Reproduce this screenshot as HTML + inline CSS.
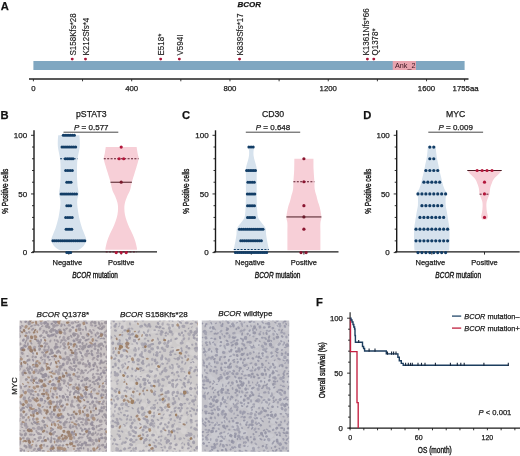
<!DOCTYPE html>
<html><head><meta charset="utf-8"><style>
html,body{margin:0;padding:0;background:#fff;}
svg{display:block;filter:blur(0.35px);}
text{font-family:"Liberation Sans", sans-serif;stroke:#1a1a1a;stroke-width:0.25px;}
</style></head><body>
<svg width="520" height="456" viewBox="0 0 520 456" font-family='"Liberation Sans", sans-serif' fill="#111">
<text x="0.8" y="9.8" font-size="11.2" font-weight="bold">A</text>
<text x="237.5" y="7.3" font-size="8" font-weight="bold" font-style="italic">BCOR</text>
<rect x="33.40" y="61" width="431.20" height="9" fill="#80a7c1"/>
<rect x="392.7" y="61" width="23.3" height="9" fill="#e9a3ae"/>
<text x="395" y="68.3" font-size="7.2" fill="#3a1420" style="stroke:none">Ank_2</text>
<line x1="29" y1="79" x2="468.5" y2="79" stroke="#222" stroke-width="1.35"/>
<line x1="33.40" y1="79" x2="33.40" y2="81.3" stroke="#222" stroke-width="0.9"/>
<line x1="82.54" y1="79" x2="82.54" y2="81.3" stroke="#222" stroke-width="0.9"/>
<line x1="131.68" y1="79" x2="131.68" y2="81.3" stroke="#222" stroke-width="0.9"/>
<line x1="180.82" y1="79" x2="180.82" y2="81.3" stroke="#222" stroke-width="0.9"/>
<line x1="229.96" y1="79" x2="229.96" y2="81.3" stroke="#222" stroke-width="0.9"/>
<line x1="279.10" y1="79" x2="279.10" y2="81.3" stroke="#222" stroke-width="0.9"/>
<line x1="328.24" y1="79" x2="328.24" y2="81.3" stroke="#222" stroke-width="0.9"/>
<line x1="377.38" y1="79" x2="377.38" y2="81.3" stroke="#222" stroke-width="0.9"/>
<line x1="426.52" y1="79" x2="426.52" y2="81.3" stroke="#222" stroke-width="0.9"/>
<line x1="464.60" y1="79" x2="464.60" y2="81.3" stroke="#222" stroke-width="0.9"/>
<text x="33.40" y="90.8" font-size="7.8" text-anchor="middle" fill="#222">0</text>
<text x="131.68" y="90.8" font-size="7.8" text-anchor="middle" fill="#222">400</text>
<text x="229.96" y="90.8" font-size="7.8" text-anchor="middle" fill="#222">800</text>
<text x="328.24" y="90.8" font-size="7.8" text-anchor="middle" fill="#222">1200</text>
<text x="426.52" y="90.8" font-size="7.8" text-anchor="middle" fill="#222">1600</text>
<text x="452.6" y="90.8" font-size="7.8" fill="#222">1755aa</text>
<circle cx="72.22" cy="59.1" r="1.45" fill="#a8173a"/>
<text transform="translate(75.82,55.5) rotate(-90) scale(1,1.12)" font-size="8" fill="#1a1a1a" style="stroke-width:0.12px">S158Kfs*28</text>
<circle cx="85.49" cy="59.1" r="1.45" fill="#a8173a"/>
<text transform="translate(89.09,55.5) rotate(-90) scale(1,1.12)" font-size="8" fill="#1a1a1a" style="stroke-width:0.12px">K212Sfs*4</text>
<circle cx="160.67" cy="59.1" r="1.45" fill="#a8173a"/>
<text transform="translate(164.27,55.5) rotate(-90) scale(1,1.12)" font-size="8" fill="#1a1a1a" style="stroke-width:0.12px">E518*</text>
<circle cx="179.35" cy="59.1" r="1.45" fill="#a8173a"/>
<text transform="translate(182.95,55.5) rotate(-90) scale(1,1.12)" font-size="8" fill="#1a1a1a" style="stroke-width:0.12px">V594I</text>
<circle cx="239.54" cy="59.1" r="1.45" fill="#a8173a"/>
<text transform="translate(243.14,55.5) rotate(-90) scale(1,1.12)" font-size="8" fill="#1a1a1a" style="stroke-width:0.12px">K839Sfs*17</text>
<circle cx="367.40" cy="59.1" r="1.45" fill="#a8173a"/>
<text transform="translate(369.10,55.5) rotate(-90) scale(1,1.12)" font-size="8" fill="#1a1a1a" style="stroke-width:0.12px">K1361Nfs*66</text>
<circle cx="373.80" cy="59.1" r="1.45" fill="#a8173a"/>
<text transform="translate(378.00,55.5) rotate(-90) scale(1,1.12)" font-size="8" fill="#1a1a1a" style="stroke-width:0.12px">Q1378*</text>
<text x="0.50" y="119.1" font-size="11.2" font-weight="bold">B</text>
<line x1="34.00" y1="130.3" x2="34.00" y2="252.00" stroke="#1a1a1a" stroke-width="1.4"/>
<line x1="31.00" y1="252.60" x2="34.00" y2="252.60" stroke="#1a1a1a" stroke-width="0.9"/>
<line x1="32.00" y1="240.87" x2="34.00" y2="240.87" stroke="#1a1a1a" stroke-width="0.9"/>
<line x1="32.00" y1="229.14" x2="34.00" y2="229.14" stroke="#1a1a1a" stroke-width="0.9"/>
<line x1="32.00" y1="217.41" x2="34.00" y2="217.41" stroke="#1a1a1a" stroke-width="0.9"/>
<line x1="32.00" y1="205.68" x2="34.00" y2="205.68" stroke="#1a1a1a" stroke-width="0.9"/>
<line x1="31.00" y1="193.95" x2="34.00" y2="193.95" stroke="#1a1a1a" stroke-width="0.9"/>
<line x1="32.00" y1="182.22" x2="34.00" y2="182.22" stroke="#1a1a1a" stroke-width="0.9"/>
<line x1="32.00" y1="170.49" x2="34.00" y2="170.49" stroke="#1a1a1a" stroke-width="0.9"/>
<line x1="32.00" y1="158.76" x2="34.00" y2="158.76" stroke="#1a1a1a" stroke-width="0.9"/>
<line x1="32.00" y1="147.03" x2="34.00" y2="147.03" stroke="#1a1a1a" stroke-width="0.9"/>
<line x1="31.00" y1="135.30" x2="34.00" y2="135.30" stroke="#1a1a1a" stroke-width="0.9"/>
<text x="27.10" y="255.30" font-size="8" text-anchor="end" fill="#1a1a1a">0</text>
<text x="27.10" y="196.65" font-size="8" text-anchor="end" fill="#1a1a1a">50</text>
<text x="27.10" y="138.00" font-size="8" text-anchor="end" fill="#1a1a1a">100</text>
<text transform="translate(7.90,191.2) rotate(-90)" font-size="9" style="stroke-width:0.4px" text-anchor="middle" textLength="45" lengthAdjust="spacingAndGlyphs" fill="#1a1a1a">% Positive cells</text>
<line x1="32.20" y1="251.90" x2="157.00" y2="251.90" stroke="#1a1a1a" stroke-width="1.4"/>
<line x1="68.80" y1="251.90" x2="68.80" y2="254.60" stroke="#1a1a1a" stroke-width="0.9"/>
<line x1="121.20" y1="251.90" x2="121.20" y2="254.60" stroke="#1a1a1a" stroke-width="0.9"/>
<text x="67.30" y="264.6" font-size="7.5" text-anchor="middle" fill="#222">Negative</text>
<text x="121.20" y="264.6" font-size="7.5" text-anchor="middle" fill="#222">Positive</text>
<text x="72.20" y="277.8" font-size="8.9" style="stroke-width:0.4px" textLength="45.7" lengthAdjust="spacingAndGlyphs" fill="#1a1a1a"><tspan font-style="italic">BCOR</tspan> mutation</text>
<text x="91.30" y="117.4" font-size="8.7" text-anchor="middle" fill="#1a1a1a">pSTAT3</text>
<text x="91.30" y="130.1" font-size="8" text-anchor="middle" fill="#1a1a1a"><tspan font-style="italic">P</tspan> = 0.577</text>
<line x1="63.50" y1="132.2" x2="118.30" y2="132.2" stroke="#333" stroke-width="0.9"/>
<path d="M58.20,135.30 L79.40,135.30 C79.47,136.28 79.75,139.21 79.80,141.16 C79.85,143.12 79.90,145.07 79.70,147.03 C79.50,148.98 78.97,150.94 78.60,152.89 C78.23,154.85 77.75,156.80 77.50,158.76 C77.25,160.72 77.18,162.67 77.10,164.62 C77.02,166.58 77.02,168.54 77.00,170.49 C76.98,172.44 76.95,174.40 77.00,176.35 C77.05,178.31 77.18,180.46 77.30,182.22 C77.42,183.98 77.48,185.00 77.70,186.91 C77.92,188.83 78.67,191.60 78.60,193.72 C78.53,195.83 77.52,197.72 77.30,199.58 C77.08,201.44 77.13,202.96 77.25,204.86 C77.37,206.76 77.70,208.91 78.00,210.96 C78.30,213.01 78.62,215.12 79.05,217.18 C79.48,219.23 80.07,221.36 80.60,223.27 C81.13,225.19 81.62,226.89 82.25,228.67 C82.88,230.45 83.72,232.09 84.40,233.95 C85.07,235.81 86.30,238.00 86.30,239.81 C86.30,241.63 85.21,243.51 84.40,244.86 C83.59,246.21 82.63,247.00 81.45,247.91 C80.27,248.81 77.99,249.90 77.30,250.30 L60.30,250.30 C59.61,249.90 57.33,248.81 56.15,247.91 C54.97,247.00 54.01,246.21 53.20,244.86 C52.39,243.51 51.30,241.63 51.30,239.81 C51.30,238.00 52.52,235.81 53.20,233.95 C53.87,232.09 54.72,230.45 55.35,228.67 C55.98,226.89 56.47,225.19 57.00,223.27 C57.53,221.36 58.12,219.23 58.55,217.18 C58.98,215.12 59.30,213.01 59.60,210.96 C59.90,208.91 60.23,206.76 60.35,204.86 C60.47,202.96 60.52,201.44 60.30,199.58 C60.07,197.72 59.07,195.83 59.00,193.72 C58.93,191.60 59.68,188.83 59.90,186.91 C60.12,185.00 60.18,183.98 60.30,182.22 C60.42,180.46 60.55,178.31 60.60,176.35 C60.65,174.40 60.62,172.44 60.60,170.49 C60.58,168.54 60.58,166.58 60.50,164.62 C60.42,162.67 60.35,160.72 60.10,158.76 C59.85,156.80 59.37,154.85 59.00,152.89 C58.63,150.94 58.10,148.98 57.90,147.03 C57.70,145.07 57.75,143.12 57.80,141.16 C57.85,139.21 58.13,136.28 58.20,135.30 Z" fill="#d6e2ed"/>
<path d="M105.75,147.03 L136.65,147.03 C136.81,148.07 137.28,151.29 137.60,153.25 C137.92,155.20 138.75,156.59 138.60,158.76 C138.45,160.93 137.35,163.92 136.70,166.27 C136.05,168.61 135.50,170.18 134.70,172.84 C133.90,175.49 132.67,179.37 131.90,182.22 C131.13,185.07 130.88,187.62 130.10,189.96 C129.32,192.31 128.06,194.15 127.20,196.30 C126.34,198.45 125.42,200.89 124.95,202.86 C124.48,204.84 124.35,206.17 124.35,208.14 C124.35,210.12 124.54,212.52 124.95,214.71 C125.36,216.90 126.06,219.09 126.80,221.28 C127.54,223.47 128.42,225.64 129.40,227.85 C130.38,230.06 131.73,232.35 132.70,234.54 C133.67,236.73 134.52,238.82 135.20,240.99 C135.88,243.16 136.50,246.09 136.80,247.56 C137.10,249.02 136.97,249.43 137.00,249.80 L105.40,249.80 C105.43,249.43 105.30,249.02 105.60,247.56 C105.90,246.09 106.52,243.16 107.20,240.99 C107.88,238.82 108.73,236.73 109.70,234.54 C110.67,232.35 112.02,230.06 113.00,227.85 C113.98,225.64 114.86,223.47 115.60,221.28 C116.34,219.09 117.04,216.90 117.45,214.71 C117.86,212.52 118.05,210.12 118.05,208.14 C118.05,206.17 117.92,204.84 117.45,202.86 C116.98,200.89 116.06,198.45 115.20,196.30 C114.34,194.15 113.08,192.31 112.30,189.96 C111.52,187.62 111.27,185.07 110.50,182.22 C109.73,179.37 108.50,175.49 107.70,172.84 C106.90,170.18 106.35,168.61 105.70,166.27 C105.05,163.92 103.95,160.93 103.80,158.76 C103.65,156.59 104.48,155.20 104.80,153.25 C105.13,151.29 105.59,148.07 105.75,147.03 Z" fill="#f7cfd7"/>
<line x1="60.10" y1="158.76" x2="77.50" y2="158.76" stroke="#123d66" stroke-width="1.0" stroke-dasharray="2,1.4"/>
<line x1="103.80" y1="158.76" x2="138.60" y2="158.76" stroke="#5a1a2a" stroke-width="1.0" stroke-dasharray="2,1.4"/>
<line x1="110.50" y1="182.22" x2="131.90" y2="182.22" stroke="#4a1a22" stroke-width="1.0"/>
<line x1="105.70" y1="251.90" x2="136.70" y2="251.90" stroke="#5a1a2a" stroke-width="1.0" stroke-dasharray="2,1.4"/>
<circle cx="63.30" cy="135.30" r="1.5" fill="#123d66"/>
<circle cx="65.15" cy="135.30" r="1.5" fill="#123d66"/>
<circle cx="67.00" cy="135.30" r="1.5" fill="#123d66"/>
<circle cx="68.85" cy="135.30" r="1.5" fill="#123d66"/>
<circle cx="70.70" cy="135.30" r="1.5" fill="#123d66"/>
<circle cx="72.55" cy="135.30" r="1.5" fill="#123d66"/>
<circle cx="74.40" cy="135.30" r="1.5" fill="#123d66"/>
<circle cx="62.00" cy="147.03" r="1.5" fill="#123d66"/>
<circle cx="63.96" cy="147.03" r="1.5" fill="#123d66"/>
<circle cx="65.91" cy="147.03" r="1.5" fill="#123d66"/>
<circle cx="67.87" cy="147.03" r="1.5" fill="#123d66"/>
<circle cx="69.83" cy="147.03" r="1.5" fill="#123d66"/>
<circle cx="71.79" cy="147.03" r="1.5" fill="#123d66"/>
<circle cx="73.74" cy="147.03" r="1.5" fill="#123d66"/>
<circle cx="75.70" cy="147.03" r="1.5" fill="#123d66"/>
<circle cx="65.30" cy="158.76" r="1.5" fill="#123d66"/>
<circle cx="67.22" cy="158.76" r="1.5" fill="#123d66"/>
<circle cx="69.15" cy="158.76" r="1.5" fill="#123d66"/>
<circle cx="71.08" cy="158.76" r="1.5" fill="#123d66"/>
<circle cx="73.00" cy="158.76" r="1.5" fill="#123d66"/>
<circle cx="65.70" cy="170.49" r="1.5" fill="#123d66"/>
<circle cx="67.90" cy="170.49" r="1.5" fill="#123d66"/>
<circle cx="70.10" cy="170.49" r="1.5" fill="#123d66"/>
<circle cx="72.30" cy="170.49" r="1.5" fill="#123d66"/>
<circle cx="66.80" cy="182.22" r="1.5" fill="#123d66"/>
<circle cx="68.90" cy="182.22" r="1.5" fill="#123d66"/>
<circle cx="71.00" cy="182.22" r="1.5" fill="#123d66"/>
<circle cx="61.10" cy="193.95" r="1.5" fill="#123d66"/>
<circle cx="63.02" cy="193.95" r="1.5" fill="#123d66"/>
<circle cx="64.95" cy="193.95" r="1.5" fill="#123d66"/>
<circle cx="66.88" cy="193.95" r="1.5" fill="#123d66"/>
<circle cx="68.80" cy="193.95" r="1.5" fill="#123d66"/>
<circle cx="70.72" cy="193.95" r="1.5" fill="#123d66"/>
<circle cx="72.65" cy="193.95" r="1.5" fill="#123d66"/>
<circle cx="74.58" cy="193.95" r="1.5" fill="#123d66"/>
<circle cx="76.50" cy="193.95" r="1.5" fill="#123d66"/>
<circle cx="66.80" cy="205.68" r="1.5" fill="#123d66"/>
<circle cx="68.75" cy="205.68" r="1.5" fill="#123d66"/>
<circle cx="70.70" cy="205.68" r="1.5" fill="#123d66"/>
<circle cx="65.70" cy="217.41" r="1.5" fill="#123d66"/>
<circle cx="67.87" cy="217.41" r="1.5" fill="#123d66"/>
<circle cx="70.03" cy="217.41" r="1.5" fill="#123d66"/>
<circle cx="72.20" cy="217.41" r="1.5" fill="#123d66"/>
<circle cx="66.10" cy="229.14" r="1.5" fill="#123d66"/>
<circle cx="68.00" cy="229.14" r="1.5" fill="#123d66"/>
<circle cx="69.90" cy="229.14" r="1.5" fill="#123d66"/>
<circle cx="71.80" cy="229.14" r="1.5" fill="#123d66"/>
<circle cx="52.90" cy="240.87" r="1.5" fill="#123d66"/>
<circle cx="54.78" cy="240.87" r="1.5" fill="#123d66"/>
<circle cx="56.65" cy="240.87" r="1.5" fill="#123d66"/>
<circle cx="58.53" cy="240.87" r="1.5" fill="#123d66"/>
<circle cx="60.41" cy="240.87" r="1.5" fill="#123d66"/>
<circle cx="62.28" cy="240.87" r="1.5" fill="#123d66"/>
<circle cx="64.16" cy="240.87" r="1.5" fill="#123d66"/>
<circle cx="66.04" cy="240.87" r="1.5" fill="#123d66"/>
<circle cx="67.91" cy="240.87" r="1.5" fill="#123d66"/>
<circle cx="69.79" cy="240.87" r="1.5" fill="#123d66"/>
<circle cx="71.66" cy="240.87" r="1.5" fill="#123d66"/>
<circle cx="73.54" cy="240.87" r="1.5" fill="#123d66"/>
<circle cx="75.42" cy="240.87" r="1.5" fill="#123d66"/>
<circle cx="77.29" cy="240.87" r="1.5" fill="#123d66"/>
<circle cx="79.17" cy="240.87" r="1.5" fill="#123d66"/>
<circle cx="81.05" cy="240.87" r="1.5" fill="#123d66"/>
<circle cx="82.92" cy="240.87" r="1.5" fill="#123d66"/>
<circle cx="84.80" cy="240.87" r="1.5" fill="#123d66"/>
<circle cx="66.80" cy="252.60" r="1.5" fill="#123d66"/>
<circle cx="68.75" cy="252.60" r="1.5" fill="#123d66"/>
<circle cx="70.70" cy="252.60" r="1.5" fill="#123d66"/>
<circle cx="121.20" cy="147.03" r="1.6" fill="#b3163a"/>
<circle cx="119.10" cy="158.76" r="1.6" fill="#b3163a"/>
<circle cx="123.70" cy="158.76" r="1.6" fill="#b3163a"/>
<circle cx="121.20" cy="182.22" r="1.6" fill="#7a1a2c"/>
<circle cx="116.20" cy="252.60" r="1.6" fill="#b3163a"/>
<circle cx="121.20" cy="252.60" r="1.6" fill="#b3163a"/>
<circle cx="126.20" cy="252.60" r="1.6" fill="#b3163a"/>
<text x="182.00" y="119.1" font-size="11.2" font-weight="bold">C</text>
<line x1="215.50" y1="130.3" x2="215.50" y2="252.00" stroke="#1a1a1a" stroke-width="1.4"/>
<line x1="212.50" y1="252.60" x2="215.50" y2="252.60" stroke="#1a1a1a" stroke-width="0.9"/>
<line x1="213.50" y1="240.87" x2="215.50" y2="240.87" stroke="#1a1a1a" stroke-width="0.9"/>
<line x1="213.50" y1="229.14" x2="215.50" y2="229.14" stroke="#1a1a1a" stroke-width="0.9"/>
<line x1="213.50" y1="217.41" x2="215.50" y2="217.41" stroke="#1a1a1a" stroke-width="0.9"/>
<line x1="213.50" y1="205.68" x2="215.50" y2="205.68" stroke="#1a1a1a" stroke-width="0.9"/>
<line x1="212.50" y1="193.95" x2="215.50" y2="193.95" stroke="#1a1a1a" stroke-width="0.9"/>
<line x1="213.50" y1="182.22" x2="215.50" y2="182.22" stroke="#1a1a1a" stroke-width="0.9"/>
<line x1="213.50" y1="170.49" x2="215.50" y2="170.49" stroke="#1a1a1a" stroke-width="0.9"/>
<line x1="213.50" y1="158.76" x2="215.50" y2="158.76" stroke="#1a1a1a" stroke-width="0.9"/>
<line x1="213.50" y1="147.03" x2="215.50" y2="147.03" stroke="#1a1a1a" stroke-width="0.9"/>
<line x1="212.50" y1="135.30" x2="215.50" y2="135.30" stroke="#1a1a1a" stroke-width="0.9"/>
<text x="208.60" y="255.30" font-size="8" text-anchor="end" fill="#1a1a1a">0</text>
<text x="208.60" y="196.65" font-size="8" text-anchor="end" fill="#1a1a1a">50</text>
<text x="208.60" y="138.00" font-size="8" text-anchor="end" fill="#1a1a1a">100</text>
<text transform="translate(189.40,191.2) rotate(-90)" font-size="9" style="stroke-width:0.4px" text-anchor="middle" textLength="45" lengthAdjust="spacingAndGlyphs" fill="#1a1a1a">% Positive cells</text>
<line x1="213.70" y1="251.90" x2="338.50" y2="251.90" stroke="#1a1a1a" stroke-width="1.4"/>
<line x1="251.30" y1="251.90" x2="251.30" y2="254.60" stroke="#1a1a1a" stroke-width="0.9"/>
<line x1="303.90" y1="251.90" x2="303.90" y2="254.60" stroke="#1a1a1a" stroke-width="0.9"/>
<text x="249.80" y="264.6" font-size="7.5" text-anchor="middle" fill="#222">Negative</text>
<text x="303.90" y="264.6" font-size="7.5" text-anchor="middle" fill="#222">Positive</text>
<text x="254.80" y="277.8" font-size="8.9" style="stroke-width:0.4px" textLength="45.7" lengthAdjust="spacingAndGlyphs" fill="#1a1a1a"><tspan font-style="italic">BCOR</tspan> mutation</text>
<text x="273.00" y="117.4" font-size="8.7" text-anchor="middle" fill="#1a1a1a">CD30</text>
<text x="273.00" y="130.1" font-size="8" text-anchor="middle" fill="#1a1a1a"><tspan font-style="italic">P</tspan> = 0.648</text>
<line x1="245.80" y1="132.2" x2="300.20" y2="132.2" stroke="#333" stroke-width="0.9"/>
<path d="M248.00,146.56 L254.60,146.56 C254.43,147.23 253.77,149.00 253.60,150.55 C253.43,152.09 253.40,154.07 253.60,155.83 C253.80,157.59 254.35,159.37 254.80,161.11 C255.25,162.85 255.97,164.70 256.30,166.27 C256.63,167.83 256.73,168.95 256.80,170.49 C256.87,172.03 256.72,172.60 256.70,175.53 C256.68,178.47 256.70,184.19 256.70,188.08 C256.70,191.98 256.62,195.08 256.70,198.88 C256.78,202.67 256.98,207.81 257.20,210.84 C257.42,213.87 257.47,215.32 258.00,217.06 C258.53,218.80 259.43,219.85 260.40,221.28 C261.37,222.71 262.90,224.33 263.80,225.62 C264.70,226.91 265.42,227.54 265.80,229.02 C266.18,230.51 265.88,232.58 266.10,234.54 C266.32,236.49 266.73,238.72 267.10,240.75 C267.47,242.79 268.02,245.39 268.30,246.73 C268.58,248.08 268.72,248.20 268.80,248.85 C268.88,249.49 268.80,250.31 268.80,250.60 L233.80,250.60 C233.80,250.31 233.72,249.49 233.80,248.85 C233.88,248.20 234.02,248.08 234.30,246.73 C234.58,245.39 235.13,242.79 235.50,240.75 C235.87,238.72 236.28,236.49 236.50,234.54 C236.72,232.58 236.42,230.51 236.80,229.02 C237.18,227.54 237.90,226.91 238.80,225.62 C239.70,224.33 241.23,222.71 242.20,221.28 C243.17,219.85 244.07,218.80 244.60,217.06 C245.13,215.32 245.18,213.87 245.40,210.84 C245.62,207.81 245.82,202.67 245.90,198.88 C245.98,195.08 245.90,191.98 245.90,188.08 C245.90,184.19 245.92,178.47 245.90,175.53 C245.88,172.60 245.73,172.03 245.80,170.49 C245.87,168.95 245.97,167.83 246.30,166.27 C246.63,164.70 247.35,162.85 247.80,161.11 C248.25,159.37 248.80,157.59 249.00,155.83 C249.20,154.07 249.17,152.09 249.00,150.55 C248.83,149.00 248.17,147.23 248.00,146.56 Z" fill="#d6e2ed"/>
<path d="M294.35,158.64 L313.45,158.64 C313.47,160.48 313.44,165.82 313.60,169.67 C313.76,173.52 314.21,178.45 314.40,181.75 C314.59,185.05 314.40,187.13 314.75,189.49 C315.10,191.86 315.99,193.97 316.50,195.94 C317.01,197.92 317.25,199.40 317.80,201.34 C318.35,203.28 319.20,204.96 319.80,207.56 C320.40,210.16 321.30,214.38 321.40,216.94 C321.50,219.50 320.57,220.44 320.40,222.92 C320.23,225.41 320.40,228.87 320.40,231.84 C320.40,234.81 320.40,237.68 320.40,240.75 C320.40,243.83 320.40,248.71 320.40,250.30 L287.40,250.30 C287.40,248.71 287.40,243.83 287.40,240.75 C287.40,237.68 287.40,234.81 287.40,231.84 C287.40,228.87 287.57,225.41 287.40,222.92 C287.23,220.44 286.30,219.50 286.40,216.94 C286.50,214.38 287.40,210.16 288.00,207.56 C288.60,204.96 289.45,203.28 290.00,201.34 C290.55,199.40 290.79,197.92 291.30,195.94 C291.81,193.97 292.70,191.86 293.05,189.49 C293.40,187.13 293.21,185.05 293.40,181.75 C293.59,178.45 294.04,173.52 294.20,169.67 C294.36,165.82 294.32,160.48 294.35,158.64 Z" fill="#f7cfd7"/>
<line x1="233.80" y1="249.55" x2="268.80" y2="249.55" stroke="#123d66" stroke-width="1.1" stroke-dasharray="2,1.4"/>
<line x1="293.40" y1="181.75" x2="314.40" y2="181.75" stroke="#5a1a2a" stroke-width="1.0" stroke-dasharray="2,1.4"/>
<line x1="286.40" y1="216.94" x2="321.40" y2="216.94" stroke="#4a1a22" stroke-width="1.0"/>
<circle cx="248.90" cy="147.03" r="1.5" fill="#123d66"/>
<circle cx="251.05" cy="147.03" r="1.5" fill="#123d66"/>
<circle cx="253.20" cy="147.03" r="1.5" fill="#123d66"/>
<circle cx="246.60" cy="170.49" r="1.5" fill="#123d66"/>
<circle cx="248.38" cy="170.49" r="1.5" fill="#123d66"/>
<circle cx="250.16" cy="170.49" r="1.5" fill="#123d66"/>
<circle cx="251.94" cy="170.49" r="1.5" fill="#123d66"/>
<circle cx="253.72" cy="170.49" r="1.5" fill="#123d66"/>
<circle cx="255.50" cy="170.49" r="1.5" fill="#123d66"/>
<circle cx="247.90" cy="182.22" r="1.5" fill="#123d66"/>
<circle cx="250.03" cy="182.22" r="1.5" fill="#123d66"/>
<circle cx="252.17" cy="182.22" r="1.5" fill="#123d66"/>
<circle cx="254.30" cy="182.22" r="1.5" fill="#123d66"/>
<circle cx="247.30" cy="193.95" r="1.5" fill="#123d66"/>
<circle cx="249.18" cy="193.95" r="1.5" fill="#123d66"/>
<circle cx="251.05" cy="193.95" r="1.5" fill="#123d66"/>
<circle cx="252.93" cy="193.95" r="1.5" fill="#123d66"/>
<circle cx="254.80" cy="193.95" r="1.5" fill="#123d66"/>
<circle cx="247.50" cy="205.68" r="1.5" fill="#123d66"/>
<circle cx="249.25" cy="205.68" r="1.5" fill="#123d66"/>
<circle cx="251.00" cy="205.68" r="1.5" fill="#123d66"/>
<circle cx="252.75" cy="205.68" r="1.5" fill="#123d66"/>
<circle cx="254.50" cy="205.68" r="1.5" fill="#123d66"/>
<circle cx="247.50" cy="217.41" r="1.5" fill="#123d66"/>
<circle cx="249.25" cy="217.41" r="1.5" fill="#123d66"/>
<circle cx="251.00" cy="217.41" r="1.5" fill="#123d66"/>
<circle cx="252.75" cy="217.41" r="1.5" fill="#123d66"/>
<circle cx="254.50" cy="217.41" r="1.5" fill="#123d66"/>
<circle cx="239.40" cy="229.14" r="1.5" fill="#123d66"/>
<circle cx="241.37" cy="229.14" r="1.5" fill="#123d66"/>
<circle cx="243.33" cy="229.14" r="1.5" fill="#123d66"/>
<circle cx="245.30" cy="229.14" r="1.5" fill="#123d66"/>
<circle cx="247.27" cy="229.14" r="1.5" fill="#123d66"/>
<circle cx="249.23" cy="229.14" r="1.5" fill="#123d66"/>
<circle cx="251.20" cy="229.14" r="1.5" fill="#123d66"/>
<circle cx="253.17" cy="229.14" r="1.5" fill="#123d66"/>
<circle cx="255.13" cy="229.14" r="1.5" fill="#123d66"/>
<circle cx="257.10" cy="229.14" r="1.5" fill="#123d66"/>
<circle cx="259.07" cy="229.14" r="1.5" fill="#123d66"/>
<circle cx="261.03" cy="229.14" r="1.5" fill="#123d66"/>
<circle cx="263.00" cy="229.14" r="1.5" fill="#123d66"/>
<circle cx="240.70" cy="240.87" r="1.5" fill="#123d66"/>
<circle cx="242.58" cy="240.87" r="1.5" fill="#123d66"/>
<circle cx="244.46" cy="240.87" r="1.5" fill="#123d66"/>
<circle cx="246.35" cy="240.87" r="1.5" fill="#123d66"/>
<circle cx="248.23" cy="240.87" r="1.5" fill="#123d66"/>
<circle cx="250.11" cy="240.87" r="1.5" fill="#123d66"/>
<circle cx="251.99" cy="240.87" r="1.5" fill="#123d66"/>
<circle cx="253.87" cy="240.87" r="1.5" fill="#123d66"/>
<circle cx="255.75" cy="240.87" r="1.5" fill="#123d66"/>
<circle cx="257.64" cy="240.87" r="1.5" fill="#123d66"/>
<circle cx="259.52" cy="240.87" r="1.5" fill="#123d66"/>
<circle cx="261.40" cy="240.87" r="1.5" fill="#123d66"/>
<circle cx="235.40" cy="252.60" r="1.5" fill="#123d66"/>
<circle cx="237.36" cy="252.60" r="1.5" fill="#123d66"/>
<circle cx="239.31" cy="252.60" r="1.5" fill="#123d66"/>
<circle cx="241.27" cy="252.60" r="1.5" fill="#123d66"/>
<circle cx="243.22" cy="252.60" r="1.5" fill="#123d66"/>
<circle cx="245.18" cy="252.60" r="1.5" fill="#123d66"/>
<circle cx="247.14" cy="252.60" r="1.5" fill="#123d66"/>
<circle cx="249.09" cy="252.60" r="1.5" fill="#123d66"/>
<circle cx="251.05" cy="252.60" r="1.5" fill="#123d66"/>
<circle cx="253.01" cy="252.60" r="1.5" fill="#123d66"/>
<circle cx="254.96" cy="252.60" r="1.5" fill="#123d66"/>
<circle cx="256.92" cy="252.60" r="1.5" fill="#123d66"/>
<circle cx="258.88" cy="252.60" r="1.5" fill="#123d66"/>
<circle cx="260.83" cy="252.60" r="1.5" fill="#123d66"/>
<circle cx="262.79" cy="252.60" r="1.5" fill="#123d66"/>
<circle cx="264.74" cy="252.60" r="1.5" fill="#123d66"/>
<circle cx="266.70" cy="252.60" r="1.5" fill="#123d66"/>
<circle cx="303.90" cy="158.76" r="1.6" fill="#8a1530"/>
<circle cx="303.90" cy="181.75" r="1.6" fill="#8a1530"/>
<circle cx="303.90" cy="205.68" r="1.6" fill="#8a1530"/>
<circle cx="303.90" cy="216.94" r="1.6" fill="#6a1a2a"/>
<circle cx="303.90" cy="229.14" r="1.6" fill="#8a1530"/>
<circle cx="301.00" cy="252.60" r="1.6" fill="#8a1530"/>
<circle cx="306.10" cy="252.60" r="1.6" fill="#8a1530"/>
<text x="363.20" y="119.1" font-size="11.2" font-weight="bold">D</text>
<line x1="396.70" y1="130.3" x2="396.70" y2="252.00" stroke="#1a1a1a" stroke-width="1.4"/>
<line x1="393.70" y1="252.60" x2="396.70" y2="252.60" stroke="#1a1a1a" stroke-width="0.9"/>
<line x1="394.70" y1="240.87" x2="396.70" y2="240.87" stroke="#1a1a1a" stroke-width="0.9"/>
<line x1="394.70" y1="229.14" x2="396.70" y2="229.14" stroke="#1a1a1a" stroke-width="0.9"/>
<line x1="394.70" y1="217.41" x2="396.70" y2="217.41" stroke="#1a1a1a" stroke-width="0.9"/>
<line x1="394.70" y1="205.68" x2="396.70" y2="205.68" stroke="#1a1a1a" stroke-width="0.9"/>
<line x1="393.70" y1="193.95" x2="396.70" y2="193.95" stroke="#1a1a1a" stroke-width="0.9"/>
<line x1="394.70" y1="182.22" x2="396.70" y2="182.22" stroke="#1a1a1a" stroke-width="0.9"/>
<line x1="394.70" y1="170.49" x2="396.70" y2="170.49" stroke="#1a1a1a" stroke-width="0.9"/>
<line x1="394.70" y1="158.76" x2="396.70" y2="158.76" stroke="#1a1a1a" stroke-width="0.9"/>
<line x1="394.70" y1="147.03" x2="396.70" y2="147.03" stroke="#1a1a1a" stroke-width="0.9"/>
<line x1="393.70" y1="135.30" x2="396.70" y2="135.30" stroke="#1a1a1a" stroke-width="0.9"/>
<text x="389.80" y="255.30" font-size="8" text-anchor="end" fill="#1a1a1a">0</text>
<text x="389.80" y="196.65" font-size="8" text-anchor="end" fill="#1a1a1a">50</text>
<text x="389.80" y="138.00" font-size="8" text-anchor="end" fill="#1a1a1a">100</text>
<text transform="translate(370.60,191.2) rotate(-90)" font-size="9" style="stroke-width:0.4px" text-anchor="middle" textLength="45" lengthAdjust="spacingAndGlyphs" fill="#1a1a1a">% Positive cells</text>
<line x1="394.90" y1="251.90" x2="519.70" y2="251.90" stroke="#1a1a1a" stroke-width="1.4"/>
<line x1="431.80" y1="251.90" x2="431.80" y2="254.60" stroke="#1a1a1a" stroke-width="0.9"/>
<line x1="484.50" y1="251.90" x2="484.50" y2="254.60" stroke="#1a1a1a" stroke-width="0.9"/>
<text x="430.30" y="264.6" font-size="7.5" text-anchor="middle" fill="#222">Negative</text>
<text x="484.50" y="264.6" font-size="7.5" text-anchor="middle" fill="#222">Positive</text>
<text x="435.35" y="277.8" font-size="8.9" style="stroke-width:0.4px" textLength="45.7" lengthAdjust="spacingAndGlyphs" fill="#1a1a1a"><tspan font-style="italic">BCOR</tspan> mutation</text>
<text x="455.70" y="117.4" font-size="8.7" text-anchor="middle" fill="#1a1a1a">MYC</text>
<text x="455.70" y="130.1" font-size="8" text-anchor="middle" fill="#1a1a1a"><tspan font-style="italic">P</tspan> = 0.009</text>
<line x1="428.30" y1="132.2" x2="483.10" y2="132.2" stroke="#333" stroke-width="0.9"/>
<path d="M427.85,146.56 L435.75,146.56 C435.84,147.68 436.07,151.16 436.30,153.25 C436.53,155.34 436.75,157.16 437.10,159.11 C437.45,161.07 438.00,163.04 438.40,164.98 C438.80,166.91 439.07,168.75 439.50,170.72 C439.93,172.70 440.53,174.87 441.00,176.82 C441.47,178.78 441.75,180.48 442.30,182.45 C442.85,184.43 443.62,187.05 444.30,188.67 C444.98,190.29 445.95,191.31 446.40,192.19 C446.85,193.07 447.03,193.32 447.00,193.95 C446.97,194.58 446.42,195.34 446.20,195.94 C445.98,196.55 445.78,196.00 445.70,197.59 C445.62,199.17 445.52,203.14 445.70,205.45 C445.88,207.75 446.45,209.43 446.80,211.43 C447.15,213.42 447.48,215.44 447.80,217.41 C448.12,219.38 448.42,221.30 448.70,223.27 C448.98,225.25 449.37,226.34 449.50,229.26 C449.63,232.17 449.53,237.64 449.50,240.75 C449.47,243.86 449.38,246.27 449.30,247.91 C449.22,249.55 449.05,250.15 449.00,250.60 L414.60,250.60 C414.55,250.15 414.38,249.55 414.30,247.91 C414.22,246.27 414.13,243.86 414.10,240.75 C414.07,237.64 413.97,232.17 414.10,229.26 C414.23,226.34 414.62,225.25 414.90,223.27 C415.18,221.30 415.48,219.38 415.80,217.41 C416.12,215.44 416.45,213.42 416.80,211.43 C417.15,209.43 417.72,207.75 417.90,205.45 C418.08,203.14 417.98,199.17 417.90,197.59 C417.82,196.00 417.62,196.55 417.40,195.94 C417.18,195.34 416.63,194.58 416.60,193.95 C416.57,193.32 416.75,193.07 417.20,192.19 C417.65,191.31 418.62,190.29 419.30,188.67 C419.98,187.05 420.75,184.43 421.30,182.45 C421.85,180.48 422.13,178.78 422.60,176.82 C423.07,174.87 423.67,172.70 424.10,170.72 C424.53,168.75 424.80,166.91 425.20,164.98 C425.60,163.04 426.15,161.07 426.50,159.11 C426.85,157.16 427.07,155.34 427.30,153.25 C427.53,151.16 427.76,147.68 427.85,146.56 Z" fill="#d6e2ed"/>
<path d="M467.30,170.49 L501.70,170.49 C501.08,171.21 499.28,173.44 498.00,174.83 C496.72,176.22 494.98,177.55 494.00,178.82 C493.02,180.09 492.73,180.93 492.10,182.45 C491.47,183.98 490.65,186.01 490.20,187.97 C489.75,189.92 489.97,191.98 489.40,194.18 C488.83,196.39 487.30,199.19 486.80,201.22 C486.30,203.26 486.38,204.64 486.40,206.38 C486.42,208.12 486.67,210.12 486.90,211.66 C487.13,213.21 487.68,214.59 487.80,215.65 C487.92,216.71 487.78,217.37 487.60,218.00 C487.42,218.62 486.85,219.17 486.70,219.40 L482.30,219.40 C482.15,219.17 481.58,218.62 481.40,218.00 C481.22,217.37 481.08,216.71 481.20,215.65 C481.32,214.59 481.87,213.21 482.10,211.66 C482.33,210.12 482.58,208.12 482.60,206.38 C482.62,204.64 482.70,203.26 482.20,201.22 C481.70,199.19 480.17,196.39 479.60,194.18 C479.03,191.98 479.25,189.92 478.80,187.97 C478.35,186.01 477.53,183.98 476.90,182.45 C476.27,180.93 475.98,180.09 475.00,178.82 C474.02,177.55 472.28,176.22 471.00,174.83 C469.72,173.44 467.92,171.21 467.30,170.49 Z" fill="#f7cfd7"/>
<line x1="479.60" y1="194.18" x2="489.40" y2="194.18" stroke="#5a1a2a" stroke-width="1.0" stroke-dasharray="2,1.4"/>
<line x1="467.30" y1="170.49" x2="501.70" y2="170.49" stroke="#4a1a22" stroke-width="1.1"/>
<circle cx="429.82" cy="147.03" r="1.6" fill="#123d66"/>
<circle cx="433.78" cy="147.03" r="1.6" fill="#123d66"/>
<circle cx="429.82" cy="158.76" r="1.6" fill="#123d66"/>
<circle cx="433.78" cy="158.76" r="1.6" fill="#123d66"/>
<circle cx="425.88" cy="170.49" r="1.6" fill="#123d66"/>
<circle cx="429.82" cy="170.49" r="1.6" fill="#123d66"/>
<circle cx="433.78" cy="170.49" r="1.6" fill="#123d66"/>
<circle cx="437.73" cy="170.49" r="1.6" fill="#123d66"/>
<circle cx="423.90" cy="182.22" r="1.6" fill="#123d66"/>
<circle cx="427.85" cy="182.22" r="1.6" fill="#123d66"/>
<circle cx="431.80" cy="182.22" r="1.6" fill="#123d66"/>
<circle cx="435.75" cy="182.22" r="1.6" fill="#123d66"/>
<circle cx="439.70" cy="182.22" r="1.6" fill="#123d66"/>
<circle cx="417.98" cy="193.95" r="1.6" fill="#123d66"/>
<circle cx="421.93" cy="193.95" r="1.6" fill="#123d66"/>
<circle cx="425.88" cy="193.95" r="1.6" fill="#123d66"/>
<circle cx="429.82" cy="193.95" r="1.6" fill="#123d66"/>
<circle cx="433.78" cy="193.95" r="1.6" fill="#123d66"/>
<circle cx="437.73" cy="193.95" r="1.6" fill="#123d66"/>
<circle cx="441.68" cy="193.95" r="1.6" fill="#123d66"/>
<circle cx="445.62" cy="193.95" r="1.6" fill="#123d66"/>
<circle cx="421.93" cy="205.68" r="1.6" fill="#123d66"/>
<circle cx="425.88" cy="205.68" r="1.6" fill="#123d66"/>
<circle cx="429.82" cy="205.68" r="1.6" fill="#123d66"/>
<circle cx="433.78" cy="205.68" r="1.6" fill="#123d66"/>
<circle cx="437.73" cy="205.68" r="1.6" fill="#123d66"/>
<circle cx="441.68" cy="205.68" r="1.6" fill="#123d66"/>
<circle cx="419.95" cy="217.41" r="1.6" fill="#123d66"/>
<circle cx="423.90" cy="217.41" r="1.6" fill="#123d66"/>
<circle cx="427.85" cy="217.41" r="1.6" fill="#123d66"/>
<circle cx="431.80" cy="217.41" r="1.6" fill="#123d66"/>
<circle cx="435.75" cy="217.41" r="1.6" fill="#123d66"/>
<circle cx="439.70" cy="217.41" r="1.6" fill="#123d66"/>
<circle cx="443.65" cy="217.41" r="1.6" fill="#123d66"/>
<circle cx="416.00" cy="229.14" r="1.6" fill="#123d66"/>
<circle cx="419.95" cy="229.14" r="1.6" fill="#123d66"/>
<circle cx="423.90" cy="229.14" r="1.6" fill="#123d66"/>
<circle cx="427.85" cy="229.14" r="1.6" fill="#123d66"/>
<circle cx="431.80" cy="229.14" r="1.6" fill="#123d66"/>
<circle cx="435.75" cy="229.14" r="1.6" fill="#123d66"/>
<circle cx="439.70" cy="229.14" r="1.6" fill="#123d66"/>
<circle cx="443.65" cy="229.14" r="1.6" fill="#123d66"/>
<circle cx="447.60" cy="229.14" r="1.6" fill="#123d66"/>
<circle cx="416.00" cy="240.87" r="1.6" fill="#123d66"/>
<circle cx="419.95" cy="240.87" r="1.6" fill="#123d66"/>
<circle cx="423.90" cy="240.87" r="1.6" fill="#123d66"/>
<circle cx="427.85" cy="240.87" r="1.6" fill="#123d66"/>
<circle cx="431.80" cy="240.87" r="1.6" fill="#123d66"/>
<circle cx="435.75" cy="240.87" r="1.6" fill="#123d66"/>
<circle cx="439.70" cy="240.87" r="1.6" fill="#123d66"/>
<circle cx="443.65" cy="240.87" r="1.6" fill="#123d66"/>
<circle cx="447.60" cy="240.87" r="1.6" fill="#123d66"/>
<circle cx="417.98" cy="252.60" r="1.6" fill="#123d66"/>
<circle cx="421.93" cy="252.60" r="1.6" fill="#123d66"/>
<circle cx="425.88" cy="252.60" r="1.6" fill="#123d66"/>
<circle cx="429.82" cy="252.60" r="1.6" fill="#123d66"/>
<circle cx="433.78" cy="252.60" r="1.6" fill="#123d66"/>
<circle cx="437.73" cy="252.60" r="1.6" fill="#123d66"/>
<circle cx="441.68" cy="252.60" r="1.6" fill="#123d66"/>
<circle cx="445.62" cy="252.60" r="1.6" fill="#123d66"/>
<circle cx="477.10" cy="170.49" r="1.6" fill="#b3163a"/>
<circle cx="482.10" cy="170.49" r="1.6" fill="#b3163a"/>
<circle cx="487.00" cy="170.49" r="1.6" fill="#b3163a"/>
<circle cx="492.00" cy="170.49" r="1.6" fill="#b3163a"/>
<circle cx="484.50" cy="182.22" r="1.6" fill="#b3163a"/>
<circle cx="484.50" cy="193.95" r="1.6" fill="#b3163a"/>
<circle cx="484.50" cy="217.41" r="1.6" fill="#b3163a"/>
<text x="0.6" y="306" font-size="11.2" font-weight="bold">E</text>
<text transform="translate(16.9,386) rotate(-90)" font-size="7.8" text-anchor="middle" fill="#1a1a1a">MYC</text>
<text x="62.8" y="316.9" font-size="8" text-anchor="middle" fill="#1a1a1a"><tspan font-style="italic">BCOR</tspan> Q1378*</text>
<text x="153.8" y="317.2" font-size="8" text-anchor="middle" fill="#1a1a1a"><tspan font-style="italic">BCOR</tspan> S158Kfs*28</text>
<text x="245.3" y="316.0" font-size="8" text-anchor="middle" fill="#1a1a1a"><tspan font-style="italic">BCOR</tspan> wildtype</text>
<clipPath id="clip11"><rect x="19.5" y="320.4" width="87.5" height="131.3"/></clipPath>
<filter id="bl11" x="-5%" y="-5%" width="110%" height="110%" color-interpolation-filters="sRGB"><feGaussianBlur stdDeviation="0.6"/></filter>
<g clip-path="url(#clip11)"><g filter="url(#bl11)">
<rect x="16.5" y="317.4" width="93.5" height="137.3" fill="#cbc5c5"/>
<path fill="#d8d3d3" fill-opacity=".55" d="M59 397.7a3.8 2.8 91 1 0 .2-7.6a3.8 2.8 91 1 0-.2 7.6M68.7 346.3a2.8 2.3 143 1 0 4.4-3.4a2.8 2.3 143 1 0-4.4 3.4M26.7 361.7a1.7 1.6 125 1 0 2-2.8a1.7 1.6 125 1 0-2 2.8M21.8 453a3.9 3.2 111 1 0 2.8-7.3a3.9 3.2 111 1 0-2.8 7.3M35.6 324a2.8 1.5 34 1 0-4.7-3.2a2.8 1.5 34 1 0 4.7 3.2M38.3 325.6a2.7 1.9 152 1 0 4.7-2.5a2.7 1.9 152 1 0-4.7 2.5M65.3 407.2a2.7 2.3 82 1 0-.7-5.4a2.7 2.3 82 1 0 .7 5.4M41.4 454.6a4 3.7 127 1 0 4.8-6.3a4 3.7 127 1 0-4.8 6.3M45.4 352a2.2 1.2 138 1 0 3.3-3a2.2 1.2 138 1 0-3.3 3M52.3 432.7a2.5 2.4 153 1 0 4.4-2.3a2.5 2.4 153 1 0-4.4 2.3M15.8 348.2a3.8 2.8 176 1 0 7.5-.5a3.8 2.8 176 1 0-7.5 .5M56.3 332.3a3.1 2.7 49 1 0-4.1-4.6a3.1 2.7 49 1 0 4.1 4.6M30.8 365.5a3.9 3.4 21 1 0-7.3-2.8a3.9 3.4 21 1 0 7.3 2.8M42.5 334.5a1.6 1.5 32 1 0-2.8-1.7a1.6 1.5 32 1 0 2.8 1.7M70.3 379.9a2 1.7 24 1 0-3.6-1.6a2 1.7 24 1 0 3.6 1.6M77.5 337.6a2.6 1.5 49 1 0-3.4-3.8a2.6 1.5 49 1 0 3.4 3.8M106.2 427.3a2.3 2.1 38 1 0-3.6-2.8a2.3 2.1 38 1 0 3.6 2.8M50.9 432.7a3.1 1.7 178 1 0 6.2-.2a3.1 1.7 178 1 0-6.2 .2M40.2 357.1a3.4 2.3 53 1 0-4.1-5.5a3.4 2.3 53 1 0 4.1 5.5M25 335a3 1.8 108 1 0 1.9-5.6a3 1.8 108 1 0-1.9 5.6M51.1 383.7a3.9 2.9 103 1 0 1.8-7.6a3.9 2.9 103 1 0-1.8 7.6M93.7 345.4a1.9 1.8 147 1 0 3.2-2a1.9 1.8 147 1 0-3.2 2M44.1 347.3a3.3 3.2 35 1 0-5.5-3.9a3.3 3.2 35 1 0 5.5 3.9M105.5 437.2a3 2.1 19 1 0-5.7-1.9a3 2.1 19 1 0 5.7 1.9M24.3 448.3a2.1 1.8 46 1 0-2.9-3a2.1 1.8 46 1 0 2.9 3M90.1 400.4a2.2 1.3 130 1 0 2.9-3.4a2.2 1.3 130 1 0-2.9 3.4M24.5 353.1a2.9 2.7 111 1 0 2-5.4a2.9 2.7 111 1 0-2 5.4M45.4 442.4a2 1 48 1 0-2.7-3a2 1 48 1 0 2.7 3M58.1 330.2a1.9 1.3 103 1 0 .9-3.8a1.9 1.3 103 1 0-.9 3.8M29.2 371.2a3.7 3.7 118 1 0 3.5-6.6a3.7 3.7 118 1 0-3.5 6.6M81.8 397.2a1.9 1 3 1 0-3.7-.2a1.9 1 3 1 0 3.7 .2M97.5 416a3.9 2 115 1 0 3.2-7.1a3.9 2 115 1 0-3.2 7.1M63.9 416.9a2.3 2.3 14 1 0-4.5-1.1a2.3 2.3 14 1 0 4.5 1.1M65 420.2a3.8 3.3 127 1 0 4.5-6a3.8 3.3 127 1 0-4.5 6M86.6 441.3a2.4 2 162 1 0 4.5-1.5a2.4 2 162 1 0-4.5 1.5M94.9 378.6a3.5 3.2 103 1 0 1.6-6.8a3.5 3.2 103 1 0-1.6 6.8M77 371.3a3 2.4 14 1 0-5.7-1.5a3 2.4 14 1 0 5.7 1.5M76.7 454.3a3.7 3.2 70 1 0-2.5-6.9a3.7 3.2 70 1 0 2.5 6.9M86.3 397.4a2.6 2.4 15 1 0-5-1.4a2.6 2.4 15 1 0 5 1.4M87.4 326.3a3 2.2 41 1 0-4.5-4a3 2.2 41 1 0 4.5 4M82.7 387.9a3 2.9 46 1 0-4.2-4.4a3 2.9 46 1 0 4.2 4.4M23.2 361.5a3.2 1.9 31 1 0-5.5-3.2a3.2 1.9 31 1 0 5.5 3.2M100.1 409.3a2.6 2.5 59 1 0-2.7-4.5a2.6 2.5 59 1 0 2.7 4.5M75.3 347.1a2.6 2.3 165 1 0 5-1.4a2.6 2.3 165 1 0-5 1.4M99.2 372.1a3 1.9 25 1 0-5.4-2.5a3 1.9 25 1 0 5.4 2.5M59.4 430.9a3.6 3.1 171 1 0 7.2-1.1a3.6 3.1 171 1 0-7.2 1.1M45.8 344.2a2.6 1.7 39 1 0-4.1-3.3a2.6 1.7 39 1 0 4.1 3.3M53.3 403.9a2.7 1.8 151 1 0 4.8-2.6a2.7 1.8 151 1 0-4.8 2.6M103.9 380.5a1.7 .9 157 1 0 3.1-1.3a1.7 .9 157 1 0-3.1 1.3M20.8 415.2a2.9 1.9 142 1 0 4.6-3.6a2.9 1.9 142 1 0-4.6 3.6M18.9 339.6a2.6 1.4 149 1 0 4.5-2.7a2.6 1.4 149 1 0-4.5 2.7M40.5 340.5a1.6 1.3 80 1 0-.5-3.2a1.6 1.3 80 1 0 .5 3.2M72.7 409.4a3.5 3.4 123 1 0 3.9-5.9a3.5 3.4 123 1 0-3.9 5.9M37.1 384.7a1.9 1 85 1 0-.3-3.9a1.9 1 85 1 0 .3 3.9M80.7 345.7a2.2 1.5 126 1 0 2.5-3.6a2.2 1.5 126 1 0-2.5 3.6M62.3 403.1a3.4 2.4 143 1 0 5.4-4.1a3.4 2.4 143 1 0-5.4 4.1M102.3 333.4a3.8 3.3 23 1 0-7-3a3.8 3.3 23 1 0 7 3M58.4 406.2a3.8 2.6 102 1 0 1.6-7.4a3.8 2.6 102 1 0-1.6 7.4M94.7 428.4a3.9 2.8 117 1 0 3.5-6.9a3.9 2.8 117 1 0-3.5 6.9M35.2 417.9a3.5 2.9 129 1 0 4.5-5.5a3.5 2.9 129 1 0-4.5 5.5M37.7 442.5a4 3.9 97 1 0 .9-7.8a4 3.9 97 1 0-.9 7.8M90.4 365.8a3.8 3.5 63 1 0-3.5-6.7a3.8 3.5 63 1 0 3.5 6.7M26.9 381.2a2.9 2.5 88 1 0-.2-5.7a2.9 2.5 88 1 0 .2 5.7M23.4 427.5a1.7 1.5 31 1 0-2.8-1.7a1.7 1.5 31 1 0 2.8 1.7M48.7 425.7a1.9 1.1 93 1 0 .2-3.7a1.9 1.1 93 1 0-.2 3.7M82.9 433.9a3.2 3.1 89 1 0-.2-6.4a3.2 3.1 89 1 0 .2 6.4M103.8 333.3a2.1 1.6 52 1 0-2.5-3.2a2.1 1.6 52 1 0 2.5 3.2M82.7 407a2.8 2.6 101 1 0 1.1-5.5a2.8 2.6 101 1 0-1.1 5.5M49.6 372.7a3.6 3.4 37 1 0-5.7-4.4a3.6 3.4 37 1 0 5.7 4.4M96.2 449.2a2.8 2.2 36 1 0-4.5-3.3a2.8 2.2 36 1 0 4.5 3.3M63.4 386.8a3 1.5 174 1 0 6-.6a3 1.5 174 1 0-6 .6M64.8 376.5a3.5 2.7 88 1 0-.2-7a3.5 2.7 88 1 0 .2 7M77.1 329.4a2.8 2 172 1 0 5.6-.8a2.8 2 172 1 0-5.6 .8M100.9 358.4a2.7 1.5 78 1 0-1.1-5.2a2.7 1.5 78 1 0 1.1 5.2M93.1 440.2a2.7 1.8 34 1 0-4.4-3a2.7 1.8 34 1 0 4.4 3M75.4 442a1.8 1.6 4 1 0-3.6-.3a1.8 1.6 4 1 0 3.6 .3M37.9 353.1a3.2 2.1 64 1 0-2.8-5.8a3.2 2.1 64 1 0 2.8 5.8M73.6 337.5a3.3 1.9 92 1 0 .2-6.7a3.3 1.9 92 1 0-.2 6.7M42.5 349a2.8 2 68 1 0-2.2-5.2a2.8 2 68 1 0 2.2 5.2M54.9 391.6a1.9 1.1 114 1 0 1.5-3.5a1.9 1.1 114 1 0-1.5 3.5M72.1 391.5a3.6 2.9 154 1 0 6.5-3.2a3.6 2.9 154 1 0-6.5 3.2M41.8 420.6a3.5 3.4 57 1 0-3.9-5.9a3.5 3.4 57 1 0 3.9 5.9M45.1 442.3a2 2 160 1 0 3.8-1.4a2 2 160 1 0-3.8 1.4M34.4 352.8a3.3 2.1 17 1 0-6.3-2a3.3 2.1 17 1 0 6.3 2M93.4 379.1a3.5 2 73 1 0-2.1-6.6a3.5 2 73 1 0 2.1 6.6M77.5 323.3a2 1.7 164 1 0 3.9-1.1a2 1.7 164 1 0-3.9 1.1M104.2 338.3a2.8 2.4 91 1 0 0-5.5a2.8 2.4 91 1 0-0 5.5M81.2 345.4a1.7 .9 7 1 0-3.3-.4a1.7 .9 7 1 0 3.3 .4M70.2 389.6a2.9 1.7 33 1 0-4.9-3.2a2.9 1.7 33 1 0 4.9 3.2M41.1 431.9a4 3.8 17 1 0-7.6-2.3a4 3.8 17 1 0 7.6 2.3M26.3 447.6a2.7 2.3 59 1 0-2.7-4.5a2.7 2.3 59 1 0 2.7 4.5M62.9 388.2a2.6 2.1 2 1 0-5.1-.2a2.6 2.1 2 1 0 5.1 .2M79.5 432.7a2 1.4 133 1 0 2.7-2.9a2 1.4 133 1 0-2.7 2.9M56.9 346.1a1.9 1.4 3 1 0-3.8-.2a1.9 1.4 3 1 0 3.8 .2M96.4 428.7a3.3 3 113 1 0 2.6-6a3.3 3 113 1 0-2.6 6M52.6 400.7a2.8 2.7 145 1 0 4.5-3.2a2.8 2.7 145 1 0-4.5 3.2M39.3 441.9a3.4 3 147 1 0 5.6-3.7a3.4 3 147 1 0-5.6 3.7M52.2 440.6a3.7 3.1 138 1 0 5.5-4.9a3.7 3.1 138 1 0-5.5 4.9M88 376.6a3.3 1.8 62 1 0-3.2-5.8a3.3 1.8 62 1 0 3.2 5.8M59.6 324a2.4 2 112 1 0 1.8-4.4a2.4 2 112 1 0-1.8 4.4M38.3 447.2a3.2 2.1 119 1 0 3-5.5a3.2 2.1 119 1 0-3 5.5M68.3 392.6a2.5 2.5 116 1 0 2.1-4.5a2.5 2.5 116 1 0-2.1 4.5M79.5 424.1a4 2 111 1 0 2.8-7.4a4 2 111 1 0-2.8 7.4M86.2 355.5a2.5 1.3 35 1 0-4.1-2.9a2.5 1.3 35 1 0 4.1 2.9M52 335.4a2.1 2 99 1 0 .7-4.2a2.1 2 99 1 0-.7 4.2M62.7 450a2.9 2.9 115 1 0 2.5-5.3a2.9 2.9 115 1 0-2.5 5.3M93.3 330.8a3 2.6 8 1 0-5.9-.8a3 2.6 8 1 0 5.9 .8M100.9 344.1a2.7 1.6 89 1 0-.1-5.4a2.7 1.6 89 1 0 .1 5.4M72.7 331.9a3.9 2.7 95 1 0 .6-7.7a3.9 2.7 95 1 0-.6 7.7M71.4 370.6a2.2 1.8 101 1 0 .8-4.3a2.2 1.8 101 1 0-.8 4.3M45.9 416a2.2 1.1 44 1 0-3.2-3.1a2.2 1.1 44 1 0 3.2 3.1M20 342a3.4 2.4 162 1 0 6.4-2.1a3.4 2.4 162 1 0-6.4 2.1M88.8 327.9a4 3.9 13 1 0-7.7-1.8a4 3.9 13 1 0 7.7 1.8M100.7 378.7a2.7 2.7 44 1 0-3.9-3.7a2.7 2.7 44 1 0 3.9 3.7M62 443.7a3.3 2.4 176 1 0 6.6-.4a3.3 2.4 176 1 0-6.6 .4M91.2 401.4a1.8 1.5 82 1 0-.5-3.5a1.8 1.5 82 1 0 .5 3.5M37.8 330a2.8 1.6 80 1 0-1-5.5a2.8 1.6 80 1 0 1 5.5M78.5 382.3a2.2 1.7 76 1 0-1.1-4.2a2.2 1.7 76 1 0 1.1 4.2M84.9 393a4 3.9 132 1 0 5.4-5.9a4 3.9 132 1 0-5.4 5.9M38.9 338.8a3.7 3.3 112 1 0 2.9-6.9a3.7 3.3 112 1 0-2.9 6.9M50 359.1a3.2 2.5 107 1 0 1.8-6.2a3.2 2.5 107 1 0-1.8 6.2M72.9 419.4a2 1.2 176 1 0 3.9-.3a2 1.2 176 1 0-3.9 .3M100.7 437a1.6 .8 49 1 0-2.1-2.4a1.6 .8 49 1 0 2.1 2.4M58.4 402.6a1.8 1.4 13 1 0-3.4-.8a1.8 1.4 13 1 0 3.4 .8M28.2 411.8a2.9 2.3 67 1 0-2.2-5.3a2.9 2.3 67 1 0 2.2 5.3M59.3 349.2a2.4 2.1 151 1 0 4.1-2.3a2.4 2.1 151 1 0-4.1 2.3M23.4 338.5a3.5 2.9 138 1 0 5.3-4.7a3.5 2.9 138 1 0-5.3 4.7M39 378.1a2.1 1.9 66 1 0-1.7-3.9a2.1 1.9 66 1 0 1.7 3.9M75.1 451.9a2.3 1.8 134 1 0 3.2-3.3a2.3 1.8 134 1 0-3.2 3.3M97.8 377.5a2.4 1.3 158 1 0 4.5-1.9a2.4 1.3 158 1 0-4.5 1.9M24.8 333.7a2.9 2.2 123 1 0 3.2-4.9a2.9 2.2 123 1 0-3.2 4.9M44.8 423.7a1.7 1 119 1 0 1.6-3a1.7 1 119 1 0-1.6 3M28.7 362.9a3.3 2.8 51 1 0-4.2-5.1a3.3 2.8 51 1 0 4.2 5.1M35.1 368.6a3.3 2.3 21 1 0-6.2-2.4a3.3 2.3 21 1 0 6.2 2.4M77.9 396.2a3.8 3.7 164 1 0 7.3-2a3.8 3.7 164 1 0-7.3 2M58.5 428a2.3 1.5 72 1 0-1.4-4.3a2.3 1.5 72 1 0 1.4 4.3M102.2 439.8a2.1 1.4 66 1 0-1.7-3.9a2.1 1.4 66 1 0 1.7 3.9M50.8 374.8a2.5 1.5 101 1 0 1-4.8a2.5 1.5 101 1 0-1 4.8M92.3 393.3a3.6 2.8 32 1 0-6.1-3.8a3.6 2.8 32 1 0 6.1 3.8M85.8 438.3a2.2 1.1 93 1 0 .2-4.4a2.2 1.1 93 1 0-.2 4.4M63.9 397.2a3.9 3.2 145 1 0 6.4-4.5a3.9 3.2 145 1 0-6.4 4.5M28.5 393.1a3.5 1.9 15 1 0-6.7-1.8a3.5 1.9 15 1 0 6.7 1.8M85.5 439.2a1.7 1.4 26 1 0-3.1-1.5a1.7 1.4 26 1 0 3.1 1.5M83.2 407a2.1 1.3 138 1 0 3.1-2.8a2.1 1.3 138 1 0-3.1 2.8M62.7 421.1a2.5 1.7 174 1 0 4.9-.5a2.5 1.7 174 1 0-4.9 .5M76.6 387.5a2.8 2.4 127 1 0 3.5-4.5a2.8 2.4 127 1 0-3.5 4.5M96.4 375.9a3.6 3 154 1 0 6.4-3.2a3.6 3 154 1 0-6.4 3.2M88.4 433.2a3.7 3.6 115 1 0 3.2-6.7a3.7 3.6 115 1 0-3.2 6.7M66.2 417a3.5 2.5 76 1 0-1.7-6.8a3.5 2.5 76 1 0 1.7 6.8M35.7 419.7a4 2.7 30 1 0-6.9-4a4 2.7 30 1 0 6.9 4M39.6 376.6a2.2 2.2 11 1 0-4.4-.8a2.2 2.2 11 1 0 4.4 .8M49.1 337.1a3.1 2.8 32 1 0-5.3-3.3a3.1 2.8 32 1 0 5.3 3.3M27.9 381a3 2.8 7 1 0-5.9-.7a3 2.8 7 1 0 5.9 .7M27.7 346.2a2 1.3 129 1 0 2.6-3.2a2 1.3 129 1 0-2.6 3.2M73.2 350.8a2 1.3 31 1 0-3.4-2a2 1.3 31 1 0 3.4 2M86 364.2a2.9 2.6 86 1 0-.4-5.7a2.9 2.6 86 1 0 .4 5.7M41.7 440.7a3.8 2.5 99 1 0 1.1-7.5a3.8 2.5 99 1 0-1.1 7.5M101.2 384.1a2.1 1.1 171 1 0 4-.7a2.1 1.1 171 1 0-4 .7M91.5 373.1a2.8 2.1 49 1 0-3.7-4.3a2.8 2.1 49 1 0 3.7 4.3M106.3 408.8a2.1 1.1 85 1 0-.4-4.2a2.1 1.1 85 1 0 .4 4.2M54.9 426.6a3.3 2.6 28 1 0-5.8-3.1a3.3 2.6 28 1 0 5.8 3.1M33.1 364.8a2.1 2 93 1 0 .2-4.3a2.1 2 93 1 0-.2 4.3M77.2 451.8a2.2 1.7 27 1 0-3.9-2a2.2 1.7 27 1 0 3.9 2M83.9 322.5a3.6 3.3 148 1 0 6-3.8a3.6 3.3 148 1 0-6 3.8M26.9 359.1a3.3 1.8 86 1 0-.4-6.6a3.3 1.8 86 1 0 .4 6.6M62.2 448.3a3 2.8 55 1 0-3.4-4.8a3 2.8 55 1 0 3.4 4.8M85.3 377.1a3.8 2.1 149 1 0 6.5-3.9a3.8 2.1 149 1 0-6.5 3.9M35.3 393.2a2.8 1.6 150 1 0 4.9-2.8a2.8 1.6 150 1 0-4.9 2.8M46.9 362.9a1.7 1.1 84 1 0-.3-3.4a1.7 1.1 84 1 0 .3 3.4M83.1 370.7a3.2 1.8 71 1 0-2.1-6.1a3.2 1.8 71 1 0 2.1 6.1M63.5 447.5a3.6 3 2 1 0-7.1-.3a3.6 3 2 1 0 7.1 .3M52.8 415.7a2.1 1.6 82 1 0-.5-4.2a2.1 1.6 82 1 0 .5 4.2M19.2 453.9a3.5 2.1 111 1 0 2.5-6.5a3.5 2.1 111 1 0-2.5 6.5M46.3 372.3a2.8 1.8 61 1 0-2.8-5a2.8 1.8 61 1 0 2.8 5M52.4 409.5a2.1 1.3 132 1 0 2.8-3.2a2.1 1.3 132 1 0-2.8 3.2M49.8 447a2.9 2.5 60 1 0-2.9-5a2.9 2.5 60 1 0 2.9 5M90.9 334.1a1.9 1 122 1 0 2-3.1a1.9 1 122 1 0-2 3.1M80.8 346.4a2.5 2.3 107 1 0 1.4-4.8a2.5 2.3 107 1 0-1.4 4.8M27.9 352a1.9 1.1 73 1 0-1.1-3.6a1.9 1.1 73 1 0 1.1 3.6M24.7 443.6a2.6 1.9 117 1 0 2.3-4.6a2.6 1.9 117 1 0-2.3 4.6M87.3 430.6a2.5 1.6 74 1 0-1.3-4.7a2.5 1.6 74 1 0 1.3 4.7M18.3 375a3.2 3.2 142 1 0 5.1-4a3.2 3.2 142 1 0-5.1 4M78 401.7a1.5 1 62 1 0-1.5-2.7a1.5 1 62 1 0 1.5 2.7M74.5 335.9a2.4 1.8 142 1 0 3.8-3a2.4 1.8 142 1 0-3.8 3M89.9 401.3a1.9 1.7 163 1 0 3.6-1.1a1.9 1.7 163 1 0-3.6 1.1M65.8 368.8a2.8 1.6 128 1 0 3.4-4.3a2.8 1.6 128 1 0-3.4 4.3M108.5 390.1a3.3 3 35 1 0-5.4-3.8a3.3 3 35 1 0 5.4 3.8M103.6 404.1a2 1.1 44 1 0-2.9-2.8a2 1.1 44 1 0 2.9 2.8M70.9 414a2.3 2.2 65 1 0-2-4.2a2.3 2.2 65 1 0 2 4.2M56.3 337.9a3.9 2.2 163 1 0 7.5-2.3a3.9 2.2 163 1 0-7.5 2.3M64.3 394.8a2.9 1.8 164 1 0 5.6-1.6a2.9 1.8 164 1 0-5.6 1.6M103.8 429.3a3 1.7 148 1 0 5.1-3.1a3 1.7 148 1 0-5.1 3.1M42.9 439.2a2.1 1.7 150 1 0 3.6-2.1a2.1 1.7 150 1 0-3.6 2.1M37.2 393.2a1.7 .9 32 1 0-2.9-1.8a1.7 .9 32 1 0 2.9 1.8M104.3 446.5a3.1 2.1 121 1 0 3.2-5.4a3.1 2.1 121 1 0-3.2 5.4M87 370.7a3 2.7 3 1 0-6-.3a3 2.7 3 1 0 6 .3M36.6 383.7a1.9 1.3 103 1 0 .8-3.6a1.9 1.3 103 1 0-.8 3.6M35.8 390.5a2.2 1.7 60 1 0-2.2-3.7a2.2 1.7 60 1 0 2.2 3.7M72.5 325.8a3.2 1.8 173 1 0 6.3-.8a3.2 1.8 173 1 0-6.3 .8M70.6 384.2a2.5 2.1 124 1 0 2.8-4.2a2.5 2.1 124 1 0-2.8 4.2M83.5 420.4a2.7 2.7 151 1 0 4.7-2.6a2.7 2.7 151 1 0-4.7 2.6M91.8 374.9a2.6 2 163 1 0 4.9-1.5a2.6 2 163 1 0-4.9 1.5M66.9 391.5a2.6 2.5 58 1 0-2.8-4.4a2.6 2.5 58 1 0 2.8 4.4M23.2 419.2a3.8 3.2 108 1 0 2.3-7.2a3.8 3.2 108 1 0-2.3 7.2M88 361.6a3 1.6 22 1 0-5.5-2.3a3 1.6 22 1 0 5.5 2.3M57.2 388.4a2.5 1.3 125 1 0 2.9-4.1a2.5 1.3 125 1 0-2.9 4.1M67.2 353.3a2.3 1.6 42 1 0-3.3-3.1a2.3 1.6 42 1 0 3.3 3.1M21.9 441.6a3.9 3.3 156 1 0 7.2-3.2a3.9 3.3 156 1 0-7.2 3.2M55.9 428.1a2.1 1.8 102 1 0 .9-4a2.1 1.8 102 1 0-.9 4M98.1 336.8a3.5 2 97 1 0 .8-6.9a3.5 2 97 1 0-.8 6.9M103.8 322.3a2.1 1.4 58 1 0-2.2-3.6a2.1 1.4 58 1 0 2.2 3.6M26.5 441.1a3.5 2.5 64 1 0-3.1-6.4a3.5 2.5 64 1 0 3.1 6.4M71.6 327.7a1.6 1.5 55 1 0-1.8-2.6a1.6 1.5 55 1 0 1.8 2.6M66.3 445.4a3.9 2.9 37 1 0-6.3-4.8a3.9 2.9 37 1 0 6.3 4.8M42.1 443.4a3.7 2.2 151 1 0 6.5-3.6a3.7 2.2 151 1 0-6.5 3.6M48.6 382.5a1.9 1.8 179 1 0 3.9-.1a1.9 1.8 179 1 0-3.9 .1M39.1 403.7a2 1.9 9 1 0-3.9-.6a2 1.9 9 1 0 3.9 .6M26.7 416.6a2.3 2.2 157 1 0 4.2-1.8a2.3 2.2 157 1 0-4.2 1.8M82.5 341.3a3.2 3.1 80 1 0-1.1-6.4a3.2 3.1 80 1 0 1.1 6.4M28.3 351a2.3 1.9 35 1 0-3.7-2.6a2.3 1.9 35 1 0 3.7 2.6M36.6 354.2a3.2 2.8 67 1 0-2.5-5.8a3.2 2.8 67 1 0 2.5 5.8M79.2 438.9a3 1.8 54 1 0-3.5-4.8a3 1.8 54 1 0 3.5 4.8M102.7 408.6a2.2 1.8 16 1 0-4.2-1.2a2.2 1.8 16 1 0 4.2 1.2M108.3 378.6a2.8 2.2 8 1 0-5.6-.8a2.8 2.2 8 1 0 5.6 .8M74 358.3a2.1 1.9 16 1 0-4.1-1.2a2.1 1.9 16 1 0 4.1 1.2M44.1 421.7a2.1 1.4 99 1 0 .6-4.2a2.1 1.4 99 1 0-.6 4.2M36.3 442.1a4 2.1 83 1 0-1-7.9a4 2.1 83 1 0 1 7.9M88.4 373a3.8 2.9 32 1 0-6.5-4.1a3.8 2.9 32 1 0 6.5 4.1M66.3 406.6a2.4 2 141 1 0 3.7-3a2.4 2 141 1 0-3.7 3M64.5 390.4a3.6 3 94 1 0 .5-7.2a3.6 3 94 1 0-.5 7.2M101.6 346.5a3.4 2 109 1 0 2.3-6.5a3.4 2 109 1 0-2.3 6.5M37.4 380.3a3.4 3.1 142 1 0 5.4-4.2a3.4 3.1 142 1 0-5.4 4.2M40.2 386.7a2.1 1.6 90 1 0-0-4.1a2.1 1.6 90 1 0 0 4.1M19.6 400a3.3 2.6 157 1 0 6.1-2.6a3.3 2.6 157 1 0-6.1 2.6M35.6 341.8a1.5 1.2 78 1 0-.6-3a1.5 1.2 78 1 0 .6 3M54.8 355.9a3.5 1.9 163 1 0 6.7-2a3.5 1.9 163 1 0-6.7 2M72.4 393.3a3.5 2.2 26 1 0-6.2-3.1a3.5 2.2 26 1 0 6.2 3.1M46.5 328.2a2.3 1.9 95 1 0 .4-4.6a2.3 1.9 95 1 0-.4 4.6M44.1 398.6a1.7 1.6 31 1 0-3-1.8a1.7 1.6 31 1 0 3 1.8M39.3 343.4a3.2 3 142 1 0 5.1-4a3.2 3 142 1 0-5.1 4M22.4 374.5a2.4 1.5 175 1 0 4.8-.4a2.4 1.5 175 1 0-4.8 .4M26.2 386.2a3.4 3.4 26 1 0-6.1-3a3.4 3.4 26 1 0 6.1 3M57.8 418.8a1.6 1 160 1 0 3-1.1a1.6 1 160 1 0-3 1.1M34.1 372.5a2.2 1.6 14 1 0-4.4-1.1a2.2 1.6 14 1 0 4.4 1.1M25.1 453.4a3.4 3 41 1 0-5.1-4.5a3.4 3 41 1 0 5.1 4.5M39.6 393.3a2.1 1.5 168 1 0 4.1-.9a2.1 1.5 168 1 0-4.1 .9M55.3 365.1a4 3.2 7 1 0-7.8-1a4 3.2 7 1 0 7.8 1M53.8 407.1a1.6 1.1 125 1 0 1.9-2.7a1.6 1.1 125 1 0-1.9 2.7M96.4 401.5a3.7 2.7 71 1 0-2.5-7a3.7 2.7 71 1 0 2.5 7M94.9 373.5a3.5 2.1 63 1 0-3.2-6.1a3.5 2.1 63 1 0 3.2 6.1M37.1 393.7a1.9 1.1 39 1 0-3-2.4a1.9 1.1 39 1 0 3 2.4M59 363.1a2.6 2.6 122 1 0 2.8-4.4a2.6 2.6 122 1 0-2.8 4.4M93.6 349.3a2.5 1.3 124 1 0 2.8-4.1a2.5 1.3 124 1 0-2.8 4.1M52.3 357.6a1.5 .9 47 1 0-2.1-2.3a1.5 .9 47 1 0 2.1 2.3M55.3 444.6a3.3 2.1 65 1 0-2.8-6a3.3 2.1 65 1 0 2.8 6M31.4 445.2a2.4 2.1 130 1 0 3.1-3.7a2.4 2.1 130 1 0-3.1 3.7M101.1 323.7a2.3 1.6 15 1 0-4.5-1.2a2.3 1.6 15 1 0 4.5 1.2M100.1 363.7a3.4 2.6 10 1 0-6.8-1.2a3.4 2.6 10 1 0 6.8 1.2M53.5 353.2a1.6 .9 107 1 0 .9-3.1a1.6 .9 107 1 0-.9 3.1M24.6 362.5a2.6 2 24 1 0-4.7-2.1a2.6 2 24 1 0 4.7 2.1M84.3 356.1a3.3 2.8 26 1 0-5.9-3a3.3 2.8 26 1 0 5.9 3M38.6 360.3a3.3 2.3 70 1 0-2.3-6.2a3.3 2.3 70 1 0 2.3 6.2M97 351.5a2.2 1.5 39 1 0-3.5-2.8a2.2 1.5 39 1 0 3.5 2.8M20.5 325.4a3.1 2.4 146 1 0 5.1-3.5a3.1 2.4 146 1 0-5.1 3.5M107.3 361.5a3.2 3 39 1 0-4.9-4a3.2 3 39 1 0 4.9 4M82.7 410.5a3.9 3.6 42 1 0-5.8-5.2a3.9 3.6 42 1 0 5.8 5.2M77.4 332.7a2.6 1.8 11 1 0-5-1a2.6 1.8 11 1 0 5 1M55.5 364.8a2.7 1.8 29 1 0-4.8-2.6a2.7 1.8 29 1 0 4.8 2.6M56.1 384.1a1.9 1.6 43 1 0-2.8-2.6a1.9 1.6 43 1 0 2.8 2.6M27 367.8a2.6 1.5 105 1 0 1.3-4.9a2.6 1.5 105 1 0-1.3 4.9M82 396.1a3.3 1.7 70 1 0-2.2-6.1a3.3 1.7 70 1 0 2.2 6.1M51.4 331.2a2.5 1.3 89 1 0-.1-5a2.5 1.3 89 1 0 .1 5M73.1 382.1a2.3 1.5 4 1 0-4.6-.3a2.3 1.5 4 1 0 4.6 .3M48.4 440a2.9 1.8 120 1 0 2.9-5a2.9 1.8 120 1 0-2.9 5M37 384.8a3 3 65 1 0-2.5-5.5a3 3 65 1 0 2.5 5.5M68.6 447.3a3.4 2.8 112 1 0 2.5-6.4a3.4 2.8 112 1 0-2.5 6.4M53.4 375.8a2.2 2 158 1 0 4.1-1.6a2.2 2 158 1 0-4.1 1.6M52.9 441.4a1.6 .9 91 1 0 .1-3.2a1.6 .9 91 1 0-.1 3.2M49.7 370a3.9 2.3 35 1 0-6.5-4.5a3.9 2.3 35 1 0 6.5 4.5M39.2 411.8a2.1 1 98 1 0 .6-4.1a2.1 1 98 1 0-.6 4.1M53.6 354.5a2.7 2.3 99 1 0 .8-5.4a2.7 2.3 99 1 0-.8 5.4M75.9 397.1a3.6 3.5 60 1 0-3.6-6.2a3.6 3.5 60 1 0 3.6 6.2M48.5 438.6a2.3 2 125 1 0 2.6-3.7a2.3 2 125 1 0-2.6 3.7M78.2 450.3a3.6 2.1 112 1 0 2.7-6.6a3.6 2.1 112 1 0-2.7 6.6M60.7 396.1a2.4 1.6 135 1 0 3.4-3.4a2.4 1.6 135 1 0-3.4 3.4M68 352.6a2.1 1.4 32 1 0-3.6-2.3a2.1 1.4 32 1 0 3.6 2.3M66 337.5a1.7 .9 18 1 0-3.1-1a1.7 .9 18 1 0 3.1 1"/>
<path fill="#9b939c" fill-opacity=".85" d="M17.8 318.9a1.3 1.1 157 1 0 2.5-1.1a1.3 1.1 157 1 0-2.5 1.1M20 320.2a1.8 1 129 1 0 2.3-2.9a1.8 1 129 1 0-2.3 2.9M83.4 321.5a1.9 1.5 138 1 0 2.9-2.6a1.9 1.5 138 1 0-2.9 2.6M101 320.2a2.1 1.1 158 1 0 3.8-1.5a2.1 1.1 158 1 0-3.8 1.5M108.3 322.1a2.1 1.1 73 1 0-1.2-4a2.1 1.1 73 1 0 1.2 4M90.3 323.7a2 1.2 134 1 0 2.8-2.9a2 1.2 134 1 0-2.8 2.9M103.2 324a1.3 1 16 1 0-2.5-.7a1.3 1 16 1 0 2.5 .7M107.9 322.6a2 1.7 4 1 0-4-.3a2 1.7 4 1 0 4 .3M108.7 322.9a1.8 1.2 175 1 0 3.6-.3a1.8 1.2 175 1 0-3.6 .3M39.2 326a1.5 .9 44 1 0-2.1-2.1a1.5 .9 44 1 0 2.1 2.1M54.6 327.7a1.9 1.4 70 1 0-1.3-3.5a1.9 1.4 70 1 0 1.3 3.5M54.9 325.4a2 1.1 179 1 0 4-.1a2 1.1 179 1 0-4 .1M79.1 327.2a2 1.1 106 1 0 1.1-3.8a2 1.1 106 1 0-1.1 3.8M101.6 327.9a2 1.5 150 1 0 3.5-2a2 1.5 150 1 0-3.5 2M31.3 330.4a1.7 1.1 139 1 0 2.6-2.3a1.7 1.1 139 1 0-2.6 2.3M39.5 330.6a1.8 1.1 111 1 0 1.3-3.4a1.8 1.1 111 1 0-1.3 3.4M45.3 331.3a1.4 1.1 18 1 0-2.7-.9a1.4 1.1 18 1 0 2.7 .9M53.2 331.5a1.7 .9 138 1 0 2.6-2.4a1.7 .9 138 1 0-2.6 2.4M60.9 332.3a2.1 1.5 52 1 0-2.5-3.3a2.1 1.5 52 1 0 2.5 3.3M69.3 332.2a1.9 1.2 119 1 0 1.8-3.3a1.9 1.2 119 1 0-1.8 3.3M81.8 329.9a1.2 1 173 1 0 2.4-.3a1.2 1 173 1 0-2.4 .3M108.2 331.6a1.4 1 28 1 0-2.4-1.3a1.4 1 28 1 0 2.4 1.3M27.7 333.8a1.4 1.1 32 1 0-2.4-1.5a1.4 1.1 32 1 0 2.4 1.5M30.2 333.3a1.4 1 47 1 0-1.9-2.1a1.4 1 47 1 0 1.9 2.1M81.3 334.8a1.5 .7 72 1 0-.9-2.8a1.5 .7 72 1 0 .9 2.8M92.1 333.9a1.8 1 64 1 0-1.5-3.2a1.8 1 64 1 0 1.5 3.2M98.7 334.2a1.5 1.2 42 1 0-2.2-2a1.5 1.2 42 1 0 2.2 2M103.4 335a2.1 1.2 31 1 0-3.6-2.1a2.1 1.2 31 1 0 3.6 2.1M107.8 334.7a1.5 .7 89 1 0-0-3.1a1.5 .7 89 1 0 0 3.1M27.7 339.5a2.1 1.3 87 1 0-.2-4.1a2.1 1.3 87 1 0 .2 4.1M59.2 338.4a1.4 .8 117 1 0 1.3-2.6a1.4 .8 117 1 0-1.3 2.6M67 337.8a1.6 .8 155 1 0 3-1.4a1.6 .8 155 1 0-3 1.4M77.9 338.1a1.8 1.4 100 1 0 .6-3.6a1.8 1.4 100 1 0-.6 3.6M85 338.7a2.1 1.4 34 1 0-3.5-2.4a2.1 1.4 34 1 0 3.5 2.4M90.1 337a1.3 .8 172 1 0 2.6-.4a1.3 .8 172 1 0-2.6 .4M49.7 342.5a1.6 .9 113 1 0 1.3-3a1.6 .9 113 1 0-1.3 3M54.8 341.5a1.3 .9 83 1 0-.3-2.6a1.3 .9 83 1 0 .3 2.6M58.7 342.6a1.9 .9 54 1 0-2.2-3a1.9 .9 54 1 0 2.2 3M78.3 340.4a1.7 1.5 40 1 0-2.7-2.3a1.7 1.5 40 1 0 2.7 2.3M78.8 340.9a1.6 1 149 1 0 2.7-1.6a1.6 1 149 1 0-2.7 1.6M18.4 345a1.7 1.5 145 1 0 2.8-2a1.7 1.5 145 1 0-2.8 2M27.9 346.4a2 1 90 1 0 0-4.1a2 1 90 1 0-0 4.1M43.5 344.3a1.7 .8 128 1 0 2.1-2.7a1.7 .8 128 1 0-2.1 2.7M56.1 345.7a1.4 1.1 94 1 0 .2-2.7a1.4 1.1 94 1 0-.2 2.7M109.4 344.9a1.7 1 85 1 0-.3-3.3a1.7 1 85 1 0 .3 3.3M49 348.7a1.7 .8 78 1 0-.7-3.2a1.7 .8 78 1 0 .7 3.2M54.4 349.1a1.8 1 101 1 0 .7-3.5a1.8 1 101 1 0-.7 3.5M94.4 347a1.5 1.3 131 1 0 2-2.3a1.5 1.3 131 1 0-2 2.3M105.3 347.7a2 1.5 149 1 0 3.5-2.1a2 1.5 149 1 0-3.5 2.1M22 350.9a1.9 1.6 75 1 0-1-3.7a1.9 1.6 75 1 0 1 3.7M45.1 351.9a1.8 1.1 74 1 0-1-3.4a1.8 1.1 74 1 0 1 3.4M65.3 349a1.4 .7 14 1 0-2.7-.7a1.4 .7 14 1 0 2.7 .7M74.6 352.2a1.8 .9 118 1 0 1.7-3.1a1.8 .9 118 1 0-1.7 3.1M80.4 349.4a1.5 .8 14 1 0-2.8-.7a1.5 .8 14 1 0 2.8 .7M96.1 349.8a1.5 1.3 38 1 0-2.4-1.9a1.5 1.3 38 1 0 2.4 1.9M101.2 350.4a1.7 1.1 88 1 0-.1-3.4a1.7 1.1 88 1 0 .1 3.4M106.4 350.6a1.8 1.1 127 1 0 2.1-2.9a1.8 1.1 127 1 0-2.1 2.9M112.7 350.4a1.6 1.3 16 1 0-3-.9a1.6 1.3 16 1 0 3 .9M23.2 354.8a1.8 1.3 59 1 0-1.9-3.1a1.8 1.3 59 1 0 1.9 3.1M55.8 353.2a2 1.4 148 1 0 3.5-2.2a2 1.4 148 1 0-3.5 2.2M77.5 354a2 1.4 17 1 0-3.7-1.2a2 1.4 17 1 0 3.7 1.2M104.1 355.5a1.4 .8 93 1 0 .1-2.7a1.4 .8 93 1 0-.1 2.7M21.8 357.8a1.2 .6 38 1 0-1.9-1.5a1.2 .6 38 1 0 1.9 1.5M32 357.9a1.4 1 119 1 0 1.4-2.5a1.4 1 119 1 0-1.4 2.5M40 358.3a1.3 .9 150 1 0 2.2-1.2a1.3 .9 150 1 0-2.2 1.2M45.1 357.5a2 1.7 80 1 0-.7-4a2 1.7 80 1 0 .7 4M95.4 358.1a1.4 1 12 1 0-2.8-.6a1.4 1 12 1 0 2.8 .6M107.1 358.4a1.4 1.2 69 1 0-1-2.7a1.4 1.2 69 1 0 1 2.7M108.1 358.7a1.7 1 120 1 0 1.7-3a1.7 1 120 1 0-1.7 3M26.5 362.3a1.6 .9 117 1 0 1.5-2.9a1.6 .9 117 1 0-1.5 2.9M54.5 360.6a1.3 .7 89 1 0-.1-2.6a1.3 .7 89 1 0 .1 2.6M76 359.7a2 1.3 9 1 0-3.9-.6a2 1.3 9 1 0 3.9 .6M87.9 362.8a1.6 1 94 1 0 .2-3.2a1.6 1 94 1 0-.2 3.2M98.4 360.8a1.6 .8 49 1 0-2.1-2.4a1.6 .8 49 1 0 2.1 2.4M104 361.2a1.7 1 179 1 0 3.4-.1a1.7 1 179 1 0-3.4 .1M82.2 364.9a1.6 1.2 129 1 0 2-2.5a1.6 1.2 129 1 0-2 2.5M100.9 364.2a1.3 1.1 32 1 0-2.3-1.4a1.3 1.1 32 1 0 2.3 1.4M26.2 368.9a1.5 .8 128 1 0 1.9-2.4a1.5 .8 128 1 0-1.9 2.4M41.2 369.7a1.6 1.3 111 1 0 1.2-3a1.6 1.3 111 1 0-1.2 3M71.7 369a2 1.3 42 1 0-2.9-2.6a2 1.3 42 1 0 2.9 2.6M72.6 366.6a1.2 .9 155 1 0 2.2-1a1.2 .9 155 1 0-2.2 1M84.8 367a1.6 .7 151 1 0 2.7-1.5a1.6 .7 151 1 0-2.7 1.5M89.1 368a1.9 1.2 105 1 0 1-3.8a1.9 1.2 105 1 0-1 3.8M97.8 368.4a1.7 .8 64 1 0-1.5-3.1a1.7 .8 64 1 0 1.5 3.1M106.5 367.7a1.6 1 4 1 0-3.2-.2a1.6 1 4 1 0 3.2 .2M18.5 371a1.8 1.2 116 1 0 1.6-3.2a1.8 1.2 116 1 0-1.6 3.2M40.5 372.3a1.7 1.1 66 1 0-1.4-3.1a1.7 1.1 66 1 0 1.4 3.1M64.3 371.3a1.4 1.1 93 1 0 .2-2.8a1.4 1.1 93 1 0-.2 2.8M73.5 370.2a1.8 1.4 25 1 0-3.3-1.6a1.8 1.4 25 1 0 3.3 1.6M79.7 370.2a1.4 .8 44 1 0-2.1-2a1.4 .8 44 1 0 2.1 2M87 370.4a1.4 .9 5 1 0-2.7-.2a1.4 .9 5 1 0 2.7 .2M89.6 371.5a1.9 .9 130 1 0 2.5-2.9a1.9 .9 130 1 0-2.5 2.9M97.2 371.5a1.3 .9 118 1 0 1.2-2.2a1.3 .9 118 1 0-1.2 2.2M111.7 372.5a1.8 .9 79 1 0-.7-3.5a1.8 .9 79 1 0 .7 3.5M23.2 375.7a2 1.1 78 1 0-.8-3.8a2 1.1 78 1 0 .8 3.8M37.7 374.2a1.8 1 118 1 0 1.7-3.2a1.8 1 118 1 0-1.7 3.2M34.4 379.6a1.8 1.2 138 1 0 2.6-2.4a1.8 1.2 138 1 0-2.6 2.4M68.1 376.9a1.4 1 39 1 0-2.2-1.8a1.4 1 39 1 0 2.2 1.8M76 377.1a1.3 1 64 1 0-1.2-2.4a1.3 1 64 1 0 1.2 2.4M76.6 377.3a1.9 1.2 164 1 0 3.6-1.1a1.9 1.2 164 1 0-3.6 1.1M92.3 378.5a1.8 1.5 142 1 0 2.9-2.2a1.8 1.5 142 1 0-2.9 2.2M38.4 382a1.9 1 113 1 0 1.5-3.6a1.9 1 113 1 0-1.5 3.6M65.7 381.7a1.7 1.4 27 1 0-3.1-1.6a1.7 1.4 27 1 0 3.1 1.6M71.1 380.8a1.3 .7 124 1 0 1.4-2.1a1.3 .7 124 1 0-1.4 2.1M79.7 379.6a1.7 .8 12 1 0-3.4-.7a1.7 .8 12 1 0 3.4 .7M59.3 386.7a2 1.4 96 1 0 .4-3.9a2 1.4 96 1 0-.4 3.9M63.5 384.4a1.4 .9 120 1 0 1.4-2.4a1.4 .9 120 1 0-1.4 2.4M69.1 385.5a1.8 1.1 66 1 0-1.5-3.3a1.8 1.1 66 1 0 1.5 3.3M86.3 385.2a1.4 .7 97 1 0 .3-2.8a1.4 .7 97 1 0-.3 2.8M16.9 386.4a2 1.6 173 1 0 3.9-.5a2 1.6 173 1 0-3.9 .5M60.2 388.2a2 1.4 5 1 0-4.1-.3a2 1.4 5 1 0 4.1 .3M73.8 389.8a1.9 1.5 94 1 0 .2-3.7a1.9 1.5 94 1 0-.2 3.7M86.6 387.7a2 .9 160 1 0 3.8-1.4a2 .9 160 1 0-3.8 1.4M89.9 388.6a1.6 .7 151 1 0 2.8-1.5a1.6 .7 151 1 0-2.8 1.5M104.8 387a1.6 1.1 17 1 0-3-.9a1.6 1.1 17 1 0 3 .9M110.6 388.1a2.1 1.3 11 1 0-4.1-.8a2.1 1.3 11 1 0 4.1 .8M24.2 393.5a2 1 70 1 0-1.4-3.8a2 1 70 1 0 1.4 3.8M39 391.7a1.3 .7 122 1 0 1.4-2.3a1.3 .7 122 1 0-1.4 2.3M55.7 392.2a1.3 1.1 83 1 0-.3-2.6a1.3 1.1 83 1 0 .3 2.6M69.2 393a1.5 1.1 135 1 0 2.2-2.1a1.5 1.1 135 1 0-2.2 2.1M92.9 390.8a1.7 1.2 140 1 0 2.5-2.1a1.7 1.2 140 1 0-2.5 2.1M104.3 390.7a1.6 1.4 28 1 0-2.9-1.5a1.6 1.4 28 1 0 2.9 1.5M66.4 395.1a1.2 .6 43 1 0-1.8-1.7a1.2 .6 43 1 0 1.8 1.7M24.1 400.5a2.1 1.4 96 1 0 .4-4.1a2.1 1.4 96 1 0-.4 4.1M18.9 403.1a1.3 .9 125 1 0 1.5-2.2a1.3 .9 125 1 0-1.5 2.2M51.1 402.4a2 1.3 171 1 0 4-.6a2 1.3 171 1 0-4 .6M55.8 402.8a1.7 1.3 153 1 0 3-1.6a1.7 1.3 153 1 0-3 1.6M102.4 403a1.7 1.2 129 1 0 2.2-2.6a1.7 1.2 129 1 0-2.2 2.6M21.8 404.6a1.7 .8 47 1 0-2.2-2.4a1.7 .8 47 1 0 2.2 2.4M32.2 406.8a1.6 .8 62 1 0-1.4-2.8a1.6 .8 62 1 0 1.4 2.8M55.4 405.3a1.6 .8 144 1 0 2.6-1.9a1.6 .8 144 1 0-2.6 1.9M72 407.4a2.1 1.5 78 1 0-.9-4.1a2.1 1.5 78 1 0 .9 4.1M96.2 406.9a2 1.3 42 1 0-3-2.7a2 1.3 42 1 0 3 2.7M103.9 404.4a1.7 .9 14 1 0-3.3-.8a1.7 .9 14 1 0 3.3 .8M110.6 404.7a1.4 .9 126 1 0 1.7-2.3a1.4 .9 126 1 0-1.7 2.3M58.8 408.2a1.9 1.5 42 1 0-2.8-2.5a1.9 1.5 42 1 0 2.8 2.5M64.4 409.2a1.5 .8 113 1 0 1.2-2.8a1.5 .8 113 1 0-1.2 2.8M74.8 407.5a1.3 .7 37 1 0-2-1.6a1.3 .7 37 1 0 2 1.6M93 408.8a1.5 .7 97 1 0 .4-3a1.5 .7 97 1 0-.4 3M103.4 409.3a1.8 1.3 101 1 0 .7-3.5a1.8 1.3 101 1 0-.7 3.5M29.6 411.7a1.6 1.2 85 1 0-.3-3.2a1.6 1.2 85 1 0 .3 3.2M34 414.1a2 1.6 72 1 0-1.2-3.8a2 1.6 72 1 0 1.2 3.8M62.4 410.4a1.4 1.1 163 1 0 2.6-.8a1.4 1.1 163 1 0-2.6 .8M87.4 411.9a1.5 1.2 86 1 0-.2-3.1a1.5 1.2 86 1 0 .2 3.1M92.5 410.8a1.3 .7 173 1 0 2.5-.3a1.3 .7 173 1 0-2.5 .3M107.7 411a2 1.2 157 1 0 3.6-1.6a2 1.2 157 1 0-3.6 1.6M25.2 415.9a1.6 1 128 1 0 1.9-2.5a1.6 1 128 1 0-1.9 2.5M51.7 414.7a1.4 1 23 1 0-2.5-1.1a1.4 1 23 1 0 2.5 1.1M91 416a1.6 1.2 162 1 0 3-1a1.6 1.2 162 1 0-3 1M21.9 417.4a1.6 1.1 179 1 0 3.1-0a1.6 1.1 179 1 0-3.1 0M33.5 420.9a1.7 1.4 85 1 0-.3-3.5a1.7 1.4 85 1 0 .3 3.5M49.3 419a1.6 1.3 34 1 0-2.7-1.8a1.6 1.3 34 1 0 2.7 1.8M74.7 419.2a1.9 1.1 69 1 0-1.4-3.6a1.9 1.1 69 1 0 1.4 3.6M77.4 419.2a2 1.4 167 1 0 4-.9a2 1.4 167 1 0-4 .9M84 420.2a1.7 1.3 43 1 0-2.5-2.3a1.7 1.3 43 1 0 2.5 2.3M88.2 419.8a1.7 1.3 51 1 0-2.1-2.6a1.7 1.3 51 1 0 2.1 2.6M91.6 418.6a2.1 1.3 102 1 0 .9-4a2.1 1.3 102 1 0-.9 4M25.6 421.4a1.4 .8 110 1 0 1-2.6a1.4 .8 110 1 0-1 2.6M29.4 421.3a1.4 .6 98 1 0 .4-2.7a1.4 .6 98 1 0-.4 2.7M86.6 421.8a1.5 1.2 69 1 0-1-2.7a1.5 1.2 69 1 0 1 2.7M98.9 421.2a1.8 1.4 178 1 0 3.5-.1a1.8 1.4 178 1 0-3.5 .1M104.1 420.8a1.3 .8 168 1 0 2.5-.5a1.3 .8 168 1 0-2.5 .5M25.5 426.7a2.1 1.5 89 1 0-.1-4.1a2.1 1.5 89 1 0 .1 4.1M40.1 424.5a1.7 .8 27 1 0-3.1-1.6a1.7 .8 27 1 0 3.1 1.6M69.3 427.2a1.7 .8 119 1 0 1.6-2.9a1.7 .8 119 1 0-1.6 2.9M85 424.6a1.9 1.5 139 1 0 2.8-2.4a1.9 1.5 139 1 0-2.8 2.4M94.7 426.4a1.6 .8 28 1 0-2.8-1.5a1.6 .8 28 1 0 2.8 1.5M97.8 426.5a1.5 1.2 151 1 0 2.7-1.5a1.5 1.2 151 1 0-2.7 1.5M100.2 425a1.2 .6 162 1 0 2.3-.8a1.2 .6 162 1 0-2.3 .8M105.7 424.5a2 1.6 139 1 0 3-2.6a2 1.6 139 1 0-3 2.6M23.2 427.7a1.5 .7 24 1 0-2.8-1.2a1.5 .7 24 1 0 2.8 1.2M66.8 427.6a1.9 .9 5 1 0-3.8-.4a1.9 .9 5 1 0 3.8 .4M77.3 429.4a2.1 .9 65 1 0-1.7-3.8a2.1 .9 65 1 0 1.7 3.8M82.1 429.1a1.3 1.1 37 1 0-2.1-1.6a1.3 1.1 37 1 0 2.1 1.6M87.7 430.7a1.8 1.1 128 1 0 2.2-2.8a1.8 1.1 128 1 0-2.2 2.8M102.8 429.1a1.7 .8 6 1 0-3.3-.3a1.7 .8 6 1 0 3.3 .3M25.4 431.1a1.3 .7 8 1 0-2.5-.4a1.3 .7 8 1 0 2.5 .4M53.3 432.7a1.5 .9 158 1 0 2.7-1.1a1.5 .9 158 1 0-2.7 1.1M16.8 434.8a2.1 1.2 157 1 0 3.8-1.6a2.1 1.2 157 1 0-3.8 1.6M22.8 435.2a1.4 1 17 1 0-2.6-.8a1.4 1 17 1 0 2.6 .8M28.9 434.7a2 1.2 177 1 0 4-.2a2 1.2 177 1 0-4 .2M40.2 434.5a1.8 1.4 29 1 0-3.2-1.8a1.8 1.4 29 1 0 3.2 1.8M39.5 434.5a1.3 1 167 1 0 2.6-.6a1.3 1 167 1 0-2.6 .6M53.5 435.5a1.7 1.3 82 1 0-.5-3.4a1.7 1.3 82 1 0 .5 3.4M58 436.2a1.4 .8 10 1 0-2.7-.5a1.4 .8 10 1 0 2.7 .5M71.3 434.2a1.9 1.5 167 1 0 3.6-.9a1.9 1.5 167 1 0-3.6 .9M99.7 435.8a1.9 1.3 141 1 0 3-2.4a1.9 1.3 141 1 0-3 2.4M105.5 435.2a1.5 .7 80 1 0-.5-2.9a1.5 .7 80 1 0 .5 2.9M24.3 438.9a1.3 1.1 43 1 0-1.9-1.7a1.3 1.1 43 1 0 1.9 1.7M29.8 439.7a2 1.3 21 1 0-3.6-1.4a2 1.3 21 1 0 3.6 1.4M36.4 439.5a1.5 1.2 9 1 0-3-.5a1.5 1.2 9 1 0 3 .5M55.8 439.3a1.6 1.2 14 1 0-3.1-.8a1.6 1.2 14 1 0 3.1 .8M41 441.4a2 1.1 166 1 0 3.8-.9a2 1.1 166 1 0-3.8 .9M61.7 441.9a1.3 .9 32 1 0-2.1-1.3a1.3 .9 32 1 0 2.1 1.3M74.6 442.5a2 1.5 155 1 0 3.7-1.7a2 1.5 155 1 0-3.7 1.7M79 443a1.4 .7 145 1 0 2.3-1.6a1.4 .7 145 1 0-2.3 1.6M18.4 445.7a1.9 1.1 127 1 0 2.3-3.1a1.9 1.1 127 1 0-2.3 3.1M57.4 445.8a1.2 .9 30 1 0-2.2-1.2a1.2 .9 30 1 0 2.2 1.2M84.9 445.5a1.9 1.1 169 1 0 3.8-.7a1.9 1.1 169 1 0-3.8 .7M92.8 445.6a1.9 1.2 113 1 0 1.5-3.6a1.9 1.2 113 1 0-1.5 3.6M106.9 446.3a1.8 1.4 104 1 0 .9-3.4a1.8 1.4 104 1 0-.9 3.4M112.1 446a1.8 1.3 48 1 0-2.4-2.8a1.8 1.3 48 1 0 2.4 2.8M60.8 451.1a2.1 1.6 16 1 0-4-1.2a2.1 1.6 16 1 0 4 1.2M62 452.6a1.7 1.3 132 1 0 2.3-2.6a1.7 1.3 132 1 0-2.3 2.6M65.3 452.1a1.2 .8 133 1 0 1.6-1.8a1.2 .8 133 1 0-1.6 1.8M74.1 452.7a2 .9 140 1 0 3-2.6a2 .9 140 1 0-3 2.6M90.2 452.8a1.4 1.1 115 1 0 1.2-2.5a1.4 1.1 115 1 0-1.2 2.5M95.9 454.5a2.1 1.5 47 1 0-2.8-3a2.1 1.5 47 1 0 2.8 3"/>
<path fill="#a199a2" fill-opacity=".85" d="M24.8 320.3a1.7 1.1 127 1 0 2.1-2.7a1.7 1.1 127 1 0-2.1 2.7M36.4 320.3a1.4 .8 45 1 0-2-2.1a1.4 .8 45 1 0 2 2.1M71.3 318.9a1.2 1 170 1 0 2.4-.4a1.2 1 170 1 0-2.4 .4M21.7 323.3a1.5 .8 64 1 0-1.3-2.7a1.5 .8 64 1 0 1.3 2.7M42.7 324a1.6 1.2 23 1 0-2.9-1.2a1.6 1.2 23 1 0 2.9 1.2M70.6 323.3a1.8 1.4 170 1 0 3.6-.6a1.8 1.4 170 1 0-3.6 .6M23.5 326.5a1.4 .8 26 1 0-2.5-1.2a1.4 .8 26 1 0 2.5 1.2M33.2 325.1a1.9 .9 180 1 0 3.8-0a1.9 .9 180 1 0-3.8 0M71.1 325.5a1.8 1.3 6 1 0-3.6-.4a1.8 1.3 6 1 0 3.6 .4M93.2 325.7a1.6 1 15 1 0-3.2-.9a1.6 1 15 1 0 3.2 .9M99.6 326.9a1.4 .7 123 1 0 1.5-2.3a1.4 .7 123 1 0-1.5 2.3M86.4 330.9a1.8 .9 74 1 0-1-3.5a1.8 .9 74 1 0 1 3.5M88.8 332.1a1.7 1.1 122 1 0 1.8-2.9a1.7 1.1 122 1 0-1.8 2.9M94.5 330.8a1.3 .7 35 1 0-2.1-1.5a1.3 .7 35 1 0 2.1 1.5M112.6 329.4a1.6 .8 34 1 0-2.6-1.7a1.6 .8 34 1 0 2.6 1.7M42 333.6a1.5 .8 142 1 0 2.4-1.9a1.5 .8 142 1 0-2.4 1.9M53.3 334.5a1.3 1 170 1 0 2.6-.5a1.3 1 170 1 0-2.6 .5M65.9 334.4a1.6 1.2 47 1 0-2.2-2.3a1.6 1.2 47 1 0 2.2 2.3M78.4 334.8a1.6 .8 27 1 0-2.9-1.5a1.6 .8 27 1 0 2.9 1.5M104.1 333.5a1.5 .7 124 1 0 1.6-2.4a1.5 .7 124 1 0-1.6 2.4M63.3 338.9a1.5 1.2 111 1 0 1.1-2.7a1.5 1.2 111 1 0-1.1 2.7M74.4 336.8a1.8 1.1 73 1 0-1-3.4a1.8 1.1 73 1 0 1 3.4M106.5 337.4a2 1.4 60 1 0-2-3.5a2 1.4 60 1 0 2 3.5M66.7 341.3a2 1.1 32 1 0-3.5-2.2a2 1.1 32 1 0 3.5 2.2M107.5 340.4a1.9 1.2 129 1 0 2.4-3a1.9 1.2 129 1 0-2.4 3M44.8 343.9a1.8 1.4 178 1 0 3.6-.1a1.8 1.4 178 1 0-3.6 .1M62.5 345a1.8 1.5 145 1 0 2.9-2a1.8 1.5 145 1 0-2.9 2M33.4 349.6a2.1 1.6 118 1 0 2-3.7a2.1 1.6 118 1 0-2 3.7M59.5 348.3a1.7 .9 121 1 0 1.8-2.9a1.7 .9 121 1 0-1.8 2.9M81.8 347.1a1.6 1.3 28 1 0-2.9-1.5a1.6 1.3 28 1 0 2.9 1.5M91 347.5a2.1 1.3 102 1 0 .9-4a2.1 1.3 102 1 0-.9 4M29 350.2a1.4 1 57 1 0-1.5-2.4a1.4 1 57 1 0 1.5 2.4M45.7 351.2a1.9 1.4 152 1 0 3.4-1.8a1.9 1.4 152 1 0-3.4 1.8M54.3 349.8a1.3 .7 137 1 0 1.9-1.8a1.3 .7 137 1 0-1.9 1.8M84.3 355.5a2 1.6 149 1 0 3.5-2.1a2 1.6 149 1 0-3.5 2.1M96 353.3a1.6 1 167 1 0 3.1-.7a1.6 1 167 1 0-3.1 .7M65.7 357.9a2.1 1.6 178 1 0 4.1-.1a2.1 1.6 178 1 0-4.1 .1M72.8 355.4a1.8 1 1 1 0-3.5-.1a1.8 1 1 1 0 3.5 .1M76.2 358.9a1.9 1.6 83 1 0-.4-3.8a1.9 1.6 83 1 0 .4 3.8M87.7 356.6a1.5 1.3 35 1 0-2.5-1.7a1.5 1.3 35 1 0 2.5 1.7M100.7 357.6a1.9 1 102 1 0 .8-3.7a1.9 1 102 1 0-.8 3.7M45.2 361.8a1.5 .8 77 1 0-.6-2.9a1.5 .8 77 1 0 .6 2.9M63.2 360a1.4 .8 54 1 0-1.7-2.3a1.4 .8 54 1 0 1.7 2.3M80.3 359.7a1.9 1.2 172 1 0 3.9-.5a1.9 1.2 172 1 0-3.9 .5M92.1 360.2a1.4 .9 131 1 0 1.8-2.1a1.4 .9 131 1 0-1.8 2.1M44.2 364.3a1.5 1.3 105 1 0 .8-2.9a1.5 1.3 105 1 0-.8 2.9M66.9 364.8a2.1 1.2 103 1 0 1-4a2.1 1.2 103 1 0-1 4M87.6 365.2a1.8 1.1 16 1 0-3.4-.9a1.8 1.1 16 1 0 3.4 .9M32.4 367a1.9 .9 178 1 0 3.7-.1a1.9 .9 178 1 0-3.7 .1M23 372.8a1.9 1.5 124 1 0 2.2-3.2a1.9 1.5 124 1 0-2.2 3.2M32.2 371.1a1.5 .9 81 1 0-.5-2.9a1.5 .9 81 1 0 .5 2.9M36.2 372.5a1.9 1.6 81 1 0-.6-3.7a1.9 1.6 81 1 0 .6 3.7M55.5 373.1a1.7 1.2 106 1 0 1-3.4a1.7 1.2 106 1 0-1 3.4M61 370.3a1.7 1.3 11 1 0-3.3-.7a1.7 1.3 11 1 0 3.3 .7M102.8 372.9a1.8 1.5 112 1 0 1.4-3.4a1.8 1.5 112 1 0-1.4 3.4M59.2 375a2 1.4 70 1 0-1.3-3.7a2 1.4 70 1 0 1.3 3.7M80 374.2a1.8 1 135 1 0 2.6-2.6a1.8 1 135 1 0-2.6 2.6M86.9 373.8a1.7 .8 133 1 0 2.3-2.5a1.7 .8 133 1 0-2.3 2.5M92.3 376.1a1.6 1 115 1 0 1.4-2.9a1.6 1 115 1 0-1.4 2.9M99.3 374.1a2 1.2 5 1 0-4-.4a2 1.2 5 1 0 4 .4M32.7 379.3a2.1 1.1 78 1 0-.8-4.1a2.1 1.1 78 1 0 .8 4.1M83.1 378.5a1.2 .9 78 1 0-.5-2.4a1.2 .9 78 1 0 .5 2.4M100 378.4a1.6 1 46 1 0-2.2-2.2a1.6 1 46 1 0 2.2 2.2M105.5 378.4a1.6 .7 110 1 0 1.1-3.1a1.6 .7 110 1 0-1.1 3.1M110.4 379.1a1.6 1.3 61 1 0-1.5-2.8a1.6 1.3 61 1 0 1.5 2.8M19 379.6a1.6 .9 6 1 0-3.2-.3a1.6 .9 6 1 0 3.2 .3M52.2 380.9a1.3 .9 133 1 0 1.8-1.9a1.3 .9 133 1 0-1.8 1.9M68.4 380.5a2 1.3 179 1 0 3.9-.1a2 1.3 179 1 0-3.9 .1M108.5 380.9a1.8 1.4 28 1 0-3.2-1.7a1.8 1.4 28 1 0 3.2 1.7M54 386.6a1.6 1.3 112 1 0 1.2-2.9a1.6 1.3 112 1 0-1.2 2.9M75 385.5a1.3 .9 127 1 0 1.6-2a1.3 .9 127 1 0-1.6 2M85.3 385.7a1.9 1.4 16 1 0-3.6-1a1.9 1.4 16 1 0 3.6 1M105 383.6a1.7 1.4 177 1 0 3.4-.2a1.7 1.4 177 1 0-3.4 .2M60.1 389.8a1.9 1 126 1 0 2.2-3a1.9 1 126 1 0-2.2 3M67 386.9a1.2 .7 55 1 0-1.4-2a1.2 .7 55 1 0 1.4 2M68.8 388.9a1.3 .7 72 1 0-.8-2.5a1.3 .7 72 1 0 .8 2.5M80.1 389.7a1.5 1.3 86 1 0-.2-3.1a1.5 1.3 86 1 0 .2 3.1M30.5 392a2 1.6 37 1 0-3.1-2.4a2 1.6 37 1 0 3.1 2.4M47 392.7a1.9 1.3 91 1 0 .1-3.7a1.9 1.3 91 1 0-.1 3.7M68.3 391.4a1.3 .7 56 1 0-1.4-2.1a1.3 .7 56 1 0 1.4 2.1M56.9 395.3a1.4 .8 93 1 0 .2-2.9a1.4 .8 93 1 0-.2 2.9M90 394.4a1.4 .9 158 1 0 2.6-1.1a1.4 .9 158 1 0-2.6 1.1M87.2 397.9a1.7 1 40 1 0-2.5-2.1a1.7 1 40 1 0 2.5 2.1M108.3 397.8a1.9 1.6 5 1 0-3.8-.3a1.9 1.6 5 1 0 3.8 .3M31.6 401.2a2 1.4 21 1 0-3.7-1.4a2 1.4 21 1 0 3.7 1.4M72.1 403.4a1.9 1.3 94 1 0 .3-3.9a1.9 1.3 94 1 0-.3 3.9M76 401.4a1.8 .8 149 1 0 3.1-1.9a1.8 .8 149 1 0-3.1 1.9M98.6 402.9a1.8 1.4 35 1 0-3-2.1a1.8 1.4 35 1 0 3 2.1M29.1 407.2a2 1.5 72 1 0-1.2-3.8a2 1.5 72 1 0 1.2 3.8M82.8 406.7a1.4 .7 127 1 0 1.7-2.2a1.4 .7 127 1 0-1.7 2.2M48.3 407.2a1.3 .7 11 1 0-2.6-.5a1.3 .7 11 1 0 2.6 .5M77.6 408a2 1 174 1 0 3.9-.4a2 1 174 1 0-3.9 .4M100.2 411.7a1.5 1.2 73 1 0-.8-2.8a1.5 1.2 73 1 0 .8 2.8M21.4 416.8a1.8 1.2 85 1 0-.3-3.5a1.8 1.2 85 1 0 .3 3.5M41.9 414.8a1.2 .7 65 1 0-1-2.2a1.2 .7 65 1 0 1 2.2M84.3 416.4a1.7 1.2 100 1 0 .6-3.4a1.7 1.2 100 1 0-.6 3.4M106.7 416.4a1.3 1.1 148 1 0 2.3-1.4a1.3 1.1 148 1 0-2.3 1.4M18.6 419.7a1.3 .7 145 1 0 2.1-1.5a1.3 .7 145 1 0-2.1 1.5M52 418.7a1.8 1.4 76 1 0-.9-3.5a1.8 1.4 76 1 0 .9 3.5M55.5 417.9a1.8 1.4 135 1 0 2.6-2.6a1.8 1.4 135 1 0-2.6 2.6M66.2 420a1.4 .8 134 1 0 2-2.1a1.4 .8 134 1 0-2 2.1M51.4 421.3a1.8 1 35 1 0-3-2.1a1.8 1 35 1 0 3 2.1M51.2 423a1.9 1.1 157 1 0 3.6-1.5a1.9 1.1 157 1 0-3.6 1.5M107.3 424.2a2.1 .9 106 1 0 1.2-4a2.1 .9 106 1 0-1.2 4M21.2 425.7a1.7 1.2 107 1 0 1-3.3a1.7 1.2 107 1 0-1 3.3M25.6 428.7a1.9 1.2 130 1 0 2.5-2.9a1.9 1.2 130 1 0-2.5 2.9M35.6 428.9a1.9 1.2 16 1 0-3.7-1a1.9 1.2 16 1 0 3.7 1M37.3 429.4a2 1.6 135 1 0 2.8-2.7a2 1.6 135 1 0-2.8 2.7M36.9 433a1.7 1 76 1 0-.8-3.4a1.7 1 76 1 0 .8 3.4M48.1 433a1.5 1.1 46 1 0-2.1-2.2a1.5 1.1 46 1 0 2.1 2.2M97.3 430.4a1.7 .8 180 1 0 3.5-0a1.7 .8 180 1 0-3.5 0M96.4 435.6a1.8 .9 135 1 0 2.6-2.6a1.8 .9 135 1 0-2.6 2.6M37.8 438.3a2.1 1.4 165 1 0 4-1.1a2.1 1.4 165 1 0-4 1.1M43.2 439.1a1.9 .9 117 1 0 1.7-3.4a1.9 .9 117 1 0-1.7 3.4M74.5 439.3a1.8 1 78 1 0-.8-3.5a1.8 1 78 1 0 .8 3.5M80 437.5a1.8 1 179 1 0 3.6-.1a1.8 1 179 1 0-3.6 .1M111.3 439.9a1.3 1 35 1 0-2.1-1.5a1.3 1 35 1 0 2.1 1.5M62.6 441.4a1.7 1.4 156 1 0 3.1-1.4a1.7 1.4 156 1 0-3.1 1.4M70 443.9a1.4 .7 92 1 0 .1-2.8a1.4 .7 92 1 0-.1 2.8M93.6 440.9a2.1 1.5 13 1 0-4-.9a2.1 1.5 13 1 0 4 .9M104.9 442.9a1.4 .8 99 1 0 .4-2.8a1.4 .8 99 1 0-.4 2.8M29.9 446.7a1.8 1.4 70 1 0-1.2-3.4a1.8 1.4 70 1 0 1.2 3.4M91.5 445.2a2.1 1.2 3 1 0-4.2-.2a2.1 1.2 3 1 0 4.2 .2M97.9 447.7a2 1.4 122 1 0 2.1-3.4a2 1.4 122 1 0-2.1 3.4M23.3 450.4a1.9 1 35 1 0-3.2-2.2a1.9 1 35 1 0 3.2 2.2M25.4 448.5a1.3 .7 140 1 0 2.1-1.7a1.3 .7 140 1 0-2.1 1.7M33.1 451.2a2 1.2 128 1 0 2.5-3.2a2 1.2 128 1 0-2.5 3.2M88.1 451.3a1.7 .9 86 1 0-.2-3.3a1.7 .9 86 1 0 .2 3.3M56.1 453.4a2.1 1.3 38 1 0-3.3-2.6a2.1 1.3 38 1 0 3.3 2.6M80.9 452a1.9 1.2 29 1 0-3.3-1.8a1.9 1.2 29 1 0 3.3 1.8M105.2 452.8a1.7 1.2 15 1 0-3.3-.9a1.7 1.2 15 1 0 3.3 .9M105.2 452a2.1 1.7 158 1 0 3.9-1.6a2.1 1.7 158 1 0-3.9 1.6"/>
<path fill="#8e7260" fill-opacity=".85" d="M29.7 321.9a1.8 1 117 1 0 1.6-3.1a1.8 1 117 1 0-1.6 3.1M24.7 332.2a1.6 1.2 70 1 0-1.1-3.1a1.6 1.2 70 1 0 1.1 3.1M34.2 331.2a1.4 .8 131 1 0 1.9-2.1a1.4 .8 131 1 0-1.9 2.1M22.9 333.1a1.2 .9 47 1 0-1.6-1.8a1.2 .9 47 1 0 1.6 1.8M36.9 339.7a1.5 .9 16 1 0-2.9-.8a1.5 .9 16 1 0 2.9 .8M43.1 346.2a1.8 1.4 5 1 0-3.6-.3a1.8 1.4 5 1 0 3.6 .3M25.4 350.1a2 1.5 7 1 0-4-.5a2 1.5 7 1 0 4 .5M32.8 351.9a2 1.6 40 1 0-3-2.6a2 1.6 40 1 0 3 2.6M35.5 351.5a1.6 1.2 66 1 0-1.4-3a1.6 1.2 66 1 0 1.4 3M72.5 350.9a1.6 .9 24 1 0-2.9-1.3a1.6 .9 24 1 0 2.9 1.3M74.3 352.9a1.7 1.3 5 1 0-3.5-.3a1.7 1.3 5 1 0 3.5 .3M57 356.8a1.9 1.3 24 1 0-3.5-1.6a1.9 1.3 24 1 0 3.5 1.6M110.5 360.3a1.6 1 10 1 0-3.2-.6a1.6 1 10 1 0 3.2 .6M21.2 365.5a1.8 .9 92 1 0 .1-3.7a1.8 .9 92 1 0-.1 3.7M50 369.3a1.9 1.2 42 1 0-2.8-2.5a1.9 1.2 42 1 0 2.8 2.5M26.9 373.3a1.6 1.2 8 1 0-3.2-.4a1.6 1.2 8 1 0 3.2 .4M63 377.6a1.6 1.2 111 1 0 1.1-2.9a1.6 1.2 111 1 0-1.1 2.9M34.5 381.9a1.6 1.2 62 1 0-1.5-2.9a1.6 1.2 62 1 0 1.5 2.9M43.1 381.4a1.9 1.6 13 1 0-3.8-.9a1.9 1.6 13 1 0 3.8 .9M84.3 387.7a1.8 1.2 165 1 0 3.5-1a1.8 1.2 165 1 0-3.5 1M87.7 390.4a1.6 1.1 37 1 0-2.5-1.9a1.6 1.1 37 1 0 2.5 1.9M45.1 394.2a2 1 6 1 0-3.9-.4a2 1 6 1 0 3.9 .4M38.1 398.9a1.2 .8 34 1 0-2-1.4a1.2 .8 34 1 0 2 1.4M75.4 398.3a1.3 1 64 1 0-1.1-2.3a1.3 1 64 1 0 1.1 2.3M49.8 408.6a1.4 .9 106 1 0 .8-2.8a1.4 .9 106 1 0-.8 2.8M96 410a1.4 1.1 89 1 0-0-2.8a1.4 1.1 89 1 0 0 2.8M47.7 413a1.9 1.1 76 1 0-.9-3.6a1.9 1.1 76 1 0 .9 3.6M54.2 411.5a1.7 1.3 96 1 0 .4-3.3a1.7 1.3 96 1 0-.4 3.3M83.4 413.1a1.5 .9 74 1 0-.8-2.9a1.5 .9 74 1 0 .8 2.9M91 413.3a1.5 .7 86 1 0-.2-2.9a1.5 .7 86 1 0 .2 2.9M47.2 414.6a1.4 .9 54 1 0-1.6-2.3a1.4 .9 54 1 0 1.6 2.3M77.5 414.5a1.5 1 27 1 0-2.6-1.3a1.5 1 27 1 0 2.6 1.3M90 420.2a1.4 .8 8 1 0-2.8-.4a1.4 .8 8 1 0 2.8 .4M50.9 429.7a1.4 .7 93 1 0 .2-2.8a1.4 .7 93 1 0-.2 2.8M30.9 430.9a2.1 1.5 15 1 0-4-1.1a2.1 1.5 15 1 0 4 1.1M52.2 434.9a1.9 1.5 34 1 0-3.2-2.2a1.9 1.5 34 1 0 3.2 2.2M60.9 437.2a1.8 1 121 1 0 1.9-3.1a1.8 1 121 1 0-1.9 3.1M26.8 441.7a1.7 .9 24 1 0-3-1.4a1.7 .9 24 1 0 3 1.4M30.4 443.4a2.1 1.2 57 1 0-2.2-3.4a2.1 1.2 57 1 0 2.2 3.4M46.8 440.5a1.4 1.1 4 1 0-2.7-.2a1.4 1.1 4 1 0 2.7 .2M68.4 445a1.5 .7 11 1 0-2.8-.6a1.5 .7 11 1 0 2.8 .6M27.5 453.7a1.5 .7 111 1 0 1.1-2.8a1.5 .7 111 1 0-1.1 2.8"/>
<path fill="#94765f" fill-opacity=".85" d="M40.3 319.3a1.8 .9 8 1 0-3.7-.5a1.8 .9 8 1 0 3.7 .5M58.4 319.4a1.5 .8 9 1 0-3-.5a1.5 .8 9 1 0 3 .5M59 321.4a1.5 .8 142 1 0 2.4-1.8a1.5 .8 142 1 0-2.4 1.8M66.1 322.9a1.7 1 172 1 0 3.3-.5a1.7 1 172 1 0-3.3 .5M33.3 333.2a1.3 .8 133 1 0 1.7-1.8a1.3 .8 133 1 0-1.7 1.8M62.1 333.1a1.9 1.3 22 1 0-3.4-1.4a1.9 1.3 22 1 0 3.4 1.4M31.9 339.1a1.8 1.3 80 1 0-.6-3.5a1.8 1.3 80 1 0 .6 3.5M72.7 344.7a1.8 1.1 168 1 0 3.6-.7a1.8 1.1 168 1 0-3.6 .7M37.2 354.9a1.4 .8 80 1 0-.5-2.7a1.4 .8 80 1 0 .5 2.7M56.8 364.2a1.7 1 68 1 0-1.3-3.2a1.7 1 68 1 0 1.3 3.2M66.7 374.6a1.4 1.2 76 1 0-.7-2.8a1.4 1.2 76 1 0 .7 2.8M58.2 382.5a1.5 1.1 110 1 0 1-2.7a1.5 1.1 110 1 0-1 2.7M33.8 383.9a1.3 .6 57 1 0-1.4-2.2a1.3 .6 57 1 0 1.4 2.2M50.5 389.5a1.2 .6 117 1 0 1.1-2.2a1.2 .6 117 1 0-1.1 2.2M46.7 399.2a1.8 1.4 144 1 0 2.9-2.2a1.8 1.4 144 1 0-2.9 2.2M77.2 399.4a2 1.3 121 1 0 2-3.4a2 1.3 121 1 0-2 3.4M81.3 402.2a2.1 1.3 38 1 0-3.3-2.6a2.1 1.3 38 1 0 3.3 2.6M84.9 401.1a1.3 .7 53 1 0-1.6-2.1a1.3 .7 53 1 0 1.6 2.1M22.1 405.5a1.5 1.2 141 1 0 2.3-1.8a1.5 1.2 141 1 0-2.3 1.8M53.3 407.6a1.8 .9 152 1 0 3.1-1.6a1.8 .9 152 1 0-3.1 1.6M60.3 406.4a1.4 1 178 1 0 2.7-.1a1.4 1 178 1 0-2.7 .1M83.6 408.8a1.6 .8 131 1 0 2.1-2.5a1.6 .8 131 1 0-2.1 2.5M22.9 412.8a1.3 1 134 1 0 1.7-1.8a1.3 1 134 1 0-1.7 1.8M33.6 417.5a2 1.2 87 1 0-.2-4a2 1.2 87 1 0 .2 4M38.7 413.9a1.5 1.2 21 1 0-2.8-1a1.5 1.2 21 1 0 2.8 1M58.9 416.7a1.7 1.3 73 1 0-1-3.2a1.7 1.3 73 1 0 1 3.2M51.9 426.1a1.4 .8 85 1 0-.3-2.8a1.4 .8 85 1 0 .3 2.8M32 431.9a1.6 1 63 1 0-1.4-2.8a1.6 1 63 1 0 1.4 2.8M42.3 432.4a1.8 1.3 137 1 0 2.6-2.5a1.8 1.3 137 1 0-2.6 2.5M64 432.8a1.5 1.2 85 1 0-.2-2.9a1.5 1.2 85 1 0 .2 2.9M70.4 432.3a2 1.7 5 1 0-4.1-.3a2 1.7 5 1 0 4.1 .3M85.5 432.5a1.6 1.4 138 1 0 2.4-2.1a1.6 1.4 138 1 0-2.4 2.1M99.2 442.3a2 1 92 1 0 .1-4a2 1 92 1 0-.1 4M39.4 446.4a1.8 1 148 1 0 3-1.9a1.8 1 148 1 0-3 1.9M69.3 444.2a2 1.3 166 1 0 3.8-.9a2 1.3 166 1 0-3.8 .9M53.6 449.5a1.9 1.5 61 1 0-1.8-3.2a1.9 1.5 61 1 0 1.8 3.2"/>
<path fill="#a2846e" fill-opacity=".85" d="M39.5 320.9a2 1.6 154 1 0 3.6-1.8a2 1.6 154 1 0-3.6 1.8M59.8 324a2.1 1.1 52 1 0-2.5-3.2a2.1 1.1 52 1 0 2.5 3.2M84.3 325a1.6 1.2 74 1 0-.9-3a1.6 1.2 74 1 0 .9 3M76.3 332.1a1.8 1.2 87 1 0-.2-3.6a1.8 1.2 87 1 0 .2 3.6M37.1 337.8a1.9 1.5 32 1 0-3.3-2a1.9 1.5 32 1 0 3.3 2M30.3 342.5a1.4 1.1 97 1 0 .3-2.8a1.4 1.1 97 1 0-.3 2.8M92.5 341.9a1.9 1.2 96 1 0 .4-3.8a1.9 1.2 96 1 0-.4 3.8M73.1 347.4a2 1.2 117 1 0 1.8-3.6a2 1.2 117 1 0-1.8 3.6M15.8 355.4a1.8 1.3 140 1 0 2.7-2.3a1.8 1.3 140 1 0-2.7 2.3M61.1 358.7a1.8 1 61 1 0-1.7-3.1a1.8 1 61 1 0 1.7 3.1M47 370.5a1.5 1.1 94 1 0 .2-3a1.5 1.1 94 1 0-.2 3M33.6 374a1.7 1.4 97 1 0 .4-3.4a1.7 1.4 97 1 0-.4 3.4M73.2 375.6a1.4 1 112 1 0 1-2.5a1.4 1 112 1 0-1 2.5M69.1 385.2a1.4 .6 161 1 0 2.6-.9a1.4 .6 161 1 0-2.6 .9M102 384.4a1.3 .8 135 1 0 1.9-1.9a1.3 .8 135 1 0-1.9 1.9M28.3 387.1a1.2 .8 171 1 0 2.4-.4a1.2 .8 171 1 0-2.4 .4M36.8 392.1a1.3 .8 15 1 0-2.5-.7a1.3 .8 15 1 0 2.5 .7M43.9 392.1a1.7 .8 89 1 0-0-3.5a1.7 .8 89 1 0 0 3.5M20.5 396a1.4 1 152 1 0 2.4-1.3a1.4 1 152 1 0-2.4 1.3M25.1 394.3a1.7 1.1 103 1 0 .8-3.2a1.7 1.1 103 1 0-.8 3.2M48.3 396.8a1.6 .9 91 1 0 .1-3.3a1.6 .9 91 1 0-.1 3.3M26.8 403.7a2 1.6 73 1 0-1.2-3.9a2 1.6 73 1 0 1.2 3.9M35.8 401.9a1.9 .9 146 1 0 3.1-2.1a1.9 .9 146 1 0-3.1 2.1M48.8 403.2a1.9 1.2 130 1 0 2.4-2.8a1.9 1.2 130 1 0-2.4 2.8M98.3 402.1a1.3 .7 166 1 0 2.6-.6a1.3 .7 166 1 0-2.6 .6M32 409.5a1.5 .8 158 1 0 2.8-1.1a1.5 .8 158 1 0-2.8 1.1M60 411.9a1.7 1.2 74 1 0-1-3.4a1.7 1.2 74 1 0 1 3.4M79.7 413.1a1.9 1.5 90 1 0 0-3.9a1.9 1.5 90 1 0-0 3.9M16.6 415.6a1.3 .9 165 1 0 2.4-.7a1.3 .9 165 1 0-2.4 .7M62.1 415a1.5 1.2 22 1 0-2.7-1.1a1.5 1.2 22 1 0 2.7 1.1M110.9 419.4a2.1 1.2 22 1 0-3.8-1.5a2.1 1.2 22 1 0 3.8 1.5M24.8 422.5a1.6 .9 14 1 0-3.2-.8a1.6 .9 14 1 0 3.2 .8M55.8 426.4a2 1.3 63 1 0-1.8-3.6a2 1.3 63 1 0 1.8 3.6M58.9 425.8a1.2 .8 65 1 0-1-2.2a1.2 .8 65 1 0 1 2.2M77.1 424.9a2 1 23 1 0-3.7-1.5a2 1 23 1 0 3.7 1.5M58.3 428.9a1.3 1.1 81 1 0-.4-2.6a1.3 1.1 81 1 0 .4 2.6M66 436a1.3 .7 9 1 0-2.6-.4a1.3 .7 9 1 0 2.6 .4M59.6 439.7a1.7 1.5 70 1 0-1.1-3.2a1.7 1.5 70 1 0 1.1 3.2M70.3 440a2 1.5 109 1 0 1.3-3.7a2 1.5 109 1 0-1.3 3.7M54.8 443.4a1.4 .8 83 1 0-.4-2.8a1.4 .8 83 1 0 .4 2.8M39.6 448.6a1.6 1.2 155 1 0 2.8-1.3a1.6 1.2 155 1 0-2.8 1.3M49.8 450a1.6 1 128 1 0 2-2.5a1.6 1 128 1 0-2 2.5M56.8 448a2 1.4 179 1 0 3.9-.1a2 1.4 179 1 0-3.9 .1M75.3 449.1a1.3 .8 4 1 0-2.6-.2a1.3 .8 4 1 0 2.6 .2M94.6 451a1.9 1.3 70 1 0-1.2-3.5a1.9 1.3 70 1 0 1.2 3.5M96.3 449.4a1.7 .8 122 1 0 1.8-2.9a1.7 .8 122 1 0-1.8 2.9M47.8 453.8a1.6 1.3 111 1 0 1.1-2.9a1.6 1.3 111 1 0-1.1 2.9"/>
<path fill="#8f8896" fill-opacity=".85" d="M45.3 319.6a1.4 1 73 1 0-.8-2.7a1.4 1 73 1 0 .8 2.7M70.4 320.6a1.9 1.1 34 1 0-3.2-2.2a1.9 1.1 34 1 0 3.2 2.2M91.4 318.4a1.4 1.2 4 1 0-2.8-.2a1.4 1.2 4 1 0 2.8 .2M92 320.4a1.9 1.1 115 1 0 1.6-3.5a1.9 1.1 115 1 0-1.6 3.5M24.4 322.3a1.4 1 160 1 0 2.6-1a1.4 1 160 1 0-2.6 1M43.5 324a2 1.6 144 1 0 3.3-2.4a2 1.6 144 1 0-3.3 2.4M48 325.6a1.4 1.1 82 1 0-.4-2.8a1.4 1.1 82 1 0 .4 2.8M50.8 324.6a1.3 .9 142 1 0 2-1.6a1.3 .9 142 1 0-2 1.6M54.2 323.1a1.7 1.4 143 1 0 2.7-2a1.7 1.4 143 1 0-2.7 2M87.5 323.9a1.4 1 51 1 0-1.8-2.2a1.4 1 51 1 0 1.8 2.2M21.6 327.9a1.8 1.6 12 1 0-3.6-.8a1.8 1.6 12 1 0 3.6 .8M65.4 326.3a1.5 .7 56 1 0-1.7-2.5a1.5 .7 56 1 0 1.7 2.5M74.2 327.9a1.5 1.1 19 1 0-2.9-1a1.5 1.1 19 1 0 2.9 1M76.1 327.1a2 1 137 1 0 2.9-2.7a2 1 137 1 0-2.9 2.7M94.3 326.5a1.4 .9 148 1 0 2.4-1.5a1.4 .9 148 1 0-2.4 1.5M108.7 327.2a1.6 1.1 117 1 0 1.4-2.8a1.6 1.1 117 1 0-1.4 2.8M57.5 333.9a2.1 1.3 67 1 0-1.6-3.8a2.1 1.3 67 1 0 1.6 3.8M50.7 336.6a2.1 1.5 23 1 0-3.9-1.6a2.1 1.5 23 1 0 3.9 1.6M50.3 335.5a2 1.3 170 1 0 3.9-.7a2 1.3 170 1 0-3.9 .7M96 336.7a1.6 .8 77 1 0-.7-3.1a1.6 .8 77 1 0 .7 3.1M97.6 338.4a1.8 .8 128 1 0 2.2-2.8a1.8 .8 128 1 0-2.2 2.8M110.8 337.5a2 1 6 1 0-3.9-.4a2 1 6 1 0 3.9 .4M22.5 341.5a1.7 1.2 122 1 0 1.8-2.9a1.7 1.2 122 1 0-1.8 2.9M39.2 341a1.6 1 9 1 0-3.1-.5a1.6 1 9 1 0 3.1 .5M41.2 341.7a1.5 .9 86 1 0-.2-3a1.5 .9 86 1 0 .2 3M75.1 341.7a1.5 1.2 39 1 0-2.3-1.9a1.5 1.2 39 1 0 2.3 1.9M84.7 340.8a1.4 1.1 157 1 0 2.6-1.1a1.4 1.1 157 1 0-2.6 1.1M97.7 341.3a1.7 .8 27 1 0-3-1.6a1.7 .8 27 1 0 3 1.6M25.2 343.8a1.2 .8 94 1 0 .2-2.5a1.2 .8 94 1 0-.2 2.5M81.4 342.2a2 1.2 1 1 0-4.1-.1a2 1.2 1 1 0 4.1 .1M92.9 345.1a1.9 .9 149 1 0 3.2-1.9a1.9 .9 149 1 0-3.2 1.9M21 348.2a1.5 1.1 163 1 0 2.9-.9a1.5 1.1 163 1 0-2.9 .9M26.6 347a1.8 1.5 33 1 0-3.1-2a1.8 1.5 33 1 0 3.1 2M54.8 347.4a2 1.4 173 1 0 4-.5a2 1.4 173 1 0-4 .5M87.2 347.2a2 1.5 154 1 0 3.7-1.8a2 1.5 154 1 0-3.7 1.8M86.3 352.2a1.6 1.2 134 1 0 2.2-2.3a1.6 1.2 134 1 0-2.2 2.3M51.3 353.4a1.4 1.1 156 1 0 2.5-1.1a1.4 1.1 156 1 0-2.5 1.1M81.7 354.2a1.9 1 54 1 0-2.2-3.1a1.9 1 54 1 0 2.2 3.1M93 356.1a1.9 1.2 59 1 0-2-3.3a1.9 1.2 59 1 0 2 3.3M47.4 358.1a1.3 1 130 1 0 1.6-1.9a1.3 1 130 1 0-1.6 1.9M54.2 356.6a1.7 .8 1 1 0-3.4-0a1.7 .8 1 1 0 3.4 0M96.8 357.4a1.7 1.4 133 1 0 2.4-2.5a1.7 1.4 133 1 0-2.4 2.5M33.5 361.5a1.5 .7 71 1 0-.9-2.8a1.5 .7 71 1 0 .9 2.8M100.8 363.4a2 1.1 99 1 0 .6-3.9a2 1.1 99 1 0-.6 3.9M27.9 365.7a1.2 .7 78 1 0-.5-2.4a1.2 .7 78 1 0 .5 2.4M60.2 364.1a1.4 .6 66 1 0-1.1-2.6a1.4 .6 66 1 0 1.1 2.6M62.9 366.1a1.7 1.2 100 1 0 .6-3.3a1.7 1.2 100 1 0-.6 3.3M74.3 364.1a1.7 1.2 86 1 0-.2-3.5a1.7 1.2 86 1 0 .2 3.5M88.8 365.3a1.6 1.2 109 1 0 1-3a1.6 1.2 109 1 0-1 3M107.4 363.9a1.7 1 172 1 0 3.4-.5a1.7 1 172 1 0-3.4 .5M21.6 367.6a1.4 1 85 1 0-.2-2.9a1.4 1 85 1 0 .2 2.9M94.3 367.1a1.7 1.1 66 1 0-1.4-3.1a1.7 1.1 66 1 0 1.4 3.1M101.4 369.1a1.3 .9 54 1 0-1.5-2.2a1.3 .9 54 1 0 1.5 2.2M51 372.6a1.4 .8 133 1 0 1.9-2a1.4 .8 133 1 0-1.9 2M75.1 371.6a1.8 1 78 1 0-.8-3.6a1.8 1 78 1 0 .8 3.6M92.4 370.1a1.3 .9 134 1 0 1.9-1.9a1.3 .9 134 1 0-1.9 1.9M105.5 371a1.5 1.1 136 1 0 2.2-2.1a1.5 1.1 136 1 0-2.2 2.1M17.3 374.3a1.2 .6 173 1 0 2.4-.3a1.2 .6 173 1 0-2.4 .3M46.4 377a2.1 1.3 71 1 0-1.3-3.9a2.1 1.3 71 1 0 1.3 3.9M70.9 375.3a1.9 1.1 13 1 0-3.6-.8a1.9 1.1 13 1 0 3.6 .8M99.7 375.6a1.9 1 120 1 0 1.9-3.3a1.9 1 120 1 0-1.9 3.3M105.8 373.2a1.7 1 10 1 0-3.3-.6a1.7 1 10 1 0 3.3 .6M43.2 378.1a2.1 1.6 96 1 0 .4-4.1a2.1 1.6 96 1 0-.4 4.1M58.4 379.4a1.9 1.2 31 1 0-3.2-1.9a1.9 1.2 31 1 0 3.2 1.9M88.4 379.5a1.6 1.3 46 1 0-2.3-2.3a1.6 1.3 46 1 0 2.3 2.3M80.5 381.4a1.4 1 154 1 0 2.5-1.2a1.4 1 154 1 0-2.5 1.2M95.3 381.4a1.7 .9 142 1 0 2.6-2a1.7 .9 142 1 0-2.6 2M100.5 380.3a1.8 .9 39 1 0-2.7-2.2a1.8 .9 39 1 0 2.7 2.2M106.7 381.5a1.4 .7 5 1 0-2.8-.2a1.4 .7 5 1 0 2.8 .2M38.4 383.3a1.7 1 20 1 0-3.2-1.1a1.7 1 20 1 0 3.2 1.1M49.3 384.7a1.2 .8 45 1 0-1.7-1.7a1.2 .8 45 1 0 1.7 1.7M51.3 385.6a1.9 1.2 144 1 0 3-2.2a1.9 1.2 144 1 0-3 2.2M23.5 387.1a2 1 157 1 0 3.7-1.6a2 1 157 1 0-3.7 1.6M61 390.9a1.8 1.5 62 1 0-1.7-3.2a1.8 1.5 62 1 0 1.7 3.2M82.5 391.3a1.3 .8 137 1 0 2-1.8a1.3 .8 137 1 0-2 1.8M99.2 392.5a1.3 .6 81 1 0-.4-2.6a1.3 .6 81 1 0 .4 2.6M34.5 395.6a1.3 .8 24 1 0-2.4-1.1a1.3 .8 24 1 0 2.4 1.1M54.3 395.2a1.5 .8 43 1 0-2.1-2a1.5 .8 43 1 0 2.1 2M73.6 395.2a1.7 .9 101 1 0 .7-3.4a1.7 .9 101 1 0-.7 3.4M86.3 395a1.9 1.5 61 1 0-1.8-3.3a1.9 1.5 61 1 0 1.8 3.3M88 394.3a1.8 .9 173 1 0 3.6-.4a1.8 .9 173 1 0-3.6 .4M100.9 397a1.9 1.2 107 1 0 1.1-3.7a1.9 1.2 107 1 0-1.1 3.7M109.2 395.6a1.9 1.2 22 1 0-3.5-1.4a1.9 1.2 22 1 0 3.5 1.4M44.4 397a1.2 1 48 1 0-1.6-1.8a1.2 1 48 1 0 1.6 1.8M53.5 398.4a1.7 .9 57 1 0-1.8-2.8a1.7 .9 57 1 0 1.8 2.8M59.9 397.5a1.3 .9 84 1 0-.3-2.6a1.3 .9 84 1 0 .3 2.6M63.8 398.5a1.9 1.4 72 1 0-1.1-3.6a1.9 1.4 72 1 0 1.1 3.6M68.8 397.3a1.5 .9 15 1 0-2.8-.7a1.5 .9 15 1 0 2.8 .7M79.9 398.2a2.1 1.5 154 1 0 3.7-1.8a2.1 1.5 154 1 0-3.7 1.8M92.1 398.5a2.1 1.2 73 1 0-1.2-4a2.1 1.2 73 1 0 1.2 4M97.3 398.4a1.7 .9 6 1 0-3.3-.3a1.7 .9 6 1 0 3.3 .3M41.2 401.5a1.9 1.5 94 1 0 .2-3.7a1.9 1.5 94 1 0-.2 3.7M46.2 401.7a1.3 .9 29 1 0-2.3-1.3a1.3 .9 29 1 0 2.3 1.3M89.1 402a1.4 .9 7 1 0-2.7-.4a1.4 .9 7 1 0 2.7 .4M91.9 403.5a1.7 1.1 115 1 0 1.4-3a1.7 1.1 115 1 0-1.4 3M108.7 401.8a1.3 .8 21 1 0-2.5-.9a1.3 .8 21 1 0 2.5 .9M43.5 403.6a1.2 .6 149 1 0 2.1-1.2a1.2 .6 149 1 0-2.1 1.2M59.3 405.4a1.3 .8 114 1 0 1.1-2.5a1.3 .8 114 1 0-1.1 2.5M61.4 406.2a1.4 1.1 155 1 0 2.6-1.2a1.4 1.1 155 1 0-2.6 1.2M21.4 408.1a1.8 1.3 177 1 0 3.6-.2a1.8 1.3 177 1 0-3.6 .2M41.6 407.6a1.3 .6 145 1 0 2.1-1.5a1.3 .6 145 1 0-2.1 1.5M101.5 409.2a1.5 1.1 89 1 0-0-3a1.5 1.1 89 1 0 0 3M37.4 410.5a1.7 1.2 1 1 0-3.3-.1a1.7 1.2 1 1 0 3.3 .1M105.6 410.6a1.9 1.6 151 1 0 3.4-1.9a1.9 1.6 151 1 0-3.4 1.9M53.3 415.4a1.3 1 116 1 0 1.1-2.2a1.3 1 116 1 0-1.1 2.2M98.3 414.9a1.5 .7 121 1 0 1.5-2.5a1.5 .7 121 1 0-1.5 2.5M61.5 418.4a2.1 1 8 1 0-4.1-.6a2.1 1 8 1 0 4.1 .6M64.2 417.6a1.9 1.4 25 1 0-3.4-1.6a1.9 1.4 25 1 0 3.4 1.6M70.8 420.2a1.7 1.1 88 1 0-.1-3.4a1.7 1.1 88 1 0 .1 3.4M36.2 423.4a1.7 1.3 31 1 0-2.9-1.8a1.7 1.3 31 1 0 2.9 1.8M61.7 422.5a1.4 .9 11 1 0-2.7-.5a1.4 .9 11 1 0 2.7 .5M90.8 422.6a1.4 1.1 174 1 0 2.8-.3a1.4 1.1 174 1 0-2.8 .3M96.6 421.4a1.7 .8 122 1 0 1.8-2.9a1.7 .8 122 1 0-1.8 2.9M92.6 425.7a1.9 1.3 52 1 0-2.3-3a1.9 1.3 52 1 0 2.3 3M30.9 429.5a1.3 .7 24 1 0-2.5-1.1a1.3 .7 24 1 0 2.5 1.1M53.9 430.1a1.5 .7 42 1 0-2.2-1.9a1.5 .7 42 1 0 2.2 1.9M86.7 429.8a1.5 1.2 25 1 0-2.7-1.3a1.5 1.2 25 1 0 2.7 1.3M94.9 429.6a1.9 1.4 32 1 0-3.2-2a1.9 1.4 32 1 0 3.2 2M104.3 430.1a1.4 .8 142 1 0 2.2-1.7a1.4 .8 142 1 0-2.2 1.7M108.5 427.6a1.3 .8 134 1 0 1.9-1.9a1.3 .8 134 1 0-1.9 1.9M70.9 433a1.4 1.1 143 1 0 2.2-1.7a1.4 1.1 143 1 0-2.2 1.7M89.3 434.4a1.8 1.4 92 1 0 .1-3.5a1.8 1.4 92 1 0-.1 3.5M112 432.7a1.5 1 47 1 0-2.1-2.2a1.5 1 47 1 0 2.1 2.2M33.2 435.6a1.2 .8 145 1 0 2-1.4a1.2 .8 145 1 0-2 1.4M81.5 434.4a1.4 .9 21 1 0-2.6-1a1.4 .9 21 1 0 2.6 1M109.5 435.7a1.2 .6 95 1 0 .2-2.4a1.2 .6 95 1 0-.2 2.4M100.1 440.3a1.5 .9 61 1 0-1.5-2.7a1.5 .9 61 1 0 1.5 2.7M100.2 438.2a1.7 1.2 169 1 0 3.3-.6a1.7 1.2 169 1 0-3.3 .6M86.9 443.5a1.8 1.3 21 1 0-3.3-1.2a1.8 1.3 21 1 0 3.3 1.2M88.2 441.3a1.7 1.1 147 1 0 2.9-1.9a1.7 1.1 147 1 0-2.9 1.9M107.4 443.9a1.8 1.5 144 1 0 3-2.2a1.8 1.5 144 1 0-3 2.2M50.9 447.5a1.7 1.3 131 1 0 2.2-2.6a1.7 1.3 131 1 0-2.2 2.6M80.8 446.4a2 1.2 122 1 0 2.1-3.3a2 1.2 122 1 0-2.1 3.3M37.1 450a2 1.6 157 1 0 3.7-1.6a2 1.6 157 1 0-3.7 1.6M79.9 448.9a1.6 1.1 8 1 0-3.3-.4a1.6 1.1 8 1 0 3.3 .4M83.7 449.5a1.2 .7 89 1 0-0-2.5a1.2 .7 89 1 0 0 2.5M99.1 450.3a1.2 .8 119 1 0 1.2-2.2a1.2 .8 119 1 0-1.2 2.2M107 447.5a1.6 1.3 13 1 0-3.1-.7a1.6 1.3 13 1 0 3.1 .7M22 451.3a1.3 .8 12 1 0-2.5-.5a1.3 .8 12 1 0 2.5 .5M24.3 453a1.9 .9 87 1 0-.2-3.8a1.9 .9 87 1 0 .2 3.8M33.3 454.7a2 1.3 57 1 0-2.2-3.4a2 1.3 57 1 0 2.2 3.4M51.2 452.4a1.5 .9 82 1 0-.4-2.9a1.5 .9 82 1 0 .4 2.9M86.9 452.9a1.3 1 154 1 0 2.4-1.2a1.3 1 154 1 0-2.4 1.2"/>
<path fill="#958e98" fill-opacity=".85" d="M47 320.6a2 1.2 150 1 0 3.4-2a2 1.2 150 1 0-3.4 2M53.3 322.4a2 1.1 102 1 0 .9-3.9a2 1.1 102 1 0-.9 3.9M97.3 319.7a1.5 1.1 38 1 0-2.4-1.9a1.5 1.1 38 1 0 2.4 1.9M101.4 320.8a1.3 .8 78 1 0-.6-2.6a1.3 .8 78 1 0 .6 2.6M29.5 325.1a2 1.4 82 1 0-.6-3.9a2 1.4 82 1 0 .6 3.9M76.6 323.3a1.7 .8 50 1 0-2.2-2.6a1.7 .8 50 1 0 2.2 2.6M77.5 323.3a1.3 .7 129 1 0 1.6-2a1.3 .7 129 1 0-1.6 2M95.8 323.9a1.6 1.3 53 1 0-1.9-2.5a1.6 1.3 53 1 0 1.9 2.5M99.5 325.2a2 1.1 76 1 0-1-3.9a2 1.1 76 1 0 1 3.9M30.2 326.9a1.5 .9 150 1 0 2.7-1.5a1.5 .9 150 1 0-2.7 1.5M40.9 326.5a1.3 .7 162 1 0 2.5-.8a1.3 .7 162 1 0-2.5 .8M45.6 327.6a1.8 1.5 128 1 0 2.2-2.8a1.8 1.5 128 1 0-2.2 2.8M49.8 328.6a1.9 1.1 53 1 0-2.2-3a1.9 1.1 53 1 0 2.2 3M61 326.9a1.8 1 108 1 0 1.1-3.4a1.8 1 108 1 0-1.1 3.4M86.2 329a1.7 .8 71 1 0-1.1-3.3a1.7 .8 71 1 0 1.1 3.3M20.7 332.1a2.1 1.1 49 1 0-2.7-3.1a2.1 1.1 49 1 0 2.7 3.1M50.5 330.9a2.1 1.6 145 1 0 3.4-2.4a2.1 1.6 145 1 0-3.4 2.4M65.3 331.5a1.7 .9 53 1 0-2-2.7a1.7 .9 53 1 0 2 2.7M65.2 329.1a1.4 .9 157 1 0 2.7-1.1a1.4 .9 157 1 0-2.7 1.1M81.3 329.6a1.9 1.5 14 1 0-3.6-.9a1.9 1.5 14 1 0 3.6 .9M100.5 329.6a2 1.1 39 1 0-3.1-2.6a2 1.1 39 1 0 3.1 2.6M101.2 330.1a1.6 1.2 110 1 0 1.1-3a1.6 1.2 110 1 0-1.1 3M20 334.9a1.5 1.3 39 1 0-2.4-1.9a1.5 1.3 39 1 0 2.4 1.9M46.7 334.3a1.7 1.3 86 1 0-.3-3.5a1.7 1.3 86 1 0 .3 3.5M52.2 332.9a2 1 37 1 0-3.2-2.4a2 1 37 1 0 3.2 2.4M76.2 334.9a2.1 1.5 19 1 0-3.9-1.3a2.1 1.5 19 1 0 3.9 1.3M19.1 338.1a1.6 1.1 115 1 0 1.4-3a1.6 1.1 115 1 0-1.4 3M39.5 336.8a1.7 1 143 1 0 2.6-2a1.7 1 143 1 0-2.6 2M42.4 337.6a1.8 .9 177 1 0 3.6-.2a1.8 .9 177 1 0-3.6 .2M56.9 337.2a1.3 1 41 1 0-2-1.8a1.3 1 41 1 0 2 1.8M72.1 337.8a1.7 .9 59 1 0-1.8-3a1.7 .9 59 1 0 1.8 3M88.5 336.7a1.8 1.4 57 1 0-2-3.1a1.8 1.4 57 1 0 2 3.1M19 339.2a1.6 .9 4 1 0-3.2-.2a1.6 .9 4 1 0 3.2 .2M25.9 341.9a1.4 .8 109 1 0 .9-2.7a1.4 .8 109 1 0-.9 2.7M63.4 340.4a1.5 1 4 1 0-3-.2a1.5 1 4 1 0 3 .2M69.8 338.8a1.6 1.2 5 1 0-3.3-.3a1.6 1.2 5 1 0 3.3 .3M86.4 340.3a1.8 .9 151 1 0 3.2-1.7a1.8 .9 151 1 0-3.2 1.7M99.5 338.9a1.4 .6 166 1 0 2.8-.7a1.4 .6 166 1 0-2.8 .7M105 338.8a1.4 .7 17 1 0-2.6-.8a1.4 .7 17 1 0 2.6 .8M32 344.5a1.3 .9 60 1 0-1.3-2.3a1.3 .9 60 1 0 1.3 2.3M38.1 344.3a2 1.5 129 1 0 2.5-3.1a2 1.5 129 1 0-2.5 3.1M59.9 343.3a1.3 .8 131 1 0 1.8-2a1.3 .8 131 1 0-1.8 2M72 345.2a1.6 1.4 43 1 0-2.4-2.3a1.6 1.4 43 1 0 2.4 2.3M82.3 344.9a1.5 1.1 100 1 0 .5-3a1.5 1.1 100 1 0-.5 3M85.9 345.4a1.2 .9 116 1 0 1.1-2.2a1.2 .9 116 1 0-1.1 2.2M99.2 344.7a2 1.4 165 1 0 3.8-1a2 1.4 165 1 0-3.8 1M106.2 342.8a1.4 1 30 1 0-2.4-1.4a1.4 1 30 1 0 2.4 1.4M17.9 348.7a2 1.4 71 1 0-1.3-3.8a2 1.4 71 1 0 1.3 3.8M38.5 347.3a1.9 .9 113 1 0 1.5-3.5a1.9 .9 113 1 0-1.5 3.5M43.9 347.7a1.5 1.1 132 1 0 2.1-2.3a1.5 1.1 132 1 0-2.1 2.3M66.2 348.2a1.8 1 46 1 0-2.5-2.6a1.8 1 46 1 0 2.5 2.6M76.9 348a1.7 1 80 1 0-.6-3.3a1.7 1 80 1 0 .6 3.3M86.2 347.1a2.1 1.5 13 1 0-4-.9a2.1 1.5 13 1 0 4 .9M98.6 347.6a2 1.5 102 1 0 .8-3.9a2 1.5 102 1 0-.8 3.9M103.6 347.3a1.2 .9 76 1 0-.6-2.4a1.2 .9 76 1 0 .6 2.4M39 350.8a1.8 1.3 110 1 0 1.3-3.4a1.8 1.3 110 1 0-1.3 3.4M52.5 351.9a1.9 1.6 54 1 0-2.2-3.1a1.9 1.6 54 1 0 2.2 3.1M59.6 352.1a1.5 .9 50 1 0-1.9-2.2a1.5 .9 50 1 0 1.9 2.2M81.4 349.6a1.7 1.3 145 1 0 2.7-1.9a1.7 1.3 145 1 0-2.7 1.9M91.1 352.4a1.4 .9 113 1 0 1.1-2.5a1.4 .9 113 1 0-1.1 2.5M98.4 351.8a1.5 1.1 77 1 0-.7-2.9a1.5 1.1 77 1 0 .7 2.9M33.8 354.4a1.5 .9 56 1 0-1.7-2.5a1.5 .9 56 1 0 1.7 2.5M44.1 352.9a1.5 1 16 1 0-3-.9a1.5 1 16 1 0 3 .9M49.1 354.8a2.1 1.1 145 1 0 3.4-2.4a2.1 1.1 145 1 0-3.4 2.4M60.6 353.8a1.3 .6 74 1 0-.7-2.4a1.3 .6 74 1 0 .7 2.4M65.5 354.9a1.8 1.1 88 1 0-.1-3.6a1.8 1.1 88 1 0 .1 3.6M87.7 353.9a1.2 .8 162 1 0 2.3-.8a1.2 .8 162 1 0-2.3 .8M101.1 355.1a1.4 .9 69 1 0-1-2.5a1.4 .9 69 1 0 1 2.5M26.2 356.1a1.3 1.1 175 1 0 2.6-.2a1.3 1.1 175 1 0-2.6 .2M34.2 357.3a1.4 1.2 171 1 0 2.8-.4a1.4 1.2 171 1 0-2.8 .4M83.4 357.8a1.8 .9 55 1 0-2.1-3a1.8 .9 55 1 0 2.1 3M19.1 363.3a1.9 .9 105 1 0 1-3.8a1.9 .9 105 1 0-1 3.8M27.5 360.8a1.6 1.2 151 1 0 2.8-1.5a1.6 1.2 151 1 0-2.8 1.5M41.3 360.3a1.3 .6 153 1 0 2.3-1.2a1.3 .6 153 1 0-2.3 1.2M48.4 360.3a1.3 .8 153 1 0 2.3-1.2a1.3 .8 153 1 0-2.3 1.2M65.4 360.3a1.7 1.3 48 1 0-2.3-2.5a1.7 1.3 48 1 0 2.3 2.5M70.8 360.4a1.6 1.4 22 1 0-3-1.3a1.6 1.4 22 1 0 3 1.3M77.1 361.2a1.3 .8 101 1 0 .5-2.5a1.3 .8 101 1 0-.5 2.5M35.2 365.2a1.9 1.2 116 1 0 1.7-3.5a1.9 1.2 116 1 0-1.7 3.5M50 365.8a2 .9 113 1 0 1.6-3.7a2 .9 113 1 0-1.6 3.7M72.3 364.2a1.4 .8 37 1 0-2.3-1.7a1.4 .8 37 1 0 2.3 1.7M77.4 363.1a1.9 1.3 175 1 0 3.7-.3a1.9 1.3 175 1 0-3.7 .3M95.3 365.4a1.8 1.3 77 1 0-.8-3.5a1.8 1.3 77 1 0 .8 3.5M101 362.7a2 .9 176 1 0 3.9-.3a2 .9 176 1 0-3.9 .3M106 364a1.5 1 157 1 0 2.8-1.2a1.5 1 157 1 0-2.8 1.2M19.9 367.7a1.8 1.2 52 1 0-2.2-2.8a1.8 1.2 52 1 0 2.2 2.8M30.6 369.3a2 1.2 72 1 0-1.2-3.8a2 1.2 72 1 0 1.2 3.8M59 367.7a1.9 1.6 154 1 0 3.4-1.6a1.9 1.6 154 1 0-3.4 1.6M74.8 367.3a1.5 1.3 132 1 0 2.1-2.3a1.5 1.3 132 1 0-2.1 2.3M27.8 371.3a1.8 1.2 109 1 0 1.2-3.3a1.8 1.2 109 1 0-1.2 3.3M40.9 370.9a2 1.7 142 1 0 3.2-2.5a2 1.7 142 1 0-3.2 2.5M66.6 371.8a1.2 .8 75 1 0-.6-2.4a1.2 .8 75 1 0 .6 2.4M83 371.6a1.4 1.1 37 1 0-2.2-1.6a1.4 1.1 37 1 0 2.2 1.6M30.8 374.1a1.9 1.3 52 1 0-2.3-3a1.9 1.3 52 1 0 2.3 3M42.3 374.4a1.4 1 30 1 0-2.5-1.4a1.4 1 30 1 0 2.5 1.4M62.6 375a1.4 .9 89 1 0-.1-2.8a1.4 .9 89 1 0 .1 2.8M76.3 373.1a1.2 .8 153 1 0 2.2-1.1a1.2 .8 153 1 0-2.2 1.1M82.5 373.7a1.3 1 137 1 0 2-1.8a1.3 1 137 1 0-2 1.8M109.8 375.5a1.5 .9 53 1 0-1.7-2.3a1.5 .9 53 1 0 1.7 2.3M48.3 378.6a1.5 .9 104 1 0 .7-3a1.5 .9 104 1 0-.7 3M71.8 378.3a1.6 1.2 15 1 0-3.1-.9a1.6 1.2 15 1 0 3.1 .9M101.3 378.5a1.6 1 106 1 0 .9-3.1a1.6 1 106 1 0-.9 3.1M25 380.3a1.6 1.3 146 1 0 2.7-1.8a1.6 1.3 146 1 0-2.7 1.8M32.3 381.2a1.3 .9 40 1 0-1.9-1.6a1.3 .9 40 1 0 1.9 1.6M44 381a1.6 1.3 130 1 0 2.1-2.5a1.6 1.3 130 1 0-2.1 2.5M62.3 380.8a2 .9 49 1 0-2.6-3a2 .9 49 1 0 2.6 3M87.8 379.6a2.1 1.7 3 1 0-4.2-.2a2.1 1.7 3 1 0 4.2 .2M91 381.3a1.4 .9 20 1 0-2.6-.9a1.4 .9 20 1 0 2.6 .9M91.6 382.3a1.7 .8 162 1 0 3.2-1a1.7 .8 162 1 0-3.2 1M38.2 383.4a1.2 .6 161 1 0 2.3-.8a1.2 .6 161 1 0-2.3 .8M78.9 386.7a1.6 .9 90 1 0-0-3.1a1.6 .9 90 1 0 0 3.1M89.8 386.3a1.2 .9 110 1 0 .9-2.3a1.2 .9 110 1 0-.9 2.3M95.3 385.1a1.4 1.1 57 1 0-1.5-2.4a1.4 1.1 57 1 0 1.5 2.4M98.8 385.2a1.7 1.3 62 1 0-1.6-3a1.7 1.3 62 1 0 1.6 3M108 386.4a1.8 1.3 125 1 0 2-2.9a1.8 1.3 125 1 0-2 2.9M21 389.3a1.8 .9 95 1 0 .3-3.6a1.8 .9 95 1 0-.3 3.6M40.5 387.4a1.9 1.5 149 1 0 3.3-2a1.9 1.5 149 1 0-3.3 2M33.4 392.1a1.7 1.4 47 1 0-2.3-2.5a1.7 1.4 47 1 0 2.3 2.5M75.6 393.2a1.6 1.3 96 1 0 .3-3.1a1.6 1.3 96 1 0-.3 3.1M78.5 392a1.9 .9 96 1 0 .4-3.8a1.9 .9 96 1 0-.4 3.8M105.1 393a2 1.3 104 1 0 1-3.9a2 1.3 104 1 0-1 3.9M107.8 392.1a1.7 1 171 1 0 3.3-.5a1.7 1 171 1 0-3.3 .5M31.3 395.3a1.5 .9 74 1 0-.8-2.8a1.5 .9 74 1 0 .8 2.8M38.7 396.2a1.6 1.2 67 1 0-1.2-3a1.6 1.2 67 1 0 1.2 3M69.7 396.1a1.4 1 96 1 0 .3-2.8a1.4 1 96 1 0-.3 2.8M79.9 393.5a1.9 1.3 24 1 0-3.5-1.6a1.9 1.3 24 1 0 3.5 1.6M103.6 396.2a1.2 .8 96 1 0 .2-2.4a1.2 .8 96 1 0-.2 2.4M28 398.9a1.5 .7 130 1 0 2-2.4a1.5 .7 130 1 0-2 2.4M34.4 398.6a1.5 1.2 19 1 0-2.8-1a1.5 1.2 19 1 0 2.8 1M110.2 397.1a1.3 1.1 146 1 0 2.2-1.5a1.3 1.1 146 1 0-2.2 1.5M59.2 402.9a2 1.7 130 1 0 2.6-3.1a2 1.7 130 1 0-2.6 3.1M65.9 401.2a1.5 .9 74 1 0-.8-3a1.5 .9 74 1 0 .8 3M68.1 401.4a1.6 1 87 1 0-.1-3.2a1.6 1 87 1 0 .1 3.2M49.7 405.3a2 .9 58 1 0-2.1-3.4a2 .9 58 1 0 2.1 3.4M76.6 406.1a1.8 1.4 152 1 0 3.2-1.7a1.8 1.4 152 1 0-3.2 1.7M86.9 406.1a1.4 .7 23 1 0-2.6-1.1a1.4 .7 23 1 0 2.6 1.1M88.9 404.3a1.4 .7 170 1 0 2.8-.5a1.4 .7 170 1 0-2.8 .5M99.4 404.7a1.6 1 79 1 0-.6-3.1a1.6 1 79 1 0 .6 3.1M107.6 404.7a1.4 .9 58 1 0-1.4-2.3a1.4 .9 58 1 0 1.4 2.3M28.4 408.1a1.8 .8 31 1 0-3.2-1.9a1.8 .8 31 1 0 3.2 1.9M40.2 410.3a1.6 1.1 57 1 0-1.8-2.7a1.6 1.1 57 1 0 1.8 2.7M89.9 409a1.3 .7 78 1 0-.6-2.6a1.3 .7 78 1 0 .6 2.6M105.4 407.3a2 1.3 155 1 0 3.6-1.7a2 1.3 155 1 0-3.6 1.7M19.7 410.8a1.7 1.4 146 1 0 2.9-1.9a1.7 1.4 146 1 0-2.9 1.9M39.1 413.4a2 1.7 112 1 0 1.5-3.8a2 1.7 112 1 0-1.5 3.8M51.3 413.2a1.3 .8 114 1 0 1-2.3a1.3 .8 114 1 0-1 2.3M99.2 411a2.1 1.3 180 1 0 4.1-0a2.1 1.3 180 1 0-4.1 0M69.5 415.9a1.8 .9 52 1 0-2.2-2.8a1.8 .9 52 1 0 2.2 2.8M70.4 415.4a1.7 1 163 1 0 3.3-1a1.7 1 163 1 0-3.3 1M94.9 415a1.5 .8 177 1 0 2.9-.1a1.5 .8 177 1 0-2.9 .1M106.6 415.8a1.9 1.5 30 1 0-3.3-1.9a1.9 1.5 30 1 0 3.3 1.9M103.4 418.3a1.5 .7 58 1 0-1.6-2.6a1.5 .7 58 1 0 1.6 2.6M106.5 418.6a2 1.1 66 1 0-1.7-3.7a2 1.1 66 1 0 1.7 3.7M18 422.1a1.7 .8 135 1 0 2.4-2.4a1.7 .8 135 1 0-2.4 2.4M44.8 422.6a2 1.5 36 1 0-3.2-2.4a2 1.5 36 1 0 3.2 2.4M67.7 422.3a1.8 1.3 11 1 0-3.5-.7a1.8 1.3 11 1 0 3.5 .7M68.6 423.1a1.2 .6 136 1 0 1.8-1.7a1.2 .6 136 1 0-1.8 1.7M76.7 422.3a1.2 1 76 1 0-.6-2.3a1.2 1 76 1 0 .6 2.3M80.1 422.3a1.4 .9 178 1 0 2.8-.1a1.4 .9 178 1 0-2.8 .1M33.2 424.9a1.6 .8 45 1 0-2.2-2.3a1.6 .8 45 1 0 2.2 2.3M37.4 425.2a1.9 1.1 66 1 0-1.5-3.5a1.9 1.1 66 1 0 1.5 3.5M43.4 425.7a1.6 1.2 153 1 0 2.9-1.4a1.6 1.2 153 1 0-2.9 1.4M64.7 426.1a2 1.3 73 1 0-1.2-3.8a2 1.3 73 1 0 1.2 3.8M79.7 426.5a1.9 1 55 1 0-2.1-3.1a1.9 1 55 1 0 2.1 3.1M84.2 425.3a1.4 .8 23 1 0-2.6-1.1a1.4 .8 23 1 0 2.6 1.1M111.9 424.6a1.9 .9 28 1 0-3.3-1.8a1.9 .9 28 1 0 3.3 1.8M41.3 430.7a2.1 1.4 102 1 0 .9-4.1a2.1 1.4 102 1 0-.9 4.1M46 428.2a1.4 .9 38 1 0-2.2-1.7a1.4 .9 38 1 0 2.2 1.7M71.1 428.7a1.4 1 54 1 0-1.6-2.2a1.4 1 54 1 0 1.6 2.2M71.8 427a1.4 1.1 162 1 0 2.6-.9a1.4 1.1 162 1 0-2.6 .9M96.3 428.4a1.7 1 100 1 0 .6-3.4a1.7 1 100 1 0-.6 3.4M20.9 430.9a1.3 .7 18 1 0-2.5-.8a1.3 .7 18 1 0 2.5 .8M49.8 431.6a1.9 .9 148 1 0 3.2-2a1.9 .9 148 1 0-3.2 2M81.7 431.8a1.6 1.2 112 1 0 1.2-3a1.6 1.2 112 1 0-1.2 3M95.7 434a1.3 .6 88 1 0-.1-2.5a1.3 .6 88 1 0 .1 2.5M24.6 436.4a2.1 1.3 112 1 0 1.5-3.9a2.1 1.3 112 1 0-1.5 3.9M82.4 434.9a1.7 .8 159 1 0 3.1-1.2a1.7 .8 159 1 0-3.1 1.2M86.7 437.3a1.8 .8 120 1 0 1.8-3a1.8 .8 120 1 0-1.8 3M91.1 435.3a2 1.6 144 1 0 3.3-2.4a2 1.6 144 1 0-3.3 2.4M48.8 440.3a1.6 .9 64 1 0-1.4-2.8a1.6 .9 64 1 0 1.4 2.8M51.5 440a1.8 .9 87 1 0-.2-3.7a1.8 .9 87 1 0 .2 3.7M77.9 439.3a1.7 1.2 131 1 0 2.3-2.6a1.7 1.2 131 1 0-2.3 2.6M88.8 439.3a1.3 .6 47 1 0-1.7-1.9a1.3 .6 47 1 0 1.7 1.9M88.1 438.9a1.8 1.4 162 1 0 3.4-1.1a1.8 1.4 162 1 0-3.4 1.1M106.9 439.5a1.9 1.3 44 1 0-2.7-2.6a1.9 1.3 44 1 0 2.7 2.6M17.5 442.2a1.8 1.2 166 1 0 3.4-.9a1.8 1.2 166 1 0-3.4 .9M36.6 441.4a1.7 .8 159 1 0 3.2-1.2a1.7 .8 159 1 0-3.2 1.2M50.6 443.3a2 1.3 98 1 0 .6-4a2 1.3 98 1 0-.6 4M56.3 442.3a2 1.6 129 1 0 2.5-3.1a2 1.6 129 1 0-2.5 3.1M73.2 443.1a1.2 .6 79 1 0-.5-2.5a1.2 .6 79 1 0 .5 2.5M97.2 442.1a1.9 1.5 62 1 0-1.8-3.4a1.9 1.5 62 1 0 1.8 3.4M27.2 447a2 1.1 23 1 0-3.6-1.5a2 1.1 23 1 0 3.6 1.5M36.3 446.9a1.3 1.1 92 1 0 .1-2.6a1.3 1.1 92 1 0-.1 2.6M44 446.7a1.4 .8 92 1 0 .1-2.9a1.4 .8 92 1 0-.1 2.9M46.2 446.5a1.2 .8 165 1 0 2.3-.6a1.2 .8 165 1 0-2.3 .6M57.7 445.8a1.7 .9 166 1 0 3.3-.8a1.7 .9 166 1 0-3.3 .8M61.6 446a1.4 1.1 156 1 0 2.6-1.1a1.4 1.1 156 1 0-2.6 1.1M77 445.8a1.6 1.4 147 1 0 2.8-1.8a1.6 1.4 147 1 0-2.8 1.8M100.9 445.3a1.8 1.4 176 1 0 3.6-.2a1.8 1.4 176 1 0-3.6 .2M32.3 447.6a2 1.6 18 1 0-3.8-1.2a2 1.6 18 1 0 3.8 1.2M68.9 448a1.2 .6 39 1 0-1.9-1.6a1.2 .6 39 1 0 1.9 1.6M82.2 448.4a1.7 .9 7 1 0-3.3-.4a1.7 .9 7 1 0 3.3 .4M107.7 448.4a1.9 1.1 143 1 0 3-2.3a1.9 1.1 143 1 0-3 2.3M35.3 454.1a1.9 1.3 130 1 0 2.4-2.8a1.9 1.3 130 1 0-2.4 2.8M41.2 451.1a1.5 .9 26 1 0-2.7-1.3a1.5 .9 26 1 0 2.7 1.3M44.8 451.6a1.6 1.2 0 1 0-3.1-0a1.6 1.2 0 1 0 3.1 0M100.2 454a1.6 .8 45 1 0-2.2-2.2a1.6 .8 45 1 0 2.2 2.2"/>
<path fill="#a68a76" fill-opacity=".85" d="M78.6 319.9a1.5 1 2 1 0-3-.1a1.5 1 2 1 0 3 .1M31 323a1.7 .8 166 1 0 3.3-.8a1.7 .8 166 1 0-3.3 .8M25.1 328.5a1.9 1.5 119 1 0 1.9-3.3a1.9 1.5 119 1 0-1.9 3.3M27.7 329.3a1.5 .7 148 1 0 2.5-1.6a1.5 .7 148 1 0-2.5 1.6M37.6 333.1a1.4 .8 75 1 0-.8-2.7a1.4 .8 75 1 0 .8 2.7M92.6 344.1a2 .9 34 1 0-3.3-2.2a2 .9 34 1 0 3.3 2.2M108.4 353.7a1.4 .8 83 1 0-.4-2.8a1.4 .8 83 1 0 .4 2.8M22.8 359.7a1.7 1.3 24 1 0-3.2-1.4a1.7 1.3 24 1 0 3.2 1.4M35.6 361.7a1.6 1 163 1 0 3.1-1a1.6 1 163 1 0-3.1 1M40.4 364.2a1.5 1 52 1 0-1.8-2.3a1.5 1 52 1 0 1.8 2.3M46.5 367.6a1.4 .8 86 1 0-.2-2.8a1.4 .8 86 1 0 .2 2.8M58.5 366.8a1.4 1.2 6 1 0-2.9-.3a1.4 1.2 6 1 0 2.9 .3M109.7 368.7a1.7 1.2 33 1 0-2.9-1.9a1.7 1.2 33 1 0 2.9 1.9M52.2 372.9a1.8 .9 15 1 0-3.5-.9a1.8 .9 15 1 0 3.5 .9M55.8 373.9a1.9 1.1 9 1 0-3.8-.6a1.9 1.1 9 1 0 3.8 .6M30 378a1.6 .8 23 1 0-2.9-1.3a1.6 .8 23 1 0 2.9 1.3M29.2 383.2a1.4 .8 31 1 0-2.4-1.5a1.4 .8 31 1 0 2.4 1.5M35.4 389.2a1.8 1.1 49 1 0-2.3-2.7a1.8 1.1 49 1 0 2.3 2.7M44.4 386.2a1.3 .6 171 1 0 2.5-.4a1.3 .6 171 1 0-2.5 .4M52.8 388.6a2 1.7 175 1 0 4.1-.4a2 1.7 175 1 0-4.1 .4M50.5 392.5a1.2 .5 96 1 0 .2-2.4a1.2 .5 96 1 0-.2 2.4M90.8 393.1a1.4 .7 111 1 0 1-2.6a1.4 .7 111 1 0-1 2.6M46.8 395.3a1.9 1.1 80 1 0-.6-3.7a1.9 1.1 80 1 0 .6 3.7M82.7 396.7a2 1.1 51 1 0-2.5-3.1a2 1.1 51 1 0 2.5 3.1M99.4 393.7a1.9 1.2 3 1 0-3.8-.2a1.9 1.2 3 1 0 3.8 .2M18.9 397.6a1.7 1.2 157 1 0 3.2-1.3a1.7 1.2 157 1 0-3.2 1.3M57.5 398.5a1.3 1.1 62 1 0-1.2-2.3a1.3 1.1 62 1 0 1.2 2.3M41 406a2.1 1.4 24 1 0-3.8-1.7a2.1 1.4 24 1 0 3.8 1.7M45.6 411.4a1.4 1.2 55 1 0-1.7-2.4a1.4 1.2 55 1 0 1.7 2.4M79.2 414.7a1.5 .9 128 1 0 1.9-2.4a1.5 .9 128 1 0-1.9 2.4M28.3 418.7a1.3 1.1 101 1 0 .5-2.6a1.3 1.1 101 1 0-.5 2.6M35.5 419.3a1.6 1.3 170 1 0 3.1-.5a1.6 1.3 170 1 0-3.1 .5M42.9 417.8a1.4 1 178 1 0 2.9-.1a1.4 1 178 1 0-2.9 .1M94.7 420.6a2.1 1.8 62 1 0-2-3.7a2.1 1.8 62 1 0 2 3.7M36.3 422.6a1.6 .9 159 1 0 3-1.2a1.6 .9 159 1 0-3 1.2M56.5 421.7a1.7 .8 157 1 0 3.2-1.4a1.7 .8 157 1 0-3.2 1.4M73.8 422.2a1.5 .8 1 1 0-3-0a1.5 .8 1 1 0 3 0M47.6 427.1a1.3 .6 68 1 0-.9-2.4a1.3 .6 68 1 0 .9 2.4M61.4 429.4a2.1 1.5 65 1 0-1.7-3.8a2.1 1.5 65 1 0 1.7 3.8M106.7 433.2a1.5 1 73 1 0-.9-2.9a1.5 1 73 1 0 .9 2.9M22.6 442a1.4 .7 147 1 0 2.3-1.5a1.4 .7 147 1 0-2.3 1.5M33.1 442.7a1.2 1 78 1 0-.5-2.4a1.2 1 78 1 0 .5 2.4M31.1 445.6a1.2 .7 147 1 0 2.1-1.3a1.2 .7 147 1 0-2.1 1.3M17.4 449.1a1.2 .9 158 1 0 2.2-.9a1.2 .9 158 1 0-2.2 .9M63.3 448.7a2.1 1.5 11 1 0-4.1-.8a2.1 1.5 11 1 0 4.1 .8M65.8 450.3a1.8 1.4 39 1 0-2.7-2.2a1.8 1.4 39 1 0 2.7 2.2"/>
<path fill="#9a7c68" fill-opacity=".85" d="M36.3 324.7a2 1 84 1 0-.4-4.1a2 1 84 1 0 .4 4.1M89.3 335.3a1.4 .6 55 1 0-1.6-2.2a1.4 .6 55 1 0 1.6 2.2M24.5 336.6a1.4 1.1 144 1 0 2.3-1.7a1.4 1.1 144 1 0-2.3 1.7M100.7 336.9a1.9 1.4 111 1 0 1.4-3.5a1.9 1.4 111 1 0-1.4 3.5M45.8 341.4a1.3 1 58 1 0-1.4-2.3a1.3 1 58 1 0 1.4 2.3M67.9 345.8a2 1 101 1 0 .8-4a2 1 101 1 0-.8 4M30.7 349.2a1.9 1.5 65 1 0-1.6-3.4a1.9 1.5 65 1 0 1.6 3.4M68.6 349a1.6 .8 106 1 0 .9-3.1a1.6 .8 106 1 0-.9 3.1M45.1 353.2a1.9 1.1 146 1 0 3.2-2.1a1.9 1.1 146 1 0-3.2 2.1M57.3 361.6a1.2 1 156 1 0 2.2-1a1.2 1 156 1 0-2.2 1M26.5 363.4a2 1.3 29 1 0-3.5-1.9a2 1.3 29 1 0 3.5 1.9M31.9 365.4a1.4 .8 152 1 0 2.5-1.3a1.4 .8 152 1 0-2.5 1.3M48.8 364.3a1.7 .9 12 1 0-3.4-.7a1.7 .9 12 1 0 3.4 .7M38.5 366.3a1.9 1.6 19 1 0-3.6-1.2a1.9 1.6 19 1 0 3.6 1.2M52.4 377.7a1.5 .7 51 1 0-1.8-2.3a1.5 .7 51 1 0 1.8 2.3M59.1 379.3a1.7 1.3 114 1 0 1.4-3a1.7 1.3 114 1 0-1.4 3M48.9 382.6a1.5 1 136 1 0 2.1-2a1.5 1 136 1 0-2.1 2M23.6 385.1a1.2 .6 61 1 0-1.2-2.1a1.2 .6 61 1 0 1.2 2.1M45.4 386.9a2.1 1.5 57 1 0-2.3-3.5a2.1 1.5 57 1 0 2.3 3.5M35.4 386.6a2 1.3 178 1 0 4-.2a2 1.3 178 1 0-4 .2M79 389.7a2 1.5 44 1 0-2.9-2.9a2 1.5 44 1 0 2.9 2.9M98.9 388a1.6 .8 112 1 0 1.2-3a1.6 .8 112 1 0-1.2 3M100.8 398.4a1.5 1 150 1 0 2.6-1.5a1.5 1 150 1 0-2.6 1.5M37.1 400.6a1.9 1.4 21 1 0-3.6-1.4a1.9 1.4 21 1 0 3.6 1.4M51.5 404.7a1.4 1 63 1 0-1.2-2.5a1.4 1 63 1 0 1.2 2.5M68.6 404.4a1.5 1.2 0 1 0-3-0a1.5 1.2 0 1 0 3 0M19.1 409a1.9 1.4 52 1 0-2.4-3a1.9 1.4 52 1 0 2.4 3M32.4 409.4a2 1.2 38 1 0-3.1-2.5a2 1.2 38 1 0 3.1 2.5M73.3 412.9a1.3 1.1 125 1 0 1.5-2.2a1.3 1.1 125 1 0-1.5 2.2M32.2 415.9a1.2 1 31 1 0-2.1-1.3a1.2 1 31 1 0 2.1 1.3M88 416.9a1.7 1.4 75 1 0-.9-3.2a1.7 1.4 75 1 0 .9 3.2M73.9 432.7a1.3 .6 111 1 0 1-2.5a1.3 .6 111 1 0-1 2.5M68 436.4a2.1 1.8 145 1 0 3.4-2.4a2.1 1.8 145 1 0-3.4 2.4M76 436.3a1.6 1.1 87 1 0-.1-3.2a1.6 1.1 87 1 0 .1 3.2M21.5 439.7a1.8 1.2 35 1 0-2.9-2a1.8 1.2 35 1 0 2.9 2M62.4 440.3a1.5 1.1 108 1 0 .9-2.8a1.5 1.1 108 1 0-.9 2.8M64.5 439.1a2 1.6 135 1 0 2.8-2.8a2 1.6 135 1 0-2.8 2.8M75.7 446.3a1.8 .9 6 1 0-3.5-.3a1.8 .9 6 1 0 3.5 .3"/>
</g></g>
<clipPath id="clip22"><rect x="110.5" y="320.4" width="87.4" height="131.3"/></clipPath>
<filter id="bl22" x="-5%" y="-5%" width="110%" height="110%" color-interpolation-filters="sRGB"><feGaussianBlur stdDeviation="0.65"/></filter>
<g clip-path="url(#clip22)"><g filter="url(#bl22)">
<rect x="107.5" y="317.4" width="93.4" height="137.3" fill="#cecbcb"/>
<path fill="#dbd8d8" fill-opacity=".55" d="M195.6 339.7a1.6 1.6 33 1 0-2.6-1.7a1.6 1.6 33 1 0 2.6 1.7M122.8 407.5a2.4 2.2 42 1 0-3.5-3.1a2.4 2.2 42 1 0 3.5 3.1M192.7 364.9a3 2.9 123 1 0 3.3-5a3 2.9 123 1 0-3.3 5M190.8 414.9a1.6 1.5 106 1 0 .9-3.1a1.6 1.5 106 1 0-.9 3.1M134.1 346.1a3.6 2.9 169 1 0 7.1-1.4a3.6 2.9 169 1 0-7.1 1.4M177.1 449.3a2.9 2.5 110 1 0 2-5.5a2.9 2.5 110 1 0-2 5.5M130.8 446.3a2.3 2 172 1 0 4.5-.6a2.3 2 172 1 0-4.5 .6M170.4 341a3.6 3 33 1 0-6-3.9a3.6 3 33 1 0 6 3.9M114.8 391.8a1.6 1.5 91 1 0 .1-3.2a1.6 1.5 91 1 0-.1 3.2M157.5 376.8a3.2 3 55 1 0-3.6-5.2a3.2 3 55 1 0 3.6 5.2M142.9 399.1a2.2 1.8 98 1 0 .6-4.4a2.2 1.8 98 1 0-.6 4.4M145.6 408.8a2.8 1.5 179 1 0 5.6-.1a2.8 1.5 179 1 0-5.6 .1M139.1 377.5a2.5 2.4 171 1 0 5-.8a2.5 2.4 171 1 0-5 .8M156.7 373.9a1.7 1.7 31 1 0-3-1.8a1.7 1.7 31 1 0 3 1.8M160.2 367.6a2.3 1.6 34 1 0-3.8-2.6a2.3 1.6 34 1 0 3.8 2.6M116.5 392.8a3.5 2.9 36 1 0-5.6-4.1a3.5 2.9 36 1 0 5.6 4.1M168.7 327.9a2.5 2.3 166 1 0 4.9-1.2a2.5 2.3 166 1 0-4.9 1.2M150 434.2a2.7 2.1 105 1 0 1.4-5.3a2.7 2.1 105 1 0-1.4 5.3M196 420.5a2.7 2.3 116 1 0 2.3-4.8a2.7 2.3 116 1 0-2.3 4.8M137.9 424a3.5 2.9 170 1 0 7-1.3a3.5 2.9 170 1 0-7 1.3M114.7 387.6a3.1 2.1 31 1 0-5.3-3.2a3.1 2.1 31 1 0 5.3 3.2M168.8 377.7a2.2 1.1 174 1 0 4.3-.4a2.2 1.1 174 1 0-4.3 .4M139.4 336.7a2 1.3 156 1 0 3.7-1.7a2 1.3 156 1 0-3.7 1.7M127.7 357.7a1.7 1.3 37 1 0-2.8-2.1a1.7 1.3 37 1 0 2.8 2.1M144.4 417.4a3.8 3.5 7 1 0-7.6-.9a3.8 3.5 7 1 0 7.6 .9M143.6 433.4a1.6 1 88 1 0-.1-3.2a1.6 1 88 1 0 .1 3.2M146.3 421.2a3.3 2.4 45 1 0-4.7-4.6a3.3 2.4 45 1 0 4.7 4.6M132.1 356.2a1.7 1.4 28 1 0-2.9-1.6a1.7 1.4 28 1 0 2.9 1.6M187.7 406.8a1.6 1.2 109 1 0 1.1-3.1a1.6 1.2 109 1 0-1.1 3.1M115.8 384.3a1.6 1.4 1 1 0-3.1-0a1.6 1.4 1 1 0 3.1 0M165.3 453.4a3.6 2.2 96 1 0 .8-7.2a3.6 2.2 96 1 0-.8 7.2M126.4 365.4a3.7 3.3 2 1 0-7.3-.2a3.7 3.3 2 1 0 7.3 .2M141.9 405.1a1.9 1.7 161 1 0 3.7-1.3a1.9 1.7 161 1 0-3.7 1.3M161.7 370a3.6 2.7 34 1 0-6-4a3.6 2.7 34 1 0 6 4M132.7 344.2a3.6 2.7 125 1 0 4.2-5.9a3.6 2.7 125 1 0-4.2 5.9M180.1 449a2 1.4 157 1 0 3.6-1.5a2 1.4 157 1 0-3.6 1.5M179.8 372.7a3.1 1.9 29 1 0-5.5-3.1a3.1 1.9 29 1 0 5.5 3.1M112.8 370.5a2.1 1.6 175 1 0 4.2-.4a2.1 1.6 175 1 0-4.2 .4M123.5 397.3a3.7 2.9 95 1 0 .6-7.3a3.7 2.9 95 1 0-.6 7.3M174.4 325.5a3.9 3.3 145 1 0 6.4-4.4a3.9 3.3 145 1 0-6.4 4.4M182.6 335a1.7 1 91 1 0 .1-3.3a1.7 1 91 1 0-.1 3.3M190.8 441.6a2.5 2.1 133 1 0 3.5-3.7a2.5 2.1 133 1 0-3.5 3.7M135.9 449a3.9 3.3 162 1 0 7.3-2.3a3.9 3.3 162 1 0-7.3 2.3M182.2 407.6a2.3 1.5 43 1 0-3.4-3.1a2.3 1.5 43 1 0 3.4 3.1M116.7 443.8a2.2 1.1 57 1 0-2.5-3.8a2.2 1.1 57 1 0 2.5 3.8M119.7 381.2a2.3 1.4 86 1 0-.3-4.6a2.3 1.4 86 1 0 .3 4.6M146.3 370.4a3.5 2.3 97 1 0 .9-7a3.5 2.3 97 1 0-.9 7M184.8 446.7a2.4 1.3 171 1 0 4.8-.8a2.4 1.3 171 1 0-4.8 .8M156.5 350.5a1.8 1.1 56 1 0-2-3a1.8 1.1 56 1 0 2 3M126.4 328.2a4 3.6 20 1 0-7.5-2.8a4 3.6 20 1 0 7.5 2.8M153.8 428a2.8 1.5 61 1 0-2.7-4.8a2.8 1.5 61 1 0 2.7 4.8M142.6 443.2a3 2.2 114 1 0 2.4-5.4a3 2.2 114 1 0-2.4 5.4M116.2 413.7a3.5 2.9 65 1 0-3-6.4a3.5 2.9 65 1 0 3 6.4M135.7 323.4a1.7 1 82 1 0-.5-3.4a1.7 1 82 1 0 .5 3.4M177.5 351.4a2.7 2.2 113 1 0 2.1-4.9a2.7 2.2 113 1 0-2.1 4.9M114.5 443.3a3 1.9 43 1 0-4.3-4a3 1.9 43 1 0 4.3 4M170.3 445.2a2.3 1.6 100 1 0 .8-4.6a2.3 1.6 100 1 0-.8 4.6M122.6 375.7a3.8 3 148 1 0 6.4-4a3.8 3 148 1 0-6.4 4M133.1 437.9a3.5 2.1 95 1 0 .7-6.9a3.5 2.1 95 1 0-.7 6.9M169.6 398.6a3 1.9 100 1 0 1-5.9a3 1.9 100 1 0-1 5.9M140.9 427.5a2.4 2.4 104 1 0 1.2-4.7a2.4 2.4 104 1 0-1.2 4.7M132.2 375.2a1.8 1.6 8 1 0-3.6-.5a1.8 1.6 8 1 0 3.6 .5M161.5 363.7a3.4 1.9 122 1 0 3.7-5.8a3.4 1.9 122 1 0-3.7 5.8M172.1 352.6a1.8 1.3 117 1 0 1.6-3.3a1.8 1.3 117 1 0-1.6 3.3M135.6 322.8a2.6 2.4 28 1 0-4.6-2.5a2.6 2.4 28 1 0 4.6 2.5M193.5 388.9a1.9 1 67 1 0-1.5-3.5a1.9 1 67 1 0 1.5 3.5M153.3 344.7a1.7 1.3 46 1 0-2.4-2.4a1.7 1.3 46 1 0 2.4 2.4M151.8 381.7a3.2 2.6 41 1 0-4.9-4.3a3.2 2.6 41 1 0 4.9 4.3M127.8 433.5a1.6 .9 13 1 0-3.2-.7a1.6 .9 13 1 0 3.2 .7M184.6 394.7a3.8 3.1 60 1 0-3.8-6.6a3.8 3.1 60 1 0 3.8 6.6M148.7 418.6a2.1 1.9 73 1 0-1.2-4a2.1 1.9 73 1 0 1.2 4M111.4 366.4a2.9 1.7 163 1 0 5.5-1.7a2.9 1.7 163 1 0-5.5 1.7M191 391.3a3.8 3.2 97 1 0 .9-7.5a3.8 3.2 97 1 0-.9 7.5M125.7 449.1a3.8 2.8 69 1 0-2.7-7.1a3.8 2.8 69 1 0 2.7 7.1M119.2 404.6a3.6 2.5 52 1 0-4.5-5.7a3.6 2.5 52 1 0 4.5 5.7M163.2 426.3a1.9 1.2 116 1 0 1.7-3.5a1.9 1.2 116 1 0-1.7 3.5M114.4 429.9a2.3 2.1 82 1 0-.6-4.5a2.3 2.1 82 1 0 .6 4.5M123.7 324.2a1.8 1.1 136 1 0 2.6-2.5a1.8 1.1 136 1 0-2.6 2.5M178.4 405a2.3 1.9 132 1 0 3-3.4a2.3 1.9 132 1 0-3 3.4M144.8 332.6a2.7 1.6 34 1 0-4.4-3a2.7 1.6 34 1 0 4.4 3M141.1 331.4a3.7 2.4 162 1 0 7.1-2.3a3.7 2.4 162 1 0-7.1 2.3M174.6 325.6a3.7 3.4 95 1 0 .6-7.5a3.7 3.4 95 1 0-.6 7.5M188.7 384.5a1.6 .9 56 1 0-1.8-2.6a1.6 .9 56 1 0 1.8 2.6M187.2 429.9a1.8 1.2 20 1 0-3.4-1.2a1.8 1.2 20 1 0 3.4 1.2M129.3 368.9a2.5 1.5 118 1 0 2.4-4.5a2.5 1.5 118 1 0-2.4 4.5M129.7 439.1a2.7 1.9 138 1 0 4-3.6a2.7 1.9 138 1 0-4 3.6M142 355.3a1.8 1.2 42 1 0-2.7-2.4a1.8 1.2 42 1 0 2.7 2.4M177.9 367.7a3.3 2.1 13 1 0-6.4-1.4a3.3 2.1 13 1 0 6.4 1.4M140.1 374.3a3.8 2.3 38 1 0-5.9-4.7a3.8 2.3 38 1 0 5.9 4.7M127.1 356.2a3.9 3.8 41 1 0-5.9-5.1a3.9 3.8 41 1 0 5.9 5.1M115.6 387.1a3 1.6 75 1 0-1.5-5.7a3 1.6 75 1 0 1.5 5.7M175.1 322.6a3.3 2.8 142 1 0 5.2-4.1a3.3 2.8 142 1 0-5.2 4.1M152.9 384.1a2.8 1.6 93 1 0 .2-5.6a2.8 1.6 93 1 0-.2 5.6M133 362.8a1.6 .9 10 1 0-3.2-.6a1.6 .9 10 1 0 3.2 .6M159.9 353.4a2.9 2.2 42 1 0-4.3-3.9a2.9 2.2 42 1 0 4.3 3.9M121.5 401.8a3.2 2.7 91 1 0 .2-6.4a3.2 2.7 91 1 0-.2 6.4M162 325.7a2.3 2 68 1 0-1.7-4.2a2.3 2 68 1 0 1.7 4.2M123 376.9a3.6 2 20 1 0-6.7-2.5a3.6 2 20 1 0 6.7 2.5M152.2 436.6a2.5 1.5 138 1 0 3.7-3.3a2.5 1.5 138 1 0-3.7 3.3M116 360.5a3 2.8 155 1 0 5.4-2.5a3 2.8 155 1 0-5.4 2.5M140.5 357.2a2.4 1.4 49 1 0-3.2-3.6a2.4 1.4 49 1 0 3.2 3.6M176 450.5a2.2 1.2 133 1 0 3-3.2a2.2 1.2 133 1 0-3 3.2M193.1 426.4a2.5 2.2 137 1 0 3.7-3.5a2.5 2.2 137 1 0-3.7 3.5M178.5 387.8a4 3.6 42 1 0-5.9-5.4a4 3.6 42 1 0 5.9 5.4M148.3 334.5a2.4 2.2 88 1 0-.2-4.9a2.4 2.2 88 1 0 .2 4.9M156.4 424.4a1.7 1.2 87 1 0-.2-3.4a1.7 1.2 87 1 0 .2 3.4M153.1 414.1a3.8 3.5 98 1 0 1.1-7.6a3.8 3.5 98 1 0-1.1 7.6M169.1 394.9a4 3.2 107 1 0 2.3-7.6a4 3.2 107 1 0-2.3 7.6M141.8 376.5a3.4 2.3 163 1 0 6.5-2a3.4 2.3 163 1 0-6.5 2M175.4 448.8a3.3 2.6 66 1 0-2.7-6a3.3 2.6 66 1 0 2.7 6M109.6 409.6a3.4 2.9 137 1 0 4.9-4.6a3.4 2.9 137 1 0-4.9 4.6M111.6 411.1a2.2 1.5 156 1 0 4-1.8a2.2 1.5 156 1 0-4 1.8M147.2 382.7a1.6 1 38 1 0-2.6-2a1.6 1 38 1 0 2.6 2M130.9 389.4a1.6 .9 16 1 0-3.1-.9a1.6 .9 16 1 0 3.1 .9M177.7 449.2a3.4 2.6 23 1 0-6.2-2.7a3.4 2.6 23 1 0 6.2 2.7M177.5 338.1a1.7 1.3 155 1 0 3.1-1.4a1.7 1.3 155 1 0-3.1 1.4M136.1 435.5a2.3 2.3 133 1 0 3.2-3.4a2.3 2.3 133 1 0-3.2 3.4M185.9 453.2a3.5 2.1 93 1 0 .4-7.1a3.5 2.1 93 1 0-.4 7.1M159.4 416.9a2.1 1.6 51 1 0-2.6-3.2a2.1 1.6 51 1 0 2.6 3.2M128.1 382.6a3.5 2.7 64 1 0-3.1-6.3a3.5 2.7 64 1 0 3.1 6.3M131.6 369.6a2.5 1.6 56 1 0-2.8-4.1a2.5 1.6 56 1 0 2.8 4.1M129.1 361.9a3.2 2.6 113 1 0 2.5-5.9a3.2 2.6 113 1 0-2.5 5.9M191.1 409.6a1.8 1.3 94 1 0 .3-3.6a1.8 1.3 94 1 0-.3 3.6M174.9 391.5a1.7 1.3 118 1 0 1.6-3.1a1.7 1.3 118 1 0-1.6 3.1M179.1 381a2 1.1 91 1 0 0-4.1a2 1.1 91 1 0-0 4.1M175.5 337.7a2.8 2.2 101 1 0 1.1-5.5a2.8 2.2 101 1 0-1.1 5.5M129.3 333a1.6 1 161 1 0 2.9-1a1.6 1 161 1 0-2.9 1M147.8 453.5a3.6 2.8 79 1 0-1.3-7a3.6 2.8 79 1 0 1.3 7M157.4 431.4a2.3 1.4 162 1 0 4.4-1.5a2.3 1.4 162 1 0-4.4 1.5M165.1 372.5a2.5 1.4 102 1 0 1-4.9a2.5 1.4 102 1 0-1 4.9M180.8 388.7a3.2 2.8 60 1 0-3.3-5.6a3.2 2.8 60 1 0 3.3 5.6M164.6 450.9a3.3 1.9 119 1 0 3.2-5.7a3.3 1.9 119 1 0-3.2 5.7M163.6 422.5a3.3 3.1 176 1 0 6.5-.5a3.3 3.1 176 1 0-6.5 .5M130.3 383.9a1.6 1.6 19 1 0-3-1.1a1.6 1.6 19 1 0 3 1.1M147.7 403.9a2.6 1.5 90 1 0 0-5.1a2.6 1.5 90 1 0-0 5.1M130.6 388a3.3 2.1 80 1 0-1.1-6.5a3.3 2.1 80 1 0 1.1 6.5M162.2 390.6a3.5 3.3 174 1 0 7-.7a3.5 3.3 174 1 0-7 .7M125.5 385.5a1.8 1.5 71 1 0-1.2-3.4a1.8 1.5 71 1 0 1.2 3.4M183.5 387.1a3.5 1.8 110 1 0 2.4-6.6a3.5 1.8 110 1 0-2.4 6.6M145.7 431.2a1.8 1 124 1 0 2-2.9a1.8 1 124 1 0-2 2.9M138.1 379.8a2.5 2.5 112 1 0 1.9-4.6a2.5 2.5 112 1 0-1.9 4.6M185.5 433.5a3.6 2.6 52 1 0-4.5-5.8a3.6 2.6 52 1 0 4.5 5.8M152 438.9a3.7 2.7 163 1 0 7.1-2.1a3.7 2.7 163 1 0-7.1 2.1M180.2 326.1a3.1 2.8 8 1 0-6.1-.8a3.1 2.8 8 1 0 6.1 .8M146.2 405.9a2.8 2.1 16 1 0-5.3-1.5a2.8 2.1 16 1 0 5.3 1.5M132.7 436.7a2.4 1.8 106 1 0 1.3-4.6a2.4 1.8 106 1 0-1.3 4.6M132.8 376.1a2.8 2.6 152 1 0 4.9-2.6a2.8 2.6 152 1 0-4.9 2.6M125.6 389.8a3.4 3.2 96 1 0 .7-6.7a3.4 3.2 96 1 0-.7 6.7M162.5 405.3a3.2 3 177 1 0 6.3-.3a3.2 3 177 1 0-6.3 .3M199.2 339.3a3.3 2.3 50 1 0-4.2-5.1a3.3 2.3 50 1 0 4.2 5.1M119.2 443.7a3.7 2.9 90 1 0-.1-7.5a3.7 2.9 90 1 0 .1 7.5M127.7 445.5a3.4 2 103 1 0 1.6-6.6a3.4 2 103 1 0-1.6 6.6M198.5 357.2a2.4 1.7 67 1 0-1.9-4.5a2.4 1.7 67 1 0 1.9 4.5M121 405a2.1 1.8 84 1 0-.4-4.2a2.1 1.8 84 1 0 .4 4.2M181.3 420.6a3.6 2.1 143 1 0 5.8-4.4a3.6 2.1 143 1 0-5.8 4.4M177.1 359.7a1.5 .8 139 1 0 2.3-2a1.5 .8 139 1 0-2.3 2M197.2 329.7a2.1 1.5 12 1 0-4.1-.9a2.1 1.5 12 1 0 4.1 .9M163.1 434a3.6 2.1 164 1 0 6.9-2a3.6 2.1 164 1 0-6.9 2M175.8 342.2a3.6 3.5 158 1 0 6.7-2.7a3.6 3.5 158 1 0-6.7 2.7M174.6 430a2.8 1.4 122 1 0 3-4.8a2.8 1.4 122 1 0-3 4.8M152.4 340.4a1.8 1.7 163 1 0 3.5-1.1a1.8 1.7 163 1 0-3.5 1.1M112 324.2a3.2 2.1 157 1 0 6-2.6a3.2 2.1 157 1 0-6 2.6M152.2 414.9a1.6 1.4 36 1 0-2.6-1.9a1.6 1.4 36 1 0 2.6 1.9M148.4 386.5a2.3 1.4 81 1 0-.8-4.6a2.3 1.4 81 1 0 .8 4.6M116 342.6a1.8 1.7 56 1 0-2-3a1.8 1.7 56 1 0 2 3M194.6 438.7a1.9 1.8 178 1 0 3.8-.2a1.9 1.8 178 1 0-3.8 .2M151.4 386.2a3.2 2.4 47 1 0-4.3-4.7a3.2 2.4 47 1 0 4.3 4.7M175.8 351.3a2.5 1.3 58 1 0-2.6-4.2a2.5 1.3 58 1 0 2.6 4.2M182.1 340.1a2 1.4 54 1 0-2.3-3.2a2 1.4 54 1 0 2.3 3.2M109.5 328.8a2 1.8 140 1 0 3.1-2.6a2 1.8 140 1 0-3.1 2.6M178.5 414.9a4 2.5 127 1 0 4.9-6.3a4 2.5 127 1 0-4.9 6.3M147.8 448.2a2.6 2.2 140 1 0 4-3.4a2.6 2.2 140 1 0-4 3.4M192.9 422.2a2.3 1.9 143 1 0 3.7-2.8a2.3 1.9 143 1 0-3.7 2.8M195.5 354.4a3.3 2.9 28 1 0-5.8-3.2a3.3 2.9 28 1 0 5.8 3.2M119.8 397a3 2 111 1 0 2.2-5.6a3 2 111 1 0-2.2 5.6M121.6 397.8a2.8 2.6 130 1 0 3.6-4.4a2.8 2.6 130 1 0-3.6 4.4M116.5 395a1.8 1.4 122 1 0 1.9-3.1a1.8 1.4 122 1 0-1.9 3.1M172 324.4a2.8 1.7 91 1 0 .1-5.7a2.8 1.7 91 1 0-.1 5.7M153.8 387.9a3.4 2.2 86 1 0-.5-6.8a3.4 2.2 86 1 0 .5 6.8M129.5 348.2a3.1 1.8 144 1 0 5-3.6a3.1 1.8 144 1 0-5 3.6M145.3 338.1a3.5 1.8 53 1 0-4.2-5.5a3.5 1.8 53 1 0 4.2 5.5M164.5 322.7a3.3 2.5 176 1 0 6.5-.5a3.3 2.5 176 1 0-6.5 .5M141.7 430.2a4 3 14 1 0-7.7-1.9a4 3 14 1 0 7.7 1.9M140.2 428.7a1.5 1.2 94 1 0 .2-3a1.5 1.2 94 1 0-.2 3M176.2 372.7a3.8 2.1 75 1 0-2-7.4a3.8 2.1 75 1 0 2 7.4M137.6 395.8a2 1.4 81 1 0-.6-4a2 1.4 81 1 0 .6 4M189.8 325.8a2.2 1.3 129 1 0 2.8-3.4a2.2 1.3 129 1 0-2.8 3.4M178.3 326a3.5 3.3 83 1 0-.8-6.9a3.5 3.3 83 1 0 .8 6.9M160.2 427.5a3.8 2.3 127 1 0 4.6-6.1a3.8 2.3 127 1 0-4.6 6.1M117 372a3.8 3.1 96 1 0 .8-7.5a3.8 3.1 96 1 0-.8 7.5M147.9 380.6a1.6 1.2 169 1 0 3.1-.6a1.6 1.2 169 1 0-3.1 .6M121.5 327.9a3.1 2.8 77 1 0-1.3-6a3.1 2.8 77 1 0 1.3 6M115.2 406.8a3.1 1.9 146 1 0 5.2-3.5a3.1 1.9 146 1 0-5.2 3.5M156.9 425.5a2.1 1.4 119 1 0 2-3.6a2.1 1.4 119 1 0-2 3.6M172.8 431.8a3.9 3.3 2 1 0-7.7-.2a3.9 3.3 2 1 0 7.7 .2M154.6 408.5a3.4 2.3 11 1 0-6.8-1.3a3.4 2.3 11 1 0 6.8 1.3M158.6 346.8a2.8 1.7 158 1 0 5.2-2.1a2.8 1.7 158 1 0-5.2 2.1M116.5 395.3a3.7 3 26 1 0-6.6-3.3a3.7 3 26 1 0 6.6 3.3M155.8 430.5a3.1 2.9 147 1 0 5.1-3.4a3.1 2.9 147 1 0-5.1 3.4M141.2 338.4a3.2 2.4 147 1 0 5.4-3.5a3.2 2.4 147 1 0-5.4 3.5M147.7 415.6a1.9 1.6 156 1 0 3.4-1.5a1.9 1.6 156 1 0-3.4 1.5M182.9 424.9a3.2 1.9 59 1 0-3.2-5.5a3.2 1.9 59 1 0 3.2 5.5M133.6 361.3a3 2 119 1 0 2.8-5.2a3 2 119 1 0-2.8 5.2M188 452.3a1.5 1.2 104 1 0 .7-2.9a1.5 1.2 104 1 0-.7 2.9M146.7 420.3a3.7 2.3 114 1 0 3.1-6.7a3.7 2.3 114 1 0-3.1 6.7M122 378.9a2.4 2.2 164 1 0 4.6-1.3a2.4 2.2 164 1 0-4.6 1.3M186.1 392.2a3.3 2.7 97 1 0 .8-6.5a3.3 2.7 97 1 0-.8 6.5M126 357.1a3.9 3.1 21 1 0-7.3-2.8a3.9 3.1 21 1 0 7.3 2.8M142.7 339.4a1.8 1.3 53 1 0-2.2-2.9a1.8 1.3 53 1 0 2.2 2.9M113.3 389.1a3.8 2.8 72 1 0-2.4-7.3a3.8 2.8 72 1 0 2.4 7.3M144.4 357.6a2.3 1.4 77 1 0-1-4.5a2.3 1.4 77 1 0 1 4.5M189 371.8a3.7 2.8 115 1 0 3.1-6.7a3.7 2.8 115 1 0-3.1 6.7M155.7 374a3.7 3 34 1 0-6.1-4.2a3.7 3 34 1 0 6.1 4.2M139.3 374.2a2.9 2 48 1 0-3.9-4.3a2.9 2 48 1 0 3.9 4.3M133.9 451.9a3.3 3.1 161 1 0 6.3-2.2a3.3 3.1 161 1 0-6.3 2.2M122.6 394.1a3.3 2.5 95 1 0 .6-6.6a3.3 2.5 95 1 0-.6 6.6M167.1 404.9a1.9 1 49 1 0-2.5-2.9a1.9 1 49 1 0 2.5 2.9M112.8 362.4a1.6 .9 118 1 0 1.5-2.8a1.6 .9 118 1 0-1.5 2.8M127.1 416.6a2.5 2.3 100 1 0 .9-5a2.5 2.3 100 1 0-.9 5M185.3 378.3a2.5 2.5 123 1 0 2.8-4.3a2.5 2.5 123 1 0-2.8 4.3M151.2 435.1a3.3 2.7 5 1 0-6.6-.6a3.3 2.7 5 1 0 6.6 .6M189.4 335.3a1.5 1 35 1 0-2.5-1.8a1.5 1 35 1 0 2.5 1.8M129.1 385.3a2.8 2.3 156 1 0 5-2.3a2.8 2.3 156 1 0-5 2.3M169.6 436.2a2.6 1.5 128 1 0 3.2-4.1a2.6 1.5 128 1 0-3.2 4.1M194.5 342.8a3 2.1 177 1 0 6.1-.3a3 2.1 177 1 0-6.1 .3M111.7 384.9a2.4 1.6 134 1 0 3.3-3.5a2.4 1.6 134 1 0-3.3 3.5M114.5 356.7a3.9 2.9 2 1 0-7.8-.3a3.9 2.9 2 1 0 7.8 .3M160.8 407.3a3.8 3.6 171 1 0 7.5-1.2a3.8 3.6 171 1 0-7.5 1.2M134.9 365.1a3.2 2.2 68 1 0-2.5-6a3.2 2.2 68 1 0 2.5 6M112.9 347.9a1.8 1.3 126 1 0 2.2-3a1.8 1.3 126 1 0-2.2 3M127 359.8a1.7 1.2 106 1 0 .9-3.3a1.7 1.2 106 1 0-.9 3.3M160.7 407a2.8 2.4 144 1 0 4.6-3.3a2.8 2.4 144 1 0-4.6 3.3M180.1 320.6a3.8 2.8 179 1 0 7.6-.2a3.8 2.8 179 1 0-7.6 .2M175.9 382.1a1.6 .9 140 1 0 2.5-2.1a1.6 .9 140 1 0-2.5 2.1M109.4 329.8a3.2 2.6 122 1 0 3.4-5.5a3.2 2.6 122 1 0-3.4 5.5M115.7 449.5a3.4 1.7 103 1 0 1.5-6.6a3.4 1.7 103 1 0-1.5 6.6M142 351.2a3 3 6 1 0-6-.6a3 3 6 1 0 6 .6M182.6 442.9a1.7 1.6 3 1 0-3.4-.2a1.7 1.6 3 1 0 3.4 .2M138.3 325.4a1.9 1.1 101 1 0 .7-3.8a1.9 1.1 101 1 0-.7 3.8M151.9 448.2a3.4 1.8 13 1 0-6.6-1.5a3.4 1.8 13 1 0 6.6 1.5M131.7 428.8a3.5 3.2 156 1 0 6.4-2.9a3.5 3.2 156 1 0-6.4 2.9M171.4 395.8a3.6 3.3 147 1 0 6.1-3.9a3.6 3.3 147 1 0-6.1 3.9M186.4 391.6a1.7 1.4 126 1 0 2-2.8a1.7 1.4 126 1 0-2 2.8M195.4 421.7a3.7 3.6 59 1 0-3.9-6.4a3.7 3.6 59 1 0 3.9 6.4M191.5 397.7a2.6 1.9 89 1 0-.1-5.2a2.6 1.9 89 1 0 .1 5.2M145.7 417.1a2.1 1.5 117 1 0 1.9-3.8a2.1 1.5 117 1 0-1.9 3.8M193.9 418.8a2.9 2 119 1 0 2.8-5.1a2.9 2 119 1 0-2.8 5.1M189.4 324.3a2.5 1.6 140 1 0 3.8-3.2a2.5 1.6 140 1 0-3.8 3.2M172.2 322.4a3.7 2.6 25 1 0-6.8-3.2a3.7 2.6 25 1 0 6.8 3.2M117.9 331.5a2.1 1.1 127 1 0 2.5-3.4a2.1 1.1 127 1 0-2.5 3.4M124.5 379.7a3.1 2.3 52 1 0-3.8-5a3.1 2.3 52 1 0 3.8 5M151.7 383.3a2.9 2.3 57 1 0-3.2-4.9a2.9 2.3 57 1 0 3.2 4.9M172.4 435.7a3.9 3.2 53 1 0-4.7-6.3a3.9 3.2 53 1 0 4.7 6.3M108.1 380a4 4 128 1 0 4.9-6.3a4 4 128 1 0-4.9 6.3M125.6 347.3a1.9 1.4 171 1 0 3.7-.6a1.9 1.4 171 1 0-3.7 .6M129.1 430.4a2.9 1.8 82 1 0-.8-5.7a2.9 1.8 82 1 0 .8 5.7M111.5 404.1a3.8 2.5 175 1 0 7.5-.7a3.8 2.5 175 1 0-7.5 .7M139 367.2a3.2 2 7 1 0-6.4-.8a3.2 2 7 1 0 6.4 .8M155.9 385.5a1.9 1.1 20 1 0-3.6-1.3a1.9 1.1 20 1 0 3.6 1.3M126.2 343.1a3.1 3 108 1 0 1.9-6a3.1 3 108 1 0-1.9 6M127.9 395.8a3.9 2.6 131 1 0 5.1-5.8a3.9 2.6 131 1 0-5.1 5.8M107.5 422.1a3.6 2.8 161 1 0 6.9-2.3a3.6 2.8 161 1 0-6.9 2.3M164.4 425.2a2.7 1.9 49 1 0-3.6-4.1a2.7 1.9 49 1 0 3.6 4.1M161.1 421.8a1.6 1.3 6 1 0-3.2-.3a1.6 1.3 6 1 0 3.2 .3M165 417.7a3.8 3.1 117 1 0 3.5-6.7a3.8 3.1 117 1 0-3.5 6.7M167.3 410.3a3.2 2.7 153 1 0 5.7-3a3.2 2.7 153 1 0-5.7 3M143.7 445.8a2 1 9 1 0-3.9-.6a2 1 9 1 0 3.9 .6M158.4 434.7a1.8 1.7 90 1 0-0-3.6a1.8 1.7 90 1 0 0 3.6M171.4 344.8a4 2.9 43 1 0-5.8-5.5a4 2.9 43 1 0 5.8 5.5M167.8 327.6a3.1 2.9 22 1 0-5.8-2.4a3.1 2.9 22 1 0 5.8 2.4M130.9 357.5a2 1.6 147 1 0 3.3-2.2a2 1.6 147 1 0-3.3 2.2M151.9 415.2a3.8 3.4 68 1 0-2.8-7a3.8 3.4 68 1 0 2.8 7M190.6 348a3.6 1.9 58 1 0-3.8-6a3.6 1.9 58 1 0 3.8 6M121.1 395.3a1.8 1.4 30 1 0-3.1-1.8a1.8 1.4 30 1 0 3.1 1.8M167.6 387.1a2.3 1.3 136 1 0 3.3-3.1a2.3 1.3 136 1 0-3.3 3.1M124.9 366.9a3.8 3.6 130 1 0 4.9-5.8a3.8 3.6 130 1 0-4.9 5.8M163.7 433.6a3.6 3.3 135 1 0 5.1-5a3.6 3.3 135 1 0-5.1 5M149.3 420.1a2.5 1.9 5 1 0-5-.4a2.5 1.9 5 1 0 5 .4M122.6 409.6a1.7 .9 157 1 0 3.2-1.3a1.7 .9 157 1 0-3.2 1.3M187.7 451.5a3.5 2.3 109 1 0 2.3-6.6a3.5 2.3 109 1 0-2.3 6.6M156.1 333.1a1.9 1.5 76 1 0-.9-3.7a1.9 1.5 76 1 0 .9 3.7M159.1 441.6a1.7 1 176 1 0 3.4-.2a1.7 1 176 1 0-3.4 .2M121.7 371.5a2.9 1.8 69 1 0-2.1-5.4a2.9 1.8 69 1 0 2.1 5.4M125.2 428.7a2.1 1.8 83 1 0-.5-4.1a2.1 1.8 83 1 0 .5 4.1M151.2 332.4a3.7 1.9 156 1 0 6.8-3a3.7 1.9 156 1 0-6.8 3M113.9 372.5a2.6 2.1 48 1 0-3.5-3.9a2.6 2.1 48 1 0 3.5 3.9"/>
<path fill="#9a98a6" fill-opacity=".85" d="M109.6 319.5a1.6 1.4 159 1 0 3.1-1.2a1.6 1.4 159 1 0-3.1 1.2M114.4 322.3a1.9 1.1 61 1 0-1.9-3.3a1.9 1.1 61 1 0 1.9 3.3M130 319.7a1.2 .6 0 1 0-2.5-0a1.2 .6 0 1 0 2.5 0M149.4 318.9a1.7 1.1 137 1 0 2.5-2.3a1.7 1.1 137 1 0-2.5 2.3M168.4 321.1a1.3 .8 152 1 0 2.3-1.2a1.3 .8 152 1 0-2.3 1.2M111.2 324.4a1.3 .7 52 1 0-1.6-2.1a1.3 .7 52 1 0 1.6 2.1M117.3 324.2a1.3 1 11 1 0-2.6-.5a1.3 1 11 1 0 2.6 .5M146.4 326.3a1.8 1 53 1 0-2.2-2.8a1.8 1 53 1 0 2.2 2.8M148.3 326.6a1.8 1.4 110 1 0 1.3-3.5a1.8 1.4 110 1 0-1.3 3.5M158.8 324.9a1.6 1.2 64 1 0-1.4-2.9a1.6 1.2 64 1 0 1.4 2.9M181.9 323.6a1.8 1 38 1 0-2.8-2.3a1.8 1 38 1 0 2.8 2.3M189.5 324.2a1.8 .9 166 1 0 3.6-.9a1.8 .9 166 1 0-3.6 .9M109.9 328.8a1.4 1 106 1 0 .7-2.6a1.4 1 106 1 0-.7 2.6M116.4 326.4a1.5 1.3 10 1 0-2.9-.5a1.5 1.3 10 1 0 2.9 .5M118.4 327.2a1.1 .6 122 1 0 1.2-1.9a1.1 .6 122 1 0-1.2 1.9M151.1 327.2a1.5 1.3 38 1 0-2.5-1.9a1.5 1.3 38 1 0 2.5 1.9M158.2 327a1.6 1.2 10 1 0-3.2-.5a1.6 1.2 10 1 0 3.2 .5M158.8 328.2a1.5 1.1 133 1 0 2-2.1a1.5 1.1 133 1 0-2 2.1M164.7 328.7a1.5 .8 11 1 0-3-.6a1.5 .8 11 1 0 3 .6M179.3 328.9a1.7 1.1 83 1 0-.4-3.4a1.7 1.1 83 1 0 .4 3.4M187.9 329.3a1.1 .6 127 1 0 1.4-1.8a1.1 .6 127 1 0-1.4 1.8M201.2 329.7a1.7 1 101 1 0 .6-3.3a1.7 1 101 1 0-.6 3.3M116.9 331.1a1.5 1.1 21 1 0-2.8-1.1a1.5 1.1 21 1 0 2.8 1.1M123.5 330.4a1.6 .9 177 1 0 3.1-.2a1.6 .9 177 1 0-3.1 .2M129.6 333a1.4 1 95 1 0 .3-2.9a1.4 1 95 1 0-.3 2.9M163.2 332.9a1.8 1.2 42 1 0-2.6-2.4a1.8 1.2 42 1 0 2.6 2.4M165.1 334.2a1.5 .8 123 1 0 1.6-2.4a1.5 .8 123 1 0-1.6 2.4M172.4 332.2a1.9 1.3 15 1 0-3.6-.9a1.9 1.3 15 1 0 3.6 .9M181.7 334a1.3 1 103 1 0 .6-2.5a1.3 1 103 1 0-.6 2.5M186.3 331.9a1.3 .9 41 1 0-2-1.7a1.3 .9 41 1 0 2 1.7M191.4 333.5a1.9 1.2 76 1 0-.9-3.6a1.9 1.2 76 1 0 .9 3.6M194.3 333.9a2 1.6 130 1 0 2.5-3a2 1.6 130 1 0-2.5 3M196.6 332.1a1.9 1.5 131 1 0 2.5-2.9a1.9 1.5 131 1 0-2.5 2.9M203.3 332.7a1.3 1 153 1 0 2.2-1.2a1.3 1 153 1 0-2.2 1.2M112.2 338.2a2 .9 43 1 0-2.9-2.7a2 .9 43 1 0 2.9 2.7M131.2 334.9a1.5 1.1 149 1 0 2.5-1.5a1.5 1.1 149 1 0-2.5 1.5M148.2 335.8a1.7 1.4 20 1 0-3.3-1.2a1.7 1.4 20 1 0 3.3 1.2M167 335.9a1.2 .7 5 1 0-2.5-.2a1.2 .7 5 1 0 2.5 .2M194.3 336.4a1.4 1.1 66 1 0-1.1-2.5a1.4 1.1 66 1 0 1.1 2.5M201.9 338.3a1.5 1.2 61 1 0-1.5-2.6a1.5 1.2 61 1 0 1.5 2.6M111 339.5a1.3 .6 60 1 0-1.3-2.2a1.3 .6 60 1 0 1.3 2.2M128.3 341.5a1.9 1 44 1 0-2.8-2.7a1.9 1 44 1 0 2.8 2.7M128.8 339.7a1.8 1.4 115 1 0 1.5-3.3a1.8 1.4 115 1 0-1.5 3.3M149.2 341.6a1.2 1 38 1 0-1.9-1.5a1.2 1 38 1 0 1.9 1.5M158.5 340.6a1.6 .7 71 1 0-1-3a1.6 .7 71 1 0 1 3M167.5 341.7a1.2 .9 142 1 0 1.9-1.5a1.2 .9 142 1 0-1.9 1.5M174.5 339.4a1.7 1 158 1 0 3.2-1.3a1.7 1 158 1 0-3.2 1.3M195.5 339.1a1.6 1.3 39 1 0-2.5-2a1.6 1.3 39 1 0 2.5 2M201.2 340.7a1.9 .9 169 1 0 3.7-.7a1.9 .9 169 1 0-3.7 .7M112.1 344.8a1.7 1.4 110 1 0 1.2-3.2a1.7 1.4 110 1 0-1.2 3.2M117.1 344.3a2 1.3 165 1 0 3.8-1a2 1.3 165 1 0-3.8 1M133.4 344.2a1.1 .5 6 1 0-2.2-.2a1.1 .5 6 1 0 2.2 .2M143.9 346a1.9 1.5 126 1 0 2.2-3a1.9 1.5 126 1 0-2.2 3M150.2 344.5a2 1 172 1 0 3.9-.6a2 1 172 1 0-3.9 .6M158.4 344.2a1.8 1.5 132 1 0 2.4-2.7a1.8 1.5 132 1 0-2.4 2.7M181.2 349.7a1.2 1 95 1 0 .2-2.5a1.2 1 95 1 0-.2 2.5M187.6 348.3a1.4 1 177 1 0 2.7-.1a1.4 1 177 1 0-2.7 .1M193.9 348.9a1.9 1.2 154 1 0 3.4-1.7a1.9 1.2 154 1 0-3.4 1.7M198.4 349.8a1.6 1.3 66 1 0-1.4-3a1.6 1.3 66 1 0 1.4 3M122.6 350.5a1.9 1.1 178 1 0 3.7-.1a1.9 1.1 178 1 0-3.7 .1M169.9 353.3a1.6 .9 123 1 0 1.7-2.6a1.6 .9 123 1 0-1.7 2.6M172 352.7a1.7 1 117 1 0 1.6-3.1a1.7 1 117 1 0-1.6 3.1M201.8 354a1.7 .8 55 1 0-1.9-2.8a1.7 .8 55 1 0 1.9 2.8M112.1 357.8a1.5 .9 57 1 0-1.6-2.5a1.5 .9 57 1 0 1.6 2.5M128.1 357.2a1.5 .8 34 1 0-2.4-1.7a1.5 .8 34 1 0 2.4 1.7M134.4 356.4a1.6 .9 115 1 0 1.3-2.8a1.6 .9 115 1 0-1.3 2.8M144.2 357.6a1.8 1 23 1 0-3.4-1.5a1.8 1 23 1 0 3.4 1.5M158.4 356.1a1.8 1.2 20 1 0-3.4-1.3a1.8 1.2 20 1 0 3.4 1.3M162.6 358.1a1.9 1 81 1 0-.6-3.8a1.9 1 81 1 0 .6 3.8M172.1 355.3a1.5 1.2 21 1 0-2.9-1.1a1.5 1.2 21 1 0 2.9 1.1M185.5 357.9a1.6 .9 83 1 0-.4-3.1a1.6 .9 83 1 0 .4 3.1M197.9 356.8a1.7 1 134 1 0 2.3-2.4a1.7 1 134 1 0-2.3 2.4M113.3 359.4a1.6 1 155 1 0 3-1.4a1.6 1 155 1 0-3 1.4M119.9 362.2a1.7 1.2 57 1 0-1.9-2.9a1.7 1.2 57 1 0 1.9 2.9M143.2 362.1a1.2 1 84 1 0-.3-2.4a1.2 1 84 1 0 .3 2.4M154.7 362.2a1.8 1.3 101 1 0 .7-3.6a1.8 1.3 101 1 0-.7 3.6M176.9 359.7a1.7 1.3 140 1 0 2.5-2.1a1.7 1.3 140 1 0-2.5 2.1M115.8 366.6a2 1.1 81 1 0-.6-3.9a2 1.1 81 1 0 .6 3.9M125.9 364.7a1.3 .7 60 1 0-1.3-2.2a1.3 .7 60 1 0 1.3 2.2M127.6 362.2a1.2 .8 164 1 0 2.3-.7a1.2 .8 164 1 0-2.3 .7M139.4 364.6a1.3 .7 6 1 0-2.5-.3a1.3 .7 6 1 0 2.5 .3M143.9 364.6a2 1.3 51 1 0-2.5-3.1a2 1.3 51 1 0 2.5 3.1M173.5 365.6a1.3 .8 31 1 0-2.2-1.3a1.3 .8 31 1 0 2.2 1.3M184.7 364.9a1.5 .7 116 1 0 1.3-2.7a1.5 .7 116 1 0-1.3 2.7M194.3 363a1.4 .7 49 1 0-1.9-2.1a1.4 .7 49 1 0 1.9 2.1M203.3 364.2a1.5 .8 59 1 0-1.5-2.6a1.5 .8 59 1 0 1.5 2.6M108.9 369.4a1.3 1 51 1 0-1.6-2a1.3 1 51 1 0 1.6 2M111.9 367.2a1.3 1 167 1 0 2.5-.6a1.3 1 167 1 0-2.5 .6M119.2 369.2a1.3 1 58 1 0-1.4-2.2a1.3 1 58 1 0 1.4 2.2M132.7 370.1a1.3 .9 73 1 0-.8-2.5a1.3 .9 73 1 0 .8 2.5M142.6 368.5a1.9 1.3 6 1 0-3.9-.4a1.9 1.3 6 1 0 3.9 .4M196.4 368.2a1.1 .7 78 1 0-.5-2.2a1.1 .7 78 1 0 .5 2.2M120.4 373a1.6 .9 91 1 0 0-3.2a1.6 .9 91 1 0-0 3.2M126 374.3a1.6 1 57 1 0-1.7-2.7a1.6 1 57 1 0 1.7 2.7M134.7 371.3a1.4 .9 143 1 0 2.2-1.6a1.4 .9 143 1 0-2.2 1.6M142.1 370.7a1.3 .6 159 1 0 2.4-.9a1.3 .6 159 1 0-2.4 .9M150.3 372.5a1.6 .8 144 1 0 2.6-1.8a1.6 .8 144 1 0-2.6 1.8M161.4 373.6a1.8 1 117 1 0 1.6-3.3a1.8 1 117 1 0-1.6 3.3M171.2 373.7a1.3 1.1 142 1 0 2.1-1.6a1.3 1.1 142 1 0-2.1 1.6M193.7 372.2a2 1 124 1 0 2.2-3.3a2 1 124 1 0-2.2 3.3M199.1 372.2a1.9 1 57 1 0-2-3.1a1.9 1 57 1 0 2 3.1M127.3 377.9a1.4 1.1 105 1 0 .7-2.7a1.4 1.1 105 1 0-.7 2.7M132.5 376.7a1.2 .9 52 1 0-1.4-1.8a1.2 .9 52 1 0 1.4 1.8M146.2 375.9a1.5 1.3 171 1 0 3-.5a1.5 1.3 171 1 0-3 .5M149.5 377.9a1.1 .9 96 1 0 .2-2.3a1.1 .9 96 1 0-.2 2.3M166.5 377.5a1.8 1 154 1 0 3.2-1.5a1.8 1 154 1 0-3.2 1.5M185.8 377.2a1.2 .9 115 1 0 1-2.2a1.2 .9 115 1 0-1 2.2M146.1 380.3a2 1.4 18 1 0-3.7-1.2a2 1.4 18 1 0 3.7 1.2M147.5 382a1.4 .8 107 1 0 .9-2.7a1.4 .8 107 1 0-.9 2.7M157.9 382.8a1.9 1 102 1 0 .8-3.6a1.9 1 102 1 0-.8 3.6M167.7 379.7a1.3 .7 68 1 0-1-2.4a1.3 .7 68 1 0 1 2.4M171.3 381a1.5 1.2 156 1 0 2.8-1.3a1.5 1.2 156 1 0-2.8 1.3M185.7 379.5a1.3 .9 50 1 0-1.6-1.9a1.3 .9 50 1 0 1.6 1.9M201.7 379.3a1.8 1.2 178 1 0 3.5-.1a1.8 1.2 178 1 0-3.5 .1M116.2 383.9a1.2 .7 178 1 0 2.4-.1a1.2 .7 178 1 0-2.4 .1M139.8 386.1a1.4 .9 111 1 0 1-2.6a1.4 .9 111 1 0-1 2.6M144.5 385.7a2 1.5 102 1 0 .8-3.9a2 1.5 102 1 0-.8 3.9M147.8 383.1a1.6 1.1 173 1 0 3.2-.4a1.6 1.1 173 1 0-3.2 .4M183.4 385.6a1.9 1.4 108 1 0 1.2-3.7a1.9 1.4 108 1 0-1.2 3.7M186.8 382.8a1.6 1.1 159 1 0 3.1-1.2a1.6 1.1 159 1 0-3.1 1.2M115.4 389a1.4 .9 177 1 0 2.8-.2a1.4 .9 177 1 0-2.8 .2M128.6 387.9a1.6 1.1 13 1 0-3.1-.7a1.6 1.1 13 1 0 3.1 .7M141.5 387.6a1.3 1 46 1 0-1.8-1.8a1.3 1 46 1 0 1.8 1.8M142.9 389.7a1.8 .9 137 1 0 2.6-2.5a1.8 .9 137 1 0-2.6 2.5M153.4 386.4a1.8 1 15 1 0-3.4-.9a1.8 1 15 1 0 3.4 .9M173.1 388a1.2 .9 88 1 0-.1-2.4a1.2 .9 88 1 0 .1 2.4M185.6 387.5a1.7 .9 60 1 0-1.7-2.9a1.7 .9 60 1 0 1.7 2.9M192.1 389.4a1.6 1.3 34 1 0-2.6-1.7a1.6 1.3 34 1 0 2.6 1.7M198.6 389.5a1.7 1.2 74 1 0-.9-3.4a1.7 1.2 74 1 0 .9 3.4M123.6 391.2a1.3 1 156 1 0 2.5-1.1a1.3 1 156 1 0-2.5 1.1M136 391.1a1.3 .6 175 1 0 2.5-.2a1.3 .6 175 1 0-2.5 .2M156.3 391.8a1.2 .7 24 1 0-2.2-1a1.2 .7 24 1 0 2.2 1M167.6 393.1a1.6 1.3 11 1 0-3.1-.6a1.6 1.3 11 1 0 3.1 .6M168.5 393.7a1.8 1.3 79 1 0-.7-3.5a1.8 1.3 79 1 0 .7 3.5M131.5 396.5a1.1 .8 89 1 0-0-2.3a1.1 .8 89 1 0 0 2.3M144.5 395.4a1.5 .9 70 1 0-1-2.9a1.5 .9 70 1 0 1 2.9M155.3 395.6a1.9 1.2 62 1 0-1.8-3.3a1.9 1.2 62 1 0 1.8 3.3M174.8 396.2a1.6 .9 174 1 0 3.2-.3a1.6 .9 174 1 0-3.2 .3M200.1 395.5a1.9 1.1 42 1 0-2.8-2.5a1.9 1.1 42 1 0 2.8 2.5M148.3 400.8a1.2 .9 61 1 0-1.2-2.1a1.2 .9 61 1 0 1.2 2.1M160.8 400.8a1.3 1.1 55 1 0-1.5-2.1a1.3 1.1 55 1 0 1.5 2.1M164.2 401.9a1.4 .9 121 1 0 1.4-2.4a1.4 .9 121 1 0-1.4 2.4M194.8 401.1a1.8 1.4 4 1 0-3.5-.3a1.8 1.4 4 1 0 3.5 .3M195.8 400.9a1.3 .8 74 1 0-.7-2.5a1.3 .8 74 1 0 .7 2.5M200.7 398.5a1.1 .7 150 1 0 1.9-1.1a1.1 .7 150 1 0-1.9 1.1M112.7 404.4a2 1.3 42 1 0-3-2.7a2 1.3 42 1 0 3 2.7M139.7 404a1.2 .6 82 1 0-.3-2.3a1.2 .6 82 1 0 .3 2.3M173.6 405.1a1.6 1 68 1 0-1.1-2.9a1.6 1 68 1 0 1.1 2.9M182.5 405.7a1.8 1.4 37 1 0-2.8-2.1a1.8 1.4 37 1 0 2.8 2.1M194.5 405.6a1.2 .8 72 1 0-.8-2.3a1.2 .8 72 1 0 .8 2.3M119.7 410.5a1.7 1.3 81 1 0-.5-3.4a1.7 1.3 81 1 0 .5 3.4M127.3 406.8a1.2 .5 176 1 0 2.3-.2a1.2 .5 176 1 0-2.3 .2M133.5 409.1a1.3 .6 45 1 0-1.8-1.8a1.3 .6 45 1 0 1.8 1.8M142.7 410.2a2 1.6 78 1 0-.8-3.9a2 1.6 78 1 0 .8 3.9M153.4 409.4a1.8 1.4 124 1 0 2-3a1.8 1.4 124 1 0-2 3M162.5 408.4a1.7 .9 24 1 0-3.2-1.4a1.7 .9 24 1 0 3.2 1.4M177.3 408.3a1.6 1.1 171 1 0 3.2-.5a1.6 1.1 171 1 0-3.2 .5M182.1 409.5a1.2 1 76 1 0-.6-2.4a1.2 1 76 1 0 .6 2.4M139.7 413.5a1.9 1 54 1 0-2.2-3a1.9 1 54 1 0 2.2 3M145.4 413.3a1.1 .7 44 1 0-1.6-1.6a1.1 .7 44 1 0 1.6 1.6M161.1 410.9a1.5 1 137 1 0 2.1-2a1.5 1 137 1 0-2.1 2M174.4 412.3a1.3 .9 114 1 0 1-2.3a1.3 .9 114 1 0-1 2.3M191.3 411.3a1.1 .9 9 1 0-2.2-.3a1.1 .9 9 1 0 2.2 .3M194.2 411.3a1.4 1 83 1 0-.3-2.8a1.4 1 83 1 0 .3 2.8M199.4 410.2a1.8 1.1 1 1 0-3.5-0a1.8 1.1 1 1 0 3.5 0M109.6 416.6a1.2 .6 164 1 0 2.4-.7a1.2 .6 164 1 0-2.4 .7M125.8 415.4a1.4 .9 8 1 0-2.7-.4a1.4 .9 8 1 0 2.7 .4M126.7 417.3a1.6 .9 122 1 0 1.7-2.7a1.6 .9 122 1 0-1.7 2.7M131.6 418.3a1.3 .8 75 1 0-.7-2.5a1.3 .8 75 1 0 .7 2.5M153.6 417.7a1.6 .9 101 1 0 .6-3.1a1.6 .9 101 1 0-.6 3.1M168.8 415.5a1.3 .8 168 1 0 2.4-.5a1.3 .8 168 1 0-2.4 .5M176.7 418.6a1.8 1.3 120 1 0 1.9-3.2a1.8 1.3 120 1 0-1.9 3.2M202.8 415.5a1.5 1.1 96 1 0 .3-2.9a1.5 1.1 96 1 0-.3 2.9M145.9 419.3a1.8 1.3 20 1 0-3.4-1.2a1.8 1.3 20 1 0 3.4 1.2M148.3 422.1a2 1.6 53 1 0-2.4-3.2a2 1.6 53 1 0 2.4 3.2M153.7 422a1.8 1.4 48 1 0-2.4-2.7a1.8 1.4 48 1 0 2.4 2.7M159.2 420.7a1.5 .8 34 1 0-2.5-1.7a1.5 .8 34 1 0 2.5 1.7M160.4 418.5a1.4 1.1 160 1 0 2.7-1a1.4 1.1 160 1 0-2.7 1M190.9 421.8a1.5 1.2 98 1 0 .4-2.9a1.5 1.2 98 1 0-.4 2.9M199.3 422.5a1.8 .9 106 1 0 1-3.5a1.8 .9 106 1 0-1 3.5M117.2 422.6a1.6 1 6 1 0-3.2-.4a1.6 1 6 1 0 3.2 .4M118.4 425.1a2 1.3 70 1 0-1.3-3.7a2 1.3 70 1 0 1.3 3.7M131.4 424.5a1.6 1.2 124 1 0 1.8-2.7a1.6 1.2 124 1 0-1.8 2.7M141.3 425a1.4 .7 46 1 0-1.9-2a1.4 .7 46 1 0 1.9 2M148.4 423.6a1.3 .6 40 1 0-1.9-1.6a1.3 .6 40 1 0 1.9 1.6M149.9 425.8a2 1.4 126 1 0 2.3-3.2a2 1.4 126 1 0-2.3 3.2M153.2 423.6a1.1 .7 161 1 0 2.1-.8a1.1 .7 161 1 0-2.1 .8M159.5 424.8a1.7 .9 137 1 0 2.4-2.3a1.7 .9 137 1 0-2.4 2.3M168.3 424.1a1.4 1.1 107 1 0 .8-2.8a1.4 1.1 107 1 0-.8 2.8M114.2 427a1.9 1.4 18 1 0-3.6-1.1a1.9 1.4 18 1 0 3.6 1.1M123.7 426a1.3 .7 174 1 0 2.6-.3a1.3 .7 174 1 0-2.6 .3M131.7 428.7a1.9 1.5 70 1 0-1.3-3.6a1.9 1.5 70 1 0 1.3 3.6M146.9 427.5a2 1.4 15 1 0-3.8-1a2 1.4 15 1 0 3.8 1M163.6 430.2a1.4 1.2 91 1 0 0-2.9a1.4 1.2 91 1 0-0 2.9M172.4 427.7a1.8 1.1 96 1 0 .4-3.5a1.8 1.1 96 1 0-.4 3.5M178.1 429.1a1.6 .8 179 1 0 3.2-.1a1.6 .8 179 1 0-3.2 .1M107.8 432.5a1.4 .9 167 1 0 2.7-.6a1.4 .9 167 1 0-2.7 .6M135.3 433.9a1.4 1 104 1 0 .7-2.6a1.4 1 104 1 0-.7 2.6M141.9 431.1a1.5 1.2 140 1 0 2.3-1.9a1.5 1.2 140 1 0-2.3 1.9M145.4 432.4a1.3 .8 163 1 0 2.5-.7a1.3 .8 163 1 0-2.5 .7M169.4 433.3a1.8 1 81 1 0-.6-3.5a1.8 1 81 1 0 .6 3.5M175.3 431.4a1.9 1.2 17 1 0-3.6-1.1a1.9 1.2 17 1 0 3.6 1.1M202.1 433.8a1.6 1.1 62 1 0-1.5-2.8a1.6 1.1 62 1 0 1.5 2.8M112.8 436.3a1.3 .7 18 1 0-2.5-.8a1.3 .7 18 1 0 2.5 .8M120.3 437.5a1.7 1.1 64 1 0-1.5-3a1.7 1.1 64 1 0 1.5 3M135.5 436.2a1.7 1.1 3 1 0-3.4-.2a1.7 1.1 3 1 0 3.4 .2M143.6 436a1.4 1 68 1 0-1.1-2.6a1.4 1 68 1 0 1.1 2.6M146.7 436.9a1.5 1.2 120 1 0 1.5-2.6a1.5 1.2 120 1 0-1.5 2.6M151.2 435.2a1.8 1.3 179 1 0 3.7-.1a1.8 1.3 179 1 0-3.7 .1M158.1 437.9a1.2 .7 128 1 0 1.4-1.9a1.2 .7 128 1 0-1.4 1.9M166.9 435.1a1.6 .8 156 1 0 3-1.3a1.6 .8 156 1 0-3 1.3M170.6 436.7a1.7 .8 94 1 0 .2-3.3a1.7 .8 94 1 0-.2 3.3M198.8 437.8a1.8 1.1 84 1 0-.4-3.5a1.8 1.1 84 1 0 .4 3.5M111.2 439a1.4 1.1 8 1 0-2.7-.4a1.4 1.1 8 1 0 2.7 .4M127.8 439.3a1.5 .7 38 1 0-2.3-1.8a1.5 .7 38 1 0 2.3 1.8M129.8 441.1a1.7 1.2 135 1 0 2.3-2.3a1.7 1.2 135 1 0-2.3 2.3M143.1 439a1.1 .7 78 1 0-.5-2.2a1.1 .7 78 1 0 .5 2.2M144.2 440.8a1.9 1.2 145 1 0 3-2.1a1.9 1.2 145 1 0-3 2.1M169.8 441.7a2 1.6 28 1 0-3.5-1.9a2 1.6 28 1 0 3.5 1.9M174.1 439.7a1.4 .8 128 1 0 1.7-2.2a1.4 .8 128 1 0-1.7 2.2M118.4 444.9a1.8 .9 20 1 0-3.4-1.2a1.8 .9 20 1 0 3.4 1.2M124 443.2a1.5 .9 149 1 0 2.5-1.5a1.5 .9 149 1 0-2.5 1.5M143.8 444a1.7 .8 94 1 0 .2-3.3a1.7 .8 94 1 0-.2 3.3M148.1 444.7a1.2 .7 157 1 0 2.2-.9a1.2 .7 157 1 0-2.2 .9M162 445.3a1.2 .6 48 1 0-1.7-1.9a1.2 .6 48 1 0 1.7 1.9M166.9 443.8a1.6 .9 83 1 0-.4-3.1a1.6 .9 83 1 0 .4 3.1M169.2 444.1a1.5 1 160 1 0 2.8-1a1.5 1 160 1 0-2.8 1M174.6 445.3a1.6 1.3 160 1 0 3-1.1a1.6 1.3 160 1 0-3 1.1M184.8 445.4a1.1 .6 66 1 0-.9-2.1a1.1 .6 66 1 0 .9 2.1M188.9 446a2 1 77 1 0-.9-3.8a2 1 77 1 0 .9 3.8M193.9 444.2a1.9 1.5 82 1 0-.6-3.8a1.9 1.5 82 1 0 .6 3.8M201 445.7a1.6 .9 31 1 0-2.7-1.6a1.6 .9 31 1 0 2.7 1.6M204.5 445.3a1.2 .8 56 1 0-1.3-1.9a1.2 .8 56 1 0 1.3 1.9M135.8 449.8a1.5 .8 91 1 0 .1-2.9a1.5 .8 91 1 0-.1 2.9M156.8 447.6a1.9 1.3 40 1 0-2.9-2.5a1.9 1.3 40 1 0 2.9 2.5M162.8 447.6a1.2 .6 1 1 0-2.5-0a1.2 .6 1 1 0 2.5 0M175.9 449.2a1.3 .8 18 1 0-2.5-.8a1.3 .8 18 1 0 2.5 .8M182.4 449.1a1.4 1.2 93 1 0 .1-2.8a1.4 1.2 93 1 0-.1 2.8M192 447.3a1.3 .9 36 1 0-2.2-1.6a1.3 .9 36 1 0 2.2 1.6M195.6 448.9a2 1.5 140 1 0 3.1-2.5a2 1.5 140 1 0-3.1 2.5M118.6 452.4a1.9 1.4 146 1 0 3.2-2.2a1.9 1.4 146 1 0-3.2 2.2M126.8 453.4a1.5 .8 15 1 0-2.9-.8a1.5 .8 15 1 0 2.9 .8M129.8 452.7a1.7 .9 133 1 0 2.3-2.5a1.7 .9 133 1 0-2.3 2.5M142 452.3a1.7 1.3 7 1 0-3.3-.4a1.7 1.3 7 1 0 3.3 .4M148.1 451.2a1.3 1 155 1 0 2.3-1.1a1.3 1 155 1 0-2.3 1.1M162.5 451.4a1.1 .9 98 1 0 .3-2.2a1.1 .9 98 1 0-.3 2.2M172.3 453.6a1.3 .9 124 1 0 1.4-2.1a1.3 .9 124 1 0-1.4 2.1M177.3 453.5a1.3 .8 56 1 0-1.5-2.2a1.3 .8 56 1 0 1.5 2.2M195 451.3a1.2 .9 66 1 0-1-2.2a1.2 .9 66 1 0 1 2.2"/>
<path fill="#a09eaa" fill-opacity=".85" d="M125.4 320.7a1.7 1.3 23 1 0-3.1-1.3a1.7 1.3 23 1 0 3.1 1.3M132 320.1a1.6 1.2 87 1 0-.2-3.1a1.6 1.2 87 1 0 .2 3.1M142.1 321.3a1.5 1.3 122 1 0 1.6-2.6a1.5 1.3 122 1 0-1.6 2.6M173.4 321.4a1.1 .8 33 1 0-1.9-1.2a1.1 .8 33 1 0 1.9 1.2M178.2 321.6a1.1 .9 87 1 0-.1-2.2a1.1 .9 87 1 0 .1 2.2M188.5 319.8a1.1 .5 26 1 0-2.1-1a1.1 .5 26 1 0 2.1 1M192 320.6a2 1.4 124 1 0 2.2-3.3a2 1.4 124 1 0-2.2 3.3M198.9 318.9a1.9 1.6 31 1 0-3.2-1.9a1.9 1.6 31 1 0 3.2 1.9M202.7 319.4a1.5 .7 96 1 0 .3-3a1.5 .7 96 1 0-.3 3M130.3 325.5a1.6 .8 78 1 0-.7-3.1a1.6 .8 78 1 0 .7 3.1M174 325.3a1.4 .9 13 1 0-2.7-.6a1.4 .9 13 1 0 2.7 .6M184.8 323.1a1.9 1.4 174 1 0 3.8-.4a1.9 1.4 174 1 0-3.8 .4M197.2 323.4a1.4 1.1 40 1 0-2.2-1.8a1.4 1.1 40 1 0 2.2 1.8M122 329.1a1.8 1.2 97 1 0 .4-3.5a1.8 1.2 97 1 0-.4 3.5M127.6 329.9a1.6 1.3 141 1 0 2.5-2a1.6 1.3 141 1 0-2.5 2M139.4 327a1.9 1.1 156 1 0 3.4-1.5a1.9 1.1 156 1 0-3.4 1.5M148.5 326.7a1.1 .9 3 1 0-2.3-.1a1.1 .9 3 1 0 2.3 .1M169.5 330a1.8 1.4 89 1 0-.1-3.7a1.8 1.4 89 1 0 .1 3.7M172.6 327.2a1.4 1.1 93 1 0 .2-2.8a1.4 1.1 93 1 0-.2 2.8M185.3 326.6a1.9 1.4 6 1 0-3.7-.4a1.9 1.4 6 1 0 3.7 .4M191.3 328.1a1.1 .5 120 1 0 1.1-2a1.1 .5 120 1 0-1.1 2M137.9 333a1.6 .9 127 1 0 2-2.6a1.6 .9 127 1 0-2 2.6M144.8 334a1.5 .9 60 1 0-1.5-2.7a1.5 .9 60 1 0 1.5 2.7M153.3 330.3a1.4 .9 177 1 0 2.8-.2a1.4 .9 177 1 0-2.8 .2M116 336.8a1.3 .6 44 1 0-1.8-1.8a1.3 .6 44 1 0 1.8 1.8M121.8 336.3a1.2 .9 112 1 0 .9-2.2a1.2 .9 112 1 0-.9 2.2M131.2 335.1a2 1.1 21 1 0-3.7-1.4a2 1.1 21 1 0 3.7 1.4M137.3 337.5a1.7 1.2 21 1 0-3.3-1.2a1.7 1.2 21 1 0 3.3 1.2M150.8 336.4a1.4 .8 56 1 0-1.6-2.4a1.4 .8 56 1 0 1.6 2.4M161.4 335.7a1.8 1.3 77 1 0-.8-3.5a1.8 1.3 77 1 0 .8 3.5M180.5 336a1.9 1.3 57 1 0-2.1-3.2a1.9 1.3 57 1 0 2.1 3.2M183.2 336.7a1.3 .8 101 1 0 .5-2.5a1.3 .8 101 1 0-.5 2.5M196.3 335.5a1.2 .7 170 1 0 2.4-.4a1.2 .7 170 1 0-2.4 .4M120.1 341.9a1.5 1.1 75 1 0-.8-2.9a1.5 1.1 75 1 0 .8 2.9M134.3 342.3a1.7 1.4 95 1 0 .3-3.3a1.7 1.4 95 1 0-.3 3.3M182.6 342a1.2 .6 66 1 0-1-2.3a1.2 .6 66 1 0 1 2.3M183 340.3a1.6 1.1 123 1 0 1.7-2.7a1.6 1.1 123 1 0-1.7 2.7M199.7 339.8a2 1.5 10 1 0-3.9-.7a2 1.5 10 1 0 3.9 .7M109.7 343.5a1.3 1 50 1 0-1.7-2a1.3 1 50 1 0 1.7 2M121.8 345.2a1.1 .9 106 1 0 .6-2.2a1.1 .9 106 1 0-.6 2.2M137.7 344.6a1.4 1 60 1 0-1.4-2.5a1.4 1 60 1 0 1.4 2.5M167 343.8a1.7 1.2 131 1 0 2.3-2.7a1.7 1.2 131 1 0-2.3 2.7M179.7 343.4a2 1.3 169 1 0 3.9-.7a2 1.3 169 1 0-3.9 .7M193.1 345.6a1.2 1 45 1 0-1.7-1.7a1.2 1 45 1 0 1.7 1.7M196.6 345.6a1.6 1 71 1 0-1-3a1.6 1 71 1 0 1 3M200.5 345.9a1.4 1 69 1 0-1-2.6a1.4 1 69 1 0 1 2.6M135.4 349.1a1.1 .9 82 1 0-.3-2.2a1.1 .9 82 1 0 .3 2.2M147.3 346.1a1.9 1.5 175 1 0 3.7-.3a1.9 1.5 175 1 0-3.7 .3M154 349a1.9 1.6 3 1 0-3.8-.2a1.9 1.6 3 1 0 3.8 .2M158.1 349.3a1.7 1.2 78 1 0-.7-3.3a1.7 1.2 78 1 0 .7 3.3M163 349.8a1.7 1.4 64 1 0-1.5-3.1a1.7 1.4 64 1 0 1.5 3.1M166.7 347.7a1.8 1.4 110 1 0 1.2-3.3a1.8 1.4 110 1 0-1.2 3.3M186.3 348.1a1.6 .9 110 1 0 1-2.9a1.6 .9 110 1 0-1 2.9M113 353.9a1.8 1 111 1 0 1.3-3.4a1.8 1 111 1 0-1.3 3.4M144.6 351.9a1.6 1.3 113 1 0 1.3-3a1.6 1.3 113 1 0-1.3 3M151.1 352.5a1.8 1.5 30 1 0-3.1-1.8a1.8 1.5 30 1 0 3.1 1.8M158.1 354.6a1.9 1.5 57 1 0-2.1-3.2a1.9 1.5 57 1 0 2.1 3.2M158.7 352.3a1.3 .8 172 1 0 2.6-.4a1.3 .8 172 1 0-2.6 .4M181.5 352.3a1.5 .9 104 1 0 .7-2.9a1.5 .9 104 1 0-.7 2.9M185.6 353.3a1.3 1 121 1 0 1.3-2.1a1.3 1 121 1 0-1.3 2.1M117 356.6a1.5 .7 54 1 0-1.7-2.4a1.5 .7 54 1 0 1.7 2.4M120.2 357.2a2 1.5 132 1 0 2.7-2.9a2 1.5 132 1 0-2.7 2.9M131.1 356.8a1.1 .9 33 1 0-1.9-1.2a1.1 .9 33 1 0 1.9 1.2M139.3 355.9a1.8 1.3 144 1 0 2.9-2a1.8 1.3 144 1 0-2.9 2M153.7 356a1.4 .7 87 1 0-.1-2.8a1.4 .7 87 1 0 .1 2.8M176.5 354.4a1.4 .7 8 1 0-2.9-.4a1.4 .7 8 1 0 2.9 .4M196.8 357.1a1.6 1.2 12 1 0-3.1-.6a1.6 1.2 12 1 0 3.1 .6M126.1 358.7a1.3 .6 138 1 0 2-1.8a1.3 .6 138 1 0-2 1.8M140 360.6a1.9 1.6 20 1 0-3.5-1.3a1.9 1.6 20 1 0 3.5 1.3M161.5 360.4a2 1.2 91 1 0 .1-3.9a2 1.2 91 1 0-.1 3.9M166.8 360a1.5 .9 55 1 0-1.7-2.4a1.5 .9 55 1 0 1.7 2.4M176.5 359.3a1.6 .8 22 1 0-3.1-1.2a1.6 .8 22 1 0 3.1 1.2M182.8 358.9a1.4 .8 51 1 0-1.7-2.1a1.4 .8 51 1 0 1.7 2.1M191.6 360a1.1 .6 139 1 0 1.7-1.4a1.1 .6 139 1 0-1.7 1.4M200.8 361.7a1.2 .6 43 1 0-1.7-1.6a1.2 .6 43 1 0 1.7 1.6M135 362.4a1.6 1.1 11 1 0-3.1-.6a1.6 1.1 11 1 0 3.1 .6M151.9 365.5a1.3 .7 95 1 0 .2-2.6a1.3 .7 95 1 0-.2 2.6M155.2 364a1.8 1.1 145 1 0 2.9-2a1.8 1.1 145 1 0-2.9 2M163.9 364.2a1.4 1.1 21 1 0-2.7-1a1.4 1.1 21 1 0 2.7 1M166.4 364.4a1.3 .8 135 1 0 1.9-1.9a1.3 .8 135 1 0-1.9 1.9M181.8 363.5a1.5 .8 106 1 0 .8-2.8a1.5 .8 106 1 0-.8 2.8M189.9 362.8a1.1 .6 167 1 0 2.2-.5a1.1 .6 167 1 0-2.2 .5M122 368.4a1.8 .9 129 1 0 2.2-2.8a1.8 .9 129 1 0-2.2 2.8M155.6 368.9a1.2 .7 175 1 0 2.4-.2a1.2 .7 175 1 0-2.4 .2M163.7 368.7a1.6 .7 150 1 0 2.8-1.6a1.6 .7 150 1 0-2.8 1.6M177.6 367.5a1.5 1.1 144 1 0 2.4-1.7a1.5 1.1 144 1 0-2.4 1.7M192.6 368a1.6 1.3 9 1 0-3.2-.5a1.6 1.3 9 1 0 3.2 .5M201.7 368.1a1.4 .9 156 1 0 2.6-1.1a1.4 .9 156 1 0-2.6 1.1M110.3 374.4a1.6 .8 114 1 0 1.3-3a1.6 .8 114 1 0-1.3 3M115.6 374.1a1.6 1.1 71 1 0-1-3a1.6 1.1 71 1 0 1 3M140 372a1.2 .6 126 1 0 1.4-2a1.2 .6 126 1 0-1.4 2M166.9 371.5a2 1.6 40 1 0-3-2.5a2 1.6 40 1 0 3 2.5M175.9 372.8a1.5 1.3 157 1 0 2.8-1.2a1.5 1.3 157 1 0-2.8 1.2M185.2 372.6a1.2 .7 44 1 0-1.8-1.7a1.2 .7 44 1 0 1.8 1.7M203.1 371.8a1.2 .6 81 1 0-.4-2.3a1.2 .6 81 1 0 .4 2.3M110.1 378a1.3 .7 106 1 0 .7-2.5a1.3 .7 106 1 0-.7 2.5M116.7 376.1a1.6 1.1 30 1 0-2.8-1.7a1.6 1.1 30 1 0 2.8 1.7M118.4 376.1a1.9 1.4 51 1 0-2.3-2.9a1.9 1.4 51 1 0 2.3 2.9M142 376.8a1.2 .7 6 1 0-2.4-.3a1.2 .7 6 1 0 2.4 .3M179.3 377.2a1.4 .8 60 1 0-1.4-2.4a1.4 .8 60 1 0 1.4 2.4M191.2 377.9a1.2 .8 64 1 0-1-2.1a1.2 .8 64 1 0 1 2.1M195.7 375.4a1.8 .9 180 1 0 3.6-0a1.8 .9 180 1 0-3.6 0M203.7 376.8a1.4 .9 42 1 0-2.1-1.9a1.4 .9 42 1 0 2.1 1.9M109.2 381.1a1.6 .8 175 1 0 3.2-.3a1.6 .8 175 1 0-3.2 .3M137.3 381.4a1.6 .7 48 1 0-2.1-2.3a1.6 .7 48 1 0 2.1 2.3M140.1 380.1a1.7 1 38 1 0-2.8-2.1a1.7 1 38 1 0 2.8 2.1M153 381.3a1.7 1.1 161 1 0 3.2-1.1a1.7 1.1 161 1 0-3.2 1.1M164.8 380.1a1.8 1.2 15 1 0-3.4-.9a1.8 1.2 15 1 0 3.4 .9M175.1 381.1a1.9 .9 144 1 0 3-2.2a1.9 .9 144 1 0-3 2.2M182 380.8a1.6 .9 33 1 0-2.7-1.8a1.6 .9 33 1 0 2.7 1.8M199.5 380.7a1.8 1.4 123 1 0 2-3.1a1.8 1.4 123 1 0-2 3.1M109.6 386.5a2 .9 67 1 0-1.6-3.6a2 .9 67 1 0 1.6 3.6M153.5 382.3a1.7 1.1 174 1 0 3.4-.3a1.7 1.1 174 1 0-3.4 .3M159.6 386.4a2 1.2 88 1 0-.2-4a2 1.2 88 1 0 .2 4M171 382.7a1.5 1.3 2 1 0-3.1-.1a1.5 1.3 2 1 0 3.1 .1M172.3 386.5a1.8 1.3 100 1 0 .6-3.5a1.8 1.3 100 1 0-.6 3.5M175.7 386.3a1.9 .9 130 1 0 2.4-2.9a1.9 .9 130 1 0-2.4 2.9M190.4 384.7a1.5 .8 111 1 0 1.1-2.8a1.5 .8 111 1 0-1.1 2.8M159 387.2a1.1 .5 73 1 0-.7-2.1a1.1 .5 73 1 0 .7 2.1M196 389.4a1.3 1.1 44 1 0-1.9-1.8a1.3 1.1 44 1 0 1.9 1.8M107.7 391a1.3 .9 135 1 0 1.9-1.9a1.3 .9 135 1 0-1.9 1.9M116.5 392.6a1.9 1.1 49 1 0-2.4-2.8a1.9 1.1 49 1 0 2.4 2.8M118.7 391.7a1.3 .8 116 1 0 1.2-2.4a1.3 .8 116 1 0-1.2 2.4M160.7 391.7a1.9 1.5 117 1 0 1.7-3.4a1.9 1.5 117 1 0-1.7 3.4M172 393.5a1.8 1.3 145 1 0 2.9-2.1a1.8 1.3 145 1 0-2.9 2.1M178 394.2a1.7 1.1 76 1 0-.8-3.2a1.7 1.1 76 1 0 .8 3.2M188.2 393.8a1.9 1.1 58 1 0-2-3.2a1.9 1.1 58 1 0 2 3.2M196 393.4a1.9 1 133 1 0 2.6-2.8a1.9 1 133 1 0-2.6 2.8M201.9 391.3a1.7 .9 2 1 0-3.3-.1a1.7 .9 2 1 0 3.3 .1M112.8 396.9a1.5 1.1 62 1 0-1.4-2.7a1.5 1.1 62 1 0 1.4 2.7M114.9 397.2a1.7 .9 149 1 0 2.9-1.8a1.7 .9 149 1 0-2.9 1.8M172.8 396.3a1.6 .8 77 1 0-.7-3.2a1.6 .8 77 1 0 .7 3.2M184.3 397a1.8 1 83 1 0-.5-3.5a1.8 1 83 1 0 .5 3.5M192.2 395.7a1.3 .8 21 1 0-2.5-1a1.3 .8 21 1 0 2.5 1M114.6 401.8a1.5 .7 72 1 0-1-2.9a1.5 .7 72 1 0 1 2.9M116.9 400a1.6 1.2 124 1 0 1.8-2.6a1.6 1.2 124 1 0-1.8 2.6M140.2 402.4a1.6 .8 114 1 0 1.3-3a1.6 .8 114 1 0-1.3 3M154.6 401a1.2 .7 149 1 0 2-1.2a1.2 .7 149 1 0-2 1.2M173.9 400.3a1.7 .9 83 1 0-.4-3.3a1.7 .9 83 1 0 .4 3.3M179.3 400.3a1.6 .8 75 1 0-.8-3.1a1.6 .8 75 1 0 .8 3.1M188.5 400.2a1.5 1.2 34 1 0-2.4-1.7a1.5 1.2 34 1 0 2.4 1.7M114.4 405.2a1.6 1.1 164 1 0 3-.8a1.6 1.1 164 1 0-3 .8M127.2 406.1a2 1.5 63 1 0-1.8-3.6a2 1.5 63 1 0 1.8 3.6M133.6 404.1a1.7 .9 130 1 0 2.2-2.7a1.7 .9 130 1 0-2.2 2.7M147.5 403.3a1.8 1.2 140 1 0 2.7-2.3a1.8 1.2 140 1 0-2.7 2.3M152.7 405.2a1.6 .8 169 1 0 3.1-.6a1.6 .8 169 1 0-3.1 .6M157.2 404.2a1.1 .7 104 1 0 .5-2.2a1.1 .7 104 1 0-.5 2.2M175.2 404.1a1.9 1.3 83 1 0-.5-3.8a1.9 1.3 83 1 0 .5 3.8M183.4 403.7a1.3 .8 171 1 0 2.6-.4a1.3 .8 171 1 0-2.6 .4M199.9 404.2a1.1 .5 44 1 0-1.6-1.6a1.1 .5 44 1 0 1.6 1.6M111.2 409.3a1.8 1.2 27 1 0-3.3-1.7a1.8 1.2 27 1 0 3.3 1.7M114.3 407.9a1.1 .9 135 1 0 1.6-1.6a1.1 .9 135 1 0-1.6 1.6M122.8 409.6a1.3 .8 75 1 0-.7-2.5a1.3 .8 75 1 0 .7 2.5M137.1 410.5a1.8 .9 122 1 0 1.9-3.1a1.8 .9 122 1 0-1.9 3.1M173.7 409.3a1.9 1 138 1 0 2.9-2.5a1.9 1 138 1 0-2.9 2.5M193.4 409.7a1.8 1 39 1 0-2.8-2.3a1.8 1 39 1 0 2.8 2.3M199.9 406.8a1.6 .8 21 1 0-3-1.1a1.6 .8 21 1 0 3 1.1M122.1 413.1a1.2 .6 28 1 0-2.1-1.1a1.2 .6 28 1 0 2.1 1.1M150.2 412.7a1.6 1.2 23 1 0-3-1.3a1.6 1.2 23 1 0 3 1.3M157.2 410.8a1.3 .9 137 1 0 2-1.8a1.3 .9 137 1 0-2 1.8M180 412.5a1.8 1.1 101 1 0 .7-3.5a1.8 1.1 101 1 0-.7 3.5M186.6 414.3a1.5 1 103 1 0 .7-3a1.5 1 103 1 0-.7 3M150.9 416.5a1.2 .6 146 1 0 2-1.3a1.2 .6 146 1 0-2 1.3M162.9 415.7a1.3 .7 127 1 0 1.6-2.1a1.3 .7 127 1 0-1.6 2.1M180.6 415.9a1.1 .7 163 1 0 2.1-.6a1.1 .7 163 1 0-2.1 .6M186.9 415.3a1.1 .5 146 1 0 1.9-1.2a1.1 .5 146 1 0-1.9 1.2M191.6 417.3a1.8 .9 79 1 0-.7-3.6a1.8 .9 79 1 0 .7 3.6M195.5 415.2a1.3 1.1 106 1 0 .7-2.5a1.3 1.1 106 1 0-.7 2.5M112.2 422a1.3 1 121 1 0 1.3-2.1a1.3 1 121 1 0-1.3 2.1M117.9 421a1.7 1 61 1 0-1.6-2.9a1.7 1 61 1 0 1.6 2.9M126.4 420.4a1.3 .8 116 1 0 1.1-2.3a1.3 .8 116 1 0-1.1 2.3M169.9 420.6a1.5 1.1 124 1 0 1.7-2.5a1.5 1.1 124 1 0-1.7 2.5M179.8 420.5a1.9 1.3 101 1 0 .7-3.8a1.9 1.3 101 1 0-.7 3.8M202.9 419a1.1 .8 74 1 0-.6-2.2a1.1 .8 74 1 0 .6 2.2M125.4 425.1a1.3 .6 23 1 0-2.5-1.1a1.3 .6 23 1 0 2.5 1.1M166.7 425a1.4 1.1 19 1 0-2.7-.9a1.4 1.1 19 1 0 2.7 .9M173.5 425a1.1 .5 123 1 0 1.2-1.8a1.1 .5 123 1 0-1.2 1.8M186.5 423.8a1.1 .8 97 1 0 .3-2.2a1.1 .8 97 1 0-.3 2.2M197.3 426.4a1.4 1.1 78 1 0-.6-2.8a1.4 1.1 78 1 0 .6 2.8M201.1 422.6a1.7 1 157 1 0 3-1.3a1.7 1 157 1 0-3 1.3M137.3 428.1a1.7 1.3 15 1 0-3.4-.9a1.7 1.3 15 1 0 3.4 .9M148.8 428.9a1.2 .6 56 1 0-1.4-2a1.2 .6 56 1 0 1.4 2M167 428.2a1.5 .9 105 1 0 .8-2.8a1.5 .9 105 1 0-.8 2.8M190.4 428.5a1.2 1 124 1 0 1.4-2a1.2 1 124 1 0-1.4 2M197 430a2 1.3 30 1 0-3.4-2a2 1.3 30 1 0 3.4 2M120.4 431.4a1.6 .8 10 1 0-3.2-.5a1.6 .8 10 1 0 3.2 .5M123 432.5a1.3 .7 49 1 0-1.6-1.9a1.3 .7 49 1 0 1.6 1.9M134.7 432.3a1.8 1.1 40 1 0-2.7-2.2a1.8 1.1 40 1 0 2.7 2.2M160.2 431.9a1.2 .9 151 1 0 2-1.1a1.2 .9 151 1 0-2 1.1M189.7 433.6a1.2 .7 30 1 0-2-1.2a1.2 .7 30 1 0 2 1.2M160.2 436.8a1.2 .9 159 1 0 2.3-.9a1.2 .9 159 1 0-2.3 .9M174.9 437.8a1.6 .9 91 1 0 0-3.2a1.6 .9 91 1 0-0 3.2M185 435.8a1.9 1.4 170 1 0 3.8-.7a1.9 1.4 170 1 0-3.8 .7M188.7 435.4a2 1.6 152 1 0 3.5-1.8a2 1.6 152 1 0-3.5 1.8M203.8 435.9a1.9 1.4 130 1 0 2.4-2.9a1.9 1.4 130 1 0-2.4 2.9M115.5 440.7a1.5 1.1 44 1 0-2.1-2a1.5 1.1 44 1 0 2.1 2M135.3 440.6a1.3 .8 147 1 0 2.1-1.4a1.3 .8 147 1 0-2.1 1.4M148.9 441.2a1.2 .9 128 1 0 1.5-1.9a1.2 .9 128 1 0-1.5 1.9M157.1 441.3a1.5 1 45 1 0-2.2-2.2a1.5 1 45 1 0 2.2 2.2M185 439.1a1.2 .7 43 1 0-1.8-1.7a1.2 .7 43 1 0 1.8 1.7M199.7 439.4a1.4 1 137 1 0 2.1-2a1.4 1 137 1 0-2.1 2M112.4 444.7a1.2 .6 115 1 0 1-2.1a1.2 .6 115 1 0-1 2.1M132.8 445.6a2 1.1 28 1 0-3.4-1.9a2 1.1 28 1 0 3.4 1.9M155.2 443.3a1.6 .9 30 1 0-2.8-1.6a1.6 .9 30 1 0 2.8 1.6M109.1 450a1.2 .8 70 1 0-.8-2.3a1.2 .8 70 1 0 .8 2.3M123.5 450.1a1.6 1.4 132 1 0 2.2-2.4a1.6 1.4 132 1 0-2.2 2.4M127.6 448.6a1.9 .9 158 1 0 3.6-1.4a1.9 .9 158 1 0-3.6 1.4M187 448.8a1.5 .9 160 1 0 2.8-1a1.5 .9 160 1 0-2.8 1M113.6 454.5a1.6 1.2 64 1 0-1.5-3a1.6 1.2 64 1 0 1.5 3M143.6 452.7a1.6 1.4 81 1 0-.5-3.2a1.6 1.4 81 1 0 .5 3.2M152.8 452a1.4 .9 111 1 0 1-2.5a1.4 .9 111 1 0-1 2.5M158.4 453.6a1.7 1.2 19 1 0-3.3-1.1a1.7 1.2 19 1 0 3.3 1.1M165.9 452a1.4 .9 145 1 0 2.3-1.6a1.4 .9 145 1 0-2.3 1.6M179.4 453a1.5 .7 103 1 0 .7-2.8a1.5 .7 103 1 0-.7 2.8M189.3 452a1.2 .8 169 1 0 2.3-.4a1.2 .8 169 1 0-2.3 .4"/>
<path fill="#a8a6b0" fill-opacity=".85" d="M134.3 322.1a1.9 1.5 135 1 0 2.7-2.7a1.9 1.5 135 1 0-2.7 2.7M158.8 321.3a1.2 .8 159 1 0 2.3-.9a1.2 .8 159 1 0-2.3 .9M162.5 320a1.8 1.3 161 1 0 3.3-1.1a1.8 1.3 161 1 0-3.3 1.1M181 320.3a1.5 .9 177 1 0 2.9-.2a1.5 .9 177 1 0-2.9 .2M119.5 324.8a1.2 .9 98 1 0 .3-2.4a1.2 .9 98 1 0-.3 2.4M162.3 325.6a1.7 1 100 1 0 .6-3.3a1.7 1 100 1 0-.6 3.3M169.8 324.9a1.7 1.1 15 1 0-3.3-.8a1.7 1.1 15 1 0 3.3 .8M133.4 329.3a1.5 .9 24 1 0-2.8-1.2a1.5 .9 24 1 0 2.8 1.2M197.7 330.4a1.6 1 65 1 0-1.3-2.8a1.6 1 65 1 0 1.3 2.8M121.7 333.2a1.1 .6 128 1 0 1.4-1.7a1.1 .6 128 1 0-1.4 1.7M147.6 332.8a1.8 1.1 108 1 0 1.1-3.5a1.8 1.1 108 1 0-1.1 3.5M157.7 330.7a1.1 .6 180 1 0 2.2-0a1.1 .6 180 1 0-2.2 0M158.5 334.2a1.6 .8 0 1 0-3.3-0a1.6 .8 0 1 0 3.3 0M167.6 334.9a1.1 .9 106 1 0 .6-2.1a1.1 .9 106 1 0-.6 2.1M172.2 335.8a1.6 .8 101 1 0 .6-3.1a1.6 .8 101 1 0-.6 3.1M190.2 335.7a1.9 1.2 53 1 0-2.3-2.9a1.9 1.2 53 1 0 2.3 2.9M143.8 339.3a1.4 1 156 1 0 2.6-1.2a1.4 1 156 1 0-2.6 1.2M163.5 340.7a1.6 .8 102 1 0 .7-3.1a1.6 .8 102 1 0-.7 3.1M170.8 342a1.7 1.1 97 1 0 .4-3.4a1.7 1.1 97 1 0-.4 3.4M188.7 340.2a1.5 1.1 97 1 0 .4-3a1.5 1.1 97 1 0-.4 3M142.8 345.8a1.8 1.5 74 1 0-1-3.4a1.8 1.5 74 1 0 1 3.4M163.5 344.2a1.6 1.1 145 1 0 2.5-1.8a1.6 1.1 145 1 0-2.5 1.8M112.9 350.2a1.6 .8 103 1 0 .7-3.1a1.6 .8 103 1 0-.7 3.1M138.6 350.5a1.8 1 94 1 0 .3-3.6a1.8 1 94 1 0-.3 3.6M145.6 347.7a1.8 1 12 1 0-3.6-.8a1.8 1 12 1 0 3.6 .8M173.8 347.4a1.6 .7 2 1 0-3.2-.1a1.6 .7 2 1 0 3.2 .1M133.7 351.4a1.5 .9 106 1 0 .8-2.9a1.5 .9 106 1 0-.8 2.9M135.5 351.8a1.6 .9 101 1 0 .6-3a1.6 .9 101 1 0-.6 3M142 354.5a1.7 .9 86 1 0-.2-3.3a1.7 .9 86 1 0 .2 3.3M164.6 351.9a1.7 1.4 86 1 0-.2-3.3a1.7 1.4 86 1 0 .2 3.3M197.1 351.7a1.7 1.4 53 1 0-2-2.7a1.7 1.4 53 1 0 2 2.7M179.7 358.1a1.7 .9 93 1 0 .2-3.4a1.7 .9 93 1 0-.2 3.4M189.2 356.6a1.2 .8 57 1 0-1.3-2a1.2 .8 57 1 0 1.3 2M205.2 355.5a1.7 1.2 15 1 0-3.2-.8a1.7 1.2 15 1 0 3.2 .8M152.5 361.1a1.6 1.4 84 1 0-.3-3.3a1.6 1.4 84 1 0 .3 3.3M168.5 362a1.9 1.4 97 1 0 .5-3.7a1.9 1.4 97 1 0-.5 3.7M198.4 359.2a1.4 1.1 32 1 0-2.4-1.5a1.4 1.1 32 1 0 2.4 1.5M121.1 366.3a1.8 1 132 1 0 2.4-2.7a1.8 1 132 1 0-2.4 2.7M148.8 366.4a1.6 1.2 95 1 0 .3-3.2a1.6 1.2 95 1 0-.3 3.2M176.1 364.6a1.2 1 157 1 0 2.2-.9a1.2 1 157 1 0-2.2 .9M146 367.4a1.6 .8 120 1 0 1.6-2.8a1.6 .8 120 1 0-1.6 2.8M159.9 367.9a1.8 .9 99 1 0 .6-3.6a1.8 .9 99 1 0-.6 3.6M170.8 369a1.8 1.2 68 1 0-1.4-3.4a1.8 1.2 68 1 0 1.4 3.4M172.4 369.6a1.8 1 101 1 0 .7-3.5a1.8 1 101 1 0-.7 3.5M180.1 369.4a1.8 1.2 165 1 0 3.4-.9a1.8 1.2 165 1 0-3.4 .9M149.5 372.4a1.4 1.2 116 1 0 1.2-2.5a1.4 1.2 116 1 0-1.2 2.5M158.3 370.7a1.2 .8 34 1 0-2-1.3a1.2 .8 34 1 0 2 1.3M180.5 372a1.3 .8 149 1 0 2.2-1.3a1.3 .8 149 1 0-2.2 1.3M188.9 372a1.7 1.2 121 1 0 1.7-2.9a1.7 1.2 121 1 0-1.7 2.9M135.8 377.8a1.1 .7 100 1 0 .4-2.3a1.1 .7 100 1 0-.4 2.3M154.1 377.4a1.9 1.4 133 1 0 2.6-2.8a1.9 1.4 133 1 0-2.6 2.8M161.7 374.8a1.5 1.2 31 1 0-2.6-1.6a1.5 1.2 31 1 0 2.6 1.6M164.5 376.8a1.7 .8 172 1 0 3.4-.4a1.7 .8 172 1 0-3.4 .4M174.3 375.6a1.2 .7 82 1 0-.3-2.3a1.2 .7 82 1 0 .3 2.3M116 382.3a2 .9 137 1 0 2.9-2.7a2 .9 137 1 0-2.9 2.7M125.2 381.3a1.3 .6 65 1 0-1.1-2.4a1.3 .6 65 1 0 1.1 2.4M188.1 381.3a1.3 .7 117 1 0 1.1-2.2a1.3 .7 117 1 0-1.1 2.2M137.6 384.4a1.3 .7 79 1 0-.5-2.6a1.3 .7 79 1 0 .5 2.6M197.6 385.5a1.1 .9 44 1 0-1.6-1.6a1.1 .9 44 1 0 1.6 1.6M201.5 385.8a1.7 1.4 86 1 0-.2-3.4a1.7 1.4 86 1 0 .2 3.4M113.4 389.7a1.6 1.1 36 1 0-2.6-1.9a1.6 1.1 36 1 0 2.6 1.9M128.7 389.7a1.7 1.1 145 1 0 2.8-2a1.7 1.1 145 1 0-2.8 2M135.3 389.7a1.1 .9 56 1 0-1.3-1.9a1.1 .9 56 1 0 1.3 1.9M161.4 386.4a1.4 1.2 158 1 0 2.6-1.1a1.4 1.2 158 1 0-2.6 1.1M174.9 387.8a1.4 .7 141 1 0 2.2-1.7a1.4 .7 141 1 0-2.2 1.7M181 387.6a1.2 .8 174 1 0 2.3-.2a1.2 .8 174 1 0-2.3 .2M126.7 392.7a1.2 .6 76 1 0-.6-2.3a1.2 .6 76 1 0 .6 2.3M183.1 390.7a1.2 1 180 1 0 2.3-0a1.2 1 180 1 0-2.3 0M121.6 398.6a2 1.4 114 1 0 1.6-3.6a2 1.4 114 1 0-1.6 3.6M133.5 398a1.4 1 83 1 0-.3-2.9a1.4 1 83 1 0 .3 2.9M158.3 396.8a1.5 1.1 137 1 0 2.2-2a1.5 1.1 137 1 0-2.2 2M164.1 396.6a1.6 1.3 179 1 0 3.2-.1a1.6 1.3 179 1 0-3.2 .1M183 394.2a1.7 1.3 8 1 0-3.4-.5a1.7 1.3 8 1 0 3.4 .5M196.4 397.7a1.4 1.1 46 1 0-2-2.1a1.4 1.1 46 1 0 2 2.1M204.7 395.7a1.8 .9 6 1 0-3.7-.4a1.8 .9 6 1 0 3.7 .4M139.4 399.9a1.6 1.1 0 1 0-3.1-0a1.6 1.1 0 1 0 3.1 0M168.8 400.7a2 1.1 87 1 0-.2-3.9a2 1.1 87 1 0 .2 3.9M120.5 405.5a2 1.4 146 1 0 3.3-2.2a2 1.4 146 1 0-3.3 2.2M164 403.2a1.3 1 50 1 0-1.6-1.9a1.3 1 50 1 0 1.6 1.9M188.5 404.7a1.6 .9 125 1 0 1.9-2.6a1.6 .9 125 1 0-1.9 2.6M149.9 408.2a1.8 1.5 173 1 0 3.7-.5a1.8 1.5 173 1 0-3.7 .5M164.3 408.3a1.6 1.1 138 1 0 2.3-2.1a1.6 1.1 138 1 0-2.3 2.1M186.1 408.7a1.3 1 164 1 0 2.5-.7a1.3 1 164 1 0-2.5 .7M114.8 412.5a1.2 .8 93 1 0 .1-2.4a1.2 .8 93 1 0-.1 2.4M128.4 411.1a1.8 .8 6 1 0-3.5-.4a1.8 .8 6 1 0 3.5 .4M153.6 414a1.2 .9 111 1 0 .9-2.3a1.2 .9 111 1 0-.9 2.3M166.3 411.3a1.6 1.1 139 1 0 2.4-2.1a1.6 1.1 139 1 0-2.4 2.1M170.7 413.1a1.2 .9 131 1 0 1.5-1.8a1.2 .9 131 1 0-1.5 1.8M205.9 412.3a1.3 1 39 1 0-2-1.6a1.3 1 39 1 0 2 1.6M113.8 417.3a2 1.2 77 1 0-.9-3.9a2 1.2 77 1 0 .9 3.9M119.4 414.8a1.3 .6 43 1 0-1.8-1.7a1.3 .6 43 1 0 1.8 1.7M141.2 415.2a2 1.5 159 1 0 3.7-1.4a2 1.5 159 1 0-3.7 1.4M122.2 420.4a2 .9 37 1 0-3.1-2.4a2 .9 37 1 0 3.1 2.4M128.6 419.7a1.9 1.2 180 1 0 3.8-0a1.9 1.2 180 1 0-3.8 0M135.1 421.7a1.6 1 63 1 0-1.4-2.8a1.6 1 63 1 0 1.4 2.8M175.6 421.5a1.2 1 44 1 0-1.7-1.7a1.2 1 44 1 0 1.7 1.7M194.5 421.3a1.7 .9 166 1 0 3.4-.8a1.7 .9 166 1 0-3.4 .8M110.7 424a1.5 .8 85 1 0-.3-3a1.5 .8 85 1 0 .3 3M125.7 423.9a1.2 .6 137 1 0 1.7-1.6a1.2 .6 137 1 0-1.7 1.6M181.2 422.5a1.4 .8 10 1 0-2.8-.5a1.4 .8 10 1 0 2.8 .5M190.2 423a1.4 .9 158 1 0 2.7-1.1a1.4 .9 158 1 0-2.7 1.1M115.1 426.1a1.4 .8 180 1 0 2.9-0a1.4 .8 180 1 0-2.9 0M154.4 427.5a1.8 1.5 60 1 0-1.9-3.2a1.8 1.5 60 1 0 1.9 3.2M158.1 428.7a1.4 1.1 95 1 0 .2-2.9a1.4 1.1 95 1 0-.2 2.9M179.3 429.1a1.7 1.1 5 1 0-3.3-.3a1.7 1.1 5 1 0 3.3 .3M199.3 428.6a1.2 .8 142 1 0 1.9-1.5a1.2 .8 142 1 0-1.9 1.5M202.9 427.6a1.7 1.3 148 1 0 2.8-1.7a1.7 1.3 148 1 0-2.8 1.7M128.2 433.6a1.4 .9 115 1 0 1.2-2.6a1.4 .9 115 1 0-1.2 2.6M178.2 433.5a1.2 .7 52 1 0-1.5-2a1.2 .7 52 1 0 1.5 2M199.8 430.5a1.8 1 17 1 0-3.5-1.1a1.8 1 17 1 0 3.5 1.1M118.7 434.6a1.1 .9 14 1 0-2.2-.6a1.1 .9 14 1 0 2.2 .6M131.6 434.5a1.6 1.2 4 1 0-3.1-.2a1.6 1.2 4 1 0 3.1 .2M194.4 438.5a1.7 1 84 1 0-.3-3.5a1.7 1 84 1 0 .3 3.5M118.8 439.6a1.4 .7 162 1 0 2.7-.9a1.4 .7 162 1 0-2.7 .9M160.5 441.8a1.4 .9 106 1 0 .7-2.7a1.4 .9 106 1 0-.7 2.7M164.8 440a1.7 1 113 1 0 1.3-3.1a1.7 1 113 1 0-1.3 3.1M178.5 439.5a1.7 1.4 155 1 0 3.2-1.5a1.7 1.4 155 1 0-3.2 1.5M190.3 441.1a1.6 .8 24 1 0-2.9-1.3a1.6 .8 24 1 0 2.9 1.3M192.2 439.9a1.3 .9 69 1 0-.9-2.4a1.3 .9 69 1 0 .9 2.4M121.4 444.7a2 1 126 1 0 2.3-3.2a2 1 126 1 0-2.3 3.2M131.8 442a1.9 1 177 1 0 3.7-.2a1.9 1 177 1 0-3.7 .2M160.8 444a1.7 1.1 18 1 0-3.2-1.1a1.7 1.1 18 1 0 3.2 1.1M180.9 444.2a1.5 .7 136 1 0 2.2-2.1a1.5 .7 136 1 0-2.2 2.1M118.7 449.7a1.9 1.1 34 1 0-3.1-2.1a1.9 1.1 34 1 0 3.1 2.1M133.1 450a1.4 1.2 111 1 0 1-2.6a1.4 1.2 111 1 0-1 2.6M145.2 446.7a1.3 .9 164 1 0 2.5-.7a1.3 .9 164 1 0-2.5 .7M165.5 448.5a1.5 1 67 1 0-1.2-2.7a1.5 1 67 1 0 1.2 2.7M168.8 449.2a2 1.7 127 1 0 2.4-3.2a2 1.7 127 1 0-2.4 3.2M199.4 448.4a1.6 1.3 165 1 0 3-.8a1.6 1.3 165 1 0-3 .8M118.9 450.5a1.8 1.4 10 1 0-3.5-.6a1.8 1.4 10 1 0 3.5 .6M136.5 451.8a2 1.4 7 1 0-4-.5a2 1.4 7 1 0 4 .5"/>
<path fill="#a2866e" fill-opacity=".85" d="M138.5 324.8a1.1 .8 62 1 0-1-2a1.1 .8 62 1 0 1 2M178.6 326.2a1.5 1.1 53 1 0-1.8-2.3a1.5 1.1 53 1 0 1.8 2.3M136.1 331.6a1.1 .8 4 1 0-2.3-.2a1.1 .8 4 1 0 2.3 .2M141.6 336.9a1.5 .7 107 1 0 .9-2.9a1.5 .7 107 1 0-.9 2.9M118.9 354.1a1.6 1 86 1 0-.2-3.1a1.6 1 86 1 0 .2 3.1M112.7 358.3a1.8 1.4 10 1 0-3.6-.7a1.8 1.4 10 1 0 3.6 .7M133.4 361.1a2 1.4 65 1 0-1.7-3.6a2 1.4 65 1 0 1.7 3.6M145.8 358.8a1.5 1.1 178 1 0 3-.1a1.5 1.1 178 1 0-3 .1M186.6 361a1.8 1.1 129 1 0 2.3-2.8a1.8 1.1 129 1 0-2.3 2.8M152.6 392.7a1.9 1.2 58 1 0-2-3.2a1.9 1.2 58 1 0 2 3.2M129.2 401.7a1.6 1 36 1 0-2.7-1.9a1.6 1 36 1 0 2.7 1.9M132.2 399.2a1.4 .9 24 1 0-2.6-1.1a1.4 .9 24 1 0 2.6 1.1M128 402.6a1.1 .9 148 1 0 1.9-1.2a1.1 .9 148 1 0-1.9 1.2M170.4 407.2a1.9 1.3 19 1 0-3.6-1.2a1.9 1.3 19 1 0 3.6 1.2M148.1 416.9a1.8 1.1 6 1 0-3.6-.4a1.8 1.1 6 1 0 3.6 .4M150.3 431.7a1.8 1.2 70 1 0-1.2-3.3a1.8 1.2 70 1 0 1.2 3.3M137.6 436.4a1.9 1 163 1 0 3.6-1.1a1.9 1 163 1 0-3.6 1.1"/>
<path fill="#9c7e68" fill-opacity=".85" d="M198.5 325.7a1.7 1 84 1 0-.3-3.4a1.7 1 84 1 0 .3 3.4M151.4 341.4a1.6 1 136 1 0 2.3-2.2a1.6 1 136 1 0-2.3 2.2M128 348.3a1.9 1.2 51 1 0-2.4-3a1.9 1.2 51 1 0 2.4 3M127.6 348.7a1.1 .6 150 1 0 2-1.1a1.1 .6 150 1 0-2 1.1M128.1 352.6a1.8 .9 48 1 0-2.4-2.7a1.8 .9 48 1 0 2.4 2.7M126.9 369.4a1.9 .9 117 1 0 1.7-3.4a1.9 .9 117 1 0-1.7 3.4M123.3 382.2a1.1 .7 166 1 0 2.1-.5a1.1 .7 166 1 0-2.1 .5M142.9 391.9a1.1 .9 99 1 0 .3-2.2a1.1 .9 99 1 0-.3 2.2M139 395.2a1.4 .7 121 1 0 1.4-2.3a1.4 .7 121 1 0-1.4 2.3M109.6 400a1.4 .7 167 1 0 2.6-.6a1.4 .7 167 1 0-2.6 .6M122.9 400.9a1.5 1.2 153 1 0 2.6-1.3a1.5 1.2 153 1 0-2.6 1.3M166.7 405.3a1.7 .9 153 1 0 3-1.5a1.7 .9 153 1 0-3 1.5M135.7 417a1.6 1.3 145 1 0 2.7-1.9a1.6 1.3 145 1 0-2.7 1.9M140.4 420.6a1.8 1.3 44 1 0-2.7-2.6a1.8 1.3 44 1 0 2.7 2.6M119 428.7a1.9 1 118 1 0 1.8-3.4a1.9 1 118 1 0-1.8 3.4M166.4 430.9a1.3 .8 25 1 0-2.4-1.1a1.3 .8 25 1 0 2.4 1.1"/>
<path fill="#967862" fill-opacity=".85" d="M118.7 335.3a1.4 .8 163 1 0 2.7-.8a1.4 .8 163 1 0-2.7 .8M117 340.3a1.4 .9 78 1 0-.6-2.8a1.4 .9 78 1 0 .6 2.8M137.9 340.1a1.3 .8 143 1 0 2.1-1.6a1.3 .8 143 1 0-2.1 1.6M129 344.6a2 1.6 29 1 0-3.4-1.9a2 1.6 29 1 0 3.4 1.9M115.7 350a1.5 .7 94 1 0 .2-3a1.5 .7 94 1 0-.2 3M119.1 349.9a1.5 1.1 117 1 0 1.3-2.6a1.5 1.1 117 1 0-1.3 2.6M175.9 350.3a1.9 .9 171 1 0 3.7-.6a1.9 .9 171 1 0-3.7 .6M139.4 369.6a1.9 1.2 26 1 0-3.4-1.7a1.9 1.2 26 1 0 3.4 1.7M127.1 385.3a1.3 .7 73 1 0-.8-2.5a1.3 .7 73 1 0 .8 2.5M132.8 393.1a1.3 1 113 1 0 1-2.3a1.3 1 113 1 0-1 2.3M148.2 390.6a1.1 .8 12 1 0-2.2-.5a1.1 .8 12 1 0 2.2 .5M127.2 396.9a1.4 1.1 34 1 0-2.4-1.6a1.4 1.1 34 1 0 2.4 1.6M160.1 395a1.7 .8 165 1 0 3.3-.9a1.7 .8 165 1 0-3.3 .9M206.1 403.4a1.4 .7 56 1 0-1.5-2.3a1.4 .7 56 1 0 1.5 2.3M158 414.3a1.4 .7 170 1 0 2.7-.5a1.4 .7 170 1 0-2.7 .5M185.7 425a1.7 1 22 1 0-3.2-1.3a1.7 1 22 1 0 3.2 1.3M139.4 428.7a1.5 .7 138 1 0 2.3-2.1a1.5 .7 138 1 0-2.3 2.1M150.2 448.9a1.8 1.3 166 1 0 3.5-.9a1.8 1.3 166 1 0-3.5 .9"/>
<path fill="#967454" fill-opacity=".85" d="M123.1 347.3a2.2 1.8 18 1 0-4.2-1.4a2.2 1.8 18 1 0 4.2 1.4M138.3 336.9a1.8 1.4 26 1 0-3.2-1.6a1.8 1.4 26 1 0 3.2 1.6M159.8 367.4a1.6 1.3 39 1 0-2.5-2a1.6 1.3 39 1 0 2.5 2M182.2 353.7a1.8 1.4 14 1 0-3.5-.9a1.8 1.4 14 1 0 3.5 .9M131.6 404.1a2.4 1.9 107 1 0 1.4-4.6a2.4 1.9 107 1 0-1.4 4.6M149.6 414.3a2 1.6 97 1 0 .5-4a2 1.6 97 1 0-.5 4M161.8 400.6a1.8 1.4 129 1 0 2.3-2.8a1.8 1.4 129 1 0-2.3 2.8M185.1 394.6a2 1.6 80 1 0-.7-3.9a2 1.6 80 1 0 .7 3.9M139.7 439.8a1.8 1.4 138 1 0 2.7-2.4a1.8 1.4 138 1 0-2.7 2.4M172.4 433.4a1.6 1.3 63 1 0-1.4-2.9a1.6 1.3 63 1 0 1.4 2.9M124.8 376.6a1.6 1.3 43 1 0-2.4-2.2a1.6 1.3 43 1 0 2.4 2.2M163.2 340.2a1.5 1.2 176 1 0 3-.2a1.5 1.2 176 1 0-3 .2M155.5 386.8a1.5 1.2 30 1 0-2.6-1.5a1.5 1.2 30 1 0 2.6 1.5M189.1 374.5a1.6 1.3 93 1 0 .2-3.2a1.6 1.3 93 1 0-.2 3.2M126.5 331.5a1.6 1.3 159 1 0 3-1.1a1.6 1.3 159 1 0-3 1.1M144.5 347.7a1.4 1.1 131 1 0 1.8-2.1a1.4 1.1 131 1 0-1.8 2.1M119.4 394.1a1.5 1.2 84 1 0-.3-3a1.5 1.2 84 1 0 .3 3M136.4 385a1.6 1.3 102 1 0 .7-3.1a1.6 1.3 102 1 0-.7 3.1M176.2 416.4a1.5 1.2 86 1 0-.2-3a1.5 1.2 86 1 0 .2 3M148.4 445.2a1.4 1.1 179 1 0 2.8-0a1.4 1.1 179 1 0-2.8 0M189.9 439.7a1.5 1.2 131 1 0 2-2.3a1.5 1.2 131 1 0-2 2.3"/>
</g></g>
<clipPath id="clip33"><rect x="201.8" y="320.4" width="87.4" height="131.3"/></clipPath>
<filter id="bl33" x="-5%" y="-5%" width="110%" height="110%" color-interpolation-filters="sRGB"><feGaussianBlur stdDeviation="0.65"/></filter>
<g clip-path="url(#clip33)"><g filter="url(#bl33)">
<rect x="198.8" y="317.4" width="93.4" height="137.3" fill="#c4c3c9"/>
<path fill="#d0cfd5" fill-opacity=".55" d="M250 406.6a3.5 2.3 117 1 0 3.3-6.3a3.5 2.3 117 1 0-3.3 6.3M278.9 441.6a2 1.6 111 1 0 1.4-3.7a2 1.6 111 1 0-1.4 3.7M243 447.8a2.8 2 170 1 0 5.6-1a2.8 2 170 1 0-5.6 1M259.6 360.3a2.3 1.7 9 1 0-4.5-.7a2.3 1.7 9 1 0 4.5 .7M252.4 417.6a2.6 2.4 167 1 0 5-1.2a2.6 2.4 167 1 0-5 1.2M248.6 410a1.8 .9 176 1 0 3.6-.2a1.8 .9 176 1 0-3.6 .2M230.1 349.8a3.7 3.3 22 1 0-6.9-2.8a3.7 3.3 22 1 0 6.9 2.8M229.7 354.4a2.2 1.1 94 1 0 .3-4.4a2.2 1.1 94 1 0-.3 4.4M230.4 372.4a2 1.1 6 1 0-3.9-.4a2 1.1 6 1 0 3.9 .4M280.7 419.8a2.9 1.6 27 1 0-5.2-2.6a2.9 1.6 27 1 0 5.2 2.6M213.6 362.9a1.6 1 37 1 0-2.6-2a1.6 1 37 1 0 2.6 2M219.8 408.6a2.6 1.9 64 1 0-2.3-4.8a2.6 1.9 64 1 0 2.3 4.8M249 425.8a2.3 1.2 87 1 0-.3-4.5a2.3 1.2 87 1 0 .3 4.5M236.7 423a1.8 1.7 3 1 0-3.6-.2a1.8 1.7 3 1 0 3.6 .2M247.8 380.5a2.3 2.2 126 1 0 2.7-3.7a2.3 2.2 126 1 0-2.7 3.7M219 386.2a3 1.6 16 1 0-5.8-1.6a3 1.6 16 1 0 5.8 1.6M254.3 418.8a2.7 1.9 91 1 0 .1-5.3a2.7 1.9 91 1 0-.1 5.3M228.5 435.7a3.9 2.9 4 1 0-7.8-.5a3.9 2.9 4 1 0 7.8 .5M238.4 427.1a2.3 1.3 33 1 0-3.9-2.5a2.3 1.3 33 1 0 3.9 2.5M262.4 403.6a2.2 1.8 137 1 0 3.2-3a2.2 1.8 137 1 0-3.2 3M283.7 430.1a2.6 2.3 167 1 0 5-1.2a2.6 2.3 167 1 0-5 1.2M275.1 420.3a3 2.2 153 1 0 5.3-2.7a3 2.2 153 1 0-5.3 2.7M257.8 416.7a2.1 1.1 49 1 0-2.7-3.1a2.1 1.1 49 1 0 2.7 3.1M250.8 395.9a2 1.2 171 1 0 3.9-.6a2 1.2 171 1 0-3.9 .6M204.6 442.1a3.4 2.7 179 1 0 6.9-.1a3.4 2.7 179 1 0-6.9 .1M257.5 322.3a3.8 2.7 165 1 0 7.4-2a3.8 2.7 165 1 0-7.4 2M271.7 339.5a1.6 .8 141 1 0 2.5-2a1.6 .8 141 1 0-2.5 2M269.5 351.4a1.8 1.2 144 1 0 2.9-2.1a1.8 1.2 144 1 0-2.9 2.1M263.1 436.2a3.9 3.4 150 1 0 6.8-3.9a3.9 3.4 150 1 0-6.8 3.9M205.1 324.4a3.7 3 59 1 0-3.8-6.3a3.7 3 59 1 0 3.8 6.3M213.4 366.4a2.3 1.8 81 1 0-.7-4.6a2.3 1.8 81 1 0 .7 4.6M221.4 331.8a2 1.1 18 1 0-3.8-1.2a2 1.1 18 1 0 3.8 1.2M238.5 341a3.5 2.7 83 1 0-.9-6.9a3.5 2.7 83 1 0 .9 6.9M258.4 352.6a1.6 .8 61 1 0-1.5-2.7a1.6 .8 61 1 0 1.5 2.7M235.6 353.6a2.3 2.1 2 1 0-4.5-.1a2.3 2.1 2 1 0 4.5 .1M242.7 372.1a2.2 1.9 40 1 0-3.4-2.9a2.2 1.9 40 1 0 3.4 2.9M209.2 342.8a3.9 2.7 21 1 0-7.4-2.8a3.9 2.7 21 1 0 7.4 2.8M283.4 407.3a3.9 2.6 146 1 0 6.4-4.4a3.9 2.6 146 1 0-6.4 4.4M202.7 353.7a3.5 2.6 142 1 0 5.5-4.3a3.5 2.6 142 1 0-5.5 4.3M236.9 436.4a1.7 1.4 34 1 0-2.8-1.9a1.7 1.4 34 1 0 2.8 1.9M220.8 438.4a2.6 2.3 51 1 0-3.2-4a2.6 2.3 51 1 0 3.2 4M264.1 442.2a3.1 1.9 120 1 0 3.1-5.3a3.1 1.9 120 1 0-3.1 5.3M287.4 426.4a2.6 1.8 18 1 0-5-1.6a2.6 1.8 18 1 0 5 1.6M270.7 342.2a2 1.1 30 1 0-3.6-2a2 1.1 30 1 0 3.6 2M233.9 384.3a1.9 1.4 136 1 0 2.8-2.7a1.9 1.4 136 1 0-2.8 2.7M207.6 338.9a2.8 2.7 165 1 0 5.4-1.4a2.8 2.7 165 1 0-5.4 1.4M248 333.6a3.7 3.7 162 1 0 7-2.3a3.7 3.7 162 1 0-7 2.3M245.2 370.7a3 2.7 179 1 0 5.9-.1a3 2.7 179 1 0-5.9 .1M244.6 389.2a2.3 1.8 98 1 0 .6-4.5a2.3 1.8 98 1 0-.6 4.5M229.2 383.3a3.8 2.3 46 1 0-5.3-5.4a3.8 2.3 46 1 0 5.3 5.4M226.2 433.6a2.3 2.1 167 1 0 4.4-1a2.3 2.1 167 1 0-4.4 1M276.6 427.1a2 1.4 148 1 0 3.4-2.1a2 1.4 148 1 0-3.4 2.1M224.9 402.7a3.7 3.6 63 1 0-3.3-6.6a3.7 3.6 63 1 0 3.3 6.6M213.7 326.2a2.3 1.8 50 1 0-2.9-3.5a2.3 1.8 50 1 0 2.9 3.5M275.4 408.4a3.1 2.8 59 1 0-3.1-5.2a3.1 2.8 59 1 0 3.1 5.2M256.9 367.8a2.2 1.2 142 1 0 3.5-2.7a2.2 1.2 142 1 0-3.5 2.7M281.3 327.7a3.3 1.7 75 1 0-1.7-6.4a3.3 1.7 75 1 0 1.7 6.4M230.6 441.3a2.6 2 64 1 0-2.3-4.6a2.6 2 64 1 0 2.3 4.6M223.8 354a1.7 .8 99 1 0 .5-3.3a1.7 .8 99 1 0-.5 3.3M268.4 409a2.1 2.1 14 1 0-4.2-1.1a2.1 2.1 14 1 0 4.2 1.1M238.3 365.7a1.9 1.9 129 1 0 2.4-3a1.9 1.9 129 1 0-2.4 3M215.3 346.5a3.5 2.4 54 1 0-4.1-5.7a3.5 2.4 54 1 0 4.1 5.7M226.9 366a3 1.9 107 1 0 1.7-5.7a3 1.9 107 1 0-1.7 5.7M204.6 391.9a3 2 156 1 0 5.4-2.4a3 2 156 1 0-5.4 2.4M282 409a2.5 1.5 113 1 0 1.9-4.7a2.5 1.5 113 1 0-1.9 4.7M225.9 344.6a2.8 1.7 115 1 0 2.4-5.1a2.8 1.7 115 1 0-2.4 5.1M269.7 324.6a3.1 1.8 61 1 0-3-5.4a3.1 1.8 61 1 0 3 5.4M266.1 449.2a2.3 2 62 1 0-2.1-4.1a2.3 2 62 1 0 2.1 4.1M283.4 346.3a3.2 1.7 101 1 0 1.2-6.2a3.2 1.7 101 1 0-1.2 6.2M267.8 443.6a3.4 2.6 72 1 0-2.1-6.5a3.4 2.6 72 1 0 2.1 6.5M254.8 407.7a3 2.6 134 1 0 4.2-4.3a3 2.6 134 1 0-4.2 4.3M285.1 405.3a3.7 3.2 68 1 0-2.7-6.9a3.7 3.2 68 1 0 2.7 6.9M268.6 369.5a3.6 3.4 161 1 0 6.8-2.3a3.6 3.4 161 1 0-6.8 2.3M280.2 413.8a2.7 1.8 115 1 0 2.3-5a2.7 1.8 115 1 0-2.3 5M277.9 368a2 1.8 164 1 0 3.9-1.1a2 1.8 164 1 0-3.9 1.1M218.3 339.6a1.8 1.4 150 1 0 3.1-1.8a1.8 1.4 150 1 0-3.1 1.8M223.2 425.9a1.6 1 98 1 0 .5-3.2a1.6 1 98 1 0-.5 3.2M269.3 388.2a3.2 2.2 68 1 0-2.4-6a3.2 2.2 68 1 0 2.4 6M246.4 322.4a2 1.4 118 1 0 1.9-3.5a2 1.4 118 1 0-1.9 3.5M220.1 356.2a4 3.3 74 1 0-2.2-7.6a4 3.3 74 1 0 2.2 7.6M269 417.6a3.5 2.8 111 1 0 2.5-6.6a3.5 2.8 111 1 0-2.5 6.6M211.3 378.9a2.5 1.6 66 1 0-2-4.5a2.5 1.6 66 1 0 2 4.5M280.8 350.5a1.8 1.2 30 1 0-3.1-1.8a1.8 1.2 30 1 0 3.1 1.8M203.6 443.1a2.9 1.5 96 1 0 .6-5.7a2.9 1.5 96 1 0-.6 5.7M218.2 387.5a3.9 3.8 72 1 0-2.4-7.3a3.9 3.8 72 1 0 2.4 7.3M268.8 386.1a1.7 1.2 146 1 0 2.8-1.9a1.7 1.2 146 1 0-2.8 1.9M267.4 418.5a4 2.7 126 1 0 4.7-6.4a4 2.7 126 1 0-4.7 6.4M275.1 445a3.7 3.4 61 1 0-3.5-6.4a3.7 3.4 61 1 0 3.5 6.4M235.5 403.3a1.8 1.2 67 1 0-1.4-3.3a1.8 1.2 67 1 0 1.4 3.3M222.9 345.3a3.1 2.1 10 1 0-6.2-1.1a3.1 2.1 10 1 0 6.2 1.1M273.5 445.2a2.1 1.7 15 1 0-4-1.1a2.1 1.7 15 1 0 4 1.1M218.5 343.6a3.1 2.4 148 1 0 5.3-3.3a3.1 2.4 148 1 0-5.3 3.3M262.3 422a3.7 2.9 41 1 0-5.6-4.8a3.7 2.9 41 1 0 5.6 4.8M212.5 433.4a3.6 2.9 171 1 0 7-1.1a3.6 2.9 171 1 0-7 1.1M270.6 373.8a2 1.4 165 1 0 3.8-1a2 1.4 165 1 0-3.8 1M278 321.6a1.5 1.1 164 1 0 2.9-.8a1.5 1.1 164 1 0-2.9 .8M277.3 431.3a1.7 1 139 1 0 2.5-2.2a1.7 1 139 1 0-2.5 2.2M240.5 366.2a3.9 2 88 1 0-.3-7.8a3.9 2 88 1 0 .3 7.8M278.2 416.1a3.7 2.4 101 1 0 1.4-7.3a3.7 2.4 101 1 0-1.4 7.3M289.6 339a2.6 2.6 29 1 0-4.5-2.5a2.6 2.6 29 1 0 4.5 2.5M267.8 420.1a2.1 2.1 141 1 0 3.3-2.7a2.1 2.1 141 1 0-3.3 2.7M217 450.7a3.7 2.7 5 1 0-7.4-.7a3.7 2.7 5 1 0 7.4 .7M270.6 400.5a3.4 1.8 86 1 0-.4-6.7a3.4 1.8 86 1 0 .4 6.7M272.7 418a1.9 1.3 82 1 0-.6-3.8a1.9 1.3 82 1 0 .6 3.8M240.5 453.9a3.8 1.9 111 1 0 2.8-7.1a3.8 1.9 111 1 0-2.8 7.1M211.1 434.7a2.8 2.7 164 1 0 5.4-1.6a2.8 2.7 164 1 0-5.4 1.6M283.6 344.2a1.7 1.5 84 1 0-.4-3.3a1.7 1.5 84 1 0 .4 3.3M270.8 380.8a2.5 2.2 66 1 0-2-4.6a2.5 2.2 66 1 0 2 4.6M245.6 375.8a3.2 1.7 83 1 0-.8-6.3a3.2 1.7 83 1 0 .8 6.3M248.8 410.8a3.8 2.6 173 1 0 7.5-.9a3.8 2.6 173 1 0-7.5 .9M261.9 373.3a2.9 2 117 1 0 2.7-5.2a2.9 2 117 1 0-2.7 5.2M206.3 438.9a2.4 1.2 15 1 0-4.6-1.3a2.4 1.2 15 1 0 4.6 1.3M228 355.9a3.6 2.5 165 1 0 6.9-1.9a3.6 2.5 165 1 0-6.9 1.9M222.3 366.5a3.9 3.6 169 1 0 7.6-1.5a3.9 3.6 169 1 0-7.6 1.5M214.9 330.5a3.2 2.2 19 1 0-6.1-2.1a3.2 2.2 19 1 0 6.1 2.1M207.6 362.9a2.3 1.9 178 1 0 4.5-.2a2.3 1.9 178 1 0-4.5 .2M213.6 424.7a3 2.8 179 1 0 6-.2a3 2.8 179 1 0-6 .2M283.1 340.8a3.3 3 69 1 0-2.5-6.2a3.3 3 69 1 0 2.5 6.2M202.4 422.3a3.1 2.7 136 1 0 4.4-4.3a3.1 2.7 136 1 0-4.4 4.3M267.8 329.5a3.9 3.8 63 1 0-3.4-6.9a3.9 3.8 63 1 0 3.4 6.9M269.7 446a2.6 1.7 108 1 0 1.6-4.9a2.6 1.7 108 1 0-1.6 4.9M271.3 377.6a3.2 3.2 67 1 0-2.5-6a3.2 3.2 67 1 0 2.5 6M282.2 341.7a3 2.7 73 1 0-1.8-5.7a3 2.7 73 1 0 1.8 5.7M227.2 359.2a2.4 1.7 75 1 0-1.3-4.6a2.4 1.7 75 1 0 1.3 4.6M223.4 400.6a2.1 1.3 84 1 0-.4-4.1a2.1 1.3 84 1 0 .4 4.1M280.9 358.4a2 1.7 105 1 0 1-3.8a2 1.7 105 1 0-1 3.8M213.8 449.5a2 1.6 43 1 0-2.9-2.7a2 1.6 43 1 0 2.9 2.7M272.3 371.4a3.1 2.8 127 1 0 3.7-4.9a3.1 2.8 127 1 0-3.7 4.9M227.1 362.3a3 2.3 129 1 0 3.7-4.6a3 2.3 129 1 0-3.7 4.6M209.1 329.6a1.5 1.4 31 1 0-2.6-1.6a1.5 1.4 31 1 0 2.6 1.6M264.1 382.2a3.9 3.2 152 1 0 6.9-3.6a3.9 3.2 152 1 0-6.9 3.6M208.4 438.8a2.5 1.3 154 1 0 4.4-2.1a2.5 1.3 154 1 0-4.4 2.1M222.4 407.7a1.5 1.1 84 1 0-.3-3.1a1.5 1.1 84 1 0 .3 3.1M243 430a2.2 2.1 29 1 0-3.9-2.1a2.2 2.1 29 1 0 3.9 2.1M284.7 360.6a3.2 3.1 122 1 0 3.4-5.4a3.2 3.1 122 1 0-3.4 5.4M274.3 335.2a3.9 2 122 1 0 4.1-6.7a3.9 2 122 1 0-4.1 6.7M270.5 421.2a3.3 2.7 178 1 0 6.6-.3a3.3 2.7 178 1 0-6.6 .3M221.8 443.4a3.5 2.1 83 1 0-.8-7a3.5 2.1 83 1 0 .8 7M237.3 342.5a3.6 3.4 135 1 0 5.1-5.1a3.6 3.4 135 1 0-5.1 5.1M201.1 417a3.8 3.3 168 1 0 7.5-1.6a3.8 3.3 168 1 0-7.5 1.6M283.2 414.9a3.4 2.2 139 1 0 5.1-4.4a3.4 2.2 139 1 0-5.1 4.4M231.5 355.6a2.3 1.5 7 1 0-4.6-.6a2.3 1.5 7 1 0 4.6 .6M213.5 358.2a2 1 132 1 0 2.8-3a2 1 132 1 0-2.8 3M277.2 364.4a3.3 3.1 5 1 0-6.5-.6a3.3 3.1 5 1 0 6.5 .6M250.3 398.9a1.9 1.8 145 1 0 3.2-2.2a1.9 1.8 145 1 0-3.2 2.2M245.3 392.2a3.6 1.9 158 1 0 6.6-2.7a3.6 1.9 158 1 0-6.6 2.7M249.7 361a2.1 1.7 18 1 0-4.1-1.3a2.1 1.7 18 1 0 4.1 1.3M271.1 376.3a3.7 3.7 143 1 0 6-4.5a3.7 3.7 143 1 0-6 4.5M210.1 355.3a3.1 3 113 1 0 2.4-5.7a3.1 3 113 1 0-2.4 5.7M233.7 429.2a2.7 2.1 82 1 0-.7-5.3a2.7 2.1 82 1 0 .7 5.3M285.5 402.6a1.8 1.5 73 1 0-1.1-3.4a1.8 1.5 73 1 0 1.1 3.4M218.3 386.9a2.2 2.1 39 1 0-3.3-2.8a2.2 2.1 39 1 0 3.3 2.8M249.4 323.4a2.3 1.9 90 1 0-0-4.5a2.3 1.9 90 1 0 0 4.5M256.8 396.5a3 1.9 166 1 0 5.9-1.4a3 1.9 166 1 0-5.9 1.4M259.6 327.5a3.6 2.1 75 1 0-1.9-6.9a3.6 2.1 75 1 0 1.9 6.9M258.4 440.2a1.9 1.2 93 1 0 .2-3.9a1.9 1.2 93 1 0-.2 3.9M264.6 381.9a3.3 3.3 12 1 0-6.4-1.3a3.3 3.3 12 1 0 6.4 1.3M238.8 427.6a3.5 3.4 61 1 0-3.5-6.1a3.5 3.4 61 1 0 3.5 6.1M223.2 411.5a3.6 3.2 96 1 0 .8-7.1a3.6 3.2 96 1 0-.8 7.1M215.2 412.3a2.1 1.1 0 1 0-4.3-0a2.1 1.1 0 1 0 4.3 0M231.5 372.3a2.9 2.1 92 1 0 .2-5.7a2.9 2.1 92 1 0-.2 5.7M254.2 346.4a3.5 2.9 146 1 0 5.8-3.9a3.5 2.9 146 1 0-5.8 3.9M253.5 394a3.6 3 48 1 0-4.8-5.3a3.6 3 48 1 0 4.8 5.3M277.8 347.8a2.2 2 82 1 0-.6-4.3a2.2 2 82 1 0 .6 4.3M216.5 441a3 1.5 62 1 0-2.8-5.3a3 1.5 62 1 0 2.8 5.3M235 358a3.3 2 15 1 0-6.4-1.7a3.3 2 15 1 0 6.4 1.7M275.4 398.2a2.7 2.5 123 1 0 2.9-4.5a2.7 2.5 123 1 0-2.9 4.5M276.5 366.6a2.3 1.5 85 1 0-.4-4.5a2.3 1.5 85 1 0 .4 4.5M250.2 348.6a2.9 2.8 135 1 0 4.1-4.1a2.9 2.8 135 1 0-4.1 4.1M199.1 383a3.1 1.6 178 1 0 6.2-.2a3.1 1.6 178 1 0-6.2 .2M271.5 396.4a2.8 2.3 71 1 0-1.8-5.3a2.8 2.3 71 1 0 1.8 5.3M254.5 387.4a2.4 1.7 11 1 0-4.7-.9a2.4 1.7 11 1 0 4.7 .9M253.7 353a2.2 1.2 135 1 0 3.1-3.1a2.2 1.2 135 1 0-3.1 3.1M242.7 399.1a2.8 2.2 65 1 0-2.4-5a2.8 2.2 65 1 0 2.4 5M227.5 422.6a3.3 1.9 26 1 0-6-2.9a3.3 1.9 26 1 0 6 2.9M233.1 427a2.3 1.4 77 1 0-1-4.4a2.3 1.4 77 1 0 1 4.4M243.2 403a2.3 1.6 177 1 0 4.6-.2a2.3 1.6 177 1 0-4.6 .2M265.3 349.4a2.8 1.6 176 1 0 5.5-.3a2.8 1.6 176 1 0-5.5 .3M225.5 443.7a2 1.3 62 1 0-1.9-3.6a2 1.3 62 1 0 1.9 3.6M232.6 366.4a2.5 1.7 20 1 0-4.7-1.7a2.5 1.7 20 1 0 4.7 1.7M258.7 411.5a2.1 1.2 6 1 0-4.1-.5a2.1 1.2 6 1 0 4.1 .5M215.2 390a3.1 3 148 1 0 5.2-3.3a3.1 3 148 1 0-5.2 3.3M217.7 354.5a2 1.1 5 1 0-4-.3a2 1.1 5 1 0 4 .3M251.9 448.6a3.9 2 45 1 0-5.6-5.6a3.9 2 45 1 0 5.6 5.6M230.9 433.9a1.8 1.3 157 1 0 3.2-1.4a1.8 1.3 157 1 0-3.2 1.4M272.7 345.1a2.8 2.3 23 1 0-5.2-2.1a2.8 2.3 23 1 0 5.2 2.1M279.5 410a2.4 1.6 16 1 0-4.6-1.3a2.4 1.6 16 1 0 4.6 1.3M279.8 348.4a3 2.5 109 1 0 1.9-5.6a3 2.5 109 1 0-1.9 5.6M269.5 359a3.2 1.9 128 1 0 3.9-5a3.2 1.9 128 1 0-3.9 5M271 381.7a3.3 2.8 3 1 0-6.6-.3a3.3 2.8 3 1 0 6.6 .3M222.8 350.1a3.2 3 41 1 0-4.8-4.3a3.2 3 41 1 0 4.8 4.3M284.2 348.2a2.6 2.4 51 1 0-3.2-4a2.6 2.4 51 1 0 3.2 4M275.7 328.2a2.2 2.1 118 1 0 2.1-3.9a2.2 2.1 118 1 0-2.1 3.9M209.8 385.3a2.8 1.5 168 1 0 5.5-1.2a2.8 1.5 168 1 0-5.5 1.2M205.3 445.3a3.2 2.7 67 1 0-2.6-5.9a3.2 2.7 67 1 0 2.6 5.9M223.5 389a3.9 2.1 86 1 0-.5-7.7a3.9 2.1 86 1 0 .5 7.7M252.8 450.6a3.3 3.2 126 1 0 3.8-5.3a3.3 3.2 126 1 0-3.8 5.3M241.5 443.4a1.6 1.4 3 1 0-3.2-.1a1.6 1.4 3 1 0 3.2 .1M207.5 328.6a2.6 2.4 143 1 0 4.2-3.1a2.6 2.4 143 1 0-4.2 3.1M257.3 370.8a2.2 1.6 59 1 0-2.3-3.8a2.2 1.6 59 1 0 2.3 3.8M248.3 405.9a1.7 1.7 23 1 0-3.2-1.4a1.7 1.7 23 1 0 3.2 1.4M278.9 323.7a1.5 1.5 59 1 0-1.5-2.6a1.5 1.5 59 1 0 1.5 2.6M234.4 422.3a1.7 1.4 156 1 0 3.1-1.4a1.7 1.4 156 1 0-3.1 1.4M245.6 324.6a1.9 1.8 35 1 0-3.1-2.2a1.9 1.8 35 1 0 3.1 2.2M263.1 407.9a3.4 2.8 97 1 0 .8-6.8a3.4 2.8 97 1 0-.8 6.8M271.4 417.1a2.1 1.1 106 1 0 1.1-4a2.1 1.1 106 1 0-1.1 4M251.3 409.8a2.2 2.2 107 1 0 1.3-4.3a2.2 2.2 107 1 0-1.3 4.3M237.4 344.3a2 1.2 123 1 0 2.1-3.3a2 1.2 123 1 0-2.1 3.3M235.6 427.3a2.3 2.1 175 1 0 4.6-.4a2.3 2.1 175 1 0-4.6 .4M261.1 426.9a2.2 1.6 69 1 0-1.6-4.2a2.2 1.6 69 1 0 1.6 4.2M235.3 449.8a2.3 2.3 132 1 0 3.1-3.5a2.3 2.3 132 1 0-3.1 3.5M222.7 377.7a2.6 1.9 170 1 0 5.1-.9a2.6 1.9 170 1 0-5.1 .9M260.1 386.8a3 2 23 1 0-5.4-2.4a3 2 23 1 0 5.4 2.4M234.3 429.6a3.5 1.8 115 1 0 2.9-6.3a3.5 1.8 115 1 0-2.9 6.3M272.2 405.2a3.9 2.5 30 1 0-6.7-3.9a3.9 2.5 30 1 0 6.7 3.9M235.1 326.7a3.6 2.6 119 1 0 3.6-6.4a3.6 2.6 119 1 0-3.6 6.4M243.5 390.5a2.4 2.2 157 1 0 4.5-1.9a2.4 2.2 157 1 0-4.5 1.9M285.9 395.1a2.7 2.1 173 1 0 5.3-.7a2.7 2.1 173 1 0-5.3 .7M233.2 323.6a2.8 2.6 26 1 0-5-2.4a2.8 2.6 26 1 0 5 2.4M229.7 404.9a3.1 2 136 1 0 4.4-4.3a3.1 2 136 1 0-4.4 4.3M274.9 416.3a3.7 2.1 74 1 0-2-7.1a3.7 2.1 74 1 0 2 7.1M235.9 360.3a2.6 2.5 134 1 0 3.6-3.7a2.6 2.5 134 1 0-3.6 3.7M219.8 414.2a3.1 2 62 1 0-2.9-5.5a3.1 2 62 1 0 2.9 5.5M215.1 382.5a3.3 2.3 56 1 0-3.7-5.5a3.3 2.3 56 1 0 3.7 5.5M224.8 449.7a2.1 1.5 42 1 0-3.2-2.8a2.1 1.5 42 1 0 3.2 2.8M241.1 423.7a3.7 2.9 167 1 0 7.2-1.6a3.7 2.9 167 1 0-7.2 1.6M227.8 413.2a2.4 1.5 71 1 0-1.5-4.6a2.4 1.5 71 1 0 1.5 4.6M218.5 404.1a1.9 1.6 132 1 0 2.6-2.8a1.9 1.6 132 1 0-2.6 2.8M202.5 373.1a3.1 2.6 111 1 0 2.3-5.8a3.1 2.6 111 1 0-2.3 5.8M201.8 419.7a1.8 .9 135 1 0 2.6-2.6a1.8 .9 135 1 0-2.6 2.6M238.8 347.5a1.9 1.3 119 1 0 1.8-3.2a1.9 1.3 119 1 0-1.8 3.2M205.3 391a2.6 2.5 77 1 0-1.2-5.1a2.6 2.5 77 1 0 1.2 5.1M214.5 398.7a1.7 .9 161 1 0 3.3-1.1a1.7 .9 161 1 0-3.3 1.1M251.5 368.6a2 1.2 75 1 0-1.1-3.9a2 1.2 75 1 0 1.1 3.9M238.6 447a2.7 1.9 90 1 0-0-5.4a2.7 1.9 90 1 0 0 5.4M228.9 388.6a2.5 1.5 67 1 0-1.9-4.6a2.5 1.5 67 1 0 1.9 4.6M268.7 334.6a3 2.9 106 1 0 1.6-5.8a3 2.9 106 1 0-1.6 5.8M245 434.4a3.3 2.2 0 1 0-6.6-0a3.3 2.2 0 1 0 6.6 0M283.5 380.7a2.3 1.2 39 1 0-3.6-2.9a2.3 1.2 39 1 0 3.6 2.9M264.5 400.8a1.9 1.7 141 1 0 3-2.4a1.9 1.7 141 1 0-3 2.4M211.3 403.2a2.3 1.6 52 1 0-2.9-3.7a2.3 1.6 52 1 0 2.9 3.7M244.7 332.3a3.9 2.2 178 1 0 7.8-.3a3.9 2.2 178 1 0-7.8 .3M205.1 376.1a2.2 2.2 62 1 0-2.1-3.8a2.2 2.2 62 1 0 2.1 3.8M290.9 369.8a1.8 1.2 12 1 0-3.5-.7a1.8 1.2 12 1 0 3.5 .7M245.5 343.5a2.1 1.2 58 1 0-2.2-3.5a2.1 1.2 58 1 0 2.2 3.5M289.2 393.8a3.1 2.8 77 1 0-1.4-6a3.1 2.8 77 1 0 1.4 6M260.7 324.8a2.8 2.6 64 1 0-2.4-5.1a2.8 2.6 64 1 0 2.4 5.1M215.5 442.1a3.5 2.3 21 1 0-6.5-2.5a3.5 2.3 21 1 0 6.5 2.5M234.8 385.6a2.2 2 101 1 0 .8-4.2a2.2 2 101 1 0-.8 4.2M272.5 393.2a3.8 3.1 90 1 0 0-7.7a3.8 3.1 90 1 0-0 7.7M247 434.3a3.1 2.4 30 1 0-5.3-3.1a3.1 2.4 30 1 0 5.3 3.1M282 411a4 2.8 37 1 0-6.4-4.7a4 2.8 37 1 0 6.4 4.7M204.7 366.2a2.8 1.7 130 1 0 3.6-4.2a2.8 1.7 130 1 0-3.6 4.2M220.2 441.7a1.9 1.1 21 1 0-3.5-1.4a1.9 1.1 21 1 0 3.5 1.4M267.9 437.7a3.2 2 151 1 0 5.6-3.2a3.2 2 151 1 0-5.6 3.2M265.3 356.5a3.8 3.3 49 1 0-5-5.6a3.8 3.3 49 1 0 5 5.6M247 322.5a1.8 1 147 1 0 3-1.9a1.8 1 147 1 0-3 1.9M244.7 401a3.8 2.4 25 1 0-6.9-3.2a3.8 2.4 25 1 0 6.9 3.2M227.1 443.7a2.3 1.2 12 1 0-4.5-1a2.3 1.2 12 1 0 4.5 1M235.9 438.9a2.1 1.8 65 1 0-1.7-3.7a2.1 1.8 65 1 0 1.7 3.7M287 402.1a2.1 1.4 96 1 0 .4-4.2a2.1 1.4 96 1 0-.4 4.2M238.5 383.3a3.9 2 65 1 0-3.3-7a3.9 2 65 1 0 3.3 7M268.5 442a3.7 2.5 65 1 0-3.1-6.7a3.7 2.5 65 1 0 3.1 6.7M276.6 398.4a3.9 2.2 139 1 0 5.9-5.1a3.9 2.2 139 1 0-5.9 5.1M263.6 451.9a2.1 1.7 153 1 0 3.8-1.9a2.1 1.7 153 1 0-3.8 1.9M244.3 338.3a3.2 1.9 30 1 0-5.6-3.2a3.2 1.9 30 1 0 5.6 3.2M292.2 383.4a3.9 3.8 26 1 0-7-3.5a3.9 3.8 26 1 0 7 3.5M224.1 421a1.9 1.1 17 1 0-3.7-1.1a1.9 1.1 17 1 0 3.7 1.1M280.6 440.3a3.7 2.5 43 1 0-5.4-5a3.7 2.5 43 1 0 5.4 5M246.3 324.6a2 1.9 178 1 0 4.1-.1a2 1.9 178 1 0-4.1 .1M233.8 352.9a3 2.9 102 1 0 1.3-5.9a3 2.9 102 1 0-1.3 5.9M249.9 410.6a3.3 2.1 60 1 0-3.3-5.7a3.3 2.1 60 1 0 3.3 5.7M247.4 382.2a4 2.4 4 1 0-7.9-.6a4 2.4 4 1 0 7.9 .6M246.3 448.4a3.9 2.2 180 1 0 7.7-0a3.9 2.2 180 1 0-7.7 0M281.2 357.1a2.1 1.3 87 1 0-.2-4.2a2.1 1.3 87 1 0 .2 4.2M252.8 349.4a2.7 2.1 28 1 0-4.9-2.6a2.7 2.1 28 1 0 4.9 2.6M261.1 337.8a2.6 1.6 26 1 0-4.8-2.3a2.6 1.6 26 1 0 4.8 2.3M254.2 428a2.8 1.6 32 1 0-4.7-3a2.8 1.6 32 1 0 4.7 3M279.6 395.2a2.2 1.5 26 1 0-3.9-1.9a2.2 1.5 26 1 0 3.9 1.9M254 324.4a3.5 2.1 63 1 0-3.1-6.2a3.5 2.1 63 1 0 3.1 6.2M285.2 330.4a2.4 1.9 114 1 0 1.9-4.3a2.4 1.9 114 1 0-1.9 4.3M276.2 429.2a2.6 2.3 43 1 0-3.9-3.6a2.6 2.3 43 1 0 3.9 3.6M271.3 430.9a1.5 1.4 63 1 0-1.4-2.8a1.5 1.4 63 1 0 1.4 2.8M210.2 340.3a2.2 2 155 1 0 3.9-1.8a2.2 2 155 1 0-3.9 1.8M259 367.5a2.2 1.3 13 1 0-4.3-1a2.2 1.3 13 1 0 4.3 1M238.5 406.8a3.5 3.1 158 1 0 6.6-2.6a3.5 3.1 158 1 0-6.6 2.6"/>
<path fill="#9f9fae" fill-opacity=".85" d="M201.9 320.8a1.1 .5 39 1 0-1.7-1.4a1.1 .5 39 1 0 1.7 1.4M222.4 321.1a1.2 .7 118 1 0 1.1-2.1a1.2 .7 118 1 0-1.1 2.1M241.6 318.4a1.1 .5 174 1 0 2.1-.2a1.1 .5 174 1 0-2.1 .2M253.7 319.7a1.7 1.4 119 1 0 1.7-3a1.7 1.4 119 1 0-1.7 3M242.5 325.3a1.6 .9 64 1 0-1.4-2.8a1.6 .9 64 1 0 1.4 2.8M243.6 323.2a1 .7 137 1 0 1.5-1.4a1 .7 137 1 0-1.5 1.4M264.7 323.7a1.7 .9 175 1 0 3.4-.3a1.7 .9 175 1 0-3.4 .3M281.2 324.1a1.7 1.1 3 1 0-3.5-.2a1.7 1.1 3 1 0 3.5 .2M282.8 323.6a1.6 .7 121 1 0 1.6-2.7a1.6 .7 121 1 0-1.6 2.7M227.7 329.2a1.4 .8 54 1 0-1.7-2.3a1.4 .8 54 1 0 1.7 2.3M278.2 326.8a1.2 .6 54 1 0-1.4-2a1.2 .6 54 1 0 1.4 2M279.7 327.5a1.7 1.3 103 1 0 .8-3.3a1.7 1.3 103 1 0-.8 3.3M207 333.1a1.8 .8 55 1 0-2.1-3a1.8 .8 55 1 0 2.1 3M209.7 331.9a1.7 .8 164 1 0 3.3-1a1.7 .8 164 1 0-3.3 1M215.8 330.1a1.2 .6 47 1 0-1.6-1.7a1.2 .6 47 1 0 1.6 1.7M219.7 332.5a1.7 1.1 135 1 0 2.4-2.5a1.7 1.1 135 1 0-2.4 2.5M239.7 331.9a1.7 1.3 148 1 0 2.9-1.8a1.7 1.3 148 1 0-2.9 1.8M242.7 331.1a1.7 1.1 141 1 0 2.7-2.1a1.7 1.1 141 1 0-2.7 2.1M252.9 331.5a1.8 1.1 93 1 0 .2-3.7a1.8 1.1 93 1 0-.2 3.7M259.6 332.4a1.1 .6 145 1 0 1.8-1.2a1.1 .6 145 1 0-1.8 1.2M265.8 331.1a1.2 1 166 1 0 2.4-.6a1.2 1 166 1 0-2.4 .6M268.1 331.8a1.6 .9 148 1 0 2.7-1.7a1.6 .9 148 1 0-2.7 1.7M278.1 330.6a1.2 1 142 1 0 1.9-1.5a1.2 1 142 1 0-1.9 1.5M206.6 334.9a1.7 1.4 50 1 0-2.2-2.6a1.7 1.4 50 1 0 2.2 2.6M230.4 335.6a1 .8 16 1 0-1.9-.5a1 .8 16 1 0 1.9 .5M232.3 333.5a1.7 1 167 1 0 3.2-.8a1.7 1 167 1 0-3.2 .8M263.8 334.8a1.4 .8 77 1 0-.7-2.8a1.4 .8 77 1 0 .7 2.8M273.9 335.5a1.4 .9 75 1 0-.7-2.6a1.4 .9 75 1 0 .7 2.6M285.3 333.8a1.3 .9 16 1 0-2.4-.7a1.3 .9 16 1 0 2.4 .7M229.2 338.4a1.4 1 104 1 0 .7-2.7a1.4 1 104 1 0-.7 2.7M254.5 336.7a1.1 .9 13 1 0-2.2-.5a1.1 .9 13 1 0 2.2 .5M274.6 340.1a1.5 1.2 64 1 0-1.4-2.8a1.5 1.2 64 1 0 1.4 2.8M286.6 338.6a1.5 1.2 83 1 0-.4-3a1.5 1.2 83 1 0 .4 3M232.2 342a1.8 1.1 154 1 0 3.3-1.6a1.8 1.1 154 1 0-3.3 1.6M265.4 343.1a1.1 .8 29 1 0-1.9-1a1.1 .8 29 1 0 1.9 1M215.8 345.8a1.5 1 57 1 0-1.7-2.6a1.5 1 57 1 0 1.7 2.6M224.9 347.7a1.4 .8 78 1 0-.6-2.6a1.4 .8 78 1 0 .6 2.6M250.8 346.8a1.1 .5 61 1 0-1.1-2a1.1 .5 61 1 0 1.1 2M263.7 347.8a1.8 1.2 50 1 0-2.3-2.7a1.8 1.2 50 1 0 2.3 2.7M278 345.5a1.9 1 133 1 0 2.5-2.7a1.9 1 133 1 0-2.5 2.7M282.5 345.5a1.6 .9 130 1 0 2.1-2.5a1.6 .9 130 1 0-2.1 2.5M225.7 349.3a1.3 .7 65 1 0-1.1-2.3a1.3 .7 65 1 0 1.1 2.3M255.2 347.9a1.2 .8 33 1 0-2-1.3a1.2 .8 33 1 0 2 1.3M262.2 349.9a1.9 1.1 171 1 0 3.7-.6a1.9 1.1 171 1 0-3.7 .6M265.9 349.7a1.2 .8 122 1 0 1.2-2a1.2 .8 122 1 0-1.2 2M274.2 347.3a1.7 .9 2 1 0-3.5-.1a1.7 .9 2 1 0 3.5 .1M232.1 351.9a1.1 .6 14 1 0-2.1-.5a1.1 .6 14 1 0 2.1 .5M251.3 354.3a1.4 1.2 41 1 0-2.1-1.8a1.4 1.2 41 1 0 2.1 1.8M205.6 356.4a1.5 .9 77 1 0-.7-3a1.5 .9 77 1 0 .7 3M208 357.7a1 .8 161 1 0 1.9-.6a1 .8 161 1 0-1.9 .6M219.4 357.1a1.5 .8 173 1 0 2.9-.3a1.5 .8 173 1 0-2.9 .3M235.1 355.4a1.4 .9 23 1 0-2.5-1.1a1.4 .9 23 1 0 2.5 1.1M263 356.8a1.4 .7 77 1 0-.6-2.6a1.4 .7 77 1 0 .6 2.6M268.7 357.4a1.6 1.2 12 1 0-3.1-.7a1.6 1.2 12 1 0 3.1 .7M284.9 359a1.8 1.4 90 1 0-0-3.5a1.8 1.4 90 1 0 0 3.5M203.8 361.9a1.4 .6 69 1 0-1-2.6a1.4 .6 69 1 0 1 2.6M205.9 360a1.6 1.1 143 1 0 2.5-1.9a1.6 1.1 143 1 0-2.5 1.9M212.5 359a1.6 1.4 25 1 0-2.9-1.4a1.6 1.4 25 1 0 2.9 1.4M238.2 359.5a1 .8 21 1 0-1.9-.7a1 .8 21 1 0 1.9 .7M208.9 365.2a1.5 1.1 105 1 0 .8-2.9a1.5 1.1 105 1 0-.8 2.9M215.8 362.8a1.5 1.2 179 1 0 2.9-.1a1.5 1.2 179 1 0-2.9 .1M222.1 365.3a1.4 1.2 74 1 0-.8-2.7a1.4 1.2 74 1 0 .8 2.7M247.5 365.6a1.4 1 38 1 0-2.2-1.7a1.4 1 38 1 0 2.2 1.7M280.7 365.1a1.1 .6 152 1 0 1.9-1a1.1 .6 152 1 0-1.9 1M284.3 363.6a1.1 .5 147 1 0 1.8-1.1a1.1 .5 147 1 0-1.8 1.1M288 363.7a1.4 .9 110 1 0 1-2.6a1.4 .9 110 1 0-1 2.6M205.5 366.3a1.7 .8 27 1 0-3-1.5a1.7 .8 27 1 0 3 1.5M226.7 367.6a1.6 .8 11 1 0-3.2-.6a1.6 .8 11 1 0 3.2 .6M238.2 367.2a1.5 1 24 1 0-2.7-1.2a1.5 1 24 1 0 2.7 1.2M269.2 368.6a1.8 1.2 129 1 0 2.3-2.8a1.8 1.2 129 1 0-2.3 2.8M224.7 372.2a1.1 .7 117 1 0 1-2a1.1 .7 117 1 0-1 2M231 372a1.3 1 10 1 0-2.6-.5a1.3 1 10 1 0 2.6 .5M243.6 372.1a1.1 .8 42 1 0-1.6-1.4a1.1 .8 42 1 0 1.6 1.4M249.5 370.7a1.9 1 179 1 0 3.7-.1a1.9 1 179 1 0-3.7 .1M272.8 372.9a1.4 1 97 1 0 .3-2.9a1.4 1 97 1 0-.3 2.9M278 371.8a1.6 .9 27 1 0-2.9-1.5a1.6 .9 27 1 0 2.9 1.5M216.5 374.6a1.7 1.1 88 1 0-.1-3.5a1.7 1.1 88 1 0 .1 3.5M225.1 375.9a1.9 1 62 1 0-1.8-3.3a1.9 1 62 1 0 1.8 3.3M203 377.1a1.7 1.4 4 1 0-3.4-.2a1.7 1.4 4 1 0 3.4 .2M230.5 376.9a1.7 .9 6 1 0-3.4-.4a1.7 .9 6 1 0 3.4 .4M263.6 378.5a1 .7 165 1 0 2-.5a1 .7 165 1 0-2 .5M272.4 378.2a1.1 .8 137 1 0 1.6-1.4a1.1 .8 137 1 0-1.6 1.4M282.5 379.7a1.8 1.6 36 1 0-3-2.2a1.8 1.6 36 1 0 3 2.2M202.2 381.4a1.8 1.3 167 1 0 3.4-.8a1.8 1.3 167 1 0-3.4 .8M222.8 387a1.7 .8 89 1 0-.1-3.4a1.7 .8 89 1 0 .1 3.4M256.9 386a1.2 .7 53 1 0-1.4-1.9a1.2 .7 53 1 0 1.4 1.9M276.3 384.3a1.2 .7 17 1 0-2.4-.7a1.2 .7 17 1 0 2.4 .7M219.5 391a1.7 .9 145 1 0 2.8-1.9a1.7 .9 145 1 0-2.8 1.9M258.6 391a1.8 1.5 76 1 0-.9-3.6a1.8 1.5 76 1 0 .9 3.6M267.2 389.6a1.8 1.2 85 1 0-.3-3.7a1.8 1.2 85 1 0 .3 3.7M277.8 390.6a1.4 1.2 156 1 0 2.6-1.2a1.4 1.2 156 1 0-2.6 1.2M287.2 389.1a1.3 1.1 151 1 0 2.3-1.2a1.3 1.1 151 1 0-2.3 1.2M204 394.3a1.5 .7 122 1 0 1.6-2.6a1.5 .7 122 1 0-1.6 2.6M228 393a1.7 1.2 11 1 0-3.3-.6a1.7 1.2 11 1 0 3.3 .6M243 393.3a1.6 1.1 58 1 0-1.7-2.7a1.6 1.1 58 1 0 1.7 2.7M259 395a1.1 .6 97 1 0 .3-2.2a1.1 .6 97 1 0-.3 2.2M269 394.3a1.7 1 79 1 0-.7-3.4a1.7 1 79 1 0 .7 3.4M281.4 394.4a1.7 1.4 40 1 0-2.6-2.2a1.7 1.4 40 1 0 2.6 2.2M227.3 398.7a1.4 .7 115 1 0 1.1-2.5a1.4 .7 115 1 0-1.1 2.5M235.9 396.2a1.4 1.1 142 1 0 2.3-1.8a1.4 1.1 142 1 0-2.3 1.8M270.1 396.8a1.7 1.1 142 1 0 2.7-2.1a1.7 1.1 142 1 0-2.7 2.1M280.4 395.4a1.2 .8 165 1 0 2.3-.6a1.2 .8 165 1 0-2.3 .6M205.5 399.8a1.4 .7 81 1 0-.5-2.7a1.4 .7 81 1 0 .5 2.7M209.4 399.9a1 .8 89 1 0-0-2.1a1 .8 89 1 0 0 2.1M226.6 400.4a1.4 .7 17 1 0-2.6-.8a1.4 .7 17 1 0 2.6 .8M238.6 401.9a1.1 .6 66 1 0-.9-2a1.1 .6 66 1 0 .9 2M251.1 402.5a1.6 .9 90 1 0-0-3.1a1.6 .9 90 1 0 0 3.1M259.5 401.7a1.9 1.6 44 1 0-2.6-2.6a1.9 1.6 44 1 0 2.6 2.6M275.2 400.9a1.2 1 127 1 0 1.5-1.9a1.2 1 127 1 0-1.5 1.9M236.2 404.4a1.5 .8 145 1 0 2.4-1.7a1.5 .8 145 1 0-2.4 1.7M243.9 405.3a1.2 .6 109 1 0 .7-2.2a1.2 .6 109 1 0-.7 2.2M252.3 404.7a1.4 1.1 168 1 0 2.8-.6a1.4 1.1 168 1 0-2.8 .6M267.8 403.4a1.8 1.2 44 1 0-2.6-2.5a1.8 1.2 44 1 0 2.6 2.5M268.3 405.8a1.8 .8 119 1 0 1.8-3.2a1.8 .8 119 1 0-1.8 3.2M277.8 403.7a1.3 1.1 97 1 0 .3-2.6a1.3 1.1 97 1 0-.3 2.6M280.8 405.7a1.9 1.1 135 1 0 2.6-2.6a1.9 1.1 135 1 0-2.6 2.6M220.3 407.3a1.5 .9 95 1 0 .3-3a1.5 .9 95 1 0-.3 3M234.4 407.7a1.9 1.4 120 1 0 1.9-3.2a1.9 1.4 120 1 0-1.9 3.2M238 408.4a1.4 1.1 54 1 0-1.6-2.2a1.4 1.1 54 1 0 1.6 2.2M259 409.2a1.1 .8 94 1 0 .2-2.1a1.1 .8 94 1 0-.2 2.1M202.6 411.2a1 .8 64 1 0-.9-1.9a1 .8 64 1 0 .9 1.9M229.9 411.5a1.3 .7 62 1 0-1.2-2.3a1.3 .7 62 1 0 1.2 2.3M230.6 412.4a1.6 1.2 118 1 0 1.5-2.7a1.6 1.2 118 1 0-1.5 2.7M251.7 410.9a1.2 .7 109 1 0 .7-2.2a1.2 .7 109 1 0-.7 2.2M284.8 411.6a1.7 1.2 113 1 0 1.3-3.1a1.7 1.2 113 1 0-1.3 3.1M291.5 411.3a1.4 1 51 1 0-1.7-2.1a1.4 1 51 1 0 1.7 2.1M223 415.4a1.8 1.4 67 1 0-1.4-3.3a1.8 1.4 67 1 0 1.4 3.3M233.7 414.7a1.1 .7 108 1 0 .7-2.1a1.1 .7 108 1 0-.7 2.1M250 415.1a1.8 1.3 128 1 0 2.2-2.8a1.8 1.3 128 1 0-2.2 2.8M255.6 416.6a1.7 1.1 82 1 0-.5-3.3a1.7 1.1 82 1 0 .5 3.3M286.6 415.6a1.4 1.2 148 1 0 2.4-1.5a1.4 1.2 148 1 0-2.4 1.5M202.7 420.8a1.9 1 68 1 0-1.4-3.5a1.9 1 68 1 0 1.4 3.5M215.6 419.2a1.5 1 67 1 0-1.2-2.8a1.5 1 67 1 0 1.2 2.8M227.2 420.4a1.6 .9 75 1 0-.8-3.1a1.6 .9 75 1 0 .8 3.1M240.3 417.4a1.6 .8 160 1 0 3.1-1.1a1.6 .8 160 1 0-3.1 1.1M248.5 417.7a1.7 1.2 164 1 0 3.4-.9a1.7 1.2 164 1 0-3.4 .9M261.9 419.2a1.1 .9 31 1 0-1.9-1.2a1.1 .9 31 1 0 1.9 1.2M274.6 417.8a1.5 .9 24 1 0-2.7-1.2a1.5 .9 24 1 0 2.7 1.2M276.5 419.6a1.3 1.1 140 1 0 2-1.7a1.3 1.1 140 1 0-2 1.7M284.7 417a1.2 .8 17 1 0-2.3-.7a1.2 .8 17 1 0 2.3 .7M290.4 420.2a1.3 1 126 1 0 1.6-2.1a1.3 1 126 1 0-1.6 2.1M200.7 421.3a1.6 1 160 1 0 2.9-1.1a1.6 1 160 1 0-2.9 1.1M214 422.8a1.8 .8 4 1 0-3.6-.3a1.8 .8 4 1 0 3.6 .3M217.8 423.7a1.2 .6 58 1 0-1.2-2a1.2 .6 58 1 0 1.2 2M225.1 423.3a1.7 .8 74 1 0-.9-3.3a1.7 .8 74 1 0 .9 3.3M246 423.1a1.3 .9 144 1 0 2.1-1.5a1.3 .9 144 1 0-2.1 1.5M255.3 424a1.3 .8 110 1 0 .9-2.4a1.3 .8 110 1 0-.9 2.4M290 423.3a1.4 1 39 1 0-2.2-1.8a1.4 1 39 1 0 2.2 1.8M209 425.8a1.2 .8 132 1 0 1.6-1.8a1.2 .8 132 1 0-1.6 1.8M234.1 427.1a1.4 .9 15 1 0-2.6-.7a1.4 .9 15 1 0 2.6 .7M238.8 428a1.8 1 55 1 0-2.1-3a1.8 1 55 1 0 2.1 3M240.7 425.5a1.2 .8 74 1 0-.6-2.3a1.2 .8 74 1 0 .6 2.3M270.3 427.2a1.1 .9 67 1 0-.9-2a1.1 .9 67 1 0 .9 2M204.5 429.7a1.5 1 180 1 0 3-0a1.5 1 180 1 0-3 0M219.4 429.8a1.1 .8 55 1 0-1.2-1.8a1.1 .8 55 1 0 1.2 1.8M237.8 431.2a1.9 1.5 94 1 0 .3-3.7a1.9 1.5 94 1 0-.3 3.7M253.7 430.5a1.8 1.1 132 1 0 2.4-2.7a1.8 1.1 132 1 0-2.4 2.7M205.7 432.6a1.7 .9 171 1 0 3.4-.5a1.7 .9 171 1 0-3.4 .5M223.5 432.9a1.1 .9 132 1 0 1.5-1.7a1.1 .9 132 1 0-1.5 1.7M227.2 434.4a1.2 .7 140 1 0 1.8-1.6a1.2 .7 140 1 0-1.8 1.6M274.3 432.8a1.2 1 174 1 0 2.4-.3a1.2 1 174 1 0-2.4 .3M280.7 434.6a1.8 1 53 1 0-2.2-2.9a1.8 1 53 1 0 2.2 2.9M291.4 435a1.9 1.4 56 1 0-2.1-3.1a1.9 1.4 56 1 0 2.1 3.1M241.7 438.4a1.3 1.1 116 1 0 1.1-2.4a1.3 1.1 116 1 0-1.1 2.4M255.4 437.1a1.1 .8 2 1 0-2.2-.1a1.1 .8 2 1 0 2.2 .1M286.9 436.7a1.3 .9 51 1 0-1.7-2.1a1.3 .9 51 1 0 1.7 2.1M201.7 439.9a1.2 .8 151 1 0 2.1-1.1a1.2 .8 151 1 0-2.1 1.1M208.6 440.1a1.7 1.3 25 1 0-3.2-1.5a1.7 1.3 25 1 0 3.2 1.5M210.6 441.1a1.5 .8 96 1 0 .3-3.1a1.5 .8 96 1 0-.3 3.1M216.9 442.1a1.8 1.5 83 1 0-.5-3.6a1.8 1.5 83 1 0 .5 3.6M225.1 439.1a1.5 .7 20 1 0-2.7-1a1.5 .7 20 1 0 2.7 1M229.9 441.4a1 .9 59 1 0-1.1-1.8a1 .9 59 1 0 1.1 1.8M269.7 441.2a1.8 1.5 57 1 0-2-3.1a1.8 1.5 57 1 0 2 3.1M215.2 445.4a1.8 1.1 139 1 0 2.7-2.4a1.8 1.1 139 1 0-2.7 2.4M230.9 445.3a1.1 .8 18 1 0-2.1-.7a1.1 .8 18 1 0 2.1 .7M246.5 443.3a1.3 1 45 1 0-1.8-1.8a1.3 1 45 1 0 1.8 1.8M257 445.1a1.6 .9 44 1 0-2.3-2.3a1.6 .9 44 1 0 2.3 2.3M278.9 443.9a1.6 1.3 50 1 0-2.1-2.5a1.6 1.3 50 1 0 2.1 2.5M291 443.6a1.8 .8 51 1 0-2.2-2.7a1.8 .8 51 1 0 2.2 2.7M219.7 447a1.2 .5 96 1 0 .2-2.3a1.2 .5 96 1 0-.2 2.3M247.1 447a1 .5 141 1 0 1.6-1.3a1 .5 141 1 0-1.6 1.3M254.1 450.4a1.8 1.3 73 1 0-1.1-3.4a1.8 1.3 73 1 0 1.1 3.4M257.6 448a1.1 .8 151 1 0 1.9-1a1.1 .8 151 1 0-1.9 1M267.2 449.1a1.8 1.1 61 1 0-1.7-3.1a1.8 1.1 61 1 0 1.7 3.1M282.7 449.4a1.6 1.3 101 1 0 .6-3.1a1.6 1.3 101 1 0-.6 3.1M286.1 449.8a1.4 .9 103 1 0 .6-2.8a1.4 .9 103 1 0-.6 2.8M253 451.5a1.3 .8 7 1 0-2.5-.3a1.3 .8 7 1 0 2.5 .3M262.9 451.3a1.3 1.1 155 1 0 2.4-1.1a1.3 1.1 155 1 0-2.4 1.1"/>
<path fill="#9797a8" fill-opacity=".85" d="M210.6 320.7a1.3 1.1 45 1 0-1.8-1.9a1.3 1.1 45 1 0 1.8 1.9M212.3 319.6a1.5 1.1 100 1 0 .5-3a1.5 1.1 100 1 0-.5 3M226.3 321.5a1.3 .9 81 1 0-.4-2.6a1.3 .9 81 1 0 .4 2.6M260.5 319.6a1.9 .9 35 1 0-3.1-2.1a1.9 .9 35 1 0 3.1 2.1M263 321.1a1.6 1.3 87 1 0-.2-3.3a1.6 1.3 87 1 0 .2 3.3M268.5 320.8a1.3 1.1 120 1 0 1.3-2.3a1.3 1.1 120 1 0-1.3 2.3M273.8 321a1 .7 29 1 0-1.8-1a1 .7 29 1 0 1.8 1M278.7 320.6a1.5 1.2 7 1 0-2.9-.4a1.5 1.2 7 1 0 2.9 .4M207.3 324.4a1.1 .8 22 1 0-2-.8a1.1 .8 22 1 0 2 .8M220.5 323.6a1.2 .7 72 1 0-.8-2.4a1.2 .7 72 1 0 .8 2.4M229.3 323.6a1.5 1.1 41 1 0-2.2-2a1.5 1.1 41 1 0 2.2 2M231.2 324.6a1.5 .8 141 1 0 2.3-1.8a1.5 .8 141 1 0-2.3 1.8M235.7 323.3a1.2 .6 157 1 0 2.2-1a1.2 .6 157 1 0-2.2 1M252.8 322.1a1.2 .7 176 1 0 2.4-.2a1.2 .7 176 1 0-2.4 .2M263.8 323.6a1.6 .7 46 1 0-2.2-2.3a1.6 .7 46 1 0 2.2 2.3M268.9 325.4a1.7 1.3 85 1 0-.3-3.3a1.7 1.3 85 1 0 .3 3.3M209.7 329.1a1.4 .9 113 1 0 1.1-2.7a1.4 .9 113 1 0-1.1 2.7M222 327.1a1.5 1.2 82 1 0-.4-2.9a1.5 1.2 82 1 0 .4 2.9M231.7 327a1.3 1 33 1 0-2.2-1.4a1.3 1 33 1 0 2.2 1.4M233.6 327.4a1.9 1.4 84 1 0-.4-3.8a1.9 1.4 84 1 0 .4 3.8M239.4 328.9a1.5 1.2 53 1 0-1.8-2.4a1.5 1.2 53 1 0 1.8 2.4M242.5 327a1 .6 73 1 0-.6-1.9a1 .6 73 1 0 .6 1.9M251.4 327.1a1.2 .6 73 1 0-.7-2.4a1.2 .6 73 1 0 .7 2.4M260.3 328.4a1.6 1.1 76 1 0-.8-3a1.6 1.1 76 1 0 .8 3M265.6 327.7a1.4 1 5 1 0-2.7-.2a1.4 1 5 1 0 2.7 .2M271.6 328.5a1.3 1 166 1 0 2.5-.6a1.3 1 166 1 0-2.5 .6M285.5 327.8a1.5 .9 68 1 0-1.1-2.7a1.5 .9 68 1 0 1.1 2.7M202.8 332.4a1.6 1.1 137 1 0 2.4-2.2a1.6 1.1 137 1 0-2.4 2.2M248.9 331.8a1.4 1 121 1 0 1.5-2.5a1.4 1 121 1 0-1.5 2.5M256.6 330.7a1.1 .7 83 1 0-.3-2.3a1.1 .7 83 1 0 .3 2.3M275.7 332.3a1.4 .7 52 1 0-1.8-2.2a1.4 .7 52 1 0 1.8 2.2M292.5 330a1 .8 85 1 0-.2-2a1 .8 85 1 0 .2 2M215.7 334.4a1.8 .9 150 1 0 3.1-1.8a1.8 .9 150 1 0-3.1 1.8M222.7 335.4a1.3 .6 67 1 0-1-2.4a1.3 .6 67 1 0 1 2.4M246.8 334.6a1.2 .8 139 1 0 1.7-1.5a1.2 .8 139 1 0-1.7 1.5M249.4 336.2a1 .8 116 1 0 .9-1.9a1 .8 116 1 0-.9 1.9M258.6 334.7a1.2 1 155 1 0 2.1-1a1.2 1 155 1 0-2.1 1M280.3 333a1.4 .7 162 1 0 2.6-.9a1.4 .7 162 1 0-2.6 .9M290.6 335a1.4 1 5 1 0-2.8-.2a1.4 1 5 1 0 2.8 .2M200.9 337.5a1.3 .7 178 1 0 2.6-.1a1.3 .7 178 1 0-2.6 .1M206.7 339.3a1.7 1.1 61 1 0-1.6-2.9a1.7 1.1 61 1 0 1.6 2.9M210.2 338.4a1.3 .8 174 1 0 2.7-.3a1.3 .8 174 1 0-2.7 .3M213.6 339.3a1.4 1.1 167 1 0 2.7-.6a1.4 1.1 167 1 0-2.7 .6M225 337.8a1.4 1 73 1 0-.8-2.7a1.4 1 73 1 0 .8 2.7M233.8 338.5a1.6 1 143 1 0 2.6-2a1.6 1 143 1 0-2.6 2M245.4 339.8a1.9 1.4 95 1 0 .3-3.7a1.9 1.4 95 1 0-.3 3.7M263.9 337.8a1.5 1 5 1 0-3-.3a1.5 1 5 1 0 3 .3M266.6 339.8a1.7 1 51 1 0-2.2-2.7a1.7 1 51 1 0 2.2 2.7M199.7 343.2a1.6 .9 140 1 0 2.4-2.1a1.6 .9 140 1 0-2.4 2.1M205 343.4a1.5 1.1 148 1 0 2.5-1.6a1.5 1.1 148 1 0-2.5 1.6M210.6 342.6a1 .8 23 1 0-1.9-.8a1 .8 23 1 0 1.9 .8M212.1 343.1a1.3 .6 145 1 0 2.1-1.5a1.3 .6 145 1 0-2.1 1.5M230.4 342.8a1.1 .7 173 1 0 2.1-.3a1.1 .7 173 1 0-2.1 .3M236.2 341.2a1.5 1.1 139 1 0 2.3-2a1.5 1.1 139 1 0-2.3 2M243 342a1.8 1.1 86 1 0-.2-3.7a1.8 1.1 86 1 0 .2 3.7M246.5 342.7a1.3 1 153 1 0 2.3-1.2a1.3 1 153 1 0-2.3 1.2M251.9 342.4a1.9 1.5 6 1 0-3.8-.4a1.9 1.5 6 1 0 3.8 .4M256.3 341.5a1.2 .9 42 1 0-1.8-1.6a1.2 .9 42 1 0 1.8 1.6M260.5 342a1 .7 42 1 0-1.5-1.4a1 .7 42 1 0 1.5 1.4M271.8 341.7a1.1 .7 58 1 0-1.2-1.8a1.1 .7 58 1 0 1.2 1.8M282.3 341.8a1.2 .7 30 1 0-2-1.2a1.2 .7 30 1 0 2 1.2M284.9 343.2a1.1 .6 52 1 0-1.3-1.7a1.1 .6 52 1 0 1.3 1.7M202.6 346a1.3 .8 34 1 0-2.2-1.5a1.3 .8 34 1 0 2.2 1.5M208.2 345.1a1.3 1 1 1 0-2.6-.1a1.3 1 1 1 0 2.6 .1M219.5 346.5a1.3 .8 140 1 0 2-1.6a1.3 .8 140 1 0-2 1.6M226 345a1.7 1.2 159 1 0 3.1-1.2a1.7 1.2 159 1 0-3.1 1.2M242.2 344.7a1 .8 87 1 0-.1-2.1a1 .8 87 1 0 .1 2.1M244.8 346.5a1.7 1.2 63 1 0-1.6-3.1a1.7 1.2 63 1 0 1.6 3.1M258.6 346.1a1.1 .7 102 1 0 .5-2.2a1.1 .7 102 1 0-.5 2.2M267 344.4a1.5 1.1 16 1 0-2.8-.8a1.5 1.1 16 1 0 2.8 .8M285.5 346.2a1.9 1.6 149 1 0 3.2-1.9a1.9 1.6 149 1 0-3.2 1.9M199.1 350.1a1.7 1 151 1 0 3-1.7a1.7 1 151 1 0-3 1.7M204.8 350.6a1.6 .7 69 1 0-1.1-2.9a1.6 .7 69 1 0 1.1 2.9M208.1 350.7a1.7 1 131 1 0 2.2-2.5a1.7 1 131 1 0-2.2 2.5M238.4 350.4a1.6 1.3 106 1 0 .9-3.1a1.6 1.3 106 1 0-.9 3.1M253.7 347.5a1.6 1.4 2 1 0-3.2-.1a1.6 1.4 2 1 0 3.2 .1M275.8 349.9a1.5 1.2 158 1 0 2.7-1.1a1.5 1.2 158 1 0-2.7 1.1M281 350.5a1.1 .8 150 1 0 1.9-1.1a1.1 .8 150 1 0-1.9 1.1M286.5 347.6a1.4 .7 8 1 0-2.8-.4a1.4 .7 8 1 0 2.8 .4M205.7 352.2a1 .5 162 1 0 1.9-.6a1 .5 162 1 0-1.9 .6M217.4 353.4a1.8 1 72 1 0-1.2-3.5a1.8 1 72 1 0 1.2 3.5M225.5 352.7a1.8 1.5 6 1 0-3.6-.4a1.8 1.5 6 1 0 3.6 .4M239.8 352.6a1.6 1.2 73 1 0-.9-3a1.6 1.2 73 1 0 .9 3M254.3 353a1 .8 61 1 0-1-1.7a1 .8 61 1 0 1 1.7M267 352.4a1.5 1 40 1 0-2.3-1.9a1.5 1 40 1 0 2.3 1.9M271.8 354.5a1.5 1.2 80 1 0-.6-3a1.5 1.2 80 1 0 .6 3M285.2 354.5a1.7 .9 104 1 0 .8-3.3a1.7 .9 104 1 0-.8 3.3M291.4 353a1.1 .7 171 1 0 2.1-.3a1.1 .7 171 1 0-2.1 .3M213.1 358.4a1.4 1.1 68 1 0-1-2.6a1.4 1.1 68 1 0 1 2.6M214.6 355.8a1.8 1.3 165 1 0 3.5-1a1.8 1.3 165 1 0-3.5 1M229.1 356.8a1.5 .7 160 1 0 2.8-1a1.5 .7 160 1 0-2.8 1M255.7 357.8a1.4 .8 117 1 0 1.3-2.5a1.4 .8 117 1 0-1.3 2.5M270.7 357.4a1.8 .9 145 1 0 3-2.1a1.8 .9 145 1 0-3 2.1M277 356.9a1.3 .9 80 1 0-.5-2.6a1.3 .9 80 1 0 .5 2.6M282.8 355.5a1.2 .8 14 1 0-2.4-.6a1.2 .8 14 1 0 2.4 .6M287.9 355.9a1.4 1.1 87 1 0-.1-2.7a1.4 1.1 87 1 0 .1 2.7M232.3 360.9a1.7 .8 150 1 0 2.9-1.7a1.7 .8 150 1 0-2.9 1.7M243 360.6a1.6 1 143 1 0 2.5-1.9a1.6 1 143 1 0-2.5 1.9M259.2 361.7a1.3 .9 47 1 0-1.7-1.9a1.3 .9 47 1 0 1.7 1.9M265.1 361.3a1.1 .8 149 1 0 1.9-1.1a1.1 .8 149 1 0-1.9 1.1M273.8 361.1a1.2 .6 132 1 0 1.7-1.8a1.2 .6 132 1 0-1.7 1.8M280.6 359.7a1.8 .9 24 1 0-3.2-1.4a1.8 .9 24 1 0 3.2 1.4M284.7 361.1a1.3 .6 32 1 0-2.2-1.3a1.3 .6 32 1 0 2.2 1.3M289 360.8a1.6 .9 174 1 0 3.2-.3a1.6 .9 174 1 0-3.2 .3M201.3 364.1a1.4 1 28 1 0-2.5-1.3a1.4 1 28 1 0 2.5 1.3M204.2 364.6a1.7 1.1 84 1 0-.4-3.4a1.7 1.1 84 1 0 .4 3.4M237.2 363.6a1.5 1 111 1 0 1.1-2.8a1.5 1 111 1 0-1.1 2.8M242.9 363.8a1.1 .7 88 1 0-.1-2.1a1.1 .7 88 1 0 .1 2.1M249.5 363.8a1.6 .7 160 1 0 3-1.1a1.6 .7 160 1 0-3 1.1M256.4 366a1.6 1.4 66 1 0-1.3-3a1.6 1.4 66 1 0 1.3 3M212.1 366.8a1.2 .5 28 1 0-2.1-1.2a1.2 .5 28 1 0 2.1 1.2M216.5 367.4a1.3 .9 21 1 0-2.4-.9a1.3 .9 21 1 0 2.4 .9M230.6 368.6a1.6 .9 106 1 0 .9-3.1a1.6 .9 106 1 0-.9 3.1M245.7 366.6a1.6 1.2 44 1 0-2.3-2.2a1.6 1.2 44 1 0 2.3 2.2M257 368.2a1.8 1.2 170 1 0 3.5-.6a1.8 1.2 170 1 0-3.5 .6M263.2 367.6a1.1 .8 19 1 0-2.1-.7a1.1 .8 19 1 0 2.1 .7M273.5 368.2a1.5 1.2 150 1 0 2.6-1.5a1.5 1.2 150 1 0-2.6 1.5M279 367.2a1.6 .8 117 1 0 1.5-2.9a1.6 .8 117 1 0-1.5 2.9M293.9 368.7a1.8 1.2 36 1 0-2.9-2.1a1.8 1.2 36 1 0 2.9 2.1M199.5 373.2a1.6 .9 87 1 0-.2-3.3a1.6 .9 87 1 0 .2 3.3M204.6 371.6a1.4 .6 100 1 0 .5-2.7a1.4 .6 100 1 0-.5 2.7M210.6 372.3a1.7 1.4 89 1 0-.1-3.5a1.7 1.4 89 1 0 .1 3.5M218 370.7a1.2 .8 15 1 0-2.4-.6a1.2 .8 15 1 0 2.4 .6M234.8 372.1a1.5 1.1 45 1 0-2.1-2.2a1.5 1.1 45 1 0 2.1 2.2M254.5 371.3a1.7 1.1 120 1 0 1.7-3a1.7 1.1 120 1 0-1.7 3M257.6 369.8a1.1 .9 161 1 0 2.1-.7a1.1 .9 161 1 0-2.1 .7M283.6 373.4a1.8 .9 116 1 0 1.6-3.3a1.8 .9 116 1 0-1.6 3.3M208.1 373.4a1.5 .7 18 1 0-2.8-.9a1.5 .7 18 1 0 2.8 .9M219.5 374.8a1.1 .6 176 1 0 2.3-.2a1.1 .6 176 1 0-2.3 .2M226.1 374a1.5 1.2 151 1 0 2.5-1.4a1.5 1.2 151 1 0-2.5 1.4M234.1 374.8a1.7 1.2 42 1 0-2.6-2.3a1.7 1.2 42 1 0 2.6 2.3M235.3 373.9a1.7 1.4 175 1 0 3.4-.3a1.7 1.4 175 1 0-3.4 .3M242.8 374.5a1.1 .6 29 1 0-1.8-1a1.1 .6 29 1 0 1.8 1M243.4 375.9a1.7 .9 166 1 0 3.4-.9a1.7 .9 166 1 0-3.4 .9M265.9 375.7a1.4 .8 93 1 0 .2-2.7a1.4 .8 93 1 0-.2 2.7M269.5 377.3a1.8 1.1 104 1 0 .9-3.5a1.8 1.1 104 1 0-.9 3.5M277.2 375.2a1.4 .8 171 1 0 2.8-.4a1.4 .8 171 1 0-2.8 .4M292.7 374.1a1.6 1 49 1 0-2.2-2.5a1.6 1 49 1 0 2.2 2.5M219.1 378.3a1.9 1.5 156 1 0 3.4-1.5a1.9 1.5 156 1 0-3.4 1.5M236.2 378.1a1.5 1 54 1 0-1.8-2.5a1.5 1 54 1 0 1.8 2.5M237.6 378.3a1.7 1.3 173 1 0 3.4-.4a1.7 1.3 173 1 0-3.4 .4M246.8 378.8a1.1 .8 13 1 0-2.2-.5a1.1 .8 13 1 0 2.2 .5M250.8 378.6a1.6 .8 105 1 0 .8-3.1a1.6 .8 105 1 0-.8 3.1M257.6 378.4a1.4 .9 167 1 0 2.7-.6a1.4 .9 167 1 0-2.7 .6M270.2 378.1a1.1 .5 45 1 0-1.5-1.5a1.1 .5 45 1 0 1.5 1.5M275.9 379.5a1.8 1.4 60 1 0-1.8-3.1a1.8 1.4 60 1 0 1.8 3.1M284 378.8a1.6 1 67 1 0-1.2-2.9a1.6 1 67 1 0 1.2 2.9M207.9 382.1a1.7 1.4 76 1 0-.8-3.2a1.7 1.4 76 1 0 .8 3.2M208.8 382.4a1.2 .9 174 1 0 2.3-.3a1.2 .9 174 1 0-2.3 .3M215 382.7a1.5 .7 50 1 0-2-2.4a1.5 .7 50 1 0 2 2.4M218 382.2a1.3 .7 127 1 0 1.6-2.1a1.3 .7 127 1 0-1.6 2.1M227.6 384.3a1.7 .8 124 1 0 1.9-2.8a1.7 .8 124 1 0-1.9 2.8M233.5 383.6a1.4 1.1 33 1 0-2.3-1.5a1.4 1.1 33 1 0 2.3 1.5M244.4 384a1.5 1 53 1 0-1.8-2.4a1.5 1 53 1 0 1.8 2.4M248.9 384a1.8 .9 88 1 0-.1-3.7a1.8 .9 88 1 0 .1 3.7M256.9 384.3a1.4 .8 113 1 0 1.1-2.7a1.4 .8 113 1 0-1.1 2.7M260.2 382.1a1.2 1 132 1 0 1.6-1.7a1.2 1 132 1 0-1.6 1.7M277 382.3a1 .8 108 1 0 .7-2a1 .8 108 1 0-.7 2M284.4 382.2a1.4 .9 36 1 0-2.2-1.6a1.4 .9 36 1 0 2.2 1.6M215.8 384.6a1.1 .5 170 1 0 2.1-.4a1.1 .5 170 1 0-2.1 .4M225.7 387.1a1.1 .5 114 1 0 .9-2a1.1 .5 114 1 0-.9 2M229.9 386.2a1.1 .7 138 1 0 1.7-1.5a1.1 .7 138 1 0-1.7 1.5M232.7 384.9a1.1 .6 105 1 0 .6-2.1a1.1 .6 105 1 0-.6 2.1M248.9 385.8a1.2 .6 175 1 0 2.3-.2a1.2 .6 175 1 0-2.3 .2M260.1 387.1a1.7 1.2 55 1 0-1.9-2.8a1.7 1.2 55 1 0 1.9 2.8M281.9 385.2a1.1 .5 1 1 0-2.1-0a1.1 .5 1 1 0 2.1 0M285.2 386.6a1.6 .9 10 1 0-3.2-.6a1.6 .9 10 1 0 3.2 .6M207.6 388.6a1.3 .9 21 1 0-2.4-.9a1.3 .9 21 1 0 2.4 .9M232.7 390a1.5 .9 87 1 0-.2-3.1a1.5 .9 87 1 0 .2 3.1M240.7 388.8a1.5 .9 35 1 0-2.4-1.7a1.5 .9 35 1 0 2.4 1.7M249 389.2a1.1 .6 10 1 0-2.2-.4a1.1 .6 10 1 0 2.2 .4M270 390.2a1.7 .8 66 1 0-1.4-3a1.7 .8 66 1 0 1.4 3M291.7 390.4a1.2 .6 98 1 0 .3-2.3a1.2 .6 98 1 0-.3 2.3M229.9 394a1.1 .6 34 1 0-1.8-1.2a1.1 .6 34 1 0 1.8 1.2M239.4 393.3a1.5 .8 87 1 0-.1-3.1a1.5 .8 87 1 0 .1 3.1M245.2 392.9a1.6 .9 168 1 0 3.2-.7a1.6 .9 168 1 0-3.2 .7M252.8 394.2a1.8 1 57 1 0-1.9-3a1.8 1 57 1 0 1.9 3M263 392.7a1.8 1.1 173 1 0 3.6-.5a1.8 1.1 173 1 0-3.6 .5M272 395.1a1.4 .7 87 1 0-.1-2.8a1.4 .7 87 1 0 .1 2.8M284.6 394.3a1.8 1.1 94 1 0 .3-3.5a1.8 1.1 94 1 0-.3 3.5M202.5 396.3a1.7 1.4 179 1 0 3.3-.1a1.7 1.4 179 1 0-3.3 .1M213.2 397.5a1.8 1.4 160 1 0 3.4-1.2a1.8 1.4 160 1 0-3.4 1.2M222.5 398.6a1.3 .6 113 1 0 1-2.3a1.3 .6 113 1 0-1 2.3M260.1 396.2a1.3 .8 8 1 0-2.5-.4a1.3 .8 8 1 0 2.5 .4M262.4 398.1a1.5 1 44 1 0-2.2-2.1a1.5 1 44 1 0 2.2 2.1M287.7 397.7a1.2 .9 11 1 0-2.5-.5a1.2 .9 11 1 0 2.5 .5M214.5 401.5a1.8 1.4 55 1 0-2.1-2.9a1.8 1.4 55 1 0 2.1 2.9M230.4 400.6a1.5 .9 92 1 0 .1-3a1.5 .9 92 1 0-.1 3M249.7 398.5a1.6 1.1 3 1 0-3.1-.2a1.6 1.1 3 1 0 3.1 .2M258.2 401.1a1.6 1.2 6 1 0-3.2-.4a1.6 1.2 6 1 0 3.2 .4M262.6 400.5a1.5 .7 163 1 0 2.8-.9a1.5 .7 163 1 0-2.8 .9M270.5 400a1.5 1.1 12 1 0-2.9-.6a1.5 1.1 12 1 0 2.9 .6M274.1 401.5a1 .8 67 1 0-.8-1.9a1 .8 67 1 0 .8 1.9M278.9 400.6a1.6 1.2 140 1 0 2.4-2a1.6 1.2 140 1 0-2.4 2M283 399.4a1.7 1 166 1 0 3.3-.9a1.7 1 166 1 0-3.3 .9M215.5 402.5a1.1 .8 156 1 0 2-.9a1.1 .8 156 1 0-2 .9M221.6 404.9a1.5 1 71 1 0-1-2.8a1.5 1 71 1 0 1 2.8M223.3 402.2a1.4 1 172 1 0 2.7-.4a1.4 1 172 1 0-2.7 .4M233.7 405.2a1.2 .6 76 1 0-.6-2.3a1.2 .6 76 1 0 .6 2.3M242.8 403.3a1.6 1.2 16 1 0-3.1-.9a1.6 1.2 16 1 0 3.1 .9M261.6 403.7a1.3 .6 105 1 0 .7-2.5a1.3 .6 105 1 0-.7 2.5M293 404.3a1.2 .8 46 1 0-1.6-1.7a1.2 .8 46 1 0 1.6 1.7M207.4 406.6a1.8 1.4 7 1 0-3.5-.4a1.8 1.4 7 1 0 3.5 .4M212.1 407.7a1.8 .8 26 1 0-3.2-1.6a1.8 .8 26 1 0 3.2 1.6M212 407a1.7 1 137 1 0 2.6-2.4a1.7 1 137 1 0-2.6 2.4M217.2 408.7a1.5 .8 104 1 0 .7-2.8a1.5 .8 104 1 0-.7 2.8M226.9 407.5a1.2 1 46 1 0-1.7-1.8a1.2 1 46 1 0 1.7 1.8M253.9 407.7a1.1 .7 100 1 0 .4-2.2a1.1 .7 100 1 0-.4 2.2M278.1 407.8a1 .8 67 1 0-.8-1.9a1 .8 67 1 0 .8 1.9M282.8 410.2a1.8 1.3 66 1 0-1.5-3.3a1.8 1.3 66 1 0 1.5 3.3M290.7 408.4a1.5 .8 27 1 0-2.6-1.3a1.5 .8 27 1 0 2.6 1.3M207.7 411.7a1.8 1.1 3 1 0-3.7-.2a1.8 1.1 3 1 0 3.7 .2M213.5 410.8a1.5 .9 12 1 0-3-.6a1.5 .9 12 1 0 3 .6M216.8 410a1.8 1.5 164 1 0 3.5-1a1.8 1.5 164 1 0-3.5 1M221.6 412.6a1.9 1.5 135 1 0 2.7-2.7a1.9 1.5 135 1 0-2.7 2.7M236.6 411.2a1.4 1 111 1 0 1-2.6a1.4 1 111 1 0-1 2.6M240.6 413.8a1.7 1 87 1 0-.2-3.3a1.7 1 87 1 0 .2 3.3M245.6 412.8a1.7 1.2 21 1 0-3.1-1.2a1.7 1.2 21 1 0 3.1 1.2M261 413.6a1.6 1.2 103 1 0 .7-3.1a1.6 1.2 103 1 0-.7 3.1M200.9 414.3a1.5 1.2 69 1 0-1.1-2.7a1.5 1.2 69 1 0 1.1 2.7M242.4 415.2a1.7 1 101 1 0 .7-3.4a1.7 1 101 1 0-.7 3.4M248.9 414a1 .7 15 1 0-2-.5a1 .7 15 1 0 2 .5M257.8 413.9a1.8 1.1 169 1 0 3.5-.7a1.8 1.1 169 1 0-3.5 .7M287.2 414.3a1.2 .7 29 1 0-2.1-1.2a1.2 .7 29 1 0 2.1 1.2M256 419.2a1.5 .7 35 1 0-2.5-1.7a1.5 .7 35 1 0 2.5 1.7M258 418.3a1.3 .9 9 1 0-2.5-.4a1.3 .9 9 1 0 2.5 .4M263.7 417a1.1 .8 160 1 0 2-.7a1.1 .8 160 1 0-2 .7M271.1 419.1a1.8 .8 15 1 0-3.5-.9a1.8 .8 15 1 0 3.5 .9M286.9 417.2a1.1 .5 155 1 0 2-.9a1.1 .5 155 1 0-2 .9M221.9 423.6a1.1 .9 96 1 0 .2-2.2a1.1 .9 96 1 0-.2 2.2M233.6 422.3a1.4 1.1 68 1 0-1-2.6a1.4 1.1 68 1 0 1 2.6M252.3 423.3a1.9 1.2 93 1 0 .2-3.7a1.9 1.2 93 1 0-.2 3.7M259.9 423.8a1.1 .8 39 1 0-1.7-1.4a1.1 .8 39 1 0 1.7 1.4M281.6 423.3a1.3 .8 67 1 0-1-2.4a1.3 .8 67 1 0 1 2.4M284.6 422.2a1.4 .7 99 1 0 .4-2.7a1.4 .7 99 1 0-.4 2.7M205 425.5a1.9 1 45 1 0-2.7-2.7a1.9 1 45 1 0 2.7 2.7M214.1 426.3a1.8 1 129 1 0 2.3-2.8a1.8 1 129 1 0-2.3 2.8M249.1 426.8a1.6 .9 94 1 0 .2-3.3a1.6 .9 94 1 0-.2 3.3M256 424.9a1.3 .8 139 1 0 2-1.7a1.3 .8 139 1 0-2 1.7M277.7 425.6a1.9 1.2 163 1 0 3.6-1.1a1.9 1.2 163 1 0-3.6 1.1M287.1 425.2a1.1 .8 112 1 0 .8-2a1.1 .8 112 1 0-.8 2M291.8 425.7a1.3 1.1 72 1 0-.8-2.5a1.3 1.1 72 1 0 .8 2.5M208.1 431.6a1.4 1.2 119 1 0 1.4-2.5a1.4 1.2 119 1 0-1.4 2.5M228.2 429.9a1.1 .7 170 1 0 2.1-.4a1.1 .7 170 1 0-2.1 .4M235.9 430.2a1.4 .8 21 1 0-2.6-1a1.4 .8 21 1 0 2.6 1M242.6 429.1a1.1 .9 64 1 0-1-2a1.1 .9 64 1 0 1 2M259.7 429.2a1.1 .8 16 1 0-2.2-.6a1.1 .8 16 1 0 2.2 .6M268.2 430.2a1.3 .7 30 1 0-2.3-1.3a1.3 .7 30 1 0 2.3 1.3M272.1 430.4a1.2 .8 152 1 0 2-1.1a1.2 .8 152 1 0-2 1.1M283.4 428.2a1.7 .8 3 1 0-3.3-.2a1.7 .8 3 1 0 3.3 .2M215.3 432.2a1.2 1 135 1 0 1.8-1.8a1.2 1 135 1 0-1.8 1.8M219.2 434.2a1.8 1.2 149 1 0 3.1-1.9a1.8 1.2 149 1 0-3.1 1.9M236.7 434.6a1.5 1.1 33 1 0-2.6-1.7a1.5 1.1 33 1 0 2.6 1.7M239.2 433.8a1.7 1.2 97 1 0 .4-3.4a1.7 1.2 97 1 0-.4 3.4M243.1 433.7a1.6 .8 157 1 0 2.9-1.2a1.6 .8 157 1 0-2.9 1.2M257.4 432.2a1.3 1 9 1 0-2.6-.4a1.3 1 9 1 0 2.6 .4M270.8 431.4a1.7 1.2 3 1 0-3.4-.1a1.7 1.2 3 1 0 3.4 .1M203.7 436.5a1.8 1 33 1 0-3-2a1.8 1 33 1 0 3 2M207.6 437.7a1.4 1 15 1 0-2.7-.7a1.4 1 15 1 0 2.7 .7M206.6 436.1a1.6 .7 140 1 0 2.4-2.1a1.6 .7 140 1 0-2.4 2.1M217.7 437.6a1.1 .7 132 1 0 1.4-1.6a1.1 .7 132 1 0-1.4 1.6M223 437.4a1.6 .8 28 1 0-2.7-1.5a1.6 .8 28 1 0 2.7 1.5M225 437.7a1.1 .6 100 1 0 .4-2.2a1.1 .6 100 1 0-.4 2.2M239.7 437.7a1.7 1.4 58 1 0-1.8-2.8a1.7 1.4 58 1 0 1.8 2.8M249.8 437.6a1.1 .9 149 1 0 1.9-1.1a1.1 .9 149 1 0-1.9 1.1M263.6 437.1a1.4 .7 67 1 0-1.1-2.5a1.4 .7 67 1 0 1.1 2.5M289.6 439.2a1.6 1.2 90 1 0 0-3.3a1.6 1.2 90 1 0-0 3.3M240.5 440.1a1.3 .8 78 1 0-.5-2.5a1.3 .8 78 1 0 .5 2.5M244.6 439.1a1 .7 14 1 0-2-.5a1 .7 14 1 0 2 .5M263.7 440.8a1.3 1 133 1 0 1.8-1.9a1.3 1 133 1 0-1.8 1.9M283.8 440.5a1.3 .8 73 1 0-.7-2.4a1.3 .8 73 1 0 .7 2.4M286 440.9a1.7 .9 127 1 0 2.1-2.8a1.7 .9 127 1 0-2.1 2.8M227.9 446a1.5 .9 40 1 0-2.3-2a1.5 .9 40 1 0 2.3 2M232.2 443.5a1.6 1.3 120 1 0 1.6-2.7a1.6 1.3 120 1 0-1.6 2.7M238.2 446a1.7 1.1 143 1 0 2.7-2a1.7 1.1 143 1 0-2.7 2M243.5 443.9a1.3 .8 104 1 0 .6-2.6a1.3 .8 104 1 0-.6 2.6M272 444.6a1.7 .9 121 1 0 1.8-3a1.7 .9 121 1 0-1.8 3M278.9 445.3a1.7 1.4 141 1 0 2.6-2.1a1.7 1.4 141 1 0-2.6 2.1M208 446a1.2 .8 6 1 0-2.3-.2a1.2 .8 6 1 0 2.3 .2M213.2 447.7a1.4 1.1 32 1 0-2.4-1.5a1.4 1.1 32 1 0 2.4 1.5M212.9 448.6a1.9 1.4 141 1 0 2.9-2.3a1.9 1.4 141 1 0-2.9 2.3M224.1 447.6a1.9 1.4 67 1 0-1.5-3.5a1.9 1.4 67 1 0 1.5 3.5M234.3 448.1a1.7 1 17 1 0-3.2-1a1.7 1 17 1 0 3.2 1M236.2 448.1a1.4 .7 43 1 0-2-1.9a1.4 .7 43 1 0 2 1.9M240.8 447.2a1.5 1.1 11 1 0-3-.6a1.5 1.1 11 1 0 3 .6M245.8 446.1a1.3 1.1 6 1 0-2.6-.3a1.3 1.1 6 1 0 2.6 .3M271.4 449.1a1 .7 97 1 0 .2-2a1 .7 97 1 0-.2 2M200.1 452.8a1.2 .8 123 1 0 1.3-2a1.2 .8 123 1 0-1.3 2M209.1 453.1a1.7 1.2 127 1 0 2-2.7a1.7 1.2 127 1 0-2 2.7M243.5 452.6a1.6 1.3 16 1 0-3.2-.9a1.6 1.3 16 1 0 3.2 .9M247.5 451.2a1.4 .9 16 1 0-2.7-.8a1.4 .9 16 1 0 2.7 .8M255.5 451.9a1.5 1.2 14 1 0-2.9-.7a1.5 1.2 14 1 0 2.9 .7M257.7 452.2a1.5 .8 167 1 0 2.9-.7a1.5 .8 167 1 0-2.9 .7M269.3 452a1.3 1.1 5 1 0-2.7-.2a1.3 1.1 5 1 0 2.7 .2M279.8 451.8a1.3 1.1 148 1 0 2.1-1.3a1.3 1.1 148 1 0-2.1 1.3"/>
<path fill="#9191a2" fill-opacity=".85" d="M230.4 320.6a1.5 .8 67 1 0-1.2-2.8a1.5 .8 67 1 0 1.2 2.8M234.9 320.4a1.4 .8 90 1 0-0-2.8a1.4 .8 90 1 0 0 2.8M240.7 321.7a1.5 .8 48 1 0-1.9-2.2a1.5 .8 48 1 0 1.9 2.2M248.4 320.1a1.8 1 51 1 0-2.3-2.8a1.8 1 51 1 0 2.3 2.8M251.6 321.8a1 .8 96 1 0 .2-2a1 .8 96 1 0-.2 2M280.4 319.6a1.1 .9 54 1 0-1.3-1.8a1.1 .9 54 1 0 1.3 1.8M285.4 322.2a1.5 1 80 1 0-.5-2.9a1.5 1 80 1 0 .5 2.9M203.3 323.7a1.2 .9 9 1 0-2.4-.4a1.2 .9 9 1 0 2.4 .4M212.1 324.6a1.5 .7 61 1 0-1.5-2.7a1.5 .7 61 1 0 1.5 2.7M215.2 324a1.1 .5 142 1 0 1.7-1.3a1.1 .5 142 1 0-1.7 1.3M222.9 325a1.1 .8 80 1 0-.4-2.2a1.1 .8 80 1 0 .4 2.2M248.5 322.1a1.5 1.2 165 1 0 3-.8a1.5 1.2 165 1 0-3 .8M258.2 325.4a1.3 .8 75 1 0-.7-2.5a1.3 .8 75 1 0 .7 2.5M276.6 323.1a1.3 .7 25 1 0-2.4-1.1a1.3 .7 25 1 0 2.4 1.1M286.6 325.1a1.3 .7 68 1 0-1-2.4a1.3 .7 68 1 0 1 2.4M290 325.4a1.4 1 82 1 0-.4-2.8a1.4 1 82 1 0 .4 2.8M198.5 325.9a1.2 .9 147 1 0 2-1.3a1.2 .9 147 1 0-2 1.3M204.9 327.4a1.6 .7 105 1 0 .8-3.1a1.6 .7 105 1 0-.8 3.1M213.4 329.7a1.8 1.5 82 1 0-.5-3.6a1.8 1.5 82 1 0 .5 3.6M247.8 327a1.1 .7 64 1 0-.9-1.9a1.1 .7 64 1 0 .9 1.9M254.8 329.1a1.9 1.2 83 1 0-.5-3.7a1.9 1.2 83 1 0 .5 3.7M268 327.6a1.5 .9 153 1 0 2.6-1.4a1.5 .9 153 1 0-2.6 1.4M289.1 326.3a1.6 1.1 141 1 0 2.4-1.9a1.6 1.1 141 1 0-2.4 1.9M226.1 330.8a1.8 1.3 132 1 0 2.5-2.7a1.8 1.3 132 1 0-2.5 2.7M236.3 330.3a1.2 .9 95 1 0 .2-2.5a1.2 .9 95 1 0-.2 2.5M280.8 331.7a1.6 .8 126 1 0 1.9-2.6a1.6 .8 126 1 0-1.9 2.6M213.5 334a1.4 .9 163 1 0 2.8-.8a1.4 .9 163 1 0-2.8 .8M225.5 333.5a1.6 1.1 173 1 0 3.2-.4a1.6 1.1 173 1 0-3.2 .4M242 335.8a1.8 .9 95 1 0 .3-3.6a1.8 .9 95 1 0-.3 3.6M256.1 333.3a1.8 1.5 14 1 0-3.6-.9a1.8 1.5 14 1 0 3.6 .9M267 334.9a1.5 1 73 1 0-.9-3a1.5 1 73 1 0 .9 3M278 335.1a1.3 .6 43 1 0-1.9-1.8a1.3 .6 43 1 0 1.9 1.8M220.4 339.2a1.6 1 78 1 0-.7-3.1a1.6 1 78 1 0 .7 3.1M234.9 337.7a1.6 1.2 8 1 0-3.2-.5a1.6 1.2 8 1 0 3.2 .5M242.1 339.4a1.2 .9 39 1 0-1.9-1.5a1.2 .9 39 1 0 1.9 1.5M255.2 339.1a1.4 .8 172 1 0 2.9-.4a1.4 .8 172 1 0-2.9 .4M268.5 338.8a1.8 .9 108 1 0 1.1-3.4a1.8 .9 108 1 0-1.1 3.4M275.7 337.6a1.8 1.3 168 1 0 3.5-.7a1.8 1.3 168 1 0-3.5 .7M283.2 337.4a1.4 .9 43 1 0-2-1.9a1.4 .9 43 1 0 2 1.9M222.1 342.2a1.2 .8 5 1 0-2.3-.2a1.2 .8 5 1 0 2.3 .2M228.4 341.8a1.6 .9 35 1 0-2.6-1.8a1.6 .9 35 1 0 2.6 1.8M270.2 340.9a1.6 1.3 5 1 0-3.1-.3a1.6 1.3 5 1 0 3.1 .3M288.8 342.1a1.2 .7 79 1 0-.4-2.4a1.2 .7 79 1 0 .4 2.4M211.2 344.3a1 .7 24 1 0-1.9-.8a1 .7 24 1 0 1.9 .8M231 346.2a1.7 1 140 1 0 2.7-2.2a1.7 1 140 1 0-2.7 2.2M234.7 344.6a1.9 1.5 155 1 0 3.4-1.6a1.9 1.5 155 1 0-3.4 1.6M254 346.6a1.1 .6 66 1 0-.9-2a1.1 .6 66 1 0 .9 2M271.1 346.4a1.9 1.4 72 1 0-1.1-3.5a1.9 1.4 72 1 0 1.1 3.5M289.2 347a1.2 .8 127 1 0 1.5-2a1.2 .8 127 1 0-1.5 2M218.3 349.8a1.6 1.2 21 1 0-3-1.2a1.6 1.2 21 1 0 3 1.2M230.1 350.5a1.3 1.1 155 1 0 2.4-1.1a1.3 1.1 155 1 0-2.4 1.1M235 348.8a1 .5 107 1 0 .6-2a1 .5 107 1 0-.6 2M241.6 350.6a1.4 1 107 1 0 .8-2.6a1.4 1 107 1 0-.8 2.6M245.1 349.1a1.2 .8 115 1 0 1-2.1a1.2 .8 115 1 0-1 2.1M202.9 353a1.9 1 142 1 0 3-2.3a1.9 1 142 1 0-3 2.3M211.8 352.5a1.1 .6 80 1 0-.4-2.1a1.1 .6 80 1 0 .4 2.1M230.1 352.5a1.2 .6 54 1 0-1.4-1.9a1.2 .6 54 1 0 1.4 1.9M234.9 351.6a1.8 1.2 179 1 0 3.6-.1a1.8 1.2 179 1 0-3.6 .1M243.8 354.9a1.2 .7 99 1 0 .4-2.5a1.2 .7 99 1 0-.4 2.5M258.8 354.4a1.1 .6 100 1 0 .4-2.1a1.1 .6 100 1 0-.4 2.1M261.2 353.7a1.4 1.1 163 1 0 2.7-.8a1.4 1.1 163 1 0-2.7 .8M276.4 351.9a1 .6 33 1 0-1.7-1.1a1 .6 33 1 0 1.7 1.1M278.6 353a1.5 .8 17 1 0-2.9-.9a1.5 .8 17 1 0 2.9 .9M283.3 354.3a1.4 1 27 1 0-2.5-1.3a1.4 1 27 1 0 2.5 1.3M223.4 357.5a1.4 1 160 1 0 2.7-1a1.4 1 160 1 0-2.7 1M237.8 357a1.5 1.2 68 1 0-1.2-2.9a1.5 1.2 68 1 0 1.2 2.9M243.7 355a1.6 1.3 19 1 0-3-1a1.6 1.3 19 1 0 3 1M247.5 356.1a1.4 1.1 87 1 0-.1-2.9a1.4 1.1 87 1 0 .1 2.9M257.6 358a1.6 1.4 141 1 0 2.5-2a1.6 1.4 141 1 0-2.5 2M213 359.8a1.5 1 151 1 0 2.7-1.5a1.5 1 151 1 0-2.7 1.5M219.7 361.1a1.7 1 96 1 0 .4-3.4a1.7 1 96 1 0-.4 3.4M228.4 361.8a1.5 1 104 1 0 .8-3a1.5 1 104 1 0-.8 3M240.2 360.3a1.4 1.2 114 1 0 1.2-2.6a1.4 1.2 114 1 0-1.2 2.6M247.3 358.7a1.1 .8 155 1 0 2-.9a1.1 .8 155 1 0-2 .9M253.5 359.5a1.3 .9 55 1 0-1.4-2.1a1.3 .9 55 1 0 1.4 2.1M259.7 358.5a1.2 .6 177 1 0 2.3-.1a1.2 .6 177 1 0-2.3 .1M285.6 360.7a1.6 1.2 166 1 0 3.1-.8a1.6 1.2 166 1 0-3.1 .8M214.6 363.4a1.6 .8 93 1 0 .2-3.2a1.6 .8 93 1 0-.2 3.2M223.8 363.1a1.7 1.3 178 1 0 3.4-.1a1.7 1.3 178 1 0-3.4 .1M229.2 365.6a1.7 .9 127 1 0 2-2.7a1.7 .9 127 1 0-2 2.7M233.1 362.3a1.1 .8 162 1 0 2.1-.7a1.1 .8 162 1 0-2.1 .7M263.1 366.1a1.8 1.1 67 1 0-1.4-3.3a1.8 1.1 67 1 0 1.4 3.3M269.3 363.9a1 .7 53 1 0-1.2-1.6a1 .7 53 1 0 1.2 1.6M273.9 366a1.7 .9 64 1 0-1.5-3a1.7 .9 64 1 0 1.5 3M207 368.2a1.6 .8 86 1 0-.2-3.1a1.6 .8 86 1 0 .2 3.1M220.9 369.7a1.6 1 97 1 0 .4-3.2a1.6 1 97 1 0-.4 3.2M230.4 367.3a1.7 1.4 7 1 0-3.3-.4a1.7 1.4 7 1 0 3.3 .4M241.8 368.9a1.7 1.4 24 1 0-3.1-1.4a1.7 1.4 24 1 0 3.1 1.4M248.7 369a1 .7 78 1 0-.4-2a1 .7 78 1 0 .4 2M253 368.8a1.3 .6 76 1 0-.7-2.5a1.3 .6 76 1 0 .7 2.5M266.4 367.6a1.1 .7 20 1 0-2.1-.8a1.1 .7 20 1 0 2.1 .8M282.5 367.2a1.3 .9 87 1 0-.1-2.5a1.3 .9 87 1 0 .1 2.5M287.8 367.9a1.3 1 11 1 0-2.6-.5a1.3 1 11 1 0 2.6 .5M215.3 371.5a1.3 1 6 1 0-2.5-.3a1.3 1 6 1 0 2.5 .3M220.8 370.2a1.1 .7 171 1 0 2.1-.3a1.1 .7 171 1 0-2.1 .3M239.1 371.7a1.1 .7 104 1 0 .5-2.1a1.1 .7 104 1 0-.5 2.1M248.6 369.8a1.2 .6 5 1 0-2.4-.2a1.2 .6 5 1 0 2.4 .2M265.2 371.8a1.7 .8 78 1 0-.7-3.2a1.7 .8 78 1 0 .7 3.2M269.7 370.4a1.7 .8 36 1 0-2.8-2a1.7 .8 36 1 0 2.8 2M288.2 371.8a1.3 .8 158 1 0 2.5-1a1.3 .8 158 1 0-2.5 1M202.3 376.8a1.6 1.2 65 1 0-1.4-3a1.6 1.2 65 1 0 1.4 3M250.9 375.6a1.7 1.3 7 1 0-3.5-.4a1.7 1.3 7 1 0 3.5 .4M251.2 374.8a1.4 1.2 142 1 0 2.2-1.7a1.4 1.2 142 1 0-2.2 1.7M258.7 376a1.5 1 45 1 0-2.2-2.2a1.5 1 45 1 0 2.2 2.2M264.1 375.2a1.9 1.6 30 1 0-3.3-1.9a1.9 1.6 30 1 0 3.3 1.9M271.6 374a1.8 1.3 141 1 0 2.9-2.3a1.8 1.3 141 1 0-2.9 2.3M284.4 376.1a1.8 .9 67 1 0-1.4-3.4a1.8 .9 67 1 0 1.4 3.4M286 374.2a1.4 .7 159 1 0 2.7-1a1.4 .7 159 1 0-2.7 1M207.2 378.5a1.7 1.1 42 1 0-2.6-2.3a1.7 1.1 42 1 0 2.6 2.3M219.6 380.3a1.7 1.2 59 1 0-1.8-2.9a1.7 1.2 59 1 0 1.8 2.9M225.5 378.6a1.6 1.3 163 1 0 3-.9a1.6 1.3 163 1 0-3 .9M241.7 379.4a1.3 .8 85 1 0-.2-2.6a1.3 .8 85 1 0 .2 2.6M255.1 377.5a1.3 1 31 1 0-2.1-1.3a1.3 1 31 1 0 2.1 1.3M290.4 376.5a1.4 .9 2 1 0-2.8-.1a1.4 .9 2 1 0 2.8 .1M237.2 383.2a1.6 1 73 1 0-1-3.1a1.6 1 73 1 0 1 3.1M242.1 382.4a1.7 1.2 32 1 0-3-1.8a1.7 1.2 32 1 0 3 1.8M252.9 383.4a1 .5 77 1 0-.5-2a1 .5 77 1 0 .5 2M264.8 383.2a1.2 .6 80 1 0-.4-2.4a1.2 .6 80 1 0 .4 2.4M268 381.1a1.5 1.2 150 1 0 2.6-1.5a1.5 1.2 150 1 0-2.6 1.5M276.2 382.1a1.7 1 20 1 0-3.2-1.1a1.7 1 20 1 0 3.2 1.1M287.5 383a1.1 .6 88 1 0-.1-2.3a1.1 .6 88 1 0 .1 2.3M290.9 384.1a1.5 .7 50 1 0-2-2.3a1.5 .7 50 1 0 2 2.3M205.3 384.6a1.4 1.1 1 1 0-2.9-.1a1.4 1.1 1 1 0 2.9 .1M209.4 387.4a1.2 .6 134 1 0 1.7-1.7a1.2 .6 134 1 0-1.7 1.7M212 384.4a1.1 .7 145 1 0 1.8-1.3a1.1 .7 145 1 0-1.8 1.3M236.8 385.7a1.5 1 174 1 0 2.9-.3a1.5 1 174 1 0-2.9 .3M243.5 385.9a1.9 1.5 38 1 0-2.9-2.3a1.9 1.5 38 1 0 2.9 2.3M246.2 386.7a1 .5 97 1 0 .3-2.1a1 .5 97 1 0-.3 2.1M262.5 387a1.5 .8 135 1 0 2.1-2.1a1.5 .8 135 1 0-2.1 2.1M265.3 386.1a1.8 .8 135 1 0 2.5-2.5a1.8 .8 135 1 0-2.5 2.5M273 385.5a1.4 1 107 1 0 .8-2.6a1.4 1 107 1 0-.8 2.6M288 387a1.8 1 162 1 0 3.4-1.1a1.8 1 162 1 0-3.4 1.1M204.8 389.2a1.7 1 44 1 0-2.5-2.4a1.7 1 44 1 0 2.5 2.4M211.9 389.7a1.6 .8 121 1 0 1.7-2.8a1.6 .8 121 1 0-1.7 2.8M214.1 390.8a1.3 .6 147 1 0 2.2-1.4a1.3 .6 147 1 0-2.2 1.4M222.7 391a1.6 1.3 85 1 0-.3-3.1a1.6 1.3 85 1 0 .3 3.1M228.4 391.5a1.4 1 71 1 0-.9-2.6a1.4 1 71 1 0 .9 2.6M238 391.7a1.9 1.3 47 1 0-2.6-2.8a1.9 1.3 47 1 0 2.6 2.8M246.1 390.7a1.7 1.3 75 1 0-.9-3.3a1.7 1.3 75 1 0 .9 3.3M251.2 388.8a1.9 .9 153 1 0 3.3-1.7a1.9 .9 153 1 0-3.3 1.7M261.2 388.8a1.5 .8 145 1 0 2.5-1.7a1.5 .8 145 1 0-2.5 1.7M273.3 388.3a1.3 .8 138 1 0 2-1.8a1.3 .8 138 1 0-2 1.8M283.3 391.3a1.9 .9 31 1 0-3.2-2a1.9 .9 31 1 0 3.2 2M199.9 393.1a1.3 .6 132 1 0 1.7-1.9a1.3 .6 132 1 0-1.7 1.9M207 394.6a1.6 .7 123 1 0 1.8-2.7a1.6 .7 123 1 0-1.8 2.7M214 393.5a1 .6 66 1 0-.8-1.9a1 .6 66 1 0 .8 1.9M217 393.2a1.6 .9 132 1 0 2.2-2.4a1.6 .9 132 1 0-2.2 2.4M222.7 393.4a1.4 1.1 48 1 0-1.8-2.1a1.4 1.1 48 1 0 1.8 2.1M236.6 392.9a1.1 .7 8 1 0-2.1-.3a1.1 .7 8 1 0 2.1 .3M278.1 392.6a1.1 .8 49 1 0-1.4-1.6a1.1 .8 49 1 0 1.4 1.6M211.2 398.2a1.1 .7 86 1 0-.1-2.1a1.1 .7 86 1 0 .1 2.1M218.9 395.9a1.3 .8 74 1 0-.7-2.4a1.3 .8 74 1 0 .7 2.4M233.3 397.8a1.6 .9 33 1 0-2.6-1.7a1.6 .9 33 1 0 2.6 1.7M240.6 397.8a1 .8 110 1 0 .7-2a1 .8 110 1 0-.7 2M246.2 396.6a1.3 .9 49 1 0-1.6-1.9a1.3 .9 49 1 0 1.6 1.9M249.6 397.4a1.6 1.3 117 1 0 1.5-2.9a1.6 1.3 117 1 0-1.5 2.9M252 395.5a1.3 1 155 1 0 2.3-1.1a1.3 1 155 1 0-2.3 1.1M272.8 398.9a1.5 .9 119 1 0 1.5-2.6a1.5 .9 119 1 0-1.5 2.6M290.5 397.4a1.6 .8 123 1 0 1.7-2.7a1.6 .8 123 1 0-1.7 2.7M201.3 401.2a1.3 .7 8 1 0-2.6-.4a1.3 .7 8 1 0 2.6 .4M215.7 402.4a1.9 1.5 128 1 0 2.3-3a1.9 1.5 128 1 0-2.3 3M222.4 400.8a1.7 1.1 103 1 0 .8-3.4a1.7 1.1 103 1 0-.8 3.4M235.1 401.3a1.2 .8 121 1 0 1.3-2.1a1.2 .8 121 1 0-1.3 2.1M244 401.6a1.5 1.1 95 1 0 .3-2.9a1.5 1.1 95 1 0-.3 2.9M286.7 400.4a1.1 .8 141 1 0 1.7-1.4a1.1 .8 141 1 0-1.7 1.4M211.9 404.9a1.5 1.3 39 1 0-2.3-1.9a1.5 1.3 39 1 0 2.3 1.9M227.6 403.7a1 .5 19 1 0-1.9-.7a1 .5 19 1 0 1.9 .7M247.1 403a1.2 1 176 1 0 2.4-.1a1.2 1 176 1 0-2.4 .1M272.8 402.7a1.3 .6 145 1 0 2.1-1.5a1.3 .6 145 1 0-2.1 1.5M288.1 405.4a1.8 1.1 41 1 0-2.7-2.4a1.8 1.1 41 1 0 2.7 2.4M199.6 409a1.5 1.2 81 1 0-.5-3a1.5 1.2 81 1 0 .5 3M229.9 409.6a1.4 .7 133 1 0 2-2.1a1.4 .7 133 1 0-2 2.1M243.2 406.4a1.2 .6 20 1 0-2.2-.8a1.2 .6 20 1 0 2.2 .8M246.3 407.4a1.3 .8 132 1 0 1.7-1.9a1.3 .8 132 1 0-1.7 1.9M250.6 408.3a1.6 .8 141 1 0 2.5-2a1.6 .8 141 1 0-2.5 2M263 409.8a1.5 1.1 83 1 0-.4-3a1.5 1.1 83 1 0 .4 3M268.8 408.8a1.2 .7 32 1 0-2-1.3a1.2 .7 32 1 0 2 1.3M273.7 407.2a1.3 1.1 21 1 0-2.4-.9a1.3 1.1 21 1 0 2.4 .9M285.4 407.2a1.7 1.3 67 1 0-1.3-3.1a1.7 1.3 67 1 0 1.3 3.1M215.6 410.4a1.4 .8 43 1 0-2-1.9a1.4 .8 43 1 0 2 1.9M257.1 412.8a1.2 .8 50 1 0-1.6-1.9a1.2 .8 50 1 0 1.6 1.9M266.8 411.4a1.9 1.1 20 1 0-3.5-1.3a1.9 1.1 20 1 0 3.5 1.3M269.8 412.6a1.4 .8 153 1 0 2.6-1.3a1.4 .8 153 1 0-2.6 1.3M206.7 414.2a1.3 1.1 49 1 0-1.7-2a1.3 1.1 49 1 0 1.7 2M207.5 413.4a1.6 .8 174 1 0 3.2-.3a1.6 .8 174 1 0-3.2 .3M210.7 414a1.7 1.1 163 1 0 3.2-1a1.7 1.1 163 1 0-3.2 1M218.4 416.6a1.8 1.1 86 1 0-.3-3.7a1.8 1.1 86 1 0 .3 3.7M225.2 415.8a1.5 1.2 102 1 0 .6-2.9a1.5 1.2 102 1 0-.6 2.9M238.9 415.6a1.2 .8 12 1 0-2.4-.5a1.2 .8 12 1 0 2.4 .5M266.1 415.2a1.7 1.3 176 1 0 3.4-.2a1.7 1.3 176 1 0-3.4 .2M269.9 416a1.8 1.5 155 1 0 3.3-1.5a1.8 1.5 155 1 0-3.3 1.5M275.1 416.9a1.8 1.4 100 1 0 .6-3.6a1.8 1.4 100 1 0-.6 3.6M279.5 414.1a1.3 .9 172 1 0 2.6-.4a1.3 .9 172 1 0-2.6 .4M207.2 419.9a1.4 1.2 48 1 0-1.9-2.1a1.4 1.2 48 1 0 1.9 2.1M210.4 419.1a1.3 1.1 115 1 0 1.1-2.3a1.3 1.1 115 1 0-1.1 2.3M223.8 418.6a1.5 1 123 1 0 1.7-2.6a1.5 1 123 1 0-1.7 2.6M232.5 418.7a1 .8 23 1 0-1.9-.8a1 .8 23 1 0 1.9 .8M234.3 418a1.3 .7 168 1 0 2.5-.5a1.3 .7 168 1 0-2.5 .5M243.2 418a1.4 1.1 151 1 0 2.5-1.4a1.4 1.1 151 1 0-2.5 1.4M206.3 423.3a1.3 .7 39 1 0-2-1.6a1.3 .7 39 1 0 2 1.6M210 422.6a1.6 1 47 1 0-2.2-2.3a1.6 1 47 1 0 2.2 2.3M229.6 422.6a1.1 .9 75 1 0-.6-2.2a1.1 .9 75 1 0 .6 2.2M238.7 423.1a1.6 1 1 1 0-3.1-.1a1.6 1 1 1 0 3.1 .1M243 420.8a1.3 .8 166 1 0 2.5-.6a1.3 .8 166 1 0-2.5 .6M263.7 422.2a1.6 .8 47 1 0-2.2-2.4a1.6 .8 47 1 0 2.2 2.4M268.9 423.2a1.4 .7 101 1 0 .5-2.8a1.4 .7 101 1 0-.5 2.8M277.1 423.3a1.3 .7 46 1 0-1.8-1.8a1.3 .7 46 1 0 1.8 1.8M205.5 427a1.3 .9 97 1 0 .3-2.6a1.3 .9 97 1 0-.3 2.6M217.3 425.2a1.6 .8 169 1 0 3.2-.6a1.6 .8 169 1 0-3.2 .6M224.2 428.1a1.8 1.3 73 1 0-1-3.4a1.8 1.3 73 1 0 1 3.4M225.8 426.5a1.3 .9 172 1 0 2.5-.4a1.3 .9 172 1 0-2.5 .4M246.8 425.9a1.3 1 68 1 0-.9-2.4a1.3 1 68 1 0 .9 2.4M253.7 425.3a1.9 1.5 14 1 0-3.7-.9a1.9 1.5 14 1 0 3.7 .9M261.7 426.1a1.3 1.1 39 1 0-2-1.6a1.3 1.1 39 1 0 2 1.6M198 430.7a1.9 .9 156 1 0 3.4-1.5a1.9 .9 156 1 0-3.4 1.5M211.8 428.7a1.5 1.2 163 1 0 2.9-.9a1.5 1.2 163 1 0-2.9 .9M226.1 429.2a1.7 .9 45 1 0-2.5-2.5a1.7 .9 45 1 0 2.5 2.5M247.3 428.1a1.1 .6 157 1 0 2-.9a1.1 .6 157 1 0-2 .9M251.2 429.5a1.6 .9 128 1 0 2-2.5a1.6 .9 128 1 0-2 2.5M262.9 430.7a1.3 .7 158 1 0 2.4-.9a1.3 .7 158 1 0-2.4 .9M275.6 429.3a1.6 1.3 134 1 0 2.3-2.3a1.6 1.3 134 1 0-2.3 2.3M284 431.4a1.8 .9 95 1 0 .3-3.6a1.8 .9 95 1 0-.3 3.6M286.8 428.4a1.4 .9 179 1 0 2.7-0a1.4 .9 179 1 0-2.7 0M200.7 432.5a1.8 .8 165 1 0 3.4-.9a1.8 .8 165 1 0-3.4 .9M210.3 431.7a1.8 1.4 172 1 0 3.5-.5a1.8 1.4 172 1 0-3.5 .5M254.1 435.1a1.1 .9 58 1 0-1.2-1.9a1.1 .9 58 1 0 1.2 1.9M261.8 435.4a1.8 1.3 81 1 0-.5-3.5a1.8 1.3 81 1 0 .5 3.5M265.4 434.4a1.7 1.3 92 1 0 .2-3.5a1.7 1.3 92 1 0-.2 3.5M285.2 433.8a1.5 .8 33 1 0-2.6-1.7a1.5 .8 33 1 0 2.6 1.7M288.2 432.8a1.4 1.1 4 1 0-2.7-.2a1.4 1.1 4 1 0 2.7 .2M232.1 436.4a1.6 1.2 32 1 0-2.6-1.6a1.6 1.2 32 1 0 2.6 1.6M235 438a1.8 1.1 94 1 0 .3-3.5a1.8 1.1 94 1 0-.3 3.5M245.9 439.1a1.7 1.2 126 1 0 2-2.8a1.7 1.2 126 1 0-2 2.8M258.2 436.2a1.1 .5 155 1 0 2.1-.9a1.1 .5 155 1 0-2.1 .9M265.2 436.8a1.4 1.1 166 1 0 2.7-.7a1.4 1.1 166 1 0-2.7 .7M275.9 435.2a1.1 .8 160 1 0 2-.7a1.1 .8 160 1 0-2 .7M280.9 435.9a1.1 .8 23 1 0-2-.9a1.1 .8 23 1 0 2 .9M219.4 441.4a1.7 1.2 171 1 0 3.4-.6a1.7 1.2 171 1 0-3.4 .6M231.5 442.9a1.7 1.2 106 1 0 .9-3.3a1.7 1.2 106 1 0-.9 3.3M237.4 440.2a1.2 .8 93 1 0 .1-2.5a1.2 .8 93 1 0-.1 2.5M248.5 441.5a1.8 .9 75 1 0-.9-3.5a1.8 .9 75 1 0 .9 3.5M255.9 439.2a1.5 1.3 1 1 0-3-0a1.5 1.3 1 1 0 3 0M262.4 440.1a1.7 .9 32 1 0-2.9-1.8a1.7 .9 32 1 0 2.9 1.8M275.3 441.2a1.1 .6 1 1 0-2.3-.1a1.1 .6 1 1 0 2.3 .1M277 442.4a1.9 1.4 92 1 0 .1-3.8a1.9 1.4 92 1 0-.1 3.8M201.8 445.8a1.6 1 38 1 0-2.5-1.9a1.6 1 38 1 0 2.5 1.9M204.8 444.3a1.4 1.2 33 1 0-2.4-1.6a1.4 1.2 33 1 0 2.4 1.6M207.8 442.8a1.2 .6 173 1 0 2.4-.3a1.2 .6 173 1 0-2.4 .3M214.9 446a1.6 1 74 1 0-.9-3.1a1.6 1 74 1 0 .9 3.1M220.4 445.3a1.1 .6 104 1 0 .5-2.1a1.1 .6 104 1 0-.5 2.1M251.2 443.5a1.2 .9 111 1 0 .9-2.3a1.2 .9 111 1 0-.9 2.3M265.8 445.6a1 .7 134 1 0 1.5-1.5a1 .7 134 1 0-1.5 1.5M287.3 444.1a1.7 1 37 1 0-2.8-2.1a1.7 1 37 1 0 2.8 2.1M262 446.8a1.2 .9 142 1 0 1.8-1.4a1.2 .9 142 1 0-1.8 1.4M274.4 447.6a1.2 .8 134 1 0 1.6-1.7a1.2 .8 134 1 0-1.6 1.7M280.1 449.4a1.1 .7 51 1 0-1.4-1.7a1.1 .7 51 1 0 1.4 1.7M205.2 451.3a1 .5 81 1 0-.3-2a1 .5 81 1 0 .3 2M212.9 450.6a1.3 .8 49 1 0-1.6-1.9a1.3 .8 49 1 0 1.6 1.9M218.4 453.2a1.8 1.1 74 1 0-1-3.5a1.8 1.1 74 1 0 1 3.5M220.9 450.5a1.4 1.1 164 1 0 2.7-.8a1.4 1.1 164 1 0-2.7 .8M226.9 451.4a1.8 .8 64 1 0-1.6-3.1a1.8 .8 64 1 0 1.6 3.1M229.9 450.3a1.1 .9 130 1 0 1.4-1.7a1.1 .9 130 1 0-1.4 1.7M236.3 453.2a1.4 1.1 50 1 0-1.8-2.1a1.4 1.1 50 1 0 1.8 2.1M240.3 452.9a1.5 1.2 73 1 0-.9-3a1.5 1.2 73 1 0 .9 3M274.3 452.3a1.5 .8 48 1 0-2-2.2a1.5 .8 48 1 0 2 2.2M275.2 451.9a1.7 .9 124 1 0 1.9-2.8a1.7 .9 124 1 0-1.9 2.8M289.6 451.8a1.4 1 20 1 0-2.7-1a1.4 1 20 1 0 2.7 1"/>
</g></g>
<text x="315.9" y="306" font-size="11.2" font-weight="bold">F</text>
<line x1="350.10" y1="312.2" x2="350.10" y2="428.10" stroke="#1a1a1a" stroke-width="1.1"/>
<line x1="347.10" y1="428.10" x2="350.10" y2="428.10" stroke="#1a1a1a" stroke-width="0.9"/>
<line x1="348.10" y1="417.11" x2="350.10" y2="417.11" stroke="#1a1a1a" stroke-width="0.9"/>
<line x1="348.10" y1="406.12" x2="350.10" y2="406.12" stroke="#1a1a1a" stroke-width="0.9"/>
<line x1="348.10" y1="395.13" x2="350.10" y2="395.13" stroke="#1a1a1a" stroke-width="0.9"/>
<line x1="348.10" y1="384.14" x2="350.10" y2="384.14" stroke="#1a1a1a" stroke-width="0.9"/>
<line x1="347.10" y1="373.15" x2="350.10" y2="373.15" stroke="#1a1a1a" stroke-width="0.9"/>
<line x1="348.10" y1="362.16" x2="350.10" y2="362.16" stroke="#1a1a1a" stroke-width="0.9"/>
<line x1="348.10" y1="351.17" x2="350.10" y2="351.17" stroke="#1a1a1a" stroke-width="0.9"/>
<line x1="348.10" y1="340.18" x2="350.10" y2="340.18" stroke="#1a1a1a" stroke-width="0.9"/>
<line x1="348.10" y1="329.19" x2="350.10" y2="329.19" stroke="#1a1a1a" stroke-width="0.9"/>
<line x1="347.10" y1="318.20" x2="350.10" y2="318.20" stroke="#1a1a1a" stroke-width="0.9"/>
<text x="342.90" y="430.80" font-size="7.8" text-anchor="end" fill="#1a1a1a">0</text>
<text x="342.90" y="375.85" font-size="7.8" text-anchor="end" fill="#1a1a1a">50</text>
<text x="342.90" y="320.90" font-size="7.8" text-anchor="end" fill="#1a1a1a">100</text>
<text transform="translate(324.6,370.3) rotate(-90)" font-size="9" style="stroke-width:0.4px" text-anchor="middle" textLength="56" lengthAdjust="spacingAndGlyphs" fill="#1a1a1a">Overall survival (%)</text>
<line x1="348.60" y1="428.10" x2="520" y2="428.10" stroke="#1a1a1a" stroke-width="1.2"/>
<line x1="350.10" y1="428.10" x2="350.10" y2="430.30" stroke="#1a1a1a" stroke-width="0.9"/>
<line x1="363.83" y1="428.10" x2="363.83" y2="430.30" stroke="#1a1a1a" stroke-width="0.9"/>
<line x1="377.56" y1="428.10" x2="377.56" y2="430.30" stroke="#1a1a1a" stroke-width="0.9"/>
<line x1="391.29" y1="428.10" x2="391.29" y2="430.30" stroke="#1a1a1a" stroke-width="0.9"/>
<line x1="405.02" y1="428.10" x2="405.02" y2="430.30" stroke="#1a1a1a" stroke-width="0.9"/>
<line x1="418.75" y1="428.10" x2="418.75" y2="430.30" stroke="#1a1a1a" stroke-width="0.9"/>
<line x1="432.48" y1="428.10" x2="432.48" y2="430.30" stroke="#1a1a1a" stroke-width="0.9"/>
<line x1="446.21" y1="428.10" x2="446.21" y2="430.30" stroke="#1a1a1a" stroke-width="0.9"/>
<line x1="459.94" y1="428.10" x2="459.94" y2="430.30" stroke="#1a1a1a" stroke-width="0.9"/>
<line x1="473.67" y1="428.10" x2="473.67" y2="430.30" stroke="#1a1a1a" stroke-width="0.9"/>
<line x1="487.40" y1="428.10" x2="487.40" y2="430.30" stroke="#1a1a1a" stroke-width="0.9"/>
<line x1="501.13" y1="428.10" x2="501.13" y2="430.30" stroke="#1a1a1a" stroke-width="0.9"/>
<line x1="514.86" y1="428.10" x2="514.86" y2="430.30" stroke="#1a1a1a" stroke-width="0.9"/>
<text x="350.10" y="440" font-size="7" text-anchor="middle" fill="#222">0</text>
<text x="418.75" y="440" font-size="7" text-anchor="middle" fill="#222">60</text>
<text x="487.40" y="440" font-size="7" text-anchor="middle" fill="#222">120</text>
<text x="417.8" y="453.2" font-size="8.8" style="stroke-width:0.4px" textLength="34" lengthAdjust="spacingAndGlyphs" fill="#1a1a1a">OS (month)</text>
<text x="478.6" y="414.9" font-size="7.6" fill="#1a1a1a"><tspan font-style="italic">P</tspan> &lt; 0.001</text>
<line x1="452" y1="316.1" x2="461.2" y2="316.1" stroke="#24496b" stroke-width="1.3"/>
<line x1="452" y1="328.1" x2="461.2" y2="328.1" stroke="#c0203f" stroke-width="1.3"/>
<text x="464.3" y="318.8" font-size="7.3" fill="#222"><tspan font-style="italic">BCOR</tspan> mutation–</text>
<text x="464.3" y="330.8" font-size="7.3" fill="#222"><tspan font-style="italic">BCOR</tspan> mutation+</text>
<path d="M350.50,318.20 V351.6 H357 V402.6 H358.2 V428.10" fill="none" stroke="#c41f40" stroke-width="1.35"/>
<path d="M350.10,318.20 H351 V320 H352 V322 H353 V324.5 H353.8 V327 H354.6 V329 H355 V335.5 H355.4 V342.3 H362.5 V346.5 H363.6 V348.5 H364.6 V351.0 H386.3 V353.9 H397.9 V357.3 H399.3 V360.7 H401.3 V363.4 H403.2 V365.2 H508.5" fill="none" stroke="#1c3d5e" stroke-width="1.4"/>
<line x1="358.70" y1="339.90" x2="358.70" y2="343.10" stroke="#15253a" stroke-width="1.1"/>
<line x1="369.10" y1="348.60" x2="369.10" y2="351.80" stroke="#15253a" stroke-width="1.1"/>
<line x1="375.00" y1="348.60" x2="375.00" y2="351.80" stroke="#15253a" stroke-width="1.1"/>
<line x1="387.50" y1="351.50" x2="387.50" y2="354.70" stroke="#15253a" stroke-width="1.1"/>
<line x1="391.60" y1="351.50" x2="391.60" y2="354.70" stroke="#15253a" stroke-width="1.1"/>
<line x1="393.60" y1="351.50" x2="393.60" y2="354.70" stroke="#15253a" stroke-width="1.1"/>
<line x1="396.00" y1="351.50" x2="396.00" y2="354.70" stroke="#15253a" stroke-width="1.1"/>
<line x1="405.60" y1="362.80" x2="405.60" y2="366.00" stroke="#15253a" stroke-width="1.1"/>
<line x1="408.30" y1="362.80" x2="408.30" y2="366.00" stroke="#15253a" stroke-width="1.1"/>
<line x1="410.50" y1="362.80" x2="410.50" y2="366.00" stroke="#15253a" stroke-width="1.1"/>
<line x1="412.30" y1="362.80" x2="412.30" y2="366.00" stroke="#15253a" stroke-width="1.1"/>
<line x1="418.00" y1="362.80" x2="418.00" y2="366.00" stroke="#15253a" stroke-width="1.1"/>
<line x1="421.50" y1="362.80" x2="421.50" y2="366.00" stroke="#15253a" stroke-width="1.1"/>
<line x1="425.00" y1="362.80" x2="425.00" y2="366.00" stroke="#15253a" stroke-width="1.1"/>
<line x1="435.40" y1="362.80" x2="435.40" y2="366.00" stroke="#15253a" stroke-width="1.1"/>
<line x1="450.40" y1="362.80" x2="450.40" y2="366.00" stroke="#15253a" stroke-width="1.1"/>
<line x1="457.30" y1="362.80" x2="457.30" y2="366.00" stroke="#15253a" stroke-width="1.1"/>
<line x1="460.80" y1="362.80" x2="460.80" y2="366.00" stroke="#15253a" stroke-width="1.1"/>
<line x1="464.20" y1="362.80" x2="464.20" y2="366.00" stroke="#15253a" stroke-width="1.1"/>
<line x1="483.90" y1="362.80" x2="483.90" y2="366.00" stroke="#15253a" stroke-width="1.1"/>
<line x1="508.30" y1="362.80" x2="508.30" y2="366.00" stroke="#15253a" stroke-width="1.1"/>
</svg>
</body></html>
